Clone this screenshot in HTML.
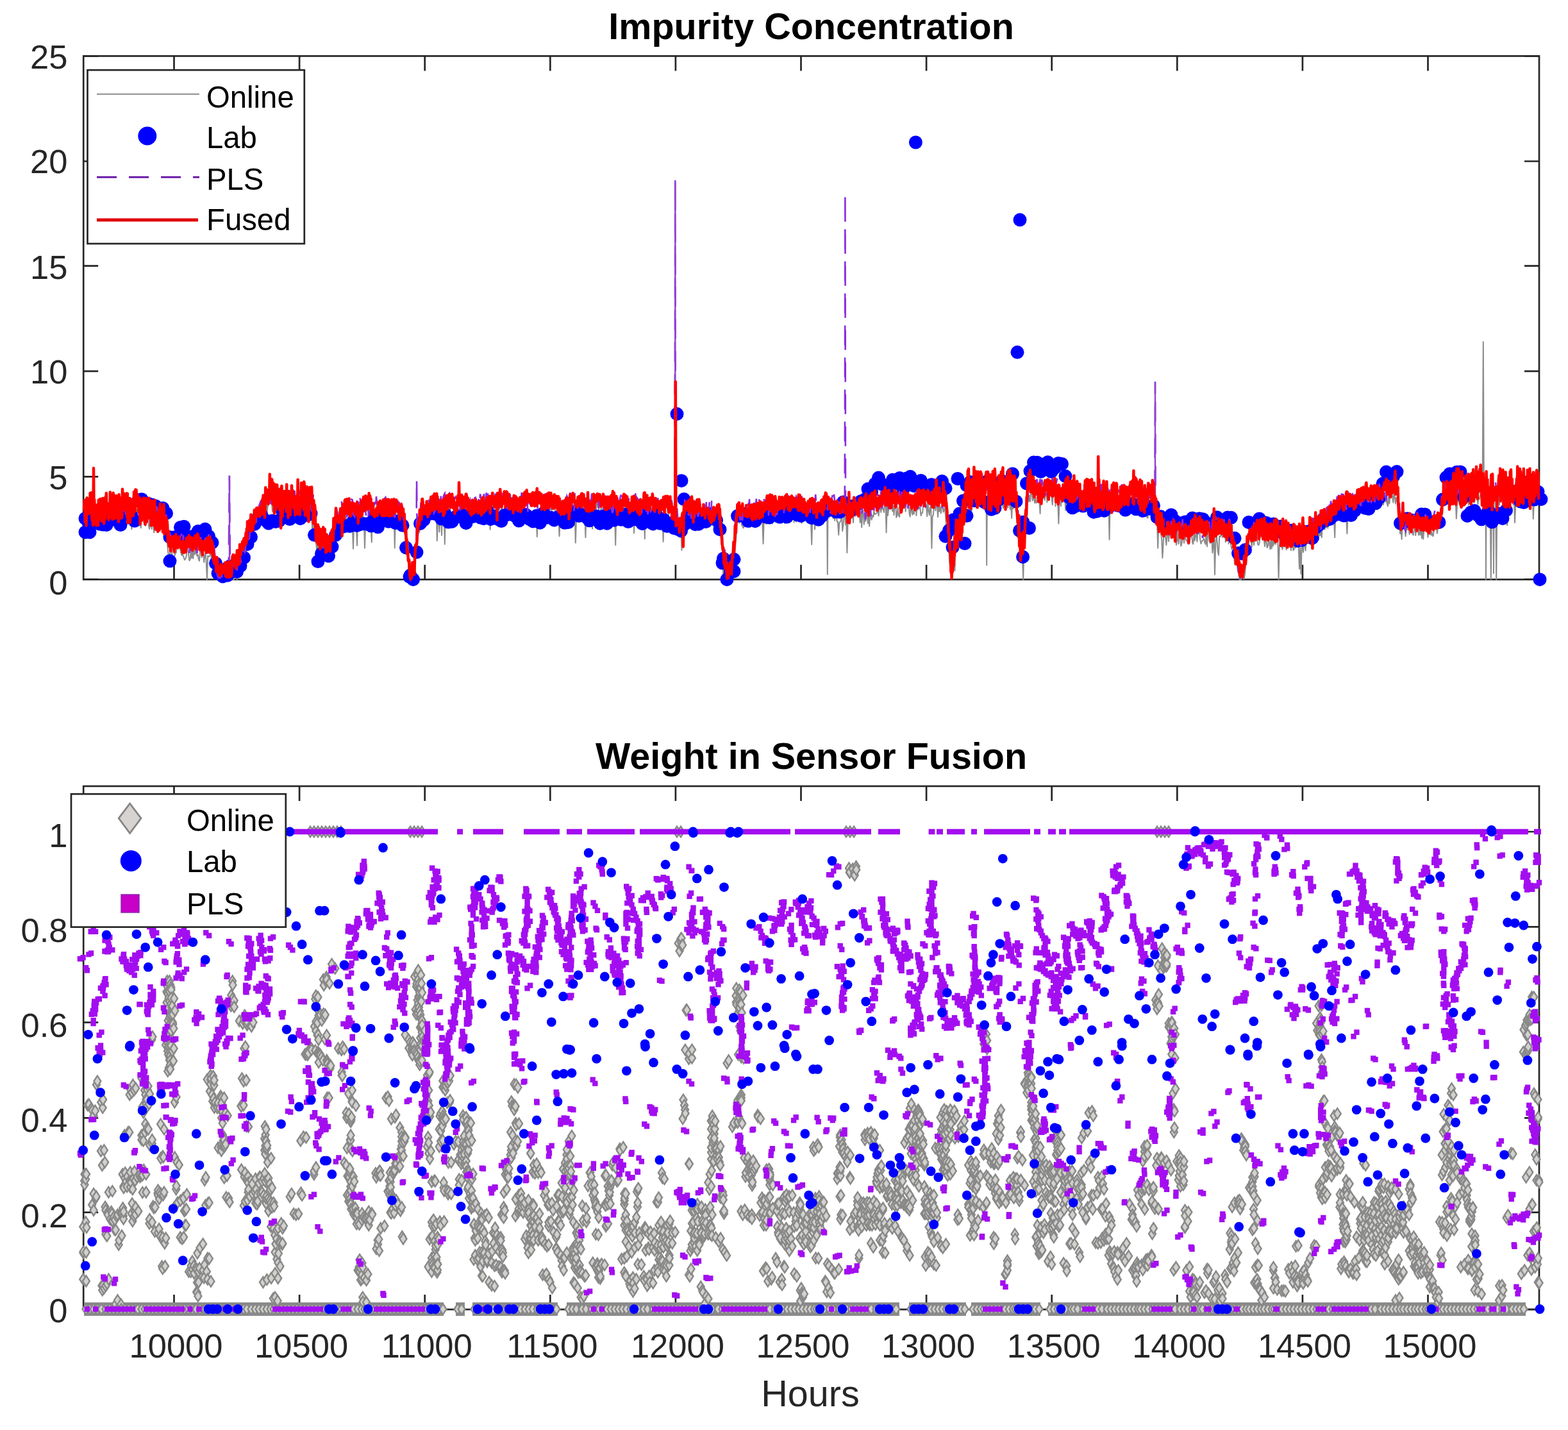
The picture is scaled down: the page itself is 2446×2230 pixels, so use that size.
<!DOCTYPE html>
<html><head><meta charset="utf-8"><title>Impurity Concentration</title>
<style>html,body{margin:0;padding:0;background:#fff;width:2446px;height:2230px;overflow:hidden}</style></head>
<body>
<svg width="2446" height="2230" viewBox="0 0 2446 2230" style="display:block;font-family:'Liberation Sans',Arial,Helvetica,sans-serif">
<rect width="2446" height="2230" fill="#fff"/>
<path d="M271.5 903.7v-23M271.5 87.4v23M467.1 903.7v-23M467.1 87.4v23M662.7 903.7v-23M662.7 87.4v23M858.3 903.7v-23M858.3 87.4v23M1053.9 903.7v-23M1053.9 87.4v23M1249.5 903.7v-23M1249.5 87.4v23M1445.1 903.7v-23M1445.1 87.4v23M1640.7 903.7v-23M1640.7 87.4v23M1836.3 903.7v-23M1836.3 87.4v23M2031.9 903.7v-23M2031.9 87.4v23M2227.5 903.7v-23M2227.5 87.4v23M130.2 903.7h23M2401.0 903.7h-23M130.2 743.3h23M2401.0 743.3h-23M130.2 578.9h23M2401.0 578.9h-23M130.2 414.6h23M2401.0 414.6h-23M130.2 251.5h23M2401.0 251.5h-23M130.2 87.4h23M2401.0 87.4h-23" stroke="#262626" stroke-width="2.7" fill="none"/>
<rect x="130.2" y="87.4" width="2270.8" height="816.3" fill="none" stroke="#262626" stroke-width="2.7"/>
<defs><clipPath id="ct"><rect x="100" y="87.4" width="2346" height="840"/></clipPath></defs>
<g clip-path="url(#ct)">
<polyline points="131.0,817.8 132.2,818.4 133.4,814.8 134.6,808.1 135.8,830.1 137.0,801.9 138.2,806.2 139.4,815.7 140.6,817.1 141.8,814.6 143.0,810.2 144.2,801.2 145.4,810.4 146.0,812.8 146.6,822.2 147.8,811.0 149.0,793.0 150.2,811.2 151.4,815.3 152.6,805.6 153.8,814.6 155.0,799.1 156.2,817.8 157.4,795.7 158.6,791.1 159.8,793.8 161.0,800.9 162.2,808.7 163.4,816.2 164.6,809.9 165.8,796.0 167.0,814.8 168.2,813.2 169.4,793.0 170.6,806.5 171.8,801.4 173.0,817.7 174.2,800.9 175.4,790.5 176.6,789.3 177.8,811.7 179.0,798.8 180.2,803.4 181.4,791.5 182.6,807.0 183.8,816.9 185.0,807.4 186.2,793.7 187.4,814.1 188.6,817.3 189.8,824.6 191.0,806.3 192.2,807.5 193.4,798.6 194.6,793.9 195.8,813.5 197.0,795.1 198.2,795.8 199.4,797.7 200.6,795.1 201.8,796.9 203.0,813.5 204.2,806.2 205.4,825.3 206.6,791.6 207.8,800.3 209.0,795.3 210.2,817.4 211.4,820.7 212.6,815.5 213.8,794.5 215.0,808.9 216.2,813.9 217.4,802.9 218.6,815.4 219.8,823.2 221.0,798.7 222.2,802.1 223.4,802.7 224.6,814.7 225.8,813.6 227.0,819.9 228.2,817.0 229.4,806.0 230.6,804.7 231.8,819.0 233.0,824.9 234.2,815.5 235.4,811.0 236.6,824.9 237.8,804.7 239.0,818.1 240.2,830.5 241.4,816.4 242.6,827.3 243.8,806.1 245.0,828.9 246.2,810.8 247.4,811.2 248.6,825.0 249.8,817.8 251.0,820.3 252.2,812.3 253.4,827.9 254.6,830.4 255.8,817.2 257.0,826.3 258.2,830.4 259.4,833.3 260.6,838.5 261.8,857.5 263.0,867.4 264.2,873.0 265.4,855.4 266.6,846.6 267.8,868.1 269.0,856.3 270.2,857.7 271.4,847.6 272.6,866.2 273.8,862.3 275.0,861.5 276.2,848.9 277.4,851.7 278.6,854.0 279.8,849.4 281.0,857.0 282.2,861.4 283.4,866.0 284.6,863.5 285.8,867.0 287.0,870.3 288.2,873.2 289.4,871.0 290.6,867.9 291.8,852.4 293.0,852.9 294.2,866.2 295.4,874.2 296.6,872.4 297.8,857.3 299.0,870.3 300.2,861.0 301.4,870.9 302.6,851.7 303.8,864.6 305.0,856.5 306.2,862.9 307.4,866.8 308.6,864.8 309.8,871.7 311.0,874.8 312.2,858.0 313.4,849.0 314.6,869.3 315.8,858.7 317.0,856.8 318.2,876.8 319.4,865.9 320.6,862.3 321.8,877.4 323.0,903.6 324.2,866.8 325.4,868.1 326.6,867.4 327.8,865.4 329.0,860.5 330.2,878.8 331.4,878.6 332.6,888.2 333.8,876.5 335.0,888.8 336.2,900.9 337.4,892.7 338.6,903.7 339.8,903.7 341.0,903.7 342.2,902.3 343.4,903.7 344.6,897.4 345.8,902.0 347.0,894.3 348.2,898.6 349.4,900.0 350.6,903.7 351.8,900.3 353.0,891.9 354.2,895.3 355.4,903.7 356.6,903.7 357.8,903.7 359.0,888.9 360.2,898.4 361.4,903.7 362.6,903.7 363.8,903.7 365.0,903.7 366.2,894.9 367.4,883.2 368.6,893.1 369.8,903.7 371.0,881.8 372.2,900.3 373.4,893.2 374.6,894.6 375.8,889.2 377.0,872.8 378.2,888.6 379.4,882.3 380.6,877.0 381.8,850.5 383.0,865.9 384.2,867.4 385.4,846.7 386.6,842.7 387.8,828.0 389.0,840.0 390.2,843.7 391.4,841.3 392.6,845.3 393.8,828.7 395.0,825.6 396.2,817.6 397.4,808.0 398.6,806.2 399.8,809.9 401.0,817.3 402.2,799.0 403.4,799.1 404.6,807.4 405.8,811.1 407.0,798.1 408.2,808.4 409.4,793.6 410.6,792.2 411.8,807.2 413.0,799.8 414.2,799.8 415.4,781.3 416.6,798.0 417.8,788.9 419.0,786.9 420.2,782.7 421.4,785.3 422.6,778.7 423.8,780.6 425.0,797.8 426.2,781.9 427.4,776.4 428.6,791.5 429.8,799.8 431.0,777.0 432.2,807.8 433.4,791.9 434.6,780.3 435.8,775.0 437.0,784.1 438.2,777.5 439.4,793.7 440.6,800.8 441.8,778.4 443.0,798.6 444.2,774.3 445.4,782.3 446.6,776.3 447.8,776.6 449.0,784.9 450.2,799.2 451.4,780.8 452.6,785.0 453.8,787.4 455.0,775.7 456.2,789.3 457.4,793.4 458.6,798.0 459.8,789.7 461.0,793.0 462.2,792.6 463.4,773.3 464.6,791.0 465.8,790.0 467.0,775.4 468.2,774.5 469.4,776.0 470.6,790.1 471.8,782.4 473.0,779.0 474.2,782.0 475.4,796.9 476.6,780.1 477.8,801.0 479.0,796.9 480.2,780.3 481.4,789.7 482.6,779.5 483.8,805.9 485.0,789.8 486.2,804.0 487.4,829.1 488.6,796.9 489.8,831.2 491.0,834.0 492.2,839.4 493.4,849.3 494.6,861.9 495.8,849.6 497.0,857.8 498.2,855.8 499.4,868.7 500.6,849.1 501.8,845.1 503.0,868.6 504.2,862.8 505.4,843.4 506.6,844.8 507.8,869.7 509.0,858.5 510.2,853.6 511.4,848.3 512.6,851.7 513.8,868.8 515.0,858.6 516.2,855.9 517.4,858.7 518.6,832.8 519.8,828.3 521.0,826.2 522.2,836.5 523.4,832.3 524.6,807.8 525.8,814.3 527.0,815.8 528.2,809.6 529.4,821.0 530.6,819.0 531.8,799.5 533.0,801.9 534.2,823.0 535.4,799.2 536.6,797.0 537.8,793.8 539.0,817.4 540.2,807.4 541.4,796.6 542.6,792.3 543.8,803.3 545.0,792.2 546.2,800.7 547.4,795.6 548.6,816.6 549.8,818.9 551.0,855.8 552.2,810.7 553.4,801.5 554.6,819.0 555.8,815.9 557.0,850.6 558.2,810.2 559.4,805.9 560.6,809.3 561.8,808.9 563.0,808.7 564.2,799.0 565.4,813.4 566.6,805.9 567.8,810.3 569.0,854.6 570.2,813.8 571.4,815.8 572.6,807.0 573.8,817.3 575.0,807.4 576.2,790.4 577.4,802.1 578.6,815.2 579.8,845.6 581.0,792.0 582.2,799.7 583.4,795.7 584.6,803.1 585.8,805.9 587.0,814.6 588.2,805.0 589.4,792.6 590.6,804.9 591.8,806.2 593.0,801.9 594.2,806.8 595.4,804.6 596.6,807.5 597.8,791.3 599.0,795.0 600.2,790.7 601.4,791.6 602.6,810.1 603.8,814.2 605.0,791.8 606.2,800.7 607.4,803.9 608.6,802.9 609.8,803.4 611.0,793.0 612.2,814.2 613.4,819.5 614.6,795.7 615.8,854.4 617.0,794.0 618.2,811.5 619.4,817.1 620.6,812.4 621.8,823.4 623.0,814.6 624.2,807.1 625.4,805.3 626.6,821.6 627.8,814.5 629.0,817.0 630.2,823.3 631.4,833.3 632.6,841.0 633.8,857.4 635.0,865.1 636.2,858.7 637.4,893.8 638.6,900.3 639.8,901.2 641.0,903.7 642.2,899.8 643.4,903.7 644.6,903.7 645.8,903.7 647.0,902.6 648.2,864.4 649.4,858.8 650.0,842.2 650.6,849.0 651.8,838.2 653.0,830.1 654.2,830.2 655.4,804.5 656.6,810.3 657.8,812.4 659.0,807.7 660.2,812.0 661.4,807.6 662.6,800.7 663.8,811.3 665.0,785.5 666.2,809.9 667.4,790.7 668.6,785.8 669.8,810.0 671.0,796.6 672.2,811.3 673.4,788.3 674.6,795.3 675.8,798.9 677.0,805.7 678.2,811.2 679.4,793.7 680.6,785.2 681.8,843.3 683.0,809.7 684.2,799.1 685.4,829.6 686.6,794.6 687.8,787.8 689.0,834.8 690.2,799.2 691.4,812.8 692.6,793.1 693.8,848.7 695.0,797.1 696.2,809.6 697.4,801.9 698.6,802.8 699.8,809.5 701.0,794.6 702.2,794.0 703.4,805.2 704.6,802.6 705.8,805.6 707.0,805.2 708.2,799.7 709.4,803.8 710.6,803.8 711.8,802.1 713.0,798.2 714.2,805.6 715.4,813.2 716.6,797.4 717.8,796.8 719.0,800.0 720.2,786.7 721.4,808.8 722.6,803.4 723.8,796.3 725.0,794.1 726.2,801.9 727.4,809.8 728.6,790.7 729.8,797.8 731.0,790.6 732.2,811.1 733.4,806.1 734.6,793.8 735.8,786.2 737.0,788.4 738.2,786.9 739.4,790.6 740.6,788.0 741.8,796.3 743.0,804.4 744.2,808.9 745.4,798.1 746.6,797.4 747.8,811.9 749.0,792.2 750.2,785.7 751.4,794.3 752.6,811.3 753.8,804.9 755.0,794.9 756.2,804.7 757.4,810.1 758.6,807.4 759.8,785.7 761.0,787.2 762.2,793.8 763.4,786.4 764.6,825.7 765.8,799.4 767.0,794.4 768.2,786.6 769.4,810.7 770.6,811.3 771.8,802.6 773.0,806.4 774.2,790.7 775.4,795.0 776.6,805.8 777.8,787.1 779.0,793.4 780.2,798.3 781.4,803.4 782.6,785.1 783.8,801.9 785.0,795.4 786.2,796.3 787.4,789.2 788.6,795.6 789.8,788.6 791.0,807.7 792.2,804.3 793.4,789.7 794.6,795.6 795.8,785.1 797.0,810.1 798.2,811.7 799.4,798.1 800.6,810.3 801.8,804.0 803.0,799.5 804.2,811.4 805.4,791.6 806.6,790.5 807.8,788.5 809.0,788.0 810.2,804.8 811.4,799.7 812.6,796.8 813.8,784.9 815.0,789.0 816.2,791.8 817.4,799.1 818.6,798.4 819.8,799.9 821.0,793.1 822.2,804.7 823.4,810.9 824.6,802.5 825.8,802.2 827.0,807.7 828.2,800.5 829.4,797.5 830.6,799.7 831.8,798.7 833.0,807.5 834.2,809.4 835.4,802.1 836.6,806.9 837.8,836.9 839.0,802.8 840.2,800.6 841.4,810.5 842.6,811.1 843.8,809.2 845.0,787.6 846.2,809.3 847.4,785.5 848.6,787.7 849.8,808.0 851.0,794.2 852.2,792.4 853.4,787.3 854.6,785.4 855.8,796.2 857.0,795.9 858.2,795.1 859.4,794.3 860.6,795.1 861.8,802.5 863.0,811.4 864.2,806.5 865.4,803.5 866.6,791.2 867.8,791.1 869.0,792.0 870.2,800.9 871.4,812.5 872.6,836.1 873.8,801.3 875.0,788.9 876.2,784.1 877.4,786.0 878.6,805.4 879.8,793.9 881.0,789.4 882.2,797.4 883.4,797.8 884.6,802.4 885.8,801.6 887.0,788.9 888.2,793.1 889.4,789.5 890.6,795.7 891.8,787.3 893.0,809.5 894.2,793.8 895.4,786.7 896.6,797.5 897.8,846.4 899.0,810.6 900.2,810.2 901.4,803.8 902.6,786.0 903.8,791.8 905.0,810.5 906.2,796.5 907.4,793.7 908.6,799.6 909.8,786.6 911.0,809.3 912.2,796.4 913.4,838.1 914.6,800.4 915.8,811.7 917.0,810.0 918.2,787.5 919.4,789.5 920.6,786.1 921.8,786.7 923.0,785.2 924.2,824.6 925.4,786.8 926.6,803.7 927.8,809.2 929.0,809.3 930.2,787.1 931.4,785.7 932.6,791.8 933.8,787.5 935.0,808.5 936.2,801.6 937.4,793.1 938.6,793.5 939.8,793.4 941.0,790.7 942.2,796.9 943.4,799.0 944.6,785.9 945.8,811.3 947.0,802.0 948.2,799.6 949.4,795.5 950.6,801.8 951.8,796.4 953.0,788.7 954.2,803.3 955.4,788.0 956.6,801.9 957.8,788.6 959.0,803.1 960.2,849.9 961.4,797.1 962.6,797.1 963.8,788.1 965.0,804.2 966.2,806.5 967.4,793.2 968.6,795.2 969.8,793.0 971.0,808.3 972.2,806.1 973.4,809.7 974.6,786.2 975.8,797.5 977.0,812.0 978.2,791.5 979.4,797.3 980.6,790.2 981.8,813.4 983.0,789.6 984.2,786.4 985.4,798.7 986.6,799.0 987.8,787.3 989.0,831.2 990.2,802.8 991.4,809.0 992.6,796.7 993.8,803.9 995.0,812.1 996.2,791.5 997.4,798.8 998.6,791.7 999.8,786.6 1001.0,805.3 1002.2,794.7 1003.4,797.1 1004.6,792.4 1005.8,840.2 1007.0,786.7 1008.2,811.4 1009.4,802.6 1010.6,800.4 1011.8,805.0 1013.0,790.8 1014.2,807.1 1015.4,805.0 1016.6,792.3 1017.8,821.3 1019.0,790.4 1020.2,810.5 1021.4,808.2 1022.6,797.4 1023.8,817.1 1025.0,798.4 1026.2,817.1 1027.4,799.3 1028.6,799.1 1029.8,808.4 1031.0,805.5 1032.2,799.7 1033.4,800.3 1034.6,844.8 1035.8,798.5 1037.0,799.8 1038.2,796.5 1039.4,817.4 1040.6,802.4 1041.8,803.2 1043.0,807.3 1044.2,793.5 1045.4,793.3 1046.6,800.4 1047.8,817.4 1049.0,798.3 1050.2,799.1 1051.4,797.3 1052.6,826.0 1053.2,803.1 1053.8,825.0 1055.0,822.1 1056.2,831.1 1057.4,811.3 1058.6,829.1 1059.8,833.7 1061.0,814.0 1062.2,822.0 1063.4,857.9 1064.6,808.3 1065.8,801.9 1067.0,811.7 1068.2,815.5 1069.4,797.7 1070.6,800.1 1071.8,820.9 1073.0,799.5 1074.2,807.2 1075.4,809.1 1076.6,819.8 1077.8,819.5 1079.0,800.2 1080.2,802.4 1081.4,796.9 1082.6,805.6 1083.8,796.3 1085.0,816.6 1086.2,800.1 1087.4,800.9 1088.6,806.0 1089.8,797.2 1091.0,816.4 1092.2,808.7 1093.4,803.3 1094.6,810.0 1095.8,796.6 1097.0,819.9 1098.2,817.7 1099.4,805.8 1100.6,823.3 1101.8,819.6 1103.0,806.0 1104.2,811.2 1105.4,795.9 1106.6,809.9 1107.8,812.3 1109.0,797.2 1110.2,796.4 1111.4,804.4 1112.6,804.4 1113.8,821.3 1115.0,822.7 1116.2,799.0 1117.4,796.6 1118.6,811.3 1119.8,817.6 1121.0,825.5 1122.2,824.2 1123.4,813.7 1124.6,837.9 1125.8,849.9 1127.0,859.9 1128.2,901.2 1129.4,889.9 1130.6,881.9 1131.8,903.7 1133.0,891.5 1134.2,901.3 1135.4,903.7 1136.6,903.7 1137.8,903.7 1139.0,903.7 1140.2,900.4 1141.4,893.3 1142.6,872.1 1143.8,887.5 1145.0,874.4 1146.2,863.8 1147.4,847.8 1148.6,835.2 1149.8,802.3 1151.0,813.1 1152.2,804.7 1153.4,815.8 1154.6,813.5 1155.8,799.0 1157.0,818.9 1158.2,820.0 1159.4,823.4 1160.6,821.6 1161.8,796.5 1163.0,819.1 1164.2,806.7 1165.4,815.3 1166.6,805.7 1167.8,806.0 1169.0,799.8 1170.2,822.1 1171.4,813.2 1172.6,818.0 1173.8,810.4 1175.0,804.1 1176.2,821.5 1177.4,800.2 1178.6,796.8 1179.8,801.7 1181.0,794.3 1182.2,808.6 1183.4,811.5 1184.6,804.9 1185.8,791.8 1187.0,798.7 1188.2,813.2 1189.4,816.4 1190.6,847.9 1191.8,807.6 1193.0,808.6 1194.2,806.4 1195.4,817.2 1196.6,796.3 1197.8,810.2 1199.0,793.2 1200.2,808.7 1201.4,816.5 1202.6,792.0 1203.8,790.3 1205.0,816.6 1206.2,809.2 1207.4,796.0 1208.6,807.7 1209.8,814.4 1211.0,802.5 1212.2,802.4 1213.4,793.3 1214.6,802.2 1215.8,813.9 1217.0,809.9 1218.2,800.8 1219.4,790.5 1220.6,788.6 1221.8,794.2 1223.0,795.6 1224.2,816.1 1225.4,815.4 1226.6,810.4 1227.8,811.4 1229.0,794.4 1230.2,792.4 1231.4,797.3 1232.6,790.1 1233.8,791.4 1235.0,791.8 1236.2,796.4 1237.4,794.0 1238.6,814.4 1239.8,799.8 1241.0,793.6 1242.2,813.6 1243.4,792.0 1244.6,790.8 1245.8,794.2 1247.0,805.2 1248.2,807.4 1249.4,801.8 1250.6,815.9 1251.8,810.8 1253.0,808.9 1254.2,791.2 1255.4,797.5 1256.6,797.1 1257.8,794.4 1259.0,804.1 1260.2,790.1 1261.4,801.5 1262.6,806.3 1263.8,815.0 1265.0,811.2 1266.2,849.1 1267.4,804.5 1268.6,792.9 1269.8,796.1 1271.0,825.4 1272.2,810.1 1273.4,793.1 1274.6,811.1 1275.8,788.0 1277.0,811.8 1278.2,800.3 1279.4,798.3 1280.6,815.4 1281.8,798.4 1283.0,809.4 1284.2,808.0 1285.4,813.4 1286.6,788.4 1287.8,808.4 1289.0,803.1 1290.2,811.6 1290.8,895.7 1291.4,809.5 1292.6,794.9 1293.8,806.8 1295.0,797.8 1296.2,804.3 1297.4,800.9 1298.6,805.5 1299.8,808.5 1301.0,797.1 1302.2,811.8 1303.4,791.2 1304.6,800.1 1305.8,813.7 1307.0,813.9 1308.2,834.2 1309.4,814.9 1310.6,814.0 1311.8,811.8 1313.0,799.6 1314.2,828.1 1315.4,818.9 1316.6,805.6 1317.8,803.0 1318.4,807.1 1319.0,818.5 1320.2,806.2 1321.4,862.0 1322.6,812.3 1323.8,794.0 1325.0,812.5 1326.2,792.5 1327.4,808.7 1328.6,807.8 1329.8,793.2 1331.0,815.0 1332.2,794.2 1333.4,803.1 1334.6,804.9 1335.8,796.0 1337.0,797.1 1338.2,802.4 1339.4,799.7 1340.6,802.5 1341.8,814.7 1343.0,797.7 1344.2,822.5 1345.4,797.7 1346.6,795.6 1347.8,817.7 1349.0,802.5 1350.2,812.7 1351.4,797.4 1352.6,798.3 1353.8,816.2 1355.0,804.6 1356.2,820.6 1357.4,797.4 1358.6,807.5 1359.8,810.6 1361.0,803.8 1362.2,806.3 1363.4,796.7 1364.6,802.2 1365.8,801.3 1367.0,800.5 1368.2,799.6 1369.4,794.6 1370.6,804.3 1371.8,791.4 1373.0,781.9 1374.2,798.8 1375.4,789.2 1376.6,793.8 1377.8,794.0 1379.0,799.1 1380.2,781.1 1381.4,779.9 1382.6,830.5 1383.8,785.9 1385.0,804.0 1386.2,793.6 1387.4,793.4 1388.6,778.7 1389.8,786.6 1391.0,779.3 1392.2,797.3 1393.4,788.5 1394.6,803.3 1395.8,781.4 1397.0,779.9 1398.2,806.9 1399.4,804.2 1400.6,791.2 1401.8,803.6 1403.0,806.1 1404.2,795.0 1405.4,792.7 1406.6,795.1 1407.8,780.5 1409.0,789.2 1410.2,785.0 1411.4,778.8 1412.6,797.6 1413.8,782.7 1415.0,780.7 1416.2,780.2 1417.4,784.8 1418.6,800.9 1419.8,805.7 1421.0,783.0 1422.2,797.7 1423.4,802.8 1424.6,794.2 1425.8,801.5 1427.0,782.0 1428.2,780.5 1429.4,803.9 1430.6,787.3 1431.8,795.0 1433.0,783.9 1434.2,793.2 1435.4,791.9 1436.6,804.1 1437.8,800.2 1439.0,800.0 1440.2,788.0 1441.4,782.7 1442.6,780.2 1443.8,786.4 1445.0,787.1 1446.2,805.1 1447.4,782.7 1448.6,795.9 1449.8,803.4 1451.0,791.5 1452.2,787.0 1453.4,855.0 1454.6,805.1 1455.8,803.6 1457.0,788.5 1458.2,781.1 1459.4,796.2 1460.6,784.8 1461.8,787.5 1463.0,806.2 1464.2,788.4 1465.4,797.4 1466.6,790.4 1467.8,800.4 1469.0,786.9 1470.2,782.8 1471.4,798.6 1472.6,796.5 1473.8,791.1 1475.0,803.9 1476.2,821.7 1477.4,822.9 1478.6,836.2 1479.8,842.6 1481.0,875.2 1482.2,883.6 1483.4,888.7 1484.6,887.8 1485.8,897.2 1487.0,871.3 1488.2,856.8 1489.4,890.0 1490.6,857.1 1491.8,843.0 1493.0,840.8 1494.2,838.3 1495.4,827.6 1496.6,829.4 1497.8,832.2 1499.0,822.2 1500.2,816.6 1501.4,827.3 1502.6,811.1 1503.8,794.5 1505.0,807.8 1506.2,804.7 1507.4,786.0 1508.6,790.3 1509.8,778.1 1511.0,767.3 1512.2,787.9 1513.4,813.6 1514.6,767.9 1515.8,796.4 1517.0,766.3 1518.2,786.2 1519.4,790.5 1520.6,778.5 1521.8,786.1 1523.0,792.3 1524.2,790.2 1525.4,774.2 1526.6,790.0 1527.8,773.6 1529.0,777.0 1530.2,778.3 1531.4,768.5 1532.6,790.4 1533.8,786.1 1535.0,782.4 1536.2,794.3 1537.4,781.3 1538.6,781.7 1539.2,881.2 1539.8,793.1 1541.0,777.1 1542.2,772.7 1543.4,791.1 1544.6,770.7 1545.8,783.2 1547.0,777.7 1548.2,783.6 1549.4,793.8 1550.6,785.7 1551.8,789.9 1553.0,769.8 1554.2,767.0 1555.4,794.2 1556.6,779.8 1557.8,775.7 1559.0,765.9 1560.2,769.3 1561.4,771.0 1562.6,786.8 1563.8,786.1 1565.0,792.3 1566.2,780.2 1567.4,771.7 1568.6,779.0 1569.8,788.7 1571.0,775.0 1572.2,791.8 1573.4,773.0 1574.6,783.4 1575.8,794.1 1577.0,786.8 1578.2,808.2 1579.4,776.8 1580.6,793.2 1581.8,776.6 1583.0,775.0 1584.2,775.4 1585.4,789.9 1586.6,813.0 1587.8,805.7 1589.0,824.2 1590.2,849.6 1591.4,870.0 1592.6,876.8 1593.8,862.9 1595.0,869.9 1596.2,903.7 1597.4,848.8 1598.6,849.7 1599.8,822.1 1601.0,805.1 1602.2,808.9 1603.4,770.1 1604.6,782.5 1605.8,772.4 1607.0,782.1 1608.2,764.9 1609.4,764.1 1610.6,780.7 1611.8,765.3 1613.0,778.7 1614.2,784.4 1615.4,775.9 1616.6,784.4 1617.8,781.2 1619.0,780.7 1620.2,768.8 1621.4,782.6 1622.6,800.9 1623.8,764.7 1625.0,761.0 1626.2,768.9 1627.4,777.2 1628.6,771.6 1629.8,780.1 1631.0,769.2 1632.2,766.3 1633.4,783.3 1634.6,760.4 1635.8,763.0 1637.0,760.3 1638.2,765.7 1639.4,774.1 1640.6,774.8 1641.8,787.3 1643.0,770.6 1644.2,772.6 1645.4,765.5 1646.6,789.4 1647.8,761.3 1649.0,762.4 1650.2,781.9 1651.4,816.5 1652.6,780.7 1653.8,770.4 1655.0,788.9 1656.2,769.4 1657.4,783.5 1658.6,762.9 1659.8,772.2 1661.0,773.2 1662.2,795.7 1663.4,789.7 1664.6,769.6 1665.8,792.0 1667.0,771.0 1668.2,786.1 1669.4,780.6 1670.6,775.5 1671.8,770.9 1673.0,782.0 1674.2,768.9 1675.4,785.9 1676.6,785.4 1677.8,773.6 1679.0,782.8 1680.2,781.0 1681.4,796.0 1682.6,773.1 1683.8,790.5 1685.0,795.9 1686.2,772.4 1687.4,790.8 1688.6,792.7 1689.8,776.6 1691.0,770.9 1692.2,788.7 1693.4,788.6 1694.6,791.7 1695.8,793.6 1697.0,775.3 1698.2,781.9 1699.4,778.9 1700.6,787.6 1701.8,791.0 1703.0,789.9 1704.2,792.6 1705.4,788.0 1706.6,787.7 1707.8,777.3 1709.0,786.2 1710.2,792.7 1711.4,787.7 1712.6,770.4 1713.8,795.5 1715.0,797.4 1716.2,777.6 1717.4,796.8 1718.6,780.2 1719.8,781.0 1721.0,784.7 1722.2,785.5 1723.4,774.1 1724.6,793.1 1725.8,789.1 1727.0,793.4 1728.2,786.1 1729.4,785.0 1730.6,841.6 1731.8,774.8 1733.0,770.8 1734.2,784.7 1735.4,782.5 1736.6,770.8 1737.8,773.3 1739.0,771.9 1740.2,781.7 1741.4,787.6 1742.6,797.2 1743.8,785.0 1745.0,794.4 1746.2,783.0 1747.4,798.6 1748.6,776.0 1749.8,777.8 1751.0,773.9 1752.2,788.3 1753.4,790.1 1754.6,787.4 1755.8,786.4 1757.0,789.7 1758.2,784.3 1759.4,785.3 1760.6,778.4 1761.8,788.0 1763.0,796.6 1764.2,796.8 1765.4,797.8 1766.6,795.9 1767.8,788.5 1769.0,781.2 1770.2,772.9 1771.4,791.1 1772.6,782.3 1773.8,798.4 1775.0,800.2 1776.2,773.2 1777.4,790.7 1778.6,798.4 1779.8,774.0 1781.0,800.5 1782.2,788.8 1783.4,781.6 1784.6,790.8 1785.8,779.5 1787.0,795.3 1788.2,782.4 1789.4,807.4 1790.6,807.4 1791.8,782.0 1793.0,772.4 1794.2,775.4 1795.4,782.5 1796.6,775.6 1797.8,772.4 1799.0,788.7 1800.2,791.2 1801.4,791.9 1802.0,797.1 1802.6,816.5 1803.8,808.3 1805.0,812.8 1806.2,854.7 1807.4,816.0 1808.6,817.0 1809.8,818.2 1811.0,831.3 1812.2,840.9 1813.4,870.0 1814.6,847.9 1815.8,824.3 1817.0,823.9 1818.2,839.0 1819.4,850.0 1820.6,832.5 1821.8,826.6 1823.0,844.2 1824.2,831.3 1825.4,828.4 1826.6,828.0 1827.8,826.2 1829.0,831.1 1830.2,827.6 1831.4,827.1 1832.6,837.5 1833.8,834.7 1835.0,849.8 1836.2,842.3 1837.4,827.2 1838.6,848.2 1839.8,831.3 1841.0,832.4 1842.2,851.6 1843.4,847.7 1844.6,839.3 1845.8,826.1 1847.0,846.8 1848.2,833.9 1849.4,839.3 1850.6,842.9 1851.8,844.4 1853.0,842.5 1854.2,833.7 1855.4,846.5 1856.6,838.0 1857.8,832.7 1859.0,833.7 1860.2,846.5 1861.4,848.5 1862.6,830.8 1863.8,843.0 1865.0,834.2 1866.2,831.4 1867.4,844.6 1868.6,827.6 1869.8,831.9 1871.0,823.6 1872.2,841.0 1873.4,847.8 1874.6,844.5 1875.8,843.2 1877.0,842.0 1878.2,839.7 1879.4,846.4 1880.6,848.9 1881.8,825.8 1883.0,852.2 1884.2,829.4 1885.4,834.1 1886.6,843.8 1887.8,847.0 1889.0,824.8 1890.2,834.8 1891.4,862.0 1892.6,851.2 1893.8,830.9 1895.0,896.3 1896.2,848.3 1897.4,829.8 1898.6,843.6 1899.8,860.6 1901.0,865.7 1902.2,836.0 1903.4,837.1 1904.6,835.4 1905.8,823.9 1907.0,838.0 1908.2,832.8 1909.4,833.7 1910.6,823.8 1911.8,845.5 1913.0,825.8 1914.2,835.5 1915.4,825.0 1916.6,847.9 1917.8,823.6 1919.0,835.0 1920.2,849.0 1921.4,856.7 1922.6,853.3 1923.8,847.0 1925.0,866.4 1926.2,880.5 1927.4,877.8 1928.6,875.7 1929.8,881.7 1931.0,891.2 1932.2,890.6 1933.4,903.7 1934.6,903.7 1935.8,903.7 1937.0,899.6 1938.2,898.3 1939.4,891.8 1940.6,902.6 1941.8,896.4 1943.0,884.7 1944.2,872.1 1945.4,867.6 1946.6,858.8 1947.8,848.5 1949.0,827.4 1950.2,830.7 1951.4,841.9 1952.6,853.3 1953.8,844.4 1955.0,828.7 1956.2,850.1 1957.4,834.9 1958.6,829.1 1959.8,828.1 1961.0,838.7 1962.2,848.8 1963.4,850.2 1964.6,847.0 1965.8,831.0 1967.0,829.3 1968.2,838.0 1969.4,842.0 1970.6,833.6 1971.8,841.7 1973.0,852.1 1974.2,841.8 1975.4,841.3 1976.6,854.1 1977.8,852.1 1979.0,844.2 1980.2,846.1 1981.4,856.4 1982.6,836.9 1983.8,855.5 1985.0,841.9 1986.2,851.1 1987.4,836.1 1988.6,848.0 1989.8,848.7 1991.0,833.2 1992.2,832.0 1993.4,844.2 1994.6,903.7 1995.8,851.3 1997.0,844.3 1998.2,848.3 1999.4,851.4 2000.6,856.7 2001.8,849.0 2003.0,843.2 2004.2,852.8 2005.4,846.3 2006.6,857.3 2007.8,844.1 2009.0,853.9 2010.2,841.2 2011.4,837.9 2012.6,837.1 2013.8,858.2 2015.0,836.0 2016.2,843.4 2017.4,858.3 2018.6,856.8 2019.8,846.5 2021.0,854.4 2022.2,852.8 2023.4,846.9 2024.6,844.3 2025.8,856.3 2027.0,887.0 2028.2,854.4 2029.4,894.8 2030.6,856.0 2031.8,846.7 2033.0,861.1 2034.2,841.7 2035.4,847.2 2036.6,858.7 2037.8,839.0 2039.0,847.2 2040.2,836.2 2041.4,831.1 2042.6,845.4 2043.8,845.3 2045.0,849.2 2046.2,836.9 2047.4,828.3 2048.6,825.1 2049.8,834.1 2051.0,843.9 2052.2,822.4 2053.4,824.8 2054.6,840.0 2055.8,832.6 2057.0,841.5 2058.2,823.4 2059.4,835.2 2060.6,820.3 2061.8,838.1 2063.0,817.8 2064.2,824.2 2065.4,821.1 2066.6,825.7 2067.8,810.1 2069.0,822.8 2070.2,808.5 2071.4,823.4 2072.6,808.6 2073.8,806.7 2075.0,799.3 2076.2,816.2 2077.4,810.7 2078.6,797.7 2079.8,809.9 2081.0,809.5 2082.2,838.1 2083.4,796.8 2084.6,806.9 2085.8,810.8 2087.0,811.1 2088.2,788.3 2089.4,804.7 2090.6,810.3 2091.8,811.9 2093.0,796.3 2094.2,785.6 2095.4,797.6 2096.6,811.0 2097.8,796.1 2099.0,791.3 2100.2,808.4 2101.4,832.3 2102.6,799.1 2103.8,807.9 2105.0,789.8 2106.2,801.3 2107.4,784.0 2108.6,800.2 2109.8,783.5 2111.0,794.5 2112.2,790.5 2113.4,786.0 2114.6,792.5 2115.8,780.5 2117.0,796.3 2118.2,780.2 2119.4,790.2 2120.6,775.1 2121.8,796.9 2123.0,788.6 2124.2,774.1 2125.4,800.5 2126.6,777.0 2127.8,792.7 2129.0,795.6 2130.2,794.9 2131.4,799.4 2132.6,786.2 2133.8,788.1 2135.0,794.4 2136.2,791.8 2137.4,794.5 2138.6,773.9 2139.8,777.3 2141.0,770.8 2142.2,781.9 2143.4,796.4 2144.6,774.6 2145.8,790.7 2147.0,789.1 2148.2,771.6 2149.4,787.8 2150.6,770.6 2151.8,788.3 2153.0,776.4 2154.2,785.5 2155.4,771.5 2156.6,786.7 2157.8,786.9 2159.0,782.1 2160.2,774.3 2161.4,782.4 2162.6,779.2 2163.8,785.6 2165.0,789.4 2166.2,763.8 2167.4,785.5 2168.6,767.8 2169.8,768.3 2171.0,767.9 2172.2,775.5 2173.4,783.7 2174.6,764.0 2175.8,775.1 2177.0,785.7 2178.2,776.0 2179.4,780.9 2180.6,789.5 2181.8,783.8 2183.0,816.4 2184.2,832.3 2185.4,822.4 2186.6,841.0 2187.8,815.8 2189.0,815.4 2190.2,817.1 2191.4,820.6 2192.6,836.2 2193.8,824.6 2195.0,826.1 2196.2,812.9 2197.4,823.5 2198.6,833.2 2199.8,812.5 2201.0,826.6 2202.2,823.2 2203.4,830.7 2204.6,834.6 2205.8,826.1 2207.0,814.6 2208.2,835.0 2209.4,824.3 2210.6,825.0 2211.8,827.2 2213.0,834.4 2214.2,813.3 2215.4,834.3 2216.6,816.3 2217.8,839.5 2219.0,824.0 2220.2,840.6 2221.4,825.5 2222.6,819.8 2223.8,823.9 2225.0,818.2 2226.2,821.4 2227.4,837.8 2228.6,825.8 2229.8,814.9 2231.0,821.6 2232.2,834.3 2233.4,829.1 2234.6,835.6 2235.8,836.0 2237.0,823.4 2238.2,824.9 2239.4,824.5 2240.6,816.6 2241.8,831.8 2243.0,824.1 2244.2,817.1 2245.4,822.1 2246.6,802.0 2247.8,811.3 2249.0,785.5 2250.2,802.2 2251.4,769.0 2252.6,771.9 2253.8,776.9 2255.0,781.6 2256.2,766.0 2257.4,776.1 2258.6,785.9 2259.8,770.6 2261.0,787.8 2262.2,779.3 2263.4,786.9 2264.6,770.1 2265.8,785.6 2267.0,786.9 2268.2,771.8 2269.4,771.2 2270.6,776.0 2271.8,808.8 2273.0,789.3 2274.2,764.0 2275.4,782.1 2276.6,785.7 2277.8,777.2 2279.0,787.8 2280.2,772.7 2281.4,766.9 2282.6,773.8 2283.8,772.2 2285.0,788.7 2286.2,780.5 2287.4,766.7 2288.6,774.8 2289.8,776.1 2291.0,787.3 2292.2,766.3 2293.4,783.4 2294.6,781.2 2295.8,789.4 2297.0,774.3 2298.2,773.9 2299.4,784.0 2300.6,781.0 2301.8,762.7 2303.0,772.3 2304.2,774.5 2305.4,786.2 2306.6,775.4 2307.8,778.4 2309.0,773.0 2310.2,765.6 2311.4,780.0 2312.6,767.3 2313.8,532.9 2315.0,787.6 2316.2,771.4 2317.4,770.5 2318.0,903.7 2318.6,778.5 2319.8,765.5 2321.0,771.7 2322.2,762.1 2323.4,775.3 2324.6,783.1 2325.8,903.7 2327.0,785.9 2328.2,774.0 2329.4,773.1 2330.0,894.1 2330.6,775.6 2331.8,770.3 2333.0,761.9 2334.2,903.7 2335.4,780.1 2336.6,762.1 2337.8,779.0 2339.0,787.6 2340.2,768.1 2341.4,766.8 2342.6,769.7 2343.8,786.3 2345.0,764.1 2346.2,761.3 2347.4,771.9 2348.6,788.0 2349.8,763.1 2351.0,819.2 2352.2,779.3 2353.4,766.7 2354.6,787.2 2355.8,788.8 2357.0,777.2 2358.2,774.1 2359.4,781.6 2360.6,787.0 2361.8,774.7 2363.0,814.9 2364.2,788.8 2365.4,772.5 2366.6,765.8 2367.8,764.2 2369.0,767.0 2370.2,786.4 2371.4,769.3 2372.6,776.2 2373.8,779.8 2375.0,772.8 2376.2,781.4 2377.4,767.4 2378.6,778.1 2379.8,787.1 2381.0,762.4 2382.2,774.4 2383.4,782.3 2384.6,762.2 2385.8,770.1 2387.0,784.4 2388.2,771.3 2389.4,783.8 2390.6,765.8 2391.8,809.1 2393.0,779.0 2394.2,775.3 2395.4,773.2 2396.6,768.4 2397.8,786.9 2399.0,767.9 2400.2,775.7" fill="none" stroke="#8c8c8c" stroke-width="2" stroke-linejoin="round"/>
<g fill="#0000ff"><circle cx="133.0" cy="808.5" r="10.5"/><circle cx="138.5" cy="816.3" r="10.5"/><circle cx="144.0" cy="805.1" r="10.5"/><circle cx="149.5" cy="804.8" r="10.5"/><circle cx="155.0" cy="816.9" r="10.5"/><circle cx="160.5" cy="818.1" r="10.5"/><circle cx="166.0" cy="818.6" r="10.5"/><circle cx="171.5" cy="809.9" r="10.5"/><circle cx="177.0" cy="810.3" r="10.5"/><circle cx="182.5" cy="809.1" r="10.5"/><circle cx="188.0" cy="818.5" r="10.5"/><circle cx="193.5" cy="798.8" r="10.5"/><circle cx="199.0" cy="801.8" r="10.5"/><circle cx="204.5" cy="803.7" r="10.5"/><circle cx="210.0" cy="812.3" r="10.5"/><circle cx="215.5" cy="780.9" r="10.5"/><circle cx="221.0" cy="778.7" r="10.5"/><circle cx="226.5" cy="786.1" r="10.5"/><circle cx="232.0" cy="785.8" r="10.5"/><circle cx="237.5" cy="787.3" r="10.5"/><circle cx="243.0" cy="789.3" r="10.5"/><circle cx="248.5" cy="794.3" r="10.5"/><circle cx="254.0" cy="792.4" r="10.5"/><circle cx="259.5" cy="800.4" r="10.5"/><circle cx="265.0" cy="837.7" r="10.5"/><circle cx="270.5" cy="838.0" r="10.5"/><circle cx="276.0" cy="840.1" r="10.5"/><circle cx="281.5" cy="822.5" r="10.5"/><circle cx="287.0" cy="821.2" r="10.5"/><circle cx="292.5" cy="837.9" r="10.5"/><circle cx="298.0" cy="836.9" r="10.5"/><circle cx="303.5" cy="836.0" r="10.5"/><circle cx="309.0" cy="828.6" r="10.5"/><circle cx="314.5" cy="832.1" r="10.5"/><circle cx="320.0" cy="825.3" r="10.5"/><circle cx="325.5" cy="836.2" r="10.5"/><circle cx="331.0" cy="846.1" r="10.5"/><circle cx="336.5" cy="878.4" r="10.5"/><circle cx="342.0" cy="894.9" r="10.5"/><circle cx="347.5" cy="898.9" r="10.5"/><circle cx="353.0" cy="887.1" r="10.5"/><circle cx="358.5" cy="883.1" r="10.5"/><circle cx="364.0" cy="887.5" r="10.5"/><circle cx="369.5" cy="891.5" r="10.5"/><circle cx="375.0" cy="882.6" r="10.5"/><circle cx="380.5" cy="869.7" r="10.5"/><circle cx="386.0" cy="848.7" r="10.5"/><circle cx="391.5" cy="837.5" r="10.5"/><circle cx="397.0" cy="817.4" r="10.5"/><circle cx="402.5" cy="807.7" r="10.5"/><circle cx="408.0" cy="803.3" r="10.5"/><circle cx="413.5" cy="811.1" r="10.5"/><circle cx="419.0" cy="816.1" r="10.5"/><circle cx="424.5" cy="812.2" r="10.5"/><circle cx="430.0" cy="813.4" r="10.5"/><circle cx="435.5" cy="812.0" r="10.5"/><circle cx="441.0" cy="797.9" r="10.5"/><circle cx="446.5" cy="801.6" r="10.5"/><circle cx="452.0" cy="809.5" r="10.5"/><circle cx="457.5" cy="799.4" r="10.5"/><circle cx="463.0" cy="794.8" r="10.5"/><circle cx="468.5" cy="808.7" r="10.5"/><circle cx="474.0" cy="801.7" r="10.5"/><circle cx="479.5" cy="803.3" r="10.5"/><circle cx="485.0" cy="800.7" r="10.5"/><circle cx="490.5" cy="834.3" r="10.5"/><circle cx="496.0" cy="875.6" r="10.5"/><circle cx="501.5" cy="863.5" r="10.5"/><circle cx="507.0" cy="861.0" r="10.5"/><circle cx="512.5" cy="867.0" r="10.5"/><circle cx="518.0" cy="852.6" r="10.5"/><circle cx="523.5" cy="834.6" r="10.5"/><circle cx="529.0" cy="823.5" r="10.5"/><circle cx="534.5" cy="821.5" r="10.5"/><circle cx="540.0" cy="820.0" r="10.5"/><circle cx="545.5" cy="820.5" r="10.5"/><circle cx="551.0" cy="812.8" r="10.5"/><circle cx="556.5" cy="819.6" r="10.5"/><circle cx="562.0" cy="817.7" r="10.5"/><circle cx="567.5" cy="816.8" r="10.5"/><circle cx="573.0" cy="817.1" r="10.5"/><circle cx="578.5" cy="819.9" r="10.5"/><circle cx="584.0" cy="806.0" r="10.5"/><circle cx="589.5" cy="821.8" r="10.5"/><circle cx="595.0" cy="809.8" r="10.5"/><circle cx="600.5" cy="802.5" r="10.5"/><circle cx="606.0" cy="813.3" r="10.5"/><circle cx="611.5" cy="811.8" r="10.5"/><circle cx="617.0" cy="815.7" r="10.5"/><circle cx="622.5" cy="812.4" r="10.5"/><circle cx="628.0" cy="819.3" r="10.5"/><circle cx="633.5" cy="854.1" r="10.5"/><circle cx="639.0" cy="899.6" r="10.5"/><circle cx="644.5" cy="903.7" r="10.5"/><circle cx="650.0" cy="861.1" r="10.5"/><circle cx="655.5" cy="816.4" r="10.5"/><circle cx="661.0" cy="810.9" r="10.5"/><circle cx="666.5" cy="797.5" r="10.5"/><circle cx="672.0" cy="800.4" r="10.5"/><circle cx="677.5" cy="800.9" r="10.5"/><circle cx="683.0" cy="796.1" r="10.5"/><circle cx="688.5" cy="809.0" r="10.5"/><circle cx="694.0" cy="801.4" r="10.5"/><circle cx="699.5" cy="814.0" r="10.5"/><circle cx="705.0" cy="813.4" r="10.5"/><circle cx="710.5" cy="806.3" r="10.5"/><circle cx="716.0" cy="805.7" r="10.5"/><circle cx="721.5" cy="802.9" r="10.5"/><circle cx="727.0" cy="815.7" r="10.5"/><circle cx="732.5" cy="806.3" r="10.5"/><circle cx="738.0" cy="805.4" r="10.5"/><circle cx="743.5" cy="796.1" r="10.5"/><circle cx="749.0" cy="806.9" r="10.5"/><circle cx="754.5" cy="808.7" r="10.5"/><circle cx="760.0" cy="796.5" r="10.5"/><circle cx="765.5" cy="809.4" r="10.5"/><circle cx="771.0" cy="804.8" r="10.5"/><circle cx="776.5" cy="809.4" r="10.5"/><circle cx="782.0" cy="812.6" r="10.5"/><circle cx="787.5" cy="803.4" r="10.5"/><circle cx="793.0" cy="802.2" r="10.5"/><circle cx="798.5" cy="801.5" r="10.5"/><circle cx="804.0" cy="805.0" r="10.5"/><circle cx="809.5" cy="812.0" r="10.5"/><circle cx="815.0" cy="806.0" r="10.5"/><circle cx="820.5" cy="802.8" r="10.5"/><circle cx="826.0" cy="809.7" r="10.5"/><circle cx="831.5" cy="812.9" r="10.5"/><circle cx="837.0" cy="804.3" r="10.5"/><circle cx="842.5" cy="815.2" r="10.5"/><circle cx="848.0" cy="800.1" r="10.5"/><circle cx="853.5" cy="807.0" r="10.5"/><circle cx="859.0" cy="807.2" r="10.5"/><circle cx="864.5" cy="810.9" r="10.5"/><circle cx="870.0" cy="806.4" r="10.5"/><circle cx="875.5" cy="803.8" r="10.5"/><circle cx="881.0" cy="815.3" r="10.5"/><circle cx="886.5" cy="814.6" r="10.5"/><circle cx="892.0" cy="799.3" r="10.5"/><circle cx="897.5" cy="798.0" r="10.5"/><circle cx="903.0" cy="804.6" r="10.5"/><circle cx="908.5" cy="802.9" r="10.5"/><circle cx="914.0" cy="806.0" r="10.5"/><circle cx="919.5" cy="811.8" r="10.5"/><circle cx="925.0" cy="805.9" r="10.5"/><circle cx="930.5" cy="804.9" r="10.5"/><circle cx="936.0" cy="816.2" r="10.5"/><circle cx="941.5" cy="805.1" r="10.5"/><circle cx="947.0" cy="816.2" r="10.5"/><circle cx="952.5" cy="800.6" r="10.5"/><circle cx="958.0" cy="811.2" r="10.5"/><circle cx="963.5" cy="804.9" r="10.5"/><circle cx="969.0" cy="810.3" r="10.5"/><circle cx="974.5" cy="802.7" r="10.5"/><circle cx="980.0" cy="813.5" r="10.5"/><circle cx="985.5" cy="796.3" r="10.5"/><circle cx="991.0" cy="809.8" r="10.5"/><circle cx="996.5" cy="806.7" r="10.5"/><circle cx="1002.0" cy="816.7" r="10.5"/><circle cx="1007.5" cy="802.6" r="10.5"/><circle cx="1013.0" cy="812.6" r="10.5"/><circle cx="1018.5" cy="816.9" r="10.5"/><circle cx="1024.0" cy="803.3" r="10.5"/><circle cx="1029.5" cy="816.2" r="10.5"/><circle cx="1035.0" cy="810.0" r="10.5"/><circle cx="1040.5" cy="820.5" r="10.5"/><circle cx="1046.0" cy="816.1" r="10.5"/><circle cx="1051.5" cy="823.7" r="10.5"/><circle cx="1057.0" cy="824.8" r="10.5"/><circle cx="1062.5" cy="827.9" r="10.5"/><circle cx="1068.0" cy="817.5" r="10.5"/><circle cx="1073.5" cy="803.0" r="10.5"/><circle cx="1079.0" cy="800.7" r="10.5"/><circle cx="1084.5" cy="817.7" r="10.5"/><circle cx="1090.0" cy="817.2" r="10.5"/><circle cx="1095.5" cy="804.5" r="10.5"/><circle cx="1101.0" cy="813.6" r="10.5"/><circle cx="1106.5" cy="801.3" r="10.5"/><circle cx="1112.0" cy="804.7" r="10.5"/><circle cx="1117.5" cy="811.2" r="10.5"/><circle cx="1123.0" cy="825.7" r="10.5"/><circle cx="1128.5" cy="870.9" r="10.5"/><circle cx="1134.0" cy="903.7" r="10.5"/><circle cx="1139.5" cy="892.7" r="10.5"/><circle cx="1145.0" cy="872.3" r="10.5"/><circle cx="1150.5" cy="804.6" r="10.5"/><circle cx="1156.0" cy="803.8" r="10.5"/><circle cx="1161.5" cy="801.5" r="10.5"/><circle cx="1167.0" cy="812.6" r="10.5"/><circle cx="1172.5" cy="803.7" r="10.5"/><circle cx="1178.0" cy="812.7" r="10.5"/><circle cx="1183.5" cy="800.0" r="10.5"/><circle cx="1189.0" cy="799.3" r="10.5"/><circle cx="1194.5" cy="806.1" r="10.5"/><circle cx="1200.0" cy="807.1" r="10.5"/><circle cx="1205.5" cy="801.7" r="10.5"/><circle cx="1211.0" cy="803.0" r="10.5"/><circle cx="1216.5" cy="806.3" r="10.5"/><circle cx="1222.0" cy="798.3" r="10.5"/><circle cx="1227.5" cy="806.1" r="10.5"/><circle cx="1233.0" cy="801.1" r="10.5"/><circle cx="1238.5" cy="794.2" r="10.5"/><circle cx="1244.0" cy="802.8" r="10.5"/><circle cx="1249.5" cy="804.4" r="10.5"/><circle cx="1255.0" cy="794.6" r="10.5"/><circle cx="1260.5" cy="797.2" r="10.5"/><circle cx="1266.0" cy="807.7" r="10.5"/><circle cx="1271.5" cy="801.6" r="10.5"/><circle cx="1277.0" cy="810.2" r="10.5"/><circle cx="1282.5" cy="804.3" r="10.5"/><circle cx="1288.0" cy="791.5" r="10.5"/><circle cx="1293.5" cy="795.5" r="10.5"/><circle cx="1299.0" cy="791.0" r="10.5"/><circle cx="1304.5" cy="798.0" r="10.5"/><circle cx="1310.0" cy="798.3" r="10.5"/><circle cx="1315.5" cy="783.0" r="10.5"/><circle cx="1321.0" cy="790.1" r="10.5"/><circle cx="1326.5" cy="796.6" r="10.5"/><circle cx="1332.0" cy="788.7" r="10.5"/><circle cx="1337.5" cy="786.7" r="10.5"/><circle cx="1343.0" cy="781.7" r="10.5"/><circle cx="1348.5" cy="779.3" r="10.5"/><circle cx="1354.0" cy="762.6" r="10.5"/><circle cx="1359.5" cy="766.9" r="10.5"/><circle cx="1365.0" cy="754.4" r="10.5"/><circle cx="1370.5" cy="745.1" r="10.5"/><circle cx="1376.0" cy="755.1" r="10.5"/><circle cx="1381.5" cy="758.4" r="10.5"/><circle cx="1387.0" cy="761.0" r="10.5"/><circle cx="1392.5" cy="748.2" r="10.5"/><circle cx="1398.0" cy="753.9" r="10.5"/><circle cx="1403.5" cy="745.4" r="10.5"/><circle cx="1409.0" cy="762.4" r="10.5"/><circle cx="1414.5" cy="746.0" r="10.5"/><circle cx="1420.0" cy="743.3" r="10.5"/><circle cx="1425.5" cy="757.7" r="10.5"/><circle cx="1431.0" cy="755.0" r="10.5"/><circle cx="1436.5" cy="749.5" r="10.5"/><circle cx="1442.0" cy="761.1" r="10.5"/><circle cx="1447.5" cy="762.5" r="10.5"/><circle cx="1453.0" cy="755.7" r="10.5"/><circle cx="1458.5" cy="761.4" r="10.5"/><circle cx="1464.0" cy="760.7" r="10.5"/><circle cx="1469.5" cy="750.6" r="10.5"/><circle cx="1475.0" cy="761.4" r="10.5"/><circle cx="1480.5" cy="827.2" r="10.5"/><circle cx="1486.0" cy="853.5" r="10.5"/><circle cx="1491.5" cy="812.4" r="10.5"/><circle cx="1497.0" cy="800.9" r="10.5"/><circle cx="1502.5" cy="781.0" r="10.5"/><circle cx="1508.0" cy="756.8" r="10.5"/><circle cx="1513.5" cy="751.7" r="10.5"/><circle cx="1519.0" cy="780.6" r="10.5"/><circle cx="1524.5" cy="779.1" r="10.5"/><circle cx="1530.0" cy="752.8" r="10.5"/><circle cx="1535.5" cy="782.8" r="10.5"/><circle cx="1541.0" cy="749.8" r="10.5"/><circle cx="1546.5" cy="794.3" r="10.5"/><circle cx="1552.0" cy="792.3" r="10.5"/><circle cx="1557.5" cy="779.7" r="10.5"/><circle cx="1563.0" cy="749.9" r="10.5"/><circle cx="1568.5" cy="753.8" r="10.5"/><circle cx="1574.0" cy="768.2" r="10.5"/><circle cx="1579.5" cy="739.0" r="10.5"/><circle cx="1585.0" cy="781.9" r="10.5"/><circle cx="1590.5" cy="827.5" r="10.5"/><circle cx="1596.0" cy="814.3" r="10.5"/><circle cx="1601.5" cy="753.9" r="10.5"/><circle cx="1607.0" cy="734.6" r="10.5"/><circle cx="1612.5" cy="721.1" r="10.5"/><circle cx="1618.0" cy="721.3" r="10.5"/><circle cx="1623.5" cy="735.5" r="10.5"/><circle cx="1629.0" cy="723.8" r="10.5"/><circle cx="1634.5" cy="720.8" r="10.5"/><circle cx="1640.0" cy="735.7" r="10.5"/><circle cx="1645.5" cy="729.7" r="10.5"/><circle cx="1651.0" cy="722.4" r="10.5"/><circle cx="1656.5" cy="723.4" r="10.5"/><circle cx="1662.0" cy="742.6" r="10.5"/><circle cx="1667.5" cy="775.6" r="10.5"/><circle cx="1673.0" cy="791.8" r="10.5"/><circle cx="1678.5" cy="788.8" r="10.5"/><circle cx="1684.0" cy="784.2" r="10.5"/><circle cx="1689.5" cy="789.1" r="10.5"/><circle cx="1695.0" cy="783.2" r="10.5"/><circle cx="1700.5" cy="783.8" r="10.5"/><circle cx="1706.0" cy="798.4" r="10.5"/><circle cx="1711.5" cy="797.3" r="10.5"/><circle cx="1717.0" cy="786.4" r="10.5"/><circle cx="1722.5" cy="796.4" r="10.5"/><circle cx="1728.0" cy="779.7" r="10.5"/><circle cx="1733.5" cy="788.3" r="10.5"/><circle cx="1739.0" cy="784.4" r="10.5"/><circle cx="1744.5" cy="788.5" r="10.5"/><circle cx="1750.0" cy="787.5" r="10.5"/><circle cx="1755.5" cy="795.3" r="10.5"/><circle cx="1761.0" cy="790.3" r="10.5"/><circle cx="1766.5" cy="785.6" r="10.5"/><circle cx="1772.0" cy="793.8" r="10.5"/><circle cx="1777.5" cy="791.5" r="10.5"/><circle cx="1783.0" cy="796.5" r="10.5"/><circle cx="1788.5" cy="789.1" r="10.5"/><circle cx="1794.0" cy="793.4" r="10.5"/><circle cx="1799.5" cy="788.4" r="10.5"/><circle cx="1805.0" cy="806.6" r="10.5"/><circle cx="1810.5" cy="805.5" r="10.5"/><circle cx="1816.0" cy="810.1" r="10.5"/><circle cx="1821.5" cy="818.8" r="10.5"/><circle cx="1827.0" cy="803.0" r="10.5"/><circle cx="1832.5" cy="812.1" r="10.5"/><circle cx="1838.0" cy="815.9" r="10.5"/><circle cx="1843.5" cy="815.7" r="10.5"/><circle cx="1849.0" cy="814.0" r="10.5"/><circle cx="1854.5" cy="813.4" r="10.5"/><circle cx="1860.0" cy="808.1" r="10.5"/><circle cx="1865.5" cy="816.9" r="10.5"/><circle cx="1871.0" cy="808.7" r="10.5"/><circle cx="1876.5" cy="809.7" r="10.5"/><circle cx="1882.0" cy="815.5" r="10.5"/><circle cx="1887.5" cy="818.0" r="10.5"/><circle cx="1893.0" cy="818.3" r="10.5"/><circle cx="1898.5" cy="806.8" r="10.5"/><circle cx="1904.0" cy="817.4" r="10.5"/><circle cx="1909.5" cy="810.9" r="10.5"/><circle cx="1915.0" cy="807.1" r="10.5"/><circle cx="1920.5" cy="807.3" r="10.5"/><circle cx="1926.0" cy="839.3" r="10.5"/><circle cx="1931.5" cy="862.8" r="10.5"/><circle cx="1937.0" cy="863.3" r="10.5"/><circle cx="1942.5" cy="857.5" r="10.5"/><circle cx="1948.0" cy="814.5" r="10.5"/><circle cx="1953.5" cy="816.9" r="10.5"/><circle cx="1959.0" cy="816.1" r="10.5"/><circle cx="1964.5" cy="808.9" r="10.5"/><circle cx="1970.0" cy="816.6" r="10.5"/><circle cx="1975.5" cy="815.6" r="10.5"/><circle cx="1981.0" cy="823.6" r="10.5"/><circle cx="1986.5" cy="817.3" r="10.5"/><circle cx="1992.0" cy="823.1" r="10.5"/><circle cx="1997.5" cy="820.9" r="10.5"/><circle cx="2003.0" cy="833.0" r="10.5"/><circle cx="2008.5" cy="828.8" r="10.5"/><circle cx="2014.0" cy="827.3" r="10.5"/><circle cx="2019.5" cy="831.3" r="10.5"/><circle cx="2025.0" cy="843.4" r="10.5"/><circle cx="2030.5" cy="842.3" r="10.5"/><circle cx="2036.0" cy="835.0" r="10.5"/><circle cx="2041.5" cy="828.7" r="10.5"/><circle cx="2047.0" cy="839.2" r="10.5"/><circle cx="2052.5" cy="822.9" r="10.5"/><circle cx="2058.0" cy="818.2" r="10.5"/><circle cx="2063.5" cy="810.2" r="10.5"/><circle cx="2069.0" cy="811.1" r="10.5"/><circle cx="2074.5" cy="809.4" r="10.5"/><circle cx="2080.0" cy="804.3" r="10.5"/><circle cx="2085.5" cy="792.5" r="10.5"/><circle cx="2091.0" cy="802.1" r="10.5"/><circle cx="2096.5" cy="804.0" r="10.5"/><circle cx="2102.0" cy="789.6" r="10.5"/><circle cx="2107.5" cy="803.5" r="10.5"/><circle cx="2113.0" cy="796.7" r="10.5"/><circle cx="2118.5" cy="787.9" r="10.5"/><circle cx="2124.0" cy="779.2" r="10.5"/><circle cx="2129.5" cy="792.3" r="10.5"/><circle cx="2135.0" cy="793.5" r="10.5"/><circle cx="2140.5" cy="772.7" r="10.5"/><circle cx="2146.0" cy="784.8" r="10.5"/><circle cx="2151.5" cy="776.3" r="10.5"/><circle cx="2157.0" cy="754.3" r="10.5"/><circle cx="2162.5" cy="736.1" r="10.5"/><circle cx="2168.0" cy="740.6" r="10.5"/><circle cx="2173.5" cy="743.3" r="10.5"/><circle cx="2179.0" cy="735.6" r="10.5"/><circle cx="2184.5" cy="816.0" r="10.5"/><circle cx="2190.0" cy="814.0" r="10.5"/><circle cx="2195.5" cy="808.8" r="10.5"/><circle cx="2201.0" cy="811.0" r="10.5"/><circle cx="2206.5" cy="811.5" r="10.5"/><circle cx="2212.0" cy="811.7" r="10.5"/><circle cx="2217.5" cy="802.1" r="10.5"/><circle cx="2223.0" cy="802.2" r="10.5"/><circle cx="2228.5" cy="813.0" r="10.5"/><circle cx="2234.0" cy="814.7" r="10.5"/><circle cx="2239.5" cy="814.5" r="10.5"/><circle cx="2245.0" cy="814.4" r="10.5"/><circle cx="2250.5" cy="779.1" r="10.5"/><circle cx="2256.0" cy="744.6" r="10.5"/><circle cx="2261.5" cy="738.9" r="10.5"/><circle cx="2267.0" cy="756.1" r="10.5"/><circle cx="2272.5" cy="736.2" r="10.5"/><circle cx="2278.0" cy="735.9" r="10.5"/><circle cx="2283.5" cy="775.2" r="10.5"/><circle cx="2289.0" cy="804.4" r="10.5"/><circle cx="2294.5" cy="798.9" r="10.5"/><circle cx="2300.0" cy="796.5" r="10.5"/><circle cx="2305.5" cy="803.5" r="10.5"/><circle cx="2311.0" cy="809.8" r="10.5"/><circle cx="2316.5" cy="806.3" r="10.5"/><circle cx="2322.0" cy="796.6" r="10.5"/><circle cx="2327.5" cy="814.0" r="10.5"/><circle cx="2333.0" cy="807.0" r="10.5"/><circle cx="2338.5" cy="801.0" r="10.5"/><circle cx="2344.0" cy="808.4" r="10.5"/><circle cx="2349.5" cy="795.9" r="10.5"/><circle cx="2355.0" cy="771.9" r="10.5"/><circle cx="2360.5" cy="766.6" r="10.5"/><circle cx="2366.0" cy="772.9" r="10.5"/><circle cx="2371.5" cy="781.9" r="10.5"/><circle cx="2377.0" cy="783.5" r="10.5"/><circle cx="2382.5" cy="768.5" r="10.5"/><circle cx="2388.0" cy="775.3" r="10.5"/><circle cx="2393.5" cy="779.1" r="10.5"/><circle cx="2399.0" cy="766.9" r="10.5"/><circle cx="1428.4" cy="222.0" r="10.5"/><circle cx="1591.0" cy="342.8" r="10.5"/><circle cx="1587.0" cy="549.3" r="10.5"/><circle cx="1056.0" cy="645.6" r="10.5"/><circle cx="1063.0" cy="749.7" r="10.5"/><circle cx="1067.0" cy="778.6" r="10.5"/><circle cx="1475.0" cy="836.3" r="10.5"/><circle cx="1487.0" cy="810.7" r="10.5"/><circle cx="1505.0" cy="847.6" r="10.5"/><circle cx="1508.0" cy="804.3" r="10.5"/><circle cx="1494.0" cy="746.5" r="10.5"/><circle cx="1595.6" cy="868.4" r="10.5"/><circle cx="1605.5" cy="823.5" r="10.5"/><circle cx="640.0" cy="897.3" r="10.5"/><circle cx="1127.0" cy="878.0" r="10.5"/><circle cx="1145.0" cy="890.9" r="10.5"/><circle cx="2402.0" cy="903.7" r="10.5"/><circle cx="2404.0" cy="778.6" r="10.5"/><circle cx="340.0" cy="894.1" r="10.5"/><circle cx="355.0" cy="897.3" r="10.5"/><circle cx="265.0" cy="874.8" r="10.5"/><circle cx="133.0" cy="829.9" r="10.5"/><circle cx="140.0" cy="829.9" r="10.5"/><circle cx="2173.0" cy="743.3" r="10.5"/></g>
<polyline points="131.0,791.9 132.2,810.1 133.4,790.3 134.6,796.7 135.8,786.1 137.0,790.6 138.2,785.9 139.4,792.3 140.6,801.0 141.8,802.0 143.0,803.2 144.2,797.8 145.4,798.6 146.0,785.4 146.6,797.5 147.8,799.3 149.0,783.1 150.2,782.0 151.4,782.3 152.6,797.8 153.8,792.0 155.0,779.3 156.2,783.4 157.4,797.4 158.6,797.4 159.8,799.1 161.0,799.1 162.2,781.6 163.4,795.7 164.6,776.7 165.8,793.7 167.0,798.3 168.2,787.7 169.4,776.3 170.6,801.3 171.8,791.5 173.0,773.4 174.2,774.2 175.4,789.6 176.6,777.2 177.8,791.7 179.0,791.6 180.2,777.6 181.4,796.4 182.6,799.0 183.8,776.8 185.0,776.2 186.2,792.2 187.4,792.5 188.6,786.6 189.8,787.3 191.0,776.5 192.2,789.7 193.4,797.2 194.6,786.1 195.8,801.0 197.0,802.8 198.2,802.8 199.4,790.7 200.6,794.6 201.8,778.6 203.0,794.3 204.2,794.7 205.4,799.6 206.6,792.9 207.8,784.6 209.0,786.5 210.2,786.8 211.4,785.2 212.6,786.7 213.8,777.2 215.0,804.5 216.2,796.1 217.4,806.0 218.6,779.1 219.8,794.2 221.0,811.1 222.2,806.6 223.4,796.6 224.6,794.1 225.8,806.6 227.0,791.1 228.2,799.6 229.4,784.9 230.6,811.2 231.8,789.1 233.0,798.2 234.2,816.8 235.4,797.7 236.6,794.9 237.8,813.4 239.0,806.5 240.2,816.6 241.4,811.1 242.6,813.2 243.8,790.2 245.0,790.6 246.2,803.5 247.4,820.6 248.6,799.9 249.8,795.9 251.0,810.0 252.2,806.6 253.4,817.8 254.6,817.0 255.8,791.2 257.0,805.6 258.2,820.9 259.4,802.3 260.6,835.1 261.8,823.2 263.0,854.6 264.2,835.1 265.4,832.6 266.6,834.9 267.8,843.2 269.0,848.0 270.2,839.6 271.4,835.6 272.6,855.9 273.8,835.4 275.0,835.3 276.2,830.7 277.4,831.0 278.6,849.2 279.8,837.5 281.0,837.7 282.2,835.2 283.4,832.5 284.6,855.7 285.8,834.3 287.0,843.8 288.2,862.5 289.4,842.0 290.6,846.7 291.8,855.8 293.0,860.3 294.2,856.6 295.4,862.5 296.6,846.5 297.8,863.5 299.0,843.8 300.2,837.0 301.4,861.8 302.6,846.9 303.8,834.7 305.0,850.7 306.2,844.6 307.4,862.9 308.6,848.3 309.8,842.2 311.0,860.5 312.2,848.6 313.4,837.7 314.6,851.7 315.8,849.2 317.0,845.3 318.2,836.8 319.4,841.0 320.6,839.4 321.8,839.6 323.0,863.9 324.2,844.0 325.4,833.3 326.6,842.3 327.8,850.5 329.0,835.9 330.2,840.3 331.4,870.6 332.6,875.3 333.8,850.3 335.0,863.3 336.2,873.8 337.4,879.9 338.6,895.1 339.8,899.3 341.0,902.0 342.2,882.8 343.4,903.7 344.6,887.9 345.8,900.3 347.0,889.9 348.2,891.1 349.4,891.7 350.6,900.3 351.8,891.6 353.0,884.6 354.2,876.6 355.4,901.5 356.6,894.0 357.8,741.7 359.0,878.4 360.2,878.4 361.4,882.3 362.6,882.3 363.8,870.0 365.0,881.2 366.2,879.3 367.4,874.7 368.6,872.1 369.8,889.7 371.0,862.0 372.2,871.6 373.4,856.3 374.6,865.0 375.8,877.8 377.0,858.4 378.2,854.9 379.4,853.7 380.6,857.0 381.8,860.3 383.0,855.0 384.2,841.7 385.4,834.0 386.6,845.3 387.8,842.2 389.0,839.9 390.2,826.2 391.4,825.3 392.6,810.5 393.8,801.1 395.0,805.9 396.2,806.9 397.4,813.8 398.6,810.3 399.8,815.2 401.0,785.3 402.2,784.1 403.4,788.2 404.6,787.6 405.8,784.3 407.0,780.4 408.2,805.4 409.4,782.0 410.6,791.2 411.8,782.5 413.0,780.6 414.2,778.5 415.4,785.6 416.6,772.9 417.8,767.3 419.0,767.7 420.2,780.2 421.4,785.4 422.6,768.3 423.8,786.7 425.0,759.6 426.2,761.6 427.4,766.3 428.6,767.0 429.8,781.4 431.0,786.1 432.2,778.4 433.4,779.9 434.6,764.1 435.8,778.5 437.0,767.5 438.2,790.0 439.4,790.1 440.6,777.3 441.8,776.8 443.0,773.9 444.2,777.4 445.4,776.3 446.6,788.7 447.8,784.9 449.0,780.3 450.2,764.2 451.4,781.0 452.6,761.6 453.8,780.3 455.0,771.0 456.2,781.8 457.4,765.7 458.6,774.6 459.8,765.2 461.0,781.5 462.2,782.5 463.4,779.6 464.6,783.0 465.8,776.6 467.0,764.3 468.2,771.0 469.4,770.9 470.6,759.8 471.8,784.3 473.0,764.6 474.2,789.3 475.4,773.3 476.6,776.8 477.8,771.0 479.0,778.5 480.2,764.5 481.4,772.0 482.6,775.4 483.8,791.8 485.0,794.2 486.2,779.1 487.4,796.6 488.6,771.2 489.8,810.8 491.0,819.6 492.2,815.6 493.4,825.9 494.6,844.0 495.8,849.0 497.0,834.0 498.2,844.1 499.4,830.8 500.6,828.5 501.8,849.9 503.0,834.1 504.2,855.5 505.4,831.1 506.6,828.9 507.8,851.1 509.0,830.2 510.2,854.5 511.4,834.4 512.6,848.1 513.8,851.2 515.0,844.6 516.2,827.8 517.4,841.2 518.6,832.0 519.8,810.9 521.0,817.0 522.2,824.3 523.4,797.3 524.6,792.0 525.8,797.2 527.0,800.8 528.2,808.1 529.4,803.3 530.6,787.9 531.8,813.2 533.0,781.8 534.2,803.3 535.4,791.2 536.6,795.6 537.8,787.8 539.0,797.6 540.2,778.2 541.4,806.5 542.6,779.3 543.8,794.5 545.0,776.9 546.2,795.3 547.4,788.1 548.6,778.8 549.8,779.5 551.0,800.2 552.2,804.4 553.4,805.9 554.6,785.0 555.8,789.8 557.0,780.3 558.2,798.9 559.4,782.2 560.6,804.3 561.8,776.5 563.0,799.7 564.2,791.3 565.4,803.6 566.6,775.2 567.8,799.4 569.0,785.2 570.2,797.8 571.4,805.1 572.6,785.2 573.8,790.7 575.0,804.7 576.2,781.8 577.4,784.5 578.6,783.1 579.8,785.3 581.0,796.0 582.2,790.4 583.4,788.2 584.6,782.5 585.8,796.2 587.0,774.2 588.2,787.5 589.4,799.9 590.6,797.0 591.8,782.8 593.0,780.0 594.2,794.6 595.4,782.2 596.6,773.5 597.8,773.1 599.0,803.3 600.2,776.9 601.4,775.5 602.6,780.4 603.8,791.4 605.0,785.7 606.2,782.9 607.4,802.3 608.6,779.5 609.8,795.2 611.0,789.8 612.2,804.9 613.4,800.6 614.6,801.3 615.8,807.4 617.0,789.6 618.2,786.7 619.4,797.7 620.6,780.5 621.8,785.9 623.0,784.7 624.2,799.7 625.4,791.0 626.6,786.9 627.8,790.1 629.0,810.5 630.2,802.7 631.4,800.2 632.6,822.0 633.8,847.9 635.0,860.3 636.2,843.1 637.4,868.6 638.6,866.4 639.8,887.2 641.0,886.4 642.2,882.7 643.4,899.6 644.6,895.1 645.8,890.4 647.0,874.8 648.2,858.8 649.4,861.0 650.0,746.5 650.6,821.8 651.8,811.5 653.0,802.9 654.2,801.4 655.4,803.8 656.6,783.2 657.8,796.7 659.0,777.5 660.2,792.1 661.4,790.2 662.6,797.5 663.8,789.3 665.0,793.1 666.2,792.8 667.4,792.8 668.6,779.1 669.8,786.4 671.0,792.9 672.2,784.0 673.4,783.0 674.6,787.5 675.8,783.7 677.0,799.9 678.2,797.6 679.4,777.2 680.6,777.8 681.8,789.9 683.0,794.7 684.2,780.9 685.4,778.0 686.6,799.1 687.8,773.6 689.0,800.0 690.2,784.9 691.4,775.2 692.6,771.8 693.8,769.7 695.0,787.9 696.2,785.7 697.4,794.2 698.6,776.3 699.8,770.5 701.0,769.2 702.2,777.0 703.4,783.5 704.6,784.3 705.8,775.9 707.0,787.3 708.2,781.5 709.4,777.8 710.6,775.0 711.8,776.8 713.0,778.7 714.2,787.8 715.4,786.9 716.6,771.7 717.8,796.3 719.0,780.5 720.2,789.8 721.4,786.0 722.6,778.8 723.8,790.8 725.0,783.6 726.2,795.7 727.4,773.7 728.6,775.0 729.8,790.6 731.0,798.3 732.2,782.9 733.4,779.2 734.6,784.6 735.8,796.3 737.0,777.5 738.2,786.7 739.4,791.9 740.6,776.4 741.8,775.9 743.0,780.8 744.2,786.6 745.4,798.3 746.6,778.2 747.8,794.0 749.0,770.3 750.2,775.2 751.4,794.3 752.6,798.0 753.8,777.3 755.0,770.1 756.2,786.6 757.4,791.8 758.6,768.5 759.8,771.8 761.0,771.0 762.2,790.5 763.4,778.5 764.6,789.3 765.8,786.6 767.0,772.2 768.2,773.9 769.4,768.4 770.6,789.7 771.8,773.8 773.0,769.7 774.2,798.0 775.4,791.6 776.6,795.6 777.8,793.1 779.0,769.1 780.2,787.9 781.4,773.2 782.6,770.2 783.8,774.4 785.0,772.7 786.2,783.9 787.4,789.8 788.6,779.2 789.8,775.7 791.0,795.8 792.2,783.6 793.4,792.9 794.6,791.3 795.8,770.6 797.0,792.4 798.2,775.5 799.4,779.3 800.6,775.2 801.8,784.6 803.0,780.0 804.2,784.9 805.4,775.5 806.6,796.9 807.8,797.5 809.0,777.7 810.2,778.2 811.4,777.7 812.6,780.0 813.8,767.9 815.0,794.0 816.2,780.8 817.4,769.0 818.6,793.6 819.8,792.5 821.0,790.3 822.2,777.6 823.4,798.1 824.6,781.5 825.8,787.8 827.0,774.6 828.2,772.5 829.4,791.4 830.6,794.4 831.8,795.2 833.0,786.2 834.2,768.8 835.4,773.2 836.6,793.9 837.8,773.4 839.0,798.2 840.2,791.1 841.4,785.3 842.6,779.9 843.8,771.3 845.0,787.7 846.2,799.0 847.4,798.1 848.6,770.2 849.8,798.3 851.0,769.2 852.2,788.0 853.4,772.6 854.6,796.0 855.8,787.7 857.0,794.8 858.2,771.2 859.4,793.8 860.6,795.4 861.8,774.8 863.0,781.1 864.2,791.0 865.4,789.2 866.6,789.7 867.8,786.6 869.0,791.6 870.2,798.6 871.4,793.0 872.6,794.4 873.8,768.2 875.0,795.4 876.2,783.0 877.4,799.1 878.6,799.5 879.8,785.4 881.0,791.8 882.2,773.7 883.4,793.2 884.6,773.8 885.8,776.1 887.0,790.0 888.2,785.9 889.4,768.2 890.6,775.2 891.8,770.9 893.0,770.6 894.2,772.2 895.4,796.9 896.6,768.8 897.8,783.1 899.0,786.2 900.2,790.3 901.4,791.8 902.6,776.2 903.8,793.2 905.0,788.0 906.2,786.6 907.4,781.8 908.6,772.2 909.8,773.8 911.0,787.5 912.2,794.9 913.4,778.1 914.6,795.0 915.8,797.9 917.0,772.6 918.2,778.6 919.4,779.1 920.6,784.1 921.8,787.2 923.0,769.5 924.2,792.5 925.4,786.6 926.6,772.6 927.8,787.9 929.0,790.8 930.2,777.5 931.4,768.5 932.6,771.7 933.8,799.8 935.0,773.8 936.2,781.0 937.4,789.5 938.6,791.4 939.8,778.9 941.0,771.1 942.2,795.6 943.4,794.8 944.6,792.5 945.8,786.7 947.0,772.8 948.2,790.7 949.4,791.1 950.6,779.3 951.8,781.5 953.0,776.7 954.2,794.6 955.4,799.9 956.6,795.5 957.8,779.3 959.0,782.0 960.2,784.3 961.4,797.1 962.6,797.9 963.8,775.7 965.0,796.2 966.2,795.9 967.4,775.9 968.6,771.5 969.8,792.0 971.0,797.6 972.2,785.2 973.4,771.1 974.6,771.7 975.8,779.9 977.0,776.0 978.2,773.5 979.4,792.4 980.6,780.5 981.8,775.1 983.0,771.0 984.2,799.5 985.4,773.3 986.6,777.3 987.8,784.4 989.0,777.4 990.2,795.1 991.4,769.2 992.6,796.4 993.8,776.4 995.0,778.0 996.2,791.7 997.4,773.5 998.6,784.6 999.8,780.9 1001.0,800.7 1002.2,785.0 1003.4,792.0 1004.6,775.5 1005.8,794.8 1007.0,775.8 1008.2,798.0 1009.4,780.2 1010.6,802.1 1011.8,771.7 1013.0,794.6 1014.2,787.8 1015.4,798.2 1016.6,797.6 1017.8,796.1 1019.0,792.4 1020.2,779.6 1021.4,799.6 1022.6,786.6 1023.8,792.3 1025.0,784.9 1026.2,776.4 1027.4,796.2 1028.6,803.8 1029.8,797.0 1031.0,798.2 1032.2,788.7 1033.4,792.0 1034.6,788.7 1035.8,795.8 1037.0,786.0 1038.2,783.4 1039.4,777.3 1040.6,788.3 1041.8,792.4 1043.0,796.3 1044.2,785.7 1045.4,782.6 1046.6,796.6 1047.8,779.4 1049.0,794.4 1050.2,811.3 1051.4,800.0 1052.6,810.8 1053.2,280.9 1053.8,799.2 1055.0,800.7 1056.2,792.6 1057.4,810.3 1058.6,812.5 1059.8,813.3 1061.0,805.7 1062.2,823.6 1063.4,797.8 1064.6,793.8 1065.8,791.5 1067.0,804.2 1068.2,780.6 1069.4,781.7 1070.6,780.8 1071.8,785.0 1073.0,792.6 1074.2,804.1 1075.4,798.2 1076.6,779.4 1077.8,808.5 1079.0,796.8 1080.2,785.0 1081.4,810.6 1082.6,805.9 1083.8,806.4 1085.0,794.5 1086.2,799.4 1087.4,785.3 1088.6,805.6 1089.8,802.7 1091.0,798.5 1092.2,790.5 1093.4,781.5 1094.6,794.8 1095.8,803.8 1097.0,781.5 1098.2,786.9 1099.4,788.2 1100.6,798.5 1101.8,782.9 1103.0,808.7 1104.2,801.5 1105.4,805.9 1106.6,783.1 1107.8,794.8 1109.0,807.8 1110.2,779.5 1111.4,788.4 1112.6,787.8 1113.8,799.3 1115.0,803.3 1116.2,794.9 1117.4,800.7 1118.6,781.6 1119.8,798.3 1121.0,794.5 1122.2,802.7 1123.4,798.1 1124.6,808.9 1125.8,832.7 1127.0,838.3 1128.2,871.6 1129.4,864.8 1130.6,856.9 1131.8,880.2 1133.0,886.9 1134.2,875.9 1135.4,893.9 1136.6,886.3 1137.8,886.7 1139.0,890.1 1140.2,880.1 1141.4,873.6 1142.6,865.8 1143.8,851.2 1145.0,852.4 1146.2,823.8 1147.4,809.7 1148.6,797.9 1149.8,787.2 1151.0,781.7 1152.2,789.4 1153.4,801.8 1154.6,811.5 1155.8,795.1 1157.0,809.0 1158.2,811.7 1159.4,787.9 1160.6,796.8 1161.8,804.0 1163.0,792.9 1164.2,798.3 1165.4,788.7 1166.6,786.9 1167.8,801.7 1169.0,778.4 1170.2,805.3 1171.4,802.9 1172.6,797.6 1173.8,794.6 1175.0,799.0 1176.2,783.6 1177.4,799.9 1178.6,794.9 1179.8,777.8 1181.0,795.1 1182.2,781.7 1183.4,778.3 1184.6,780.8 1185.8,803.4 1187.0,779.8 1188.2,801.3 1189.4,796.9 1190.6,801.7 1191.8,778.4 1193.0,783.7 1194.2,781.4 1195.4,790.7 1196.6,793.2 1197.8,782.3 1199.0,804.2 1200.2,789.0 1201.4,782.9 1202.6,800.0 1203.8,794.9 1205.0,803.3 1206.2,798.3 1207.4,778.7 1208.6,786.0 1209.8,803.7 1211.0,801.8 1212.2,802.0 1213.4,782.6 1214.6,796.2 1215.8,785.1 1217.0,792.3 1218.2,780.5 1219.4,781.5 1220.6,786.6 1221.8,802.3 1223.0,798.2 1224.2,772.5 1225.4,784.2 1226.6,777.8 1227.8,779.6 1229.0,778.1 1230.2,772.5 1231.4,792.7 1232.6,796.8 1233.8,775.0 1235.0,793.0 1236.2,790.3 1237.4,787.1 1238.6,780.6 1239.8,773.4 1241.0,789.5 1242.2,774.5 1243.4,776.5 1244.6,786.3 1245.8,786.3 1247.0,789.0 1248.2,785.3 1249.4,774.3 1250.6,774.5 1251.8,799.0 1253.0,795.3 1254.2,786.1 1255.4,781.5 1256.6,782.5 1257.8,798.5 1259.0,797.7 1260.2,792.6 1261.4,797.3 1262.6,785.8 1263.8,799.7 1265.0,779.1 1266.2,782.5 1267.4,796.9 1268.6,791.3 1269.8,793.7 1271.0,789.9 1272.2,771.2 1273.4,787.6 1274.6,783.7 1275.8,778.7 1277.0,796.5 1278.2,782.6 1279.4,791.4 1280.6,800.7 1281.8,793.3 1283.0,796.9 1284.2,790.6 1285.4,779.3 1286.6,779.5 1287.8,788.4 1289.0,797.6 1290.2,791.2 1290.8,795.9 1291.4,785.7 1292.6,783.6 1293.8,776.6 1295.0,800.5 1296.2,797.1 1297.4,778.4 1298.6,772.3 1299.8,783.2 1301.0,770.8 1302.2,782.1 1303.4,791.8 1304.6,794.8 1305.8,774.9 1307.0,795.6 1308.2,777.0 1309.4,801.7 1310.6,778.4 1311.8,801.3 1313.0,789.3 1314.2,790.5 1315.4,803.9 1316.6,802.3 1317.8,788.1 1318.4,301.7 1319.0,788.7 1320.2,785.2 1321.4,791.5 1322.6,794.8 1323.8,780.8 1325.0,785.7 1326.2,782.3 1327.4,807.1 1328.6,785.1 1329.8,800.2 1331.0,801.6 1332.2,778.3 1333.4,781.4 1334.6,778.1 1335.8,801.0 1337.0,796.7 1338.2,790.6 1339.4,791.7 1340.6,803.3 1341.8,789.0 1343.0,783.5 1344.2,806.8 1345.4,784.6 1346.6,787.7 1347.8,778.4 1349.0,796.1 1350.2,810.2 1351.4,796.3 1352.6,793.7 1353.8,780.1 1355.0,805.4 1356.2,790.2 1357.4,775.1 1358.6,804.9 1359.8,789.9 1361.0,785.4 1362.2,782.3 1363.4,796.4 1364.6,773.3 1365.8,776.9 1367.0,772.5 1368.2,775.0 1369.4,771.3 1370.6,772.5 1371.8,794.3 1373.0,787.4 1374.2,766.3 1375.4,779.2 1376.6,793.7 1377.8,766.4 1379.0,785.8 1380.2,787.5 1381.4,782.4 1382.6,783.9 1383.8,786.2 1385.0,779.7 1386.2,794.0 1387.4,768.3 1388.6,790.6 1389.8,774.4 1391.0,793.0 1392.2,778.2 1393.4,776.6 1394.6,766.2 1395.8,788.2 1397.0,787.8 1398.2,769.6 1399.4,791.3 1400.6,792.0 1401.8,779.7 1403.0,765.4 1404.2,777.3 1405.4,788.9 1406.6,766.8 1407.8,794.4 1409.0,778.7 1410.2,790.0 1411.4,767.6 1412.6,790.2 1413.8,776.2 1415.0,770.9 1416.2,793.0 1417.4,775.2 1418.6,790.0 1419.8,774.5 1421.0,792.3 1422.2,780.2 1423.4,769.4 1424.6,771.2 1425.8,779.6 1427.0,776.2 1428.2,781.7 1429.4,771.0 1430.6,764.3 1431.8,793.9 1433.0,766.3 1434.2,769.2 1435.4,763.1 1436.6,790.8 1437.8,765.2 1439.0,778.4 1440.2,775.9 1441.4,775.3 1442.6,778.7 1443.8,790.7 1445.0,791.5 1446.2,781.6 1447.4,783.7 1448.6,784.6 1449.8,765.8 1451.0,777.6 1452.2,774.7 1453.4,779.9 1454.6,778.8 1455.8,788.2 1457.0,771.6 1458.2,763.4 1459.4,778.3 1460.6,783.6 1461.8,791.6 1463.0,783.7 1464.2,775.3 1465.4,770.9 1466.6,790.8 1467.8,777.3 1469.0,771.1 1470.2,792.6 1471.4,785.4 1472.6,764.0 1473.8,788.0 1475.0,770.6 1476.2,778.0 1477.4,798.9 1478.6,829.4 1479.8,829.2 1481.0,842.9 1482.2,864.5 1483.4,896.1 1484.6,877.8 1485.8,883.0 1487.0,878.5 1488.2,848.9 1489.4,835.3 1490.6,847.1 1491.8,840.5 1493.0,820.2 1494.2,840.8 1495.4,821.2 1496.6,830.8 1497.8,814.5 1499.0,802.1 1500.2,821.8 1501.4,788.5 1502.6,784.5 1503.8,779.3 1505.0,793.5 1506.2,794.7 1507.4,767.1 1508.6,760.2 1509.8,777.3 1511.0,779.2 1512.2,771.8 1513.4,754.4 1514.6,766.7 1515.8,769.2 1517.0,753.7 1518.2,776.3 1519.4,767.4 1520.6,772.1 1521.8,775.9 1523.0,751.1 1524.2,752.5 1525.4,779.8 1526.6,771.5 1527.8,760.2 1529.0,771.5 1530.2,755.6 1531.4,752.1 1532.6,763.6 1533.8,758.9 1535.0,777.2 1536.2,777.0 1537.4,760.8 1538.6,761.6 1539.2,750.5 1539.8,755.4 1541.0,769.0 1542.2,751.1 1543.4,753.0 1544.6,757.8 1545.8,755.4 1547.0,781.4 1548.2,773.1 1549.4,770.7 1550.6,765.4 1551.8,762.0 1553.0,750.6 1554.2,753.5 1555.4,759.2 1556.6,756.2 1557.8,773.9 1559.0,754.4 1560.2,766.4 1561.4,760.7 1562.6,768.7 1563.8,761.7 1565.0,768.4 1566.2,752.5 1567.4,777.0 1568.6,757.0 1569.8,774.6 1571.0,766.2 1572.2,759.4 1573.4,755.5 1574.6,762.5 1575.8,775.8 1577.0,763.4 1578.2,780.3 1579.4,776.4 1580.6,754.1 1581.8,773.9 1583.0,750.3 1584.2,777.0 1585.4,773.6 1586.6,795.7 1587.8,785.2 1589.0,826.0 1590.2,831.5 1591.4,837.2 1592.6,844.0 1593.8,836.4 1595.0,839.4 1596.2,827.7 1597.4,844.3 1598.6,832.2 1599.8,818.0 1601.0,797.5 1602.2,774.9 1603.4,780.1 1604.6,748.3 1605.8,741.2 1607.0,756.1 1608.2,766.0 1609.4,743.1 1610.6,756.5 1611.8,760.6 1613.0,753.9 1614.2,771.7 1615.4,751.4 1616.6,750.5 1617.8,747.4 1619.0,767.0 1620.2,772.3 1621.4,754.3 1622.6,746.9 1623.8,773.8 1625.0,747.6 1626.2,751.6 1627.4,770.3 1628.6,755.8 1629.8,768.7 1631.0,773.2 1632.2,765.4 1633.4,764.6 1634.6,763.1 1635.8,766.2 1637.0,748.3 1638.2,772.0 1639.4,758.2 1640.6,750.3 1641.8,745.0 1643.0,759.3 1644.2,771.3 1645.4,746.8 1646.6,756.6 1647.8,752.7 1649.0,747.4 1650.2,748.2 1651.4,758.7 1652.6,753.4 1653.8,766.9 1655.0,771.7 1656.2,759.6 1657.4,767.7 1658.6,774.5 1659.8,770.4 1661.0,776.6 1662.2,760.6 1663.4,759.3 1664.6,774.8 1665.8,765.6 1667.0,776.2 1668.2,775.0 1669.4,766.8 1670.6,756.9 1671.8,755.7 1673.0,782.0 1674.2,766.0 1675.4,754.1 1676.6,757.5 1677.8,758.0 1679.0,756.2 1680.2,779.2 1681.4,762.5 1682.6,768.8 1683.8,779.6 1685.0,773.4 1686.2,773.7 1687.4,784.6 1688.6,779.2 1689.8,753.4 1691.0,754.1 1692.2,774.0 1693.4,777.1 1694.6,758.5 1695.8,781.6 1697.0,780.4 1698.2,779.0 1699.4,776.5 1700.6,764.0 1701.8,767.3 1703.0,754.1 1704.2,774.6 1705.4,767.8 1706.6,772.6 1707.8,762.1 1709.0,764.7 1710.2,764.2 1711.4,758.7 1712.6,777.0 1713.8,765.6 1715.0,762.6 1716.2,781.6 1717.4,754.7 1718.6,771.6 1719.8,757.2 1721.0,758.9 1722.2,781.5 1723.4,760.2 1724.6,776.3 1725.8,761.5 1727.0,755.8 1728.2,762.6 1729.4,777.3 1730.6,770.5 1731.8,754.6 1733.0,765.1 1734.2,759.5 1735.4,781.8 1736.6,757.6 1737.8,782.5 1739.0,765.4 1740.2,762.5 1741.4,777.0 1742.6,765.0 1743.8,763.7 1745.0,765.1 1746.2,781.7 1747.4,770.1 1748.6,770.7 1749.8,755.3 1751.0,761.6 1752.2,779.1 1753.4,767.3 1754.6,779.0 1755.8,778.8 1757.0,772.0 1758.2,783.2 1759.4,774.1 1760.6,781.8 1761.8,762.3 1763.0,768.3 1764.2,757.6 1765.4,772.4 1766.6,761.2 1767.8,762.8 1769.0,772.6 1770.2,780.1 1771.4,783.4 1772.6,769.7 1773.8,768.4 1775.0,771.7 1776.2,764.2 1777.4,782.1 1778.6,770.2 1779.8,786.5 1781.0,762.5 1782.2,773.1 1783.4,761.4 1784.6,768.8 1785.8,761.0 1787.0,782.3 1788.2,768.2 1789.4,761.0 1790.6,787.0 1791.8,765.5 1793.0,765.3 1794.2,783.3 1795.4,760.6 1796.6,775.0 1797.8,767.5 1799.0,777.0 1800.2,783.5 1801.4,799.8 1802.0,595.3 1802.6,787.6 1803.8,792.6 1805.0,793.7 1806.2,793.8 1807.4,810.6 1808.6,817.8 1809.8,818.9 1811.0,822.5 1812.2,830.9 1813.4,824.8 1814.6,820.7 1815.8,833.5 1817.0,835.5 1818.2,834.5 1819.4,823.7 1820.6,812.9 1821.8,821.6 1823.0,829.7 1824.2,834.9 1825.4,827.3 1826.6,812.2 1827.8,820.4 1829.0,824.1 1830.2,809.7 1831.4,810.7 1832.6,832.9 1833.8,820.7 1835.0,830.7 1836.2,821.3 1837.4,811.1 1838.6,823.7 1839.8,829.3 1841.0,825.2 1842.2,816.2 1843.4,831.0 1844.6,809.6 1845.8,823.5 1847.0,811.1 1848.2,827.3 1849.4,825.4 1850.6,836.0 1851.8,831.0 1853.0,828.7 1854.2,811.2 1855.4,838.5 1856.6,825.0 1857.8,817.5 1859.0,826.3 1860.2,808.9 1861.4,831.6 1862.6,815.5 1863.8,828.3 1865.0,817.0 1866.2,808.2 1867.4,813.0 1868.6,833.0 1869.8,812.3 1871.0,815.8 1872.2,811.8 1873.4,830.1 1874.6,813.1 1875.8,839.1 1877.0,835.3 1878.2,835.1 1879.4,830.9 1880.6,815.7 1881.8,809.8 1883.0,811.3 1884.2,820.3 1885.4,816.5 1886.6,813.4 1887.8,834.5 1889.0,817.5 1890.2,825.7 1891.4,808.9 1892.6,820.4 1893.8,836.3 1895.0,813.3 1896.2,828.5 1897.4,807.8 1898.6,809.8 1899.8,811.2 1901.0,820.4 1902.2,815.9 1903.4,827.6 1904.6,811.6 1905.8,808.7 1907.0,819.4 1908.2,817.1 1909.4,809.6 1910.6,833.7 1911.8,818.6 1913.0,833.7 1914.2,814.5 1915.4,814.0 1916.6,813.8 1917.8,809.4 1919.0,814.8 1920.2,834.1 1921.4,840.0 1922.6,827.9 1923.8,851.5 1925.0,852.6 1926.2,866.8 1927.4,867.4 1928.6,865.4 1929.8,869.7 1931.0,881.7 1932.2,894.0 1933.4,882.0 1934.6,902.7 1935.8,882.5 1937.0,888.2 1938.2,869.6 1939.4,872.9 1940.6,867.1 1941.8,873.5 1943.0,877.7 1944.2,862.1 1945.4,860.8 1946.6,849.0 1947.8,831.3 1949.0,834.2 1950.2,823.3 1951.4,830.4 1952.6,817.9 1953.8,830.8 1955.0,819.9 1956.2,814.1 1957.4,822.6 1958.6,843.0 1959.8,818.3 1961.0,811.8 1962.2,825.9 1963.4,832.4 1964.6,812.5 1965.8,836.4 1967.0,822.0 1968.2,823.3 1969.4,819.2 1970.6,840.4 1971.8,829.2 1973.0,840.8 1974.2,834.2 1975.4,812.9 1976.6,816.3 1977.8,842.6 1979.0,820.8 1980.2,836.6 1981.4,824.0 1982.6,828.7 1983.8,842.5 1985.0,838.4 1986.2,815.7 1987.4,835.3 1988.6,819.3 1989.8,822.8 1991.0,823.9 1992.2,826.4 1993.4,825.2 1994.6,833.5 1995.8,829.2 1997.0,833.5 1998.2,844.8 1999.4,817.5 2000.6,819.7 2001.8,823.6 2003.0,835.0 2004.2,821.1 2005.4,816.1 2006.6,847.2 2007.8,846.2 2009.0,829.5 2010.2,828.7 2011.4,819.1 2012.6,841.1 2013.8,836.5 2015.0,830.8 2016.2,848.9 2017.4,845.9 2018.6,844.5 2019.8,838.3 2021.0,848.3 2022.2,843.5 2023.4,837.6 2024.6,824.4 2025.8,850.7 2027.0,821.1 2028.2,838.9 2029.4,852.2 2030.6,830.9 2031.8,830.5 2033.0,847.4 2034.2,842.9 2035.4,846.5 2036.6,843.3 2037.8,846.3 2039.0,833.5 2040.2,823.8 2041.4,823.3 2042.6,826.8 2043.8,819.3 2045.0,813.1 2046.2,834.5 2047.4,838.1 2048.6,807.3 2049.8,827.7 2051.0,822.2 2052.2,828.8 2053.4,824.3 2054.6,807.6 2055.8,810.7 2057.0,811.9 2058.2,801.1 2059.4,819.0 2060.6,826.0 2061.8,802.7 2063.0,799.9 2064.2,798.1 2065.4,817.0 2066.6,796.7 2067.8,806.4 2069.0,787.9 2070.2,802.2 2071.4,789.7 2072.6,801.9 2073.8,786.8 2075.0,790.5 2076.2,781.3 2077.4,791.7 2078.6,779.2 2079.8,794.7 2081.0,803.7 2082.2,792.8 2083.4,779.5 2084.6,788.8 2085.8,773.9 2087.0,778.6 2088.2,771.7 2089.4,785.9 2090.6,774.0 2091.8,775.5 2093.0,769.6 2094.2,775.3 2095.4,770.0 2096.6,794.6 2097.8,794.4 2099.0,777.8 2100.2,794.8 2101.4,775.4 2102.6,765.9 2103.8,779.4 2105.0,768.0 2106.2,782.7 2107.4,771.2 2108.6,772.1 2109.8,770.7 2111.0,778.0 2112.2,780.0 2113.4,763.4 2114.6,767.6 2115.8,777.8 2117.0,771.2 2118.2,785.9 2119.4,766.5 2120.6,763.4 2121.8,787.0 2123.0,787.9 2124.2,770.8 2125.4,783.3 2126.6,767.1 2127.8,775.9 2129.0,769.3 2130.2,779.3 2131.4,773.6 2132.6,778.2 2133.8,783.3 2135.0,771.6 2136.2,770.7 2137.4,763.1 2138.6,784.3 2139.8,780.5 2141.0,779.1 2142.2,757.1 2143.4,772.7 2144.6,783.4 2145.8,757.8 2147.0,753.1 2148.2,778.4 2149.4,759.2 2150.6,773.8 2151.8,754.1 2153.0,770.7 2154.2,768.6 2155.4,764.2 2156.6,780.8 2157.8,769.9 2159.0,752.0 2160.2,772.8 2161.4,776.8 2162.6,778.7 2163.8,754.3 2165.0,749.3 2166.2,755.3 2167.4,755.4 2168.6,773.8 2169.8,770.1 2171.0,752.7 2172.2,758.8 2173.4,753.1 2174.6,755.8 2175.8,758.2 2177.0,747.3 2178.2,748.2 2179.4,757.2 2180.6,770.4 2181.8,789.9 2183.0,784.6 2184.2,811.9 2185.4,811.6 2186.6,822.5 2187.8,821.8 2189.0,803.7 2190.2,799.9 2191.4,825.5 2192.6,827.7 2193.8,809.5 2195.0,812.1 2196.2,822.9 2197.4,813.9 2198.6,823.9 2199.8,825.3 2201.0,817.0 2202.2,810.3 2203.4,818.5 2204.6,827.4 2205.8,801.1 2207.0,809.8 2208.2,820.2 2209.4,810.1 2210.6,798.5 2211.8,804.0 2213.0,815.3 2214.2,819.2 2215.4,814.9 2216.6,803.7 2217.8,808.4 2219.0,822.9 2220.2,827.4 2221.4,807.7 2222.6,811.8 2223.8,802.0 2225.0,828.1 2226.2,817.0 2227.4,815.9 2228.6,812.9 2229.8,815.8 2231.0,827.3 2232.2,807.1 2233.4,825.0 2234.6,811.8 2235.8,811.5 2237.0,802.3 2238.2,796.6 2239.4,817.2 2240.6,822.3 2241.8,810.7 2243.0,826.8 2244.2,798.7 2245.4,818.7 2246.6,801.1 2247.8,802.9 2249.0,770.8 2250.2,760.3 2251.4,774.2 2252.6,760.7 2253.8,748.8 2255.0,769.9 2256.2,748.5 2257.4,761.4 2258.6,754.5 2259.8,753.6 2261.0,754.3 2262.2,755.8 2263.4,776.9 2264.6,753.8 2265.8,749.8 2267.0,756.9 2268.2,752.6 2269.4,769.3 2270.6,759.9 2271.8,759.0 2273.0,772.5 2274.2,756.4 2275.4,777.3 2276.6,761.0 2277.8,771.1 2279.0,758.2 2280.2,757.7 2281.4,750.8 2282.6,751.6 2283.8,772.8 2285.0,769.3 2286.2,776.1 2287.4,759.7 2288.6,754.9 2289.8,775.4 2291.0,751.8 2292.2,757.0 2293.4,768.4 2294.6,756.9 2295.8,753.8 2297.0,765.2 2298.2,774.0 2299.4,755.4 2300.6,749.7 2301.8,777.0 2303.0,772.5 2304.2,771.2 2305.4,748.3 2306.6,754.2 2307.8,760.2 2309.0,770.3 2310.2,764.9 2311.4,774.0 2312.6,746.1 2313.8,776.6 2315.0,777.0 2316.2,754.3 2317.4,748.6 2318.0,747.1 2318.6,758.1 2319.8,769.6 2321.0,756.1 2322.2,750.7 2323.4,765.1 2324.6,774.2 2325.8,748.8 2327.0,750.2 2328.2,763.2 2329.4,751.8 2330.0,765.5 2330.6,756.7 2331.8,752.4 2333.0,747.3 2334.2,774.8 2335.4,769.0 2336.6,751.3 2337.8,774.6 2339.0,761.5 2340.2,761.8 2341.4,753.2 2342.6,771.5 2343.8,745.9 2345.0,749.8 2346.2,745.1 2347.4,767.2 2348.6,765.8 2349.8,776.3 2351.0,770.5 2352.2,759.8 2353.4,756.8 2354.6,765.8 2355.8,752.3 2357.0,758.6 2358.2,744.5 2359.4,766.8 2360.6,772.8 2361.8,757.9 2363.0,772.1 2364.2,754.3 2365.4,761.8 2366.6,751.0 2367.8,764.0 2369.0,754.9 2370.2,754.3 2371.4,751.4 2372.6,765.0 2373.8,761.8 2375.0,761.3 2376.2,757.1 2377.4,745.0 2378.6,768.9 2379.8,774.3 2381.0,761.5 2382.2,763.7 2383.4,749.4 2384.6,775.1 2385.8,763.9 2387.0,753.2 2388.2,750.6 2389.4,744.9 2390.6,774.4 2391.8,751.3 2393.0,756.5 2394.2,748.1 2395.4,766.1 2396.6,752.9 2397.8,746.4 2399.0,775.1 2400.2,769.0" fill="none" stroke="#8a2be2" stroke-width="2.6" stroke-dasharray="31 19"/>
<line x1="1053.3" y1="797.8" x2="1053.3" y2="280.9" stroke="#8e44d0" stroke-width="2.4"/>
<line x1="1802" y1="775.4" x2="1802" y2="595.3" stroke="#8e44d0" stroke-width="2.4"/>
<line x1="358" y1="884.5" x2="358" y2="741.7" stroke="#8e44d0" stroke-width="2.4"/>
<polyline points="131.0,795.1 131.6,780.8 132.2,787.2 132.8,814.0 133.4,809.2 134.0,779.6 134.6,819.4 135.2,777.3 135.8,776.5 136.4,792.9 137.0,798.3 137.6,800.2 138.2,801.2 138.8,793.7 139.4,791.2 140.0,790.3 140.6,768.9 141.2,778.7 141.8,784.6 142.4,768.3 143.0,805.8 143.6,811.2 144.2,792.0 144.8,818.0 145.4,819.0 146.0,730.1 146.6,799.0 147.2,779.2 147.8,791.2 148.4,796.9 149.0,797.4 149.6,808.9 150.2,819.2 150.8,812.7 151.4,787.5 152.0,812.7 152.6,800.4 153.2,819.1 153.8,779.7 154.4,810.3 155.0,807.0 155.6,778.7 156.2,793.4 156.8,778.0 157.4,788.0 158.0,780.6 158.6,812.8 159.2,791.4 159.8,794.8 160.4,777.0 161.0,801.8 161.6,792.4 162.2,816.4 162.8,802.8 163.4,805.0 164.0,810.0 164.6,775.1 165.2,798.0 165.8,769.0 166.4,788.6 167.0,789.5 167.6,788.6 168.2,785.1 168.8,807.2 169.4,810.5 170.0,802.2 170.6,793.2 171.2,807.9 171.8,767.4 172.4,806.1 173.0,785.3 173.6,802.9 174.2,774.3 174.8,784.3 175.4,809.9 176.0,774.3 176.6,768.7 177.2,771.7 177.8,788.8 178.4,809.0 179.0,806.7 179.6,774.4 180.2,792.0 180.8,807.7 181.4,772.9 182.0,784.2 182.6,787.4 183.2,795.4 183.8,794.1 184.4,801.9 185.0,813.7 185.6,771.2 186.2,789.8 186.8,783.7 187.4,795.6 188.0,776.6 188.6,808.2 189.2,792.1 189.8,807.7 190.4,803.7 191.0,762.8 191.6,778.5 192.2,792.4 192.8,786.1 193.4,769.8 194.0,794.4 194.6,782.6 195.2,777.6 195.8,795.3 196.4,789.2 197.0,775.0 197.6,769.2 198.2,805.9 198.8,769.8 199.4,815.5 200.0,781.6 200.6,779.2 201.2,809.1 201.8,795.7 202.4,776.9 203.0,814.7 203.6,786.5 204.2,780.2 204.8,793.5 205.4,779.1 206.0,803.1 206.6,804.2 207.2,796.7 207.8,804.2 208.4,797.3 209.0,767.0 209.6,784.1 210.2,794.1 210.8,797.4 211.4,763.4 212.0,788.3 212.6,764.0 213.2,786.3 213.8,785.4 214.4,770.7 215.0,777.6 215.6,787.7 216.2,796.8 216.8,776.4 217.4,799.1 218.0,776.2 218.6,817.6 219.2,802.9 219.8,799.9 220.4,778.9 221.0,811.6 221.6,785.0 222.2,789.9 222.8,788.5 223.4,792.1 224.0,776.4 224.6,807.9 225.2,803.9 225.8,812.6 226.4,817.8 227.0,809.1 227.6,776.9 228.2,779.6 228.8,813.6 229.4,790.6 230.0,796.8 230.6,791.4 231.2,790.3 231.8,807.6 232.4,776.7 233.0,801.8 233.6,791.0 234.2,790.3 234.8,781.1 235.4,819.4 236.0,800.5 236.6,783.6 237.2,781.1 237.8,787.4 238.4,818.7 239.0,782.5 239.6,787.9 240.2,782.2 240.8,800.9 241.4,780.0 242.0,822.5 242.6,825.4 243.2,824.9 243.8,812.1 244.4,812.6 245.0,819.4 245.6,800.9 246.2,828.9 246.8,799.2 247.4,819.5 248.0,794.0 248.6,826.8 249.2,815.4 249.8,785.5 250.4,805.5 251.0,791.7 251.6,798.3 252.2,802.4 252.8,823.9 253.4,804.4 254.0,829.6 254.6,795.3 255.2,786.5 255.8,796.1 256.4,833.0 257.0,819.2 257.6,819.6 258.2,827.7 258.8,810.0 259.4,807.0 260.0,827.4 260.6,812.5 261.2,818.6 261.8,845.2 262.4,829.6 263.0,828.0 263.6,851.8 264.2,843.1 264.8,841.7 265.4,843.0 266.0,859.1 266.6,841.5 267.2,843.1 267.8,837.2 268.4,840.1 269.0,852.6 269.6,844.3 270.2,840.3 270.8,836.4 271.4,855.8 272.0,860.5 272.6,842.3 273.2,855.3 273.8,845.0 274.4,833.3 275.0,845.7 275.6,850.8 276.2,846.1 276.8,840.9 277.4,854.4 278.0,846.8 278.6,850.1 279.2,836.9 279.8,837.6 280.4,848.1 281.0,847.4 281.6,844.9 282.2,854.5 282.8,854.9 283.4,852.9 284.0,851.0 284.6,861.5 285.2,843.7 285.8,847.2 286.4,854.5 287.0,861.9 287.6,845.7 288.2,859.9 288.8,856.2 289.4,857.1 290.0,860.7 290.6,839.4 291.2,853.1 291.8,851.7 292.4,838.2 293.0,842.2 293.6,852.5 294.2,845.7 294.8,835.0 295.4,849.0 296.0,840.6 296.6,853.3 297.2,840.2 297.8,840.6 298.4,838.2 299.0,840.7 299.6,848.6 300.2,858.5 300.8,845.5 301.4,839.3 302.0,852.8 302.6,851.1 303.2,843.8 303.8,840.0 304.4,835.2 305.0,855.4 305.6,856.2 306.2,838.4 306.8,840.7 307.4,841.0 308.0,832.4 308.6,833.6 309.2,835.7 309.8,838.2 310.4,850.7 311.0,845.9 311.6,857.4 312.2,844.0 312.8,842.4 313.4,843.9 314.0,850.3 314.6,853.8 315.2,853.5 315.8,865.5 316.4,844.1 317.0,853.4 317.6,856.7 318.2,853.2 318.8,850.3 319.4,857.8 320.0,845.8 320.6,843.5 321.2,856.0 321.8,861.7 322.4,844.8 323.0,838.9 323.6,860.2 324.2,846.8 324.8,843.5 325.4,840.4 326.0,860.5 326.6,861.6 327.2,837.0 327.8,857.0 328.4,855.0 329.0,845.0 329.6,848.4 330.2,843.0 330.8,862.5 331.4,846.5 332.0,866.7 332.6,854.2 333.2,874.5 333.8,863.7 334.4,878.9 335.0,874.7 335.6,877.1 336.2,870.2 336.8,880.3 337.4,891.7 338.0,869.0 338.6,872.2 339.2,871.1 339.8,888.5 340.4,884.9 341.0,890.8 341.6,894.5 342.2,897.3 342.8,887.0 343.4,896.9 344.0,895.3 344.6,880.2 345.2,888.3 345.8,893.8 346.4,880.8 347.0,892.8 347.6,887.0 348.2,893.8 348.8,888.3 349.4,885.2 350.0,887.8 350.6,890.0 351.2,877.4 351.8,878.0 352.4,897.0 353.0,899.4 353.6,899.2 354.2,876.8 354.8,880.3 355.4,900.3 356.0,880.6 356.6,899.7 357.2,889.2 357.8,887.5 358.4,875.7 359.0,899.6 359.6,893.9 360.2,886.4 360.8,898.5 361.4,892.7 362.0,882.2 362.6,867.6 363.2,869.4 363.8,865.0 364.4,869.0 365.0,869.7 365.6,866.6 366.2,873.8 366.8,871.7 367.4,884.7 368.0,886.3 368.6,865.1 369.2,880.9 369.8,858.5 370.4,866.9 371.0,875.5 371.6,858.4 372.2,880.4 372.8,869.5 373.4,879.2 374.0,849.2 374.6,858.0 375.2,850.2 375.8,865.2 376.4,849.1 377.0,852.1 377.6,855.3 378.2,844.4 378.8,857.0 379.4,855.1 380.0,845.6 380.6,839.6 381.2,851.1 381.8,839.7 382.4,850.4 383.0,839.1 383.6,830.9 384.2,847.5 384.8,824.8 385.4,842.2 386.0,813.3 386.6,824.4 387.2,825.3 387.8,814.1 388.4,819.7 389.0,811.5 389.6,826.9 390.2,814.6 390.8,813.3 391.4,802.5 392.0,828.4 392.6,815.3 393.2,809.9 393.8,812.0 394.4,826.5 395.0,806.2 395.6,818.0 396.2,817.2 396.8,795.6 397.4,815.7 398.0,805.7 398.6,797.3 399.2,794.2 399.8,800.1 400.4,792.1 401.0,805.2 401.6,799.3 402.2,791.9 402.8,795.6 403.4,796.8 404.0,805.0 404.6,798.6 405.2,805.5 405.8,790.8 406.4,802.6 407.0,801.8 407.6,788.6 408.2,798.0 408.8,801.7 409.4,778.4 410.0,795.9 410.6,772.6 411.2,773.0 411.8,788.9 412.4,774.5 413.0,807.2 413.6,787.5 414.2,760.3 414.8,772.6 415.4,776.7 416.0,767.3 416.6,763.7 417.2,768.7 417.8,777.1 418.4,786.1 419.0,780.5 419.6,779.9 420.2,773.4 420.8,739.4 421.4,777.5 422.0,770.7 422.6,777.2 423.2,767.1 423.8,747.2 424.4,748.5 425.0,778.9 425.6,786.7 426.2,752.9 426.8,776.0 427.4,766.4 428.0,800.8 428.6,755.2 429.2,786.0 429.8,775.9 430.4,794.7 431.0,782.4 431.6,757.7 432.2,756.0 432.8,776.9 433.4,762.1 434.0,781.8 434.6,788.0 435.2,775.8 435.8,794.6 436.4,789.1 437.0,766.2 437.6,762.3 438.2,823.4 438.8,764.5 439.4,757.8 440.0,782.6 440.6,805.3 441.2,769.0 441.8,792.5 442.4,767.9 443.0,781.6 443.6,766.1 444.2,787.9 444.8,776.1 445.4,774.3 446.0,771.6 446.6,797.7 447.2,755.6 447.8,796.8 448.4,795.1 449.0,794.9 449.6,807.4 450.2,787.3 450.8,766.2 451.4,770.5 452.0,798.7 452.6,803.3 453.2,795.1 453.8,770.5 454.4,786.7 455.0,757.3 455.6,773.5 456.2,774.6 456.8,765.1 457.4,766.8 458.0,791.3 458.6,793.3 459.2,784.5 459.8,783.4 460.4,803.1 461.0,786.5 461.6,774.3 462.2,801.8 462.8,798.1 463.4,795.4 464.0,790.0 464.6,747.9 465.2,801.4 465.8,792.1 466.4,794.6 467.0,775.9 467.6,802.7 468.2,776.5 468.8,792.1 469.4,784.1 470.0,753.0 470.6,788.9 471.2,764.6 471.8,778.9 472.4,777.2 473.0,754.8 473.6,795.1 474.2,751.2 474.8,754.3 475.4,766.5 476.0,803.6 476.6,768.6 477.2,773.5 477.8,764.4 478.4,799.4 479.0,759.1 479.6,761.0 480.2,806.4 480.8,794.8 481.4,813.4 482.0,767.3 482.6,763.9 483.2,760.0 483.8,780.7 484.4,777.3 485.0,776.1 485.6,783.4 486.2,759.6 486.8,779.2 487.4,793.6 488.0,781.8 488.6,816.1 489.2,780.1 489.8,786.9 490.4,806.8 491.0,787.4 491.6,795.0 492.2,821.2 492.8,839.4 493.4,843.1 494.0,845.3 494.6,844.0 495.2,839.9 495.8,818.2 496.4,849.1 497.0,821.5 497.6,831.9 498.2,824.8 498.8,842.2 499.4,856.1 500.0,825.2 500.6,847.0 501.2,852.9 501.8,826.9 502.4,829.9 503.0,847.7 503.6,846.1 504.2,822.2 504.8,847.1 505.4,830.5 506.0,851.1 506.6,825.0 507.2,852.4 507.8,840.7 508.4,861.6 509.0,844.4 509.6,833.5 510.2,859.7 510.8,854.1 511.4,836.4 512.0,843.2 512.6,854.7 513.2,845.1 513.8,852.1 514.4,836.7 515.0,859.7 515.6,840.3 516.2,839.0 516.8,832.3 517.4,840.8 518.0,826.4 518.6,825.7 519.2,833.7 519.8,842.9 520.4,808.3 521.0,812.3 521.6,825.1 522.2,820.6 522.8,815.2 523.4,807.8 524.0,792.4 524.6,804.5 525.2,809.2 525.8,808.8 526.4,813.2 527.0,808.5 527.6,807.2 528.2,810.2 528.8,815.2 529.4,803.8 530.0,814.1 530.6,798.6 531.2,792.9 531.8,812.1 532.4,801.6 533.0,801.0 533.6,835.8 534.2,810.3 534.8,786.4 535.4,799.4 536.0,788.5 536.6,809.7 537.2,792.2 537.8,780.8 538.4,779.2 539.0,801.4 539.6,783.9 540.2,789.3 540.8,778.4 541.4,800.6 542.0,795.8 542.6,781.9 543.2,791.0 543.8,790.4 544.4,777.5 545.0,795.7 545.6,804.4 546.2,795.8 546.8,802.9 547.4,804.9 548.0,793.7 548.6,783.8 549.2,792.6 549.8,790.2 550.4,797.0 551.0,791.3 551.6,784.8 552.2,791.6 552.8,785.8 553.4,791.7 554.0,801.1 554.6,789.3 555.2,791.8 555.8,803.0 556.4,791.6 557.0,783.2 557.6,802.6 558.2,793.0 558.8,815.9 559.4,799.5 560.0,800.3 560.6,796.7 561.2,790.3 561.8,788.2 562.4,792.3 563.0,805.6 563.6,784.0 564.2,780.7 564.8,803.4 565.4,795.7 566.0,796.9 566.6,777.4 567.2,774.9 567.8,796.8 568.4,789.0 569.0,793.4 569.6,784.4 570.2,773.2 570.8,795.6 571.4,792.9 572.0,783.7 572.6,782.7 573.2,774.6 573.8,782.6 574.4,793.0 575.0,787.2 575.6,769.2 576.2,775.2 576.8,793.3 577.4,773.6 578.0,789.7 578.6,778.1 579.2,800.4 579.8,802.1 580.4,797.0 581.0,789.9 581.6,784.9 582.2,791.8 582.8,803.3 583.4,805.2 584.0,802.0 584.6,805.8 585.2,799.8 585.8,803.9 586.4,794.9 587.0,797.5 587.6,792.2 588.2,799.0 588.8,804.1 589.4,796.6 590.0,783.5 590.6,798.0 591.2,794.9 591.8,783.1 592.4,793.4 593.0,780.9 593.6,782.9 594.2,802.0 594.8,790.2 595.4,801.4 596.0,804.3 596.6,794.2 597.2,790.2 597.8,779.4 598.4,804.2 599.0,787.3 599.6,794.5 600.2,804.2 600.8,780.7 601.4,787.8 602.0,802.5 602.6,778.8 603.2,803.8 603.8,781.6 604.4,796.9 605.0,779.1 605.6,803.9 606.2,778.7 606.8,790.1 607.4,805.0 608.0,790.6 608.6,791.9 609.2,788.5 609.8,784.1 610.4,785.3 611.0,778.9 611.6,804.5 612.2,781.9 612.8,791.0 613.4,782.9 614.0,779.1 614.6,778.5 615.2,800.1 615.8,795.9 616.4,780.2 617.0,781.4 617.6,796.2 618.2,779.4 618.8,794.0 619.4,797.3 620.0,783.4 620.6,791.5 621.2,794.2 621.8,800.8 622.4,798.6 623.0,807.8 623.6,810.3 624.2,790.4 624.8,793.0 625.4,790.2 626.0,786.3 626.6,802.9 627.2,803.6 627.8,803.4 628.4,801.4 629.0,793.5 629.6,804.7 630.2,806.9 630.8,801.5 631.4,821.3 632.0,830.0 632.6,821.2 633.2,825.8 633.8,843.9 634.4,840.7 635.0,863.7 635.6,860.3 636.2,859.2 636.8,873.5 637.4,875.4 638.0,873.1 638.6,880.7 639.2,898.5 639.8,889.7 640.4,903.7 641.0,883.5 641.6,901.5 642.2,898.3 642.8,897.8 643.4,877.1 644.0,896.1 644.6,886.6 645.2,877.1 645.8,876.4 646.4,895.8 647.0,871.6 647.6,860.0 648.2,850.0 648.8,854.3 649.4,848.0 650.0,849.2 650.6,840.7 651.2,820.3 651.8,828.0 652.4,818.7 653.0,812.5 653.6,819.0 654.2,818.2 654.8,794.9 655.4,805.0 656.0,810.6 656.6,795.8 657.2,810.2 657.8,799.9 658.4,778.4 659.0,778.1 659.6,784.5 660.2,798.0 660.8,791.8 661.4,801.5 662.0,794.7 662.6,801.7 663.2,800.6 663.8,788.2 664.4,801.0 665.0,800.9 665.6,781.9 666.2,799.7 666.8,798.9 667.4,806.0 668.0,786.5 668.6,789.9 669.2,791.3 669.8,788.7 670.4,800.9 671.0,796.3 671.6,785.6 672.2,775.1 672.8,775.9 673.4,781.4 674.0,784.2 674.6,796.5 675.2,773.4 675.8,794.7 676.4,791.6 677.0,777.4 677.6,770.1 678.2,773.7 678.8,782.9 679.4,788.7 680.0,794.1 680.6,774.7 681.2,769.8 681.8,788.8 682.4,774.5 683.0,785.3 683.6,788.8 684.2,784.7 684.8,798.4 685.4,788.8 686.0,796.2 686.6,785.4 687.2,790.2 687.8,780.5 688.4,781.6 689.0,795.2 689.6,794.9 690.2,781.0 690.8,794.1 691.4,803.5 692.0,804.0 692.6,777.8 693.2,787.6 693.8,799.8 694.4,788.8 695.0,786.8 695.6,788.5 696.2,773.4 696.8,772.8 697.4,794.2 698.0,794.0 698.6,788.1 699.2,775.8 699.8,778.6 700.4,771.2 701.0,776.0 701.6,786.2 702.2,771.0 702.8,791.5 703.4,774.5 704.0,789.4 704.6,781.5 705.2,770.6 705.8,780.8 706.4,791.7 707.0,783.1 707.6,776.6 708.2,793.5 708.8,791.1 709.4,801.0 710.0,787.7 710.6,791.5 711.2,787.0 711.8,794.0 712.4,782.6 713.0,795.7 713.6,777.3 714.2,773.0 714.8,785.2 715.4,787.6 716.0,752.5 716.6,775.1 717.2,773.2 717.8,786.6 718.4,776.4 719.0,786.7 719.6,778.9 720.2,771.8 720.8,792.8 721.4,774.2 722.0,776.9 722.6,780.6 723.2,783.1 723.8,792.0 724.4,785.6 725.0,775.1 725.6,791.2 726.2,778.2 726.8,770.5 727.4,770.4 728.0,774.4 728.6,779.2 729.2,795.2 729.8,776.6 730.4,795.4 731.0,780.0 731.6,780.5 732.2,788.1 732.8,789.4 733.4,801.0 734.0,795.6 734.6,799.5 735.2,803.3 735.8,800.7 736.4,782.8 737.0,779.7 737.6,798.8 738.2,800.8 738.8,794.1 739.4,798.8 740.0,799.7 740.6,790.6 741.2,792.6 741.8,779.1 742.4,797.6 743.0,784.9 743.6,795.9 744.2,793.2 744.8,793.8 745.4,782.4 746.0,800.3 746.6,789.0 747.2,799.6 747.8,782.8 748.4,796.1 749.0,792.6 749.6,780.9 750.2,787.5 750.8,803.4 751.4,800.5 752.0,777.2 752.6,800.1 753.2,792.8 753.8,775.3 754.4,799.5 755.0,793.5 755.6,792.2 756.2,797.0 756.8,787.0 757.4,784.4 758.0,789.5 758.6,795.4 759.2,777.1 759.8,776.1 760.4,782.4 761.0,792.2 761.6,783.4 762.2,782.2 762.8,787.0 763.4,773.7 764.0,784.8 764.6,800.4 765.2,790.7 765.8,780.9 766.4,774.0 767.0,775.7 767.6,785.8 768.2,768.7 768.8,775.1 769.4,782.8 770.0,785.0 770.6,775.4 771.2,791.2 771.8,778.9 772.4,777.8 773.0,785.7 773.6,774.1 774.2,784.5 774.8,782.2 775.4,810.9 776.0,769.0 776.6,786.4 777.2,773.5 777.8,781.9 778.4,769.7 779.0,767.9 779.6,790.5 780.2,763.0 780.8,775.2 781.4,790.1 782.0,776.4 782.6,790.7 783.2,777.7 783.8,786.3 784.4,780.6 785.0,784.4 785.6,775.9 786.2,770.1 786.8,766.4 787.4,780.7 788.0,775.0 788.6,791.1 789.2,784.5 789.8,766.5 790.4,787.7 791.0,767.6 791.6,772.1 792.2,783.7 792.8,773.8 793.4,787.6 794.0,770.7 794.6,793.0 795.2,794.2 795.8,777.2 796.4,786.0 797.0,793.3 797.6,783.2 798.2,789.5 798.8,782.3 799.4,780.1 800.0,780.1 800.6,799.8 801.2,783.9 801.8,772.7 802.4,786.5 803.0,779.5 803.6,794.5 804.2,773.9 804.8,783.2 805.4,775.8 806.0,779.9 806.6,776.8 807.2,795.8 807.8,780.4 808.4,791.8 809.0,788.3 809.6,789.1 810.2,782.3 810.8,782.4 811.4,775.4 812.0,798.3 812.6,796.7 813.2,793.0 813.8,779.2 814.4,784.1 815.0,783.0 815.6,777.3 816.2,779.5 816.8,770.3 817.4,791.2 818.0,779.8 818.6,767.5 819.2,774.1 819.8,787.9 820.4,780.8 821.0,783.9 821.6,764.3 822.2,776.4 822.8,769.6 823.4,771.7 824.0,783.0 824.6,778.2 825.2,770.7 825.8,774.3 826.4,781.1 827.0,775.9 827.6,782.5 828.2,770.7 828.8,788.5 829.4,788.6 830.0,769.6 830.6,782.2 831.2,767.9 831.8,772.1 832.4,775.3 833.0,788.3 833.6,770.1 834.2,789.2 834.8,768.4 835.4,768.0 836.0,782.0 836.6,788.7 837.2,767.8 837.8,761.8 838.4,786.3 839.0,776.4 839.6,783.5 840.2,779.3 840.8,773.9 841.4,767.8 842.0,769.4 842.6,784.7 843.2,776.8 843.8,779.2 844.4,770.6 845.0,794.3 845.6,783.0 846.2,773.7 846.8,786.8 847.4,789.6 848.0,782.0 848.6,788.4 849.2,771.9 849.8,795.0 850.4,791.2 851.0,793.1 851.6,777.6 852.2,791.3 852.8,772.0 853.4,771.7 854.0,769.9 854.6,786.0 855.2,792.2 855.8,783.6 856.4,768.5 857.0,773.0 857.6,791.0 858.2,776.1 858.8,769.7 859.4,769.0 860.0,777.7 860.6,774.2 861.2,773.6 861.8,787.8 862.4,792.6 863.0,776.7 863.6,793.0 864.2,787.3 864.8,771.3 865.4,783.4 866.0,784.8 866.6,774.8 867.2,791.2 867.8,773.8 868.4,774.6 869.0,790.3 869.6,792.4 870.2,795.4 870.8,774.0 871.4,794.8 872.0,798.7 872.6,777.2 873.2,784.5 873.8,785.0 874.4,783.9 875.0,802.4 875.6,799.7 876.2,789.3 876.8,801.0 877.4,788.8 878.0,781.4 878.6,784.5 879.2,789.2 879.8,802.0 880.4,796.5 881.0,780.6 881.6,800.2 882.2,790.9 882.8,799.5 883.4,776.3 884.0,793.4 884.6,788.1 885.2,788.0 885.8,781.8 886.4,778.3 887.0,783.1 887.6,809.2 888.2,793.9 888.8,778.1 889.4,771.2 890.0,795.9 890.6,775.1 891.2,789.9 891.8,782.8 892.4,780.0 893.0,779.5 893.6,769.1 894.2,773.7 894.8,782.5 895.4,772.8 896.0,779.2 896.6,781.6 897.2,783.6 897.8,781.4 898.4,786.4 899.0,787.5 899.6,790.9 900.2,783.3 900.8,787.6 901.4,775.5 902.0,774.8 902.6,786.7 903.2,779.9 903.8,774.1 904.4,788.8 905.0,782.4 905.6,786.3 906.2,778.8 906.8,770.3 907.4,791.3 908.0,769.5 908.6,777.3 909.2,773.7 909.8,778.5 910.4,771.2 911.0,785.1 911.6,777.3 912.2,789.0 912.8,780.6 913.4,778.0 914.0,792.3 914.6,796.4 915.2,779.1 915.8,779.6 916.4,784.0 917.0,767.9 917.6,783.6 918.2,797.7 918.8,784.7 919.4,787.5 920.0,788.1 920.6,790.3 921.2,796.5 921.8,784.5 922.4,789.4 923.0,781.6 923.6,790.6 924.2,795.8 924.8,783.6 925.4,780.4 926.0,770.6 926.6,773.2 927.2,793.0 927.8,772.2 928.4,784.3 929.0,772.8 929.6,781.9 930.2,782.4 930.8,778.3 931.4,774.9 932.0,769.9 932.6,771.5 933.2,771.9 933.8,778.8 934.4,770.9 935.0,780.0 935.6,771.0 936.2,775.0 936.8,774.4 937.4,789.9 938.0,777.7 938.6,785.6 939.2,780.2 939.8,787.0 940.4,775.6 941.0,770.4 941.6,782.9 942.2,790.1 942.8,777.9 943.4,791.5 944.0,774.4 944.6,794.7 945.2,789.7 945.8,784.4 946.4,794.6 947.0,789.3 947.6,791.1 948.2,781.2 948.8,774.8 949.4,789.5 950.0,776.3 950.6,792.7 951.2,781.6 951.8,786.0 952.4,788.2 953.0,772.9 953.6,774.2 954.2,788.6 954.8,785.7 955.4,771.4 956.0,766.1 956.6,776.2 957.2,770.8 957.8,768.4 958.4,773.9 959.0,778.8 959.6,791.3 960.2,787.2 960.8,781.4 961.4,773.9 962.0,792.1 962.6,791.9 963.2,802.6 963.8,786.2 964.4,791.8 965.0,781.4 965.6,795.9 966.2,783.7 966.8,784.1 967.4,789.9 968.0,796.4 968.6,790.4 969.2,779.7 969.8,792.0 970.4,794.7 971.0,782.0 971.6,788.4 972.2,774.2 972.8,771.8 973.4,770.7 974.0,773.3 974.6,777.2 975.2,788.9 975.8,772.4 976.4,775.3 977.0,774.6 977.6,776.4 978.2,774.4 978.8,790.8 979.4,781.2 980.0,787.0 980.6,792.7 981.2,794.3 981.8,800.1 982.4,789.4 983.0,794.9 983.6,793.4 984.2,783.7 984.8,784.8 985.4,784.3 986.0,774.8 986.6,795.2 987.2,787.1 987.8,796.5 988.4,789.7 989.0,773.5 989.6,795.0 990.2,778.0 990.8,775.6 991.4,786.9 992.0,779.3 992.6,789.8 993.2,792.6 993.8,790.9 994.4,798.9 995.0,799.5 995.6,799.1 996.2,782.3 996.8,798.3 997.4,802.4 998.0,784.0 998.6,802.0 999.2,778.8 999.8,780.7 1000.4,782.3 1001.0,785.4 1001.6,790.8 1002.2,791.8 1002.8,790.8 1003.4,786.0 1004.0,782.8 1004.6,769.0 1005.2,779.8 1005.8,768.2 1006.4,776.1 1007.0,792.4 1007.6,785.1 1008.2,793.6 1008.8,794.9 1009.4,772.6 1010.0,789.8 1010.6,792.2 1011.2,793.0 1011.8,779.2 1012.4,782.4 1013.0,795.4 1013.6,777.0 1014.2,788.7 1014.8,776.3 1015.4,783.5 1016.0,781.3 1016.6,780.1 1017.2,778.5 1017.8,770.3 1018.4,775.1 1019.0,794.6 1019.6,785.3 1020.2,793.5 1020.8,797.0 1021.4,796.1 1022.0,795.1 1022.6,777.0 1023.2,784.2 1023.8,780.1 1024.4,781.7 1025.0,791.8 1025.6,790.2 1026.2,787.1 1026.8,792.0 1027.4,790.2 1028.0,781.8 1028.6,799.5 1029.2,794.5 1029.8,789.0 1030.4,781.9 1031.0,781.2 1031.6,780.4 1032.2,795.0 1032.8,793.5 1033.4,790.0 1034.0,790.8 1034.6,779.6 1035.2,774.9 1035.8,782.8 1036.4,799.4 1037.0,791.9 1037.6,778.6 1038.2,773.7 1038.8,783.8 1039.4,790.1 1040.0,789.2 1040.6,781.3 1041.2,773.7 1041.8,787.1 1042.4,793.4 1043.0,799.0 1043.6,796.5 1044.2,776.9 1044.8,783.8 1045.4,774.5 1046.0,797.7 1046.6,794.1 1047.2,785.1 1047.8,790.9 1048.4,808.3 1049.0,802.5 1049.6,797.0 1050.2,795.7 1050.8,804.0 1051.4,810.2 1052.0,790.6 1052.6,805.7 1053.2,800.3 1053.8,595.3 1054.4,820.2 1055.0,819.0 1055.6,817.9 1056.2,816.6 1056.8,817.6 1057.4,814.4 1058.0,817.5 1058.6,818.2 1059.2,809.2 1059.8,830.2 1060.4,827.1 1061.0,808.0 1061.6,813.0 1062.2,815.6 1062.8,819.0 1063.4,809.1 1064.0,814.6 1064.6,800.6 1065.2,799.6 1065.8,852.4 1066.4,811.9 1067.0,788.5 1067.6,801.3 1068.2,790.3 1068.8,785.0 1069.4,786.9 1070.0,784.6 1070.6,793.2 1071.2,782.7 1071.8,791.0 1072.4,795.7 1073.0,790.9 1073.6,794.0 1074.2,780.5 1074.8,780.2 1075.4,799.9 1076.0,797.7 1076.6,792.4 1077.2,790.4 1077.8,776.6 1078.4,776.3 1079.0,774.5 1079.6,780.3 1080.2,782.1 1080.8,793.7 1081.4,814.4 1082.0,802.0 1082.6,782.1 1083.2,798.1 1083.8,800.1 1084.4,792.5 1085.0,791.9 1085.6,782.8 1086.2,800.3 1086.8,795.5 1087.4,779.3 1088.0,779.7 1088.6,786.4 1089.2,787.5 1089.8,795.8 1090.4,778.8 1091.0,782.6 1091.6,787.3 1092.2,797.7 1092.8,797.0 1093.4,793.3 1094.0,797.4 1094.6,803.8 1095.2,796.9 1095.8,796.3 1096.4,801.6 1097.0,801.0 1097.6,786.8 1098.2,802.9 1098.8,797.6 1099.4,800.0 1100.0,808.0 1100.6,794.1 1101.2,799.2 1101.8,800.3 1102.4,796.8 1103.0,795.8 1103.6,792.3 1104.2,794.2 1104.8,796.9 1105.4,794.8 1106.0,808.8 1106.6,797.4 1107.2,809.4 1107.8,810.0 1108.4,813.0 1109.0,804.8 1109.6,815.3 1110.2,800.1 1110.8,798.5 1111.4,796.3 1112.0,811.8 1112.6,798.6 1113.2,790.9 1113.8,811.1 1114.4,806.0 1115.0,804.8 1115.6,797.5 1116.2,803.5 1116.8,792.5 1117.4,798.9 1118.0,791.1 1118.6,791.4 1119.2,787.4 1119.8,798.6 1120.4,788.2 1121.0,786.5 1121.6,787.9 1122.2,808.9 1122.8,793.5 1123.4,808.4 1124.0,821.4 1124.6,823.7 1125.2,827.8 1125.8,834.2 1126.4,847.4 1127.0,851.0 1127.6,857.1 1128.2,854.1 1128.8,867.4 1129.4,879.2 1130.0,872.4 1130.6,880.7 1131.2,885.7 1131.8,863.7 1132.4,886.4 1133.0,886.2 1133.6,893.1 1134.2,902.1 1134.8,884.0 1135.4,881.5 1136.0,901.1 1136.6,890.6 1137.2,888.0 1137.8,892.8 1138.4,879.4 1139.0,876.8 1139.6,878.6 1140.2,881.4 1140.8,895.6 1141.4,886.1 1142.0,875.6 1142.6,865.2 1143.2,869.4 1143.8,860.5 1144.4,845.3 1145.0,860.9 1145.6,849.5 1146.2,842.7 1146.8,819.5 1147.4,831.6 1148.0,828.4 1148.6,811.5 1149.2,800.2 1149.8,806.0 1150.4,786.8 1151.0,801.2 1151.6,789.0 1152.2,802.3 1152.8,783.8 1153.4,802.9 1154.0,789.3 1154.6,789.1 1155.2,802.6 1155.8,803.5 1156.4,791.0 1157.0,793.0 1157.6,793.4 1158.2,785.6 1158.8,794.8 1159.4,796.2 1160.0,797.0 1160.6,797.0 1161.2,798.4 1161.8,804.2 1162.4,799.4 1163.0,798.7 1163.6,797.6 1164.2,788.1 1164.8,805.7 1165.4,805.2 1166.0,795.9 1166.6,802.5 1167.2,805.8 1167.8,802.6 1168.4,798.0 1169.0,794.6 1169.6,787.7 1170.2,788.7 1170.8,802.4 1171.4,802.1 1172.0,804.3 1172.6,808.7 1173.2,787.0 1173.8,810.8 1174.4,805.1 1175.0,793.7 1175.6,795.6 1176.2,802.7 1176.8,786.5 1177.4,801.0 1178.0,795.8 1178.6,809.5 1179.2,789.0 1179.8,806.7 1180.4,798.8 1181.0,786.7 1181.6,784.7 1182.2,787.1 1182.8,787.7 1183.4,803.5 1184.0,808.5 1184.6,796.3 1185.2,803.3 1185.8,782.2 1186.4,807.0 1187.0,798.6 1187.6,801.1 1188.2,805.9 1188.8,795.4 1189.4,805.9 1190.0,784.1 1190.6,789.9 1191.2,797.2 1191.8,785.7 1192.4,787.0 1193.0,797.5 1193.6,783.5 1194.2,783.9 1194.8,788.2 1195.4,793.0 1196.0,778.1 1196.6,773.3 1197.2,790.3 1197.8,794.4 1198.4,773.2 1199.0,777.3 1199.6,787.5 1200.2,782.2 1200.8,789.4 1201.4,771.4 1202.0,790.4 1202.6,794.7 1203.2,797.3 1203.8,790.0 1204.4,772.5 1205.0,795.5 1205.6,791.2 1206.2,776.0 1206.8,803.3 1207.4,797.2 1208.0,781.7 1208.6,799.1 1209.2,774.0 1209.8,778.5 1210.4,798.3 1211.0,784.5 1211.6,785.2 1212.2,782.0 1212.8,789.2 1213.4,789.2 1214.0,792.0 1214.6,790.5 1215.2,794.7 1215.8,774.9 1216.4,775.4 1217.0,790.1 1217.6,782.7 1218.2,789.8 1218.8,792.5 1219.4,790.1 1220.0,775.2 1220.6,789.6 1221.2,782.6 1221.8,777.5 1222.4,793.6 1223.0,777.3 1223.6,793.7 1224.2,777.5 1224.8,774.3 1225.4,774.2 1226.0,773.0 1226.6,779.4 1227.2,771.0 1227.8,788.3 1228.4,782.6 1229.0,789.6 1229.6,794.7 1230.2,785.9 1230.8,776.7 1231.4,775.6 1232.0,796.4 1232.6,776.2 1233.2,794.8 1233.8,793.1 1234.4,776.6 1235.0,773.2 1235.6,777.9 1236.2,789.9 1236.8,786.7 1237.4,776.3 1238.0,790.5 1238.6,777.8 1239.2,778.4 1239.8,786.8 1240.4,777.0 1241.0,790.4 1241.6,780.7 1242.2,781.1 1242.8,790.4 1243.4,788.4 1244.0,785.3 1244.6,785.7 1245.2,796.0 1245.8,771.4 1246.4,774.0 1247.0,795.9 1247.6,771.9 1248.2,785.5 1248.8,795.3 1249.4,776.3 1250.0,786.8 1250.6,779.2 1251.2,777.5 1251.8,786.2 1252.4,798.5 1253.0,780.6 1253.6,786.4 1254.2,778.5 1254.8,798.7 1255.4,785.2 1256.0,783.6 1256.6,798.2 1257.2,793.5 1257.8,795.6 1258.4,804.3 1259.0,798.9 1259.6,795.1 1260.2,800.3 1260.8,781.5 1261.4,789.7 1262.0,787.8 1262.6,791.4 1263.2,790.1 1263.8,778.3 1264.4,784.4 1265.0,781.4 1265.6,786.9 1266.2,784.7 1266.8,777.0 1267.4,793.5 1268.0,788.2 1268.6,784.3 1269.2,799.9 1269.8,778.7 1270.4,790.0 1271.0,796.5 1271.6,785.8 1272.2,785.5 1272.8,791.9 1273.4,786.8 1274.0,807.0 1274.6,795.5 1275.2,789.1 1275.8,784.8 1276.4,790.6 1277.0,790.4 1277.6,797.1 1278.2,793.1 1278.8,793.3 1279.4,783.7 1280.0,783.9 1280.6,786.4 1281.2,780.6 1281.8,800.0 1282.4,779.3 1283.0,786.5 1283.6,803.1 1284.2,789.1 1284.8,783.3 1285.4,774.4 1286.0,794.2 1286.6,785.8 1287.2,778.1 1287.8,768.4 1288.4,784.3 1289.0,770.0 1289.6,784.4 1290.2,783.6 1290.8,779.6 1291.4,779.9 1292.0,774.9 1292.6,777.1 1293.2,793.8 1293.8,781.9 1294.4,783.9 1295.0,788.6 1295.6,778.3 1296.2,778.4 1296.8,790.3 1297.4,779.7 1298.0,799.5 1298.6,800.7 1299.2,785.5 1299.8,796.1 1300.4,786.2 1301.0,789.3 1301.6,796.6 1302.2,782.2 1302.8,783.3 1303.4,802.0 1304.0,800.8 1304.6,785.7 1305.2,782.1 1305.8,781.7 1306.4,791.6 1307.0,793.8 1307.6,790.5 1308.2,796.9 1308.8,788.6 1309.4,797.4 1310.0,797.9 1310.6,792.4 1311.2,799.9 1311.8,788.4 1312.4,780.7 1313.0,782.6 1313.6,775.3 1314.2,778.4 1314.8,785.5 1315.4,778.3 1316.0,793.6 1316.6,784.3 1317.2,799.4 1317.8,793.2 1318.4,779.0 1319.0,792.2 1319.6,794.7 1320.2,789.9 1320.8,804.2 1321.4,790.9 1322.0,814.8 1322.6,811.4 1323.2,812.5 1323.8,810.4 1324.4,767.7 1325.0,815.5 1325.6,805.1 1326.2,797.4 1326.8,794.9 1327.4,792.5 1328.0,800.7 1328.6,805.7 1329.2,784.9 1329.8,803.6 1330.4,804.0 1331.0,796.8 1331.6,788.9 1332.2,775.7 1332.8,781.5 1333.4,787.1 1334.0,788.3 1334.6,784.9 1335.2,787.0 1335.8,794.1 1336.4,801.9 1337.0,799.5 1337.6,784.7 1338.2,789.5 1338.8,784.2 1339.4,804.9 1340.0,779.7 1340.6,792.7 1341.2,777.8 1341.8,785.5 1342.4,786.1 1343.0,775.9 1343.6,780.6 1344.2,778.0 1344.8,790.6 1345.4,777.9 1346.0,786.0 1346.6,791.2 1347.2,789.9 1347.8,780.8 1348.4,787.7 1349.0,773.9 1349.6,791.9 1350.2,796.6 1350.8,770.0 1351.4,788.4 1352.0,785.4 1352.6,796.4 1353.2,797.7 1353.8,794.9 1354.4,784.4 1355.0,803.9 1355.6,779.3 1356.2,773.0 1356.8,783.7 1357.4,787.4 1358.0,790.1 1358.6,791.6 1359.2,785.1 1359.8,769.1 1360.4,793.6 1361.0,769.7 1361.6,772.2 1362.2,789.9 1362.8,788.1 1363.4,767.8 1364.0,769.7 1364.6,781.0 1365.2,765.5 1365.8,784.6 1366.4,780.2 1367.0,790.8 1367.6,776.7 1368.2,796.0 1368.8,795.7 1369.4,777.0 1370.0,786.2 1370.6,780.5 1371.2,776.5 1371.8,779.4 1372.4,790.0 1373.0,773.5 1373.6,789.4 1374.2,782.8 1374.8,777.8 1375.4,787.6 1376.0,787.1 1376.6,770.1 1377.2,766.5 1377.8,776.5 1378.4,775.2 1379.0,779.0 1379.6,770.5 1380.2,771.1 1380.8,760.2 1381.4,788.0 1382.0,765.4 1382.6,765.3 1383.2,787.9 1383.8,778.4 1384.4,774.5 1385.0,777.8 1385.6,786.6 1386.2,773.6 1386.8,764.4 1387.4,789.2 1388.0,779.3 1388.6,792.4 1389.2,770.3 1389.8,772.6 1390.4,791.8 1391.0,770.8 1391.6,769.8 1392.2,785.0 1392.8,774.2 1393.4,770.3 1394.0,783.1 1394.6,778.1 1395.2,764.3 1395.8,775.4 1396.4,779.5 1397.0,790.9 1397.6,789.6 1398.2,767.6 1398.8,770.3 1399.4,769.0 1400.0,776.3 1400.6,778.9 1401.2,779.9 1401.8,774.4 1402.4,784.6 1403.0,780.4 1403.6,782.8 1404.2,779.8 1404.8,792.5 1405.4,798.8 1406.0,798.7 1406.6,793.8 1407.2,772.6 1407.8,776.5 1408.4,773.7 1409.0,783.0 1409.6,791.0 1410.2,780.4 1410.8,765.8 1411.4,776.4 1412.0,771.4 1412.6,778.9 1413.2,784.5 1413.8,768.9 1414.4,774.1 1415.0,776.3 1415.6,781.2 1416.2,769.1 1416.8,782.4 1417.4,776.4 1418.0,786.4 1418.6,772.9 1419.2,784.4 1419.8,784.5 1420.4,772.5 1421.0,780.9 1421.6,781.1 1422.2,793.2 1422.8,780.0 1423.4,790.8 1424.0,773.4 1424.6,773.4 1425.2,779.4 1425.8,773.6 1426.4,783.4 1427.0,777.7 1427.6,795.2 1428.2,770.4 1428.8,774.9 1429.4,791.7 1430.0,786.8 1430.6,776.5 1431.2,771.0 1431.8,789.0 1432.4,764.1 1433.0,781.2 1433.6,763.6 1434.2,774.4 1434.8,780.4 1435.4,782.2 1436.0,787.0 1436.6,787.1 1437.2,772.6 1437.8,766.9 1438.4,765.4 1439.0,783.1 1439.6,766.8 1440.2,783.9 1440.8,763.9 1441.4,765.2 1442.0,788.9 1442.6,767.0 1443.2,769.4 1443.8,769.9 1444.4,768.6 1445.0,778.1 1445.6,778.5 1446.2,779.7 1446.8,765.9 1447.4,764.3 1448.0,783.5 1448.6,767.2 1449.2,781.6 1449.8,784.6 1450.4,785.4 1451.0,773.4 1451.6,784.3 1452.2,782.4 1452.8,786.0 1453.4,777.9 1454.0,766.9 1454.6,790.7 1455.2,778.9 1455.8,775.5 1456.4,791.6 1457.0,784.7 1457.6,764.2 1458.2,762.2 1458.8,767.1 1459.4,785.6 1460.0,768.2 1460.6,747.9 1461.2,786.9 1461.8,780.2 1462.4,766.2 1463.0,768.3 1463.6,779.8 1464.2,788.6 1464.8,763.4 1465.4,760.6 1466.0,775.4 1466.6,783.3 1467.2,774.3 1467.8,770.1 1468.4,776.9 1469.0,779.8 1469.6,781.9 1470.2,780.7 1470.8,787.6 1471.4,752.1 1472.0,761.8 1472.6,788.1 1473.2,766.9 1473.8,766.4 1474.4,776.3 1475.0,769.9 1475.6,789.2 1476.2,783.6 1476.8,791.5 1477.4,797.1 1478.0,812.0 1478.6,806.7 1479.2,818.5 1479.8,832.4 1480.4,834.4 1481.0,854.6 1481.6,844.4 1482.2,860.7 1482.8,861.4 1483.4,891.9 1484.0,876.3 1484.6,901.9 1485.2,883.0 1485.8,892.1 1486.4,885.4 1487.0,860.1 1487.6,881.9 1488.2,864.4 1488.8,866.8 1489.4,836.3 1490.0,860.8 1490.6,846.8 1491.2,827.1 1491.8,810.7 1492.4,826.7 1493.0,811.2 1493.6,853.4 1494.2,820.7 1494.8,814.1 1495.4,812.8 1496.0,812.0 1496.6,840.7 1497.2,838.8 1497.8,803.0 1498.4,810.5 1499.0,828.9 1499.6,841.7 1500.2,808.9 1500.8,830.1 1501.4,790.6 1502.0,811.7 1502.6,779.8 1503.2,817.6 1503.8,794.1 1504.4,813.4 1505.0,770.5 1505.6,780.6 1506.2,797.9 1506.8,752.1 1507.4,763.8 1508.0,782.6 1508.6,746.5 1509.2,773.6 1509.8,734.0 1510.4,776.5 1511.0,731.2 1511.6,791.4 1512.2,748.6 1512.8,777.1 1513.4,767.1 1514.0,756.1 1514.6,793.1 1515.2,780.2 1515.8,786.7 1516.4,747.7 1517.0,778.2 1517.6,761.0 1518.2,747.1 1518.8,776.3 1519.4,728.4 1520.0,756.6 1520.6,747.2 1521.2,743.9 1521.8,735.0 1522.4,773.2 1523.0,783.2 1523.6,760.5 1524.2,781.3 1524.8,791.4 1525.4,735.5 1526.0,754.1 1526.6,768.0 1527.2,786.6 1527.8,746.8 1528.4,763.3 1529.0,785.9 1529.6,735.5 1530.2,738.2 1530.8,738.8 1531.4,743.5 1532.0,761.6 1532.6,774.4 1533.2,750.6 1533.8,785.3 1534.4,753.1 1535.0,789.1 1535.6,792.6 1536.2,746.9 1536.8,769.5 1537.4,747.1 1538.0,740.3 1538.6,736.0 1539.2,751.9 1539.8,738.6 1540.4,752.4 1541.0,735.8 1541.6,739.2 1542.2,794.3 1542.8,779.1 1543.4,772.1 1544.0,781.7 1544.6,785.0 1545.2,740.3 1545.8,796.0 1546.4,785.8 1547.0,749.7 1547.6,784.3 1548.2,778.6 1548.8,735.0 1549.4,748.1 1550.0,768.5 1550.6,786.4 1551.2,778.6 1551.8,731.2 1552.4,742.7 1553.0,789.6 1553.6,751.8 1554.2,774.2 1554.8,753.6 1555.4,780.4 1556.0,792.1 1556.6,797.4 1557.2,781.2 1557.8,743.1 1558.4,741.5 1559.0,756.3 1559.6,753.0 1560.2,785.7 1560.8,776.1 1561.4,741.0 1562.0,735.8 1562.6,768.5 1563.2,744.3 1563.8,734.2 1564.4,729.3 1565.0,772.5 1565.6,753.4 1566.2,772.1 1566.8,767.4 1567.4,766.1 1568.0,777.1 1568.6,794.4 1569.2,747.2 1569.8,751.4 1570.4,742.9 1571.0,786.3 1571.6,780.1 1572.2,760.3 1572.8,735.0 1573.4,766.7 1574.0,786.2 1574.6,758.2 1575.2,732.7 1575.8,739.6 1576.4,738.4 1577.0,770.9 1577.6,781.1 1578.2,742.0 1578.8,748.3 1579.4,744.1 1580.0,773.7 1580.6,779.6 1581.2,781.8 1581.8,744.4 1582.4,742.1 1583.0,777.7 1583.6,745.7 1584.2,777.8 1584.8,770.4 1585.4,767.8 1586.0,795.8 1586.6,799.0 1587.2,807.5 1587.8,814.1 1588.4,804.7 1589.0,837.5 1589.6,804.0 1590.2,851.8 1590.8,841.7 1591.4,835.7 1592.0,874.2 1592.6,857.7 1593.2,847.5 1593.8,848.7 1594.4,831.7 1595.0,834.6 1595.6,863.5 1596.2,830.1 1596.8,840.3 1597.4,833.4 1598.0,854.5 1598.6,830.6 1599.2,813.4 1599.8,801.7 1600.4,794.8 1601.0,802.6 1601.6,775.4 1602.2,776.0 1602.8,762.7 1603.4,747.1 1604.0,755.2 1604.6,738.5 1605.2,740.6 1605.8,743.4 1606.4,759.0 1607.0,732.9 1607.6,767.1 1608.2,747.3 1608.8,742.9 1609.4,766.1 1610.0,748.1 1610.6,747.9 1611.2,769.2 1611.8,743.4 1612.4,758.5 1613.0,765.8 1613.6,775.3 1614.2,750.1 1614.8,765.3 1615.4,760.2 1616.0,770.7 1616.6,759.0 1617.2,769.1 1617.8,756.0 1618.4,761.5 1619.0,760.2 1619.6,777.2 1620.2,782.5 1620.8,756.4 1621.4,753.7 1622.0,762.9 1622.6,755.3 1623.2,764.2 1623.8,767.1 1624.4,785.6 1625.0,773.4 1625.6,765.8 1626.2,771.0 1626.8,764.2 1627.4,760.1 1628.0,774.3 1628.6,761.9 1629.2,767.1 1629.8,752.5 1630.4,749.2 1631.0,754.8 1631.6,751.5 1632.2,751.4 1632.8,764.4 1633.4,761.3 1634.0,747.7 1634.6,747.6 1635.2,772.6 1635.8,778.9 1636.4,748.9 1637.0,751.6 1637.6,760.6 1638.2,752.5 1638.8,762.5 1639.4,750.2 1640.0,771.7 1640.6,765.6 1641.2,759.6 1641.8,774.1 1642.4,758.9 1643.0,772.8 1643.6,756.5 1644.2,752.4 1644.8,764.8 1645.4,746.0 1646.0,760.1 1646.6,757.4 1647.2,782.5 1647.8,779.6 1648.4,762.6 1649.0,757.3 1649.6,767.1 1650.2,757.9 1650.8,786.3 1651.4,756.3 1652.0,756.8 1652.6,766.0 1653.2,772.9 1653.8,764.5 1654.4,777.7 1655.0,764.1 1655.6,762.4 1656.2,766.6 1656.8,775.8 1657.4,781.0 1658.0,774.7 1658.6,755.7 1659.2,774.6 1659.8,776.7 1660.4,772.9 1661.0,764.0 1661.6,759.2 1662.2,750.1 1662.8,749.8 1663.4,746.2 1664.0,747.9 1664.6,763.8 1665.2,776.8 1665.8,743.6 1666.4,776.8 1667.0,759.1 1667.6,775.9 1668.2,751.2 1668.8,781.9 1669.4,770.9 1670.0,779.4 1670.6,749.9 1671.2,761.5 1671.8,761.9 1672.4,777.0 1673.0,783.3 1673.6,749.8 1674.2,754.8 1674.8,754.6 1675.4,741.8 1676.0,762.4 1676.6,781.1 1677.2,761.6 1677.8,775.1 1678.4,767.2 1679.0,772.2 1679.6,767.7 1680.2,750.5 1680.8,753.9 1681.4,762.7 1682.0,757.1 1682.6,755.1 1683.2,760.2 1683.8,773.4 1684.4,754.9 1685.0,775.8 1685.6,793.2 1686.2,783.9 1686.8,766.3 1687.4,778.7 1688.0,777.1 1688.6,778.6 1689.2,787.5 1689.8,793.3 1690.4,795.2 1691.0,765.1 1691.6,782.4 1692.2,775.3 1692.8,749.5 1693.4,767.1 1694.0,755.2 1694.6,757.5 1695.2,747.3 1695.8,789.7 1696.4,776.3 1697.0,748.1 1697.6,771.4 1698.2,748.8 1698.8,784.7 1699.4,789.4 1700.0,749.3 1700.6,771.9 1701.2,766.6 1701.8,748.5 1702.4,782.2 1703.0,747.4 1703.6,773.4 1704.2,783.1 1704.8,785.2 1705.4,768.8 1706.0,773.0 1706.6,753.0 1707.2,794.7 1707.8,798.0 1708.4,791.7 1709.0,770.7 1709.6,761.5 1710.2,773.3 1710.8,766.1 1711.4,762.6 1712.0,792.3 1712.6,782.8 1713.2,712.1 1713.8,775.7 1714.4,747.8 1715.0,768.0 1715.6,781.5 1716.2,791.4 1716.8,779.8 1717.4,774.2 1718.0,767.0 1718.6,768.6 1719.2,767.6 1719.8,770.9 1720.4,794.9 1721.0,785.4 1721.6,750.1 1722.2,791.7 1722.8,759.0 1723.4,772.2 1724.0,760.3 1724.6,780.4 1725.2,779.2 1725.8,769.9 1726.4,751.0 1727.0,781.8 1727.6,794.8 1728.2,794.8 1728.8,777.6 1729.4,780.7 1730.0,788.9 1730.6,767.9 1731.2,774.0 1731.8,771.9 1732.4,793.0 1733.0,782.7 1733.6,788.4 1734.2,799.5 1734.8,756.3 1735.4,780.8 1736.0,795.2 1736.6,756.2 1737.2,752.8 1737.8,761.6 1738.4,790.1 1739.0,794.8 1739.6,777.3 1740.2,769.2 1740.8,757.2 1741.4,753.4 1742.0,754.7 1742.6,780.1 1743.2,796.0 1743.8,790.7 1744.4,774.1 1745.0,795.7 1745.6,794.0 1746.2,791.3 1746.8,782.2 1747.4,780.0 1748.0,759.3 1748.6,789.2 1749.2,790.3 1749.8,763.5 1750.4,761.2 1751.0,758.8 1751.6,759.6 1752.2,763.1 1752.8,767.9 1753.4,756.8 1754.0,787.2 1754.6,781.8 1755.2,758.7 1755.8,785.5 1756.4,770.0 1757.0,784.5 1757.6,778.1 1758.2,759.8 1758.8,766.1 1759.4,778.2 1760.0,787.6 1760.6,761.9 1761.2,766.0 1761.8,776.7 1762.4,756.9 1763.0,765.5 1763.6,751.7 1764.2,766.8 1764.8,753.3 1765.4,768.3 1766.0,757.8 1766.6,749.6 1767.2,784.5 1767.8,767.1 1768.4,733.9 1769.0,786.2 1769.6,750.3 1770.2,754.7 1770.8,744.4 1771.4,771.9 1772.0,769.1 1772.6,747.2 1773.2,769.4 1773.8,751.0 1774.4,771.1 1775.0,775.6 1775.6,780.6 1776.2,784.9 1776.8,775.7 1777.4,786.3 1778.0,754.7 1778.6,748.3 1779.2,792.9 1779.8,795.2 1780.4,795.9 1781.0,750.5 1781.6,793.0 1782.2,764.5 1782.8,783.6 1783.4,789.1 1784.0,787.7 1784.6,766.3 1785.2,799.1 1785.8,756.9 1786.4,772.6 1787.0,789.1 1787.6,789.8 1788.2,766.3 1788.8,768.3 1789.4,785.1 1790.0,783.5 1790.6,775.7 1791.2,753.4 1791.8,770.9 1792.4,755.3 1793.0,764.7 1793.6,767.7 1794.2,769.8 1794.8,760.1 1795.4,767.2 1796.0,756.8 1796.6,782.5 1797.2,776.2 1797.8,748.9 1798.4,771.8 1799.0,752.5 1799.6,752.8 1800.2,774.5 1800.8,798.4 1801.4,773.2 1802.0,780.1 1802.6,799.5 1803.2,777.5 1803.8,797.2 1804.4,817.5 1805.0,818.1 1805.6,815.0 1806.2,800.1 1806.8,793.8 1807.4,823.4 1808.0,829.2 1808.6,806.5 1809.2,814.4 1809.8,814.0 1810.4,801.0 1811.0,800.3 1811.6,801.0 1812.2,809.2 1812.8,832.8 1813.4,831.1 1814.0,818.3 1814.6,810.2 1815.2,836.0 1815.8,825.4 1816.4,826.4 1817.0,826.0 1817.6,829.9 1818.2,828.6 1818.8,830.1 1819.4,832.9 1820.0,823.5 1820.6,825.8 1821.2,819.9 1821.8,822.0 1822.4,814.1 1823.0,832.4 1823.6,816.7 1824.2,828.5 1824.8,820.9 1825.4,819.2 1826.0,829.9 1826.6,829.7 1827.2,824.2 1827.8,838.2 1828.4,827.7 1829.0,837.2 1829.6,832.6 1830.2,820.2 1830.8,811.7 1831.4,812.9 1832.0,831.5 1832.6,834.2 1833.2,844.2 1833.8,826.0 1834.4,827.6 1835.0,818.0 1835.6,818.9 1836.2,824.6 1836.8,822.9 1837.4,824.8 1838.0,821.4 1838.6,816.5 1839.2,816.1 1839.8,815.2 1840.4,818.9 1841.0,837.9 1841.6,830.9 1842.2,823.0 1842.8,835.8 1843.4,827.8 1844.0,839.4 1844.6,834.9 1845.2,830.0 1845.8,839.5 1846.4,830.8 1847.0,835.1 1847.6,818.5 1848.2,833.7 1848.8,832.0 1849.4,818.1 1850.0,823.9 1850.6,835.7 1851.2,831.4 1851.8,822.0 1852.4,832.3 1853.0,831.6 1853.6,825.4 1854.2,846.9 1854.8,834.7 1855.4,825.0 1856.0,822.4 1856.6,835.6 1857.2,827.8 1857.8,827.4 1858.4,812.2 1859.0,834.0 1859.6,826.4 1860.2,830.4 1860.8,817.9 1861.4,814.1 1862.0,831.6 1862.6,808.7 1863.2,810.4 1863.8,818.3 1864.4,803.2 1865.0,820.9 1865.6,810.9 1866.2,830.2 1866.8,820.5 1867.4,820.3 1868.0,809.1 1868.6,810.3 1869.2,816.5 1869.8,828.5 1870.4,819.2 1871.0,822.3 1871.6,805.8 1872.2,816.2 1872.8,825.7 1873.4,826.7 1874.0,815.5 1874.6,829.9 1875.2,811.1 1875.8,815.7 1876.4,820.3 1877.0,814.6 1877.6,826.8 1878.2,833.8 1878.8,826.1 1879.4,835.2 1880.0,833.1 1880.6,824.1 1881.2,814.0 1881.8,832.6 1882.4,824.8 1883.0,813.1 1883.6,818.1 1884.2,817.5 1884.8,822.5 1885.4,825.6 1886.0,827.5 1886.6,825.9 1887.2,829.4 1887.8,832.4 1888.4,836.5 1889.0,844.7 1889.6,837.5 1890.2,828.8 1890.8,831.5 1891.4,840.4 1892.0,823.7 1892.6,843.5 1893.2,820.2 1893.8,793.3 1894.4,827.5 1895.0,828.7 1895.6,814.6 1896.2,836.1 1896.8,835.1 1897.4,821.4 1898.0,825.7 1898.6,823.2 1899.2,818.9 1899.8,832.8 1900.4,808.5 1901.0,815.5 1901.6,831.3 1902.2,814.2 1902.8,821.9 1903.4,819.2 1904.0,817.1 1904.6,811.1 1905.2,832.3 1905.8,811.3 1906.4,826.0 1907.0,832.1 1907.6,829.0 1908.2,830.0 1908.8,814.8 1909.4,825.4 1910.0,836.4 1910.6,820.9 1911.2,826.1 1911.8,817.7 1912.4,837.3 1913.0,818.7 1913.6,818.8 1914.2,842.1 1914.8,830.0 1915.4,837.6 1916.0,825.4 1916.6,835.9 1917.2,813.2 1917.8,832.1 1918.4,818.8 1919.0,818.7 1919.6,828.1 1920.2,833.2 1920.8,819.5 1921.4,846.1 1922.0,843.3 1922.6,841.1 1923.2,837.5 1923.8,844.3 1924.4,853.7 1925.0,847.6 1925.6,846.1 1926.2,849.4 1926.8,858.4 1927.4,866.4 1928.0,879.5 1928.6,867.3 1929.2,866.9 1929.8,871.3 1930.4,859.0 1931.0,881.2 1931.6,871.6 1932.2,876.5 1932.8,875.7 1933.4,877.6 1934.0,897.1 1934.6,881.1 1935.2,898.9 1935.8,890.8 1936.4,881.3 1937.0,891.3 1937.6,887.9 1938.2,899.9 1938.8,884.7 1939.4,892.5 1940.0,886.3 1940.6,885.2 1941.2,867.1 1941.8,874.4 1942.4,866.1 1943.0,879.7 1943.6,871.7 1944.2,849.4 1944.8,864.8 1945.4,836.7 1946.0,848.5 1946.6,844.1 1947.2,836.3 1947.8,833.2 1948.4,833.1 1949.0,834.9 1949.6,826.2 1950.2,837.5 1950.8,840.1 1951.4,835.5 1952.0,843.4 1952.6,832.8 1953.2,831.1 1953.8,822.9 1954.4,843.0 1955.0,832.1 1955.6,821.6 1956.2,834.2 1956.8,818.3 1957.4,821.4 1958.0,840.2 1958.6,842.2 1959.2,817.0 1959.8,825.5 1960.4,818.8 1961.0,811.3 1961.6,819.0 1962.2,823.7 1962.8,815.2 1963.4,829.6 1964.0,840.6 1964.6,831.3 1965.2,822.0 1965.8,810.7 1966.4,820.0 1967.0,834.4 1967.6,809.8 1968.2,831.3 1968.8,835.2 1969.4,825.6 1970.0,829.2 1970.6,840.3 1971.2,819.9 1971.8,818.3 1972.4,807.9 1973.0,841.8 1973.6,814.1 1974.2,816.2 1974.8,835.9 1975.4,829.0 1976.0,821.8 1976.6,833.6 1977.2,841.5 1977.8,817.9 1978.4,842.6 1979.0,833.5 1979.6,834.8 1980.2,818.3 1980.8,832.1 1981.4,837.9 1982.0,816.5 1982.6,839.7 1983.2,824.3 1983.8,840.9 1984.4,822.7 1985.0,821.9 1985.6,818.2 1986.2,830.9 1986.8,841.0 1987.4,824.9 1988.0,811.2 1988.6,834.0 1989.2,844.3 1989.8,838.7 1990.4,809.6 1991.0,844.6 1991.6,841.7 1992.2,843.2 1992.8,812.9 1993.4,832.3 1994.0,822.1 1994.6,821.3 1995.2,831.7 1995.8,820.5 1996.4,832.7 1997.0,829.6 1997.6,839.6 1998.2,851.2 1998.8,826.7 1999.4,840.3 2000.0,840.1 2000.6,817.5 2001.2,809.3 2001.8,850.2 2002.4,827.0 2003.0,831.2 2003.6,850.7 2004.2,838.5 2004.8,827.1 2005.4,840.0 2006.0,812.0 2006.6,819.6 2007.2,831.8 2007.8,815.6 2008.4,853.5 2009.0,845.1 2009.6,815.8 2010.2,831.3 2010.8,845.2 2011.4,828.0 2012.0,821.6 2012.6,827.0 2013.2,852.0 2013.8,850.8 2014.4,834.1 2015.0,851.9 2015.6,849.5 2016.2,827.3 2016.8,834.9 2017.4,848.2 2018.0,817.6 2018.6,840.0 2019.2,818.4 2019.8,829.5 2020.4,831.3 2021.0,839.9 2021.6,828.4 2022.2,844.4 2022.8,844.3 2023.4,821.2 2024.0,848.5 2024.6,841.2 2025.2,827.1 2025.8,842.5 2026.4,841.0 2027.0,817.0 2027.6,846.5 2028.2,846.8 2028.8,821.7 2029.4,846.5 2030.0,843.0 2030.6,822.4 2031.2,846.2 2031.8,817.8 2032.4,807.4 2033.0,820.2 2033.6,847.1 2034.2,846.1 2034.8,823.5 2035.4,820.7 2036.0,845.8 2036.6,845.5 2037.2,842.2 2037.8,845.1 2038.4,834.0 2039.0,830.2 2039.6,823.3 2040.2,845.9 2040.8,839.0 2041.4,842.1 2042.0,835.6 2042.6,837.7 2043.2,806.8 2043.8,831.2 2044.4,839.2 2045.0,820.7 2045.6,808.8 2046.2,816.2 2046.8,822.5 2047.4,855.1 2048.0,829.2 2048.6,833.4 2049.2,816.8 2049.8,818.2 2050.4,827.6 2051.0,814.9 2051.6,820.7 2052.2,799.2 2052.8,833.3 2053.4,833.7 2054.0,831.8 2054.6,810.7 2055.2,812.7 2055.8,806.5 2056.4,809.0 2057.0,808.4 2057.6,818.1 2058.2,805.6 2058.8,818.6 2059.4,806.0 2060.0,819.9 2060.6,796.6 2061.2,797.0 2061.8,814.0 2062.4,797.4 2063.0,796.0 2063.6,815.6 2064.2,801.2 2064.8,805.6 2065.4,802.0 2066.0,794.3 2066.6,796.1 2067.2,812.0 2067.8,804.0 2068.4,805.3 2069.0,818.7 2069.6,815.4 2070.2,810.1 2070.8,814.7 2071.4,810.2 2072.0,798.1 2072.6,790.7 2073.2,803.1 2073.8,797.7 2074.4,790.2 2075.0,793.3 2075.6,796.1 2076.2,812.0 2076.8,788.9 2077.4,804.6 2078.0,803.2 2078.6,794.6 2079.2,791.5 2079.8,786.4 2080.4,799.3 2081.0,780.8 2081.6,787.4 2082.2,782.8 2082.8,791.0 2083.4,801.8 2084.0,798.9 2084.6,781.0 2085.2,784.3 2085.8,785.3 2086.4,789.0 2087.0,794.4 2087.6,785.5 2088.2,790.9 2088.8,774.8 2089.4,793.8 2090.0,774.3 2090.6,775.7 2091.2,786.7 2091.8,777.4 2092.4,781.6 2093.0,786.8 2093.6,777.3 2094.2,778.4 2094.8,792.9 2095.4,773.5 2096.0,795.8 2096.6,794.6 2097.2,779.5 2097.8,782.2 2098.4,779.3 2099.0,778.8 2099.6,780.0 2100.2,768.2 2100.8,766.9 2101.4,783.1 2102.0,785.0 2102.6,773.9 2103.2,786.1 2103.8,779.6 2104.4,770.9 2105.0,789.5 2105.6,770.5 2106.2,773.5 2106.8,784.3 2107.4,789.1 2108.0,781.3 2108.6,786.5 2109.2,773.4 2109.8,779.6 2110.4,787.6 2111.0,774.5 2111.6,781.3 2112.2,794.2 2112.8,789.6 2113.4,787.9 2114.0,774.5 2114.6,791.5 2115.2,787.5 2115.8,772.1 2116.4,782.1 2117.0,770.9 2117.6,764.2 2118.2,778.7 2118.8,784.1 2119.4,763.2 2120.0,773.9 2120.6,780.4 2121.2,781.8 2121.8,773.4 2122.4,781.1 2123.0,770.0 2123.6,761.2 2124.2,770.4 2124.8,774.5 2125.4,772.1 2126.0,776.5 2126.6,759.7 2127.2,780.5 2127.8,764.4 2128.4,776.2 2129.0,762.3 2129.6,762.3 2130.2,776.0 2130.8,755.7 2131.4,752.8 2132.0,764.0 2132.6,764.5 2133.2,775.1 2133.8,778.2 2134.4,763.7 2135.0,762.2 2135.6,778.1 2136.2,779.9 2136.8,773.5 2137.4,766.8 2138.0,773.3 2138.6,757.6 2139.2,763.9 2139.8,761.8 2140.4,769.6 2141.0,764.7 2141.6,758.8 2142.2,779.9 2142.8,765.6 2143.4,775.5 2144.0,757.2 2144.6,772.5 2145.2,758.9 2145.8,768.7 2146.4,760.9 2147.0,762.2 2147.6,756.9 2148.2,758.3 2148.8,771.0 2149.4,762.8 2150.0,777.3 2150.6,778.7 2151.2,763.8 2151.8,761.6 2152.4,764.1 2153.0,772.6 2153.6,771.0 2154.2,770.1 2154.8,774.6 2155.4,777.9 2156.0,764.6 2156.6,774.9 2157.2,759.5 2157.8,760.2 2158.4,759.4 2159.0,756.4 2159.6,752.9 2160.2,752.0 2160.8,761.4 2161.4,764.5 2162.0,754.2 2162.6,747.0 2163.2,754.2 2163.8,769.0 2164.4,770.8 2165.0,759.2 2165.6,751.5 2166.2,750.4 2166.8,763.8 2167.4,760.6 2168.0,762.5 2168.6,772.8 2169.2,775.2 2169.8,761.7 2170.4,760.8 2171.0,753.2 2171.6,769.0 2172.2,751.6 2172.8,765.4 2173.4,755.2 2174.0,751.9 2174.6,767.3 2175.2,747.6 2175.8,747.1 2176.4,734.4 2177.0,770.7 2177.6,752.8 2178.2,752.0 2178.8,749.7 2179.4,769.2 2180.0,768.2 2180.6,760.0 2181.2,783.0 2181.8,797.4 2182.4,805.5 2183.0,797.9 2183.6,808.0 2184.2,807.2 2184.8,806.5 2185.4,825.9 2186.0,802.5 2186.6,805.1 2187.2,803.1 2187.8,806.8 2188.4,784.5 2189.0,819.2 2189.6,799.5 2190.2,811.8 2190.8,809.0 2191.4,803.0 2192.0,804.1 2192.6,804.2 2193.2,805.7 2193.8,808.4 2194.4,803.4 2195.0,813.8 2195.6,817.3 2196.2,802.7 2196.8,802.7 2197.4,808.9 2198.0,821.3 2198.6,825.2 2199.2,800.8 2199.8,802.1 2200.4,822.1 2201.0,812.1 2201.6,829.6 2202.2,819.6 2202.8,812.6 2203.4,820.0 2204.0,808.1 2204.6,805.1 2205.2,822.2 2205.8,807.2 2206.4,814.9 2207.0,820.6 2207.6,818.0 2208.2,816.5 2208.8,806.2 2209.4,809.2 2210.0,827.6 2210.6,825.2 2211.2,802.0 2211.8,813.1 2212.4,811.7 2213.0,817.1 2213.6,806.1 2214.2,816.4 2214.8,815.5 2215.4,824.7 2216.0,812.6 2216.6,824.4 2217.2,826.5 2217.8,813.8 2218.4,807.7 2219.0,823.9 2219.6,823.7 2220.2,826.8 2220.8,813.2 2221.4,807.6 2222.0,826.3 2222.6,815.3 2223.2,813.2 2223.8,826.8 2224.4,814.7 2225.0,821.3 2225.6,825.6 2226.2,806.4 2226.8,828.6 2227.4,823.1 2228.0,816.0 2228.6,821.6 2229.2,831.6 2229.8,812.6 2230.4,828.5 2231.0,823.8 2231.6,810.6 2232.2,810.2 2232.8,810.4 2233.4,823.9 2234.0,813.8 2234.6,809.8 2235.2,825.6 2235.8,805.1 2236.4,826.4 2237.0,810.5 2237.6,820.5 2238.2,822.2 2238.8,821.9 2239.4,804.0 2240.0,823.9 2240.6,804.5 2241.2,822.8 2241.8,816.5 2242.4,817.9 2243.0,799.8 2243.6,823.0 2244.2,803.6 2244.8,820.3 2245.4,801.1 2246.0,802.7 2246.6,810.4 2247.2,800.7 2247.8,806.3 2248.4,793.6 2249.0,799.7 2249.6,778.8 2250.2,776.1 2250.8,783.5 2251.4,787.6 2252.0,751.8 2252.6,781.3 2253.2,774.0 2253.8,784.6 2254.4,769.4 2255.0,769.7 2255.6,764.9 2256.2,774.4 2256.8,778.2 2257.4,750.9 2258.0,778.5 2258.6,775.9 2259.2,768.6 2259.8,780.4 2260.4,753.6 2261.0,794.5 2261.6,777.7 2262.2,773.4 2262.8,786.5 2263.4,750.7 2264.0,778.0 2264.6,775.1 2265.2,771.4 2265.8,749.1 2266.4,786.0 2267.0,747.4 2267.6,737.7 2268.2,778.9 2268.8,784.4 2269.4,746.3 2270.0,775.6 2270.6,779.6 2271.2,786.7 2271.8,750.1 2272.4,731.2 2273.0,735.1 2273.6,752.7 2274.2,760.7 2274.8,730.7 2275.4,752.3 2276.0,734.0 2276.6,752.3 2277.2,751.5 2277.8,753.4 2278.4,787.3 2279.0,778.5 2279.6,791.1 2280.2,738.4 2280.8,735.2 2281.4,757.2 2282.0,785.4 2282.6,787.8 2283.2,768.9 2283.8,768.1 2284.4,778.4 2285.0,786.1 2285.6,750.9 2286.2,742.1 2286.8,784.2 2287.4,772.5 2288.0,774.6 2288.6,759.1 2289.2,756.0 2289.8,767.8 2290.4,739.3 2291.0,768.9 2291.6,772.4 2292.2,744.5 2292.8,741.9 2293.4,740.3 2294.0,784.6 2294.6,785.8 2295.2,768.3 2295.8,738.1 2296.4,756.5 2297.0,755.3 2297.6,773.9 2298.2,732.2 2298.8,781.3 2299.4,761.6 2300.0,753.0 2300.6,746.0 2301.2,745.0 2301.8,767.7 2302.4,774.5 2303.0,727.7 2303.6,752.2 2304.2,769.5 2304.8,778.1 2305.4,738.2 2306.0,736.4 2306.6,754.6 2307.2,766.3 2307.8,751.9 2308.4,731.7 2309.0,757.0 2309.6,725.1 2310.2,739.1 2310.8,750.7 2311.4,767.1 2312.0,788.0 2312.6,755.8 2313.2,748.4 2313.8,738.4 2314.4,788.8 2315.0,792.3 2315.6,759.4 2316.2,748.1 2316.8,792.0 2317.4,760.0 2318.0,780.7 2318.6,735.2 2319.2,773.4 2319.8,790.9 2320.4,747.8 2321.0,776.9 2321.6,768.4 2322.2,786.2 2322.8,777.2 2323.4,788.7 2324.0,780.0 2324.6,760.1 2325.2,778.2 2325.8,756.1 2326.4,740.3 2327.0,761.4 2327.6,795.2 2328.2,739.2 2328.8,784.1 2329.4,776.2 2330.0,764.9 2330.6,761.0 2331.2,779.7 2331.8,772.5 2332.4,759.8 2333.0,768.9 2333.6,779.3 2334.2,769.9 2334.8,771.8 2335.4,795.6 2336.0,758.9 2336.6,762.7 2337.2,767.3 2337.8,748.7 2338.4,741.3 2339.0,751.5 2339.6,769.7 2340.2,730.7 2340.8,781.4 2341.4,741.0 2342.0,765.4 2342.6,766.9 2343.2,740.4 2343.8,754.0 2344.4,732.8 2345.0,742.0 2345.6,787.6 2346.2,763.8 2346.8,747.4 2347.4,790.3 2348.0,763.4 2348.6,736.2 2349.2,763.6 2349.8,790.9 2350.4,779.2 2351.0,774.5 2351.6,778.0 2352.2,769.8 2352.8,745.0 2353.4,764.4 2354.0,758.3 2354.6,789.1 2355.2,790.8 2355.8,735.6 2356.4,771.6 2357.0,732.5 2357.6,768.1 2358.2,749.5 2358.8,747.1 2359.4,781.2 2360.0,783.1 2360.6,761.6 2361.2,780.4 2361.8,767.9 2362.4,774.6 2363.0,766.0 2363.6,758.0 2364.2,767.0 2364.8,766.0 2365.4,758.3 2366.0,746.3 2366.6,787.5 2367.2,727.5 2367.8,762.1 2368.4,732.8 2369.0,788.1 2369.6,785.1 2370.2,781.4 2370.8,731.1 2371.4,761.4 2372.0,735.1 2372.6,745.2 2373.2,783.1 2373.8,768.9 2374.4,768.8 2375.0,762.0 2375.6,742.5 2376.2,785.3 2376.8,731.0 2377.4,758.9 2378.0,766.2 2378.6,746.1 2379.2,770.7 2379.8,744.9 2380.4,761.8 2381.0,759.3 2381.6,775.6 2382.2,775.7 2382.8,733.1 2383.4,751.6 2384.0,762.3 2384.6,741.0 2385.2,733.1 2385.8,783.3 2386.4,730.8 2387.0,793.1 2387.6,755.0 2388.2,778.2 2388.8,779.3 2389.4,740.3 2390.0,756.9 2390.6,768.0 2391.2,750.9 2391.8,736.4 2392.4,783.1 2393.0,778.1 2393.6,756.7 2394.2,768.5 2394.8,773.9 2395.4,762.4 2396.0,748.2 2396.6,735.8 2397.2,733.3 2397.8,739.9 2398.4,769.0 2399.0,736.6 2399.6,746.7 2400.2,779.1" fill="none" stroke="#ff0000" stroke-width="4.5" stroke-linejoin="round"/>
</g>
<text x="105.5" y="927.1" font-size="52.5" text-anchor="end" fill="#262626">0</text>
<text x="105.5" y="762.7" font-size="52.5" text-anchor="end" fill="#262626">5</text>
<text x="105.5" y="598.1" font-size="52.5" text-anchor="end" fill="#262626">10</text>
<text x="105.5" y="434.7" font-size="52.5" text-anchor="end" fill="#262626">15</text>
<text x="105.5" y="270.2" font-size="52.5" text-anchor="end" fill="#262626">20</text>
<text x="105.5" y="106.5" font-size="52.5" text-anchor="end" fill="#262626">25</text>
<text x="1265.6" y="60.5" font-size="57.5" font-weight="bold" text-anchor="middle" fill="#000">Impurity Concentration</text>
<rect x="136.5" y="109.2" width="338.3" height="270.8" fill="#fff" stroke="#262626" stroke-width="2.7"/>
<line x1="151" y1="146.7" x2="311" y2="146.7" stroke="#8c8c8c" stroke-width="2"/>
<circle cx="229.8" cy="211.9" r="14.5" fill="#0000ff"/>
<line x1="151" y1="276.3" x2="311" y2="276.3" stroke="#6a1aa8" stroke-width="3" stroke-dasharray="31 19"/>
<line x1="151" y1="342.9" x2="309" y2="342.9" stroke="#e00000" stroke-width="5"/>
<text x="322" y="167.6" font-size="47.3" fill="#000">Online</text>
<text x="322" y="230.7" font-size="47.3" fill="#000">Lab</text>
<text x="322" y="296" font-size="47.3" fill="#000">PLS</text>
<text x="322" y="359" font-size="47.3" fill="#000">Fused</text>
<path d="M271.5 2042.0v-23M271.5 1226.0v23M467.1 2042.0v-23M467.1 1226.0v23M662.7 2042.0v-23M662.7 1226.0v23M858.3 2042.0v-23M858.3 1226.0v23M1053.9 2042.0v-23M1053.9 1226.0v23M1249.5 2042.0v-23M1249.5 1226.0v23M1445.1 2042.0v-23M1445.1 1226.0v23M1640.7 2042.0v-23M1640.7 1226.0v23M1836.3 2042.0v-23M1836.3 1226.0v23M2031.9 2042.0v-23M2031.9 1226.0v23M2227.5 2042.0v-23M2227.5 1226.0v23M130.2 2042.0h23M2401.0 2042.0h-23M130.2 1890.7h23M2401.0 1890.7h-23M130.2 1743.3h23M2401.0 1743.3h-23M130.2 1594.4h23M2401.0 1594.4h-23M130.2 1445.4h23M2401.0 1445.4h-23M130.2 1297.0h23M2401.0 1297.0h-23" stroke="#262626" stroke-width="2.7" fill="none"/>
<rect x="130.2" y="1226.0" width="2270.8" height="816.0" fill="none" stroke="#262626" stroke-width="2.7"/>
<g>
<g fill="#8c8c8c"><rect x="131.0" y="2031.0" width="561.0" height="21"/><rect x="711.0" y="2031.0" width="14.0" height="21"/><rect x="737.0" y="2031.0" width="133.0" height="21"/><rect x="884.0" y="2031.0" width="519.0" height="21"/><rect x="1418.0" y="2031.0" width="89.0" height="21"/><rect x="1515.0" y="2031.0" width="108.0" height="21"/><rect x="1635.0" y="2031.0" width="745.0" height="21"/></g>
<defs><path id="dm" d="M0 -8.4l5.5 8.4l-5.5 8.4l-5.5 -8.4z" fill="#d2d1cd" stroke="#888888" stroke-width="2.4"/></defs>
<use href="#dm" x="129.7" y="1913.0"/><use href="#dm" x="129.7" y="1994.9"/><use href="#dm" x="130.0" y="1954.1"/><use href="#dm" x="130.0" y="1952.0"/><use href="#dm" x="131.7" y="1841.4"/><use href="#dm" x="132.0" y="1831.2"/><use href="#dm" x="132.0" y="1847.5"/><use href="#dm" x="133.6" y="1831.5"/><use href="#dm" x="133.6" y="1839.0"/><use href="#dm" x="133.8" y="1905.5"/><use href="#dm" x="134.0" y="2041.5"/><use href="#dm" x="134.4" y="1952.8"/><use href="#dm" x="134.4" y="1997.8"/><use href="#dm" x="134.6" y="1831.0"/><use href="#dm" x="135.0" y="1914.2"/><use href="#dm" x="136.7" y="1723.6"/><use href="#dm" x="138.7" y="1722.4"/><use href="#dm" x="140.0" y="2041.5"/><use href="#dm" x="142.6" y="1728.7"/><use href="#dm" x="143.6" y="1878.8"/><use href="#dm" x="144.1" y="1731.6"/><use href="#dm" x="146.0" y="2041.5"/><use href="#dm" x="146.1" y="1739.9"/><use href="#dm" x="146.1" y="1861.6"/><use href="#dm" x="146.1" y="1887.3"/><use href="#dm" x="148.5" y="1732.2"/><use href="#dm" x="149.4" y="1868.0"/><use href="#dm" x="150.2" y="1865.9"/><use href="#dm" x="150.4" y="1691.4"/><use href="#dm" x="151.9" y="1686.1"/><use href="#dm" x="152.0" y="2041.5"/><use href="#dm" x="157.4" y="1795.0"/><use href="#dm" x="157.7" y="1718.9"/><use href="#dm" x="158.0" y="2041.5"/><use href="#dm" x="158.9" y="2005.0"/><use href="#dm" x="159.4" y="1817.3"/><use href="#dm" x="159.7" y="2011.9"/><use href="#dm" x="160.2" y="1727.5"/><use href="#dm" x="160.5" y="2004.6"/><use href="#dm" x="160.7" y="1714.7"/><use href="#dm" x="162.4" y="1793.7"/><use href="#dm" x="162.4" y="2008.9"/><use href="#dm" x="163.6" y="1812.5"/><use href="#dm" x="164.1" y="1882.1"/><use href="#dm" x="164.8" y="1887.3"/><use href="#dm" x="164.8" y="1924.7"/><use href="#dm" x="164.8" y="2005.4"/><use href="#dm" x="165.0" y="2041.5"/><use href="#dm" x="166.8" y="1927.5"/><use href="#dm" x="167.1" y="2001.9"/><use href="#dm" x="167.4" y="1891.5"/><use href="#dm" x="168.3" y="1894.3"/><use href="#dm" x="169.4" y="1859.2"/><use href="#dm" x="169.5" y="1994.9"/><use href="#dm" x="171.0" y="2041.5"/><use href="#dm" x="171.8" y="1901.3"/><use href="#dm" x="173.6" y="1889.6"/><use href="#dm" x="174.5" y="1903.4"/><use href="#dm" x="174.7" y="1892.7"/><use href="#dm" x="175.3" y="1857.5"/><use href="#dm" x="175.7" y="1904.1"/><use href="#dm" x="177.0" y="2041.5"/><use href="#dm" x="177.6" y="1897.8"/><use href="#dm" x="178.8" y="1917.7"/><use href="#dm" x="179.2" y="1902.4"/><use href="#dm" x="180.3" y="2033.8"/><use href="#dm" x="180.4" y="1917.9"/><use href="#dm" x="182.2" y="1897.2"/><use href="#dm" x="183.0" y="2041.5"/><use href="#dm" x="183.5" y="1894.3"/><use href="#dm" x="183.5" y="2027.7"/><use href="#dm" x="185.1" y="1941.1"/><use href="#dm" x="185.8" y="1934.1"/><use href="#dm" x="188.2" y="1892.0"/><use href="#dm" x="188.7" y="2034.1"/><use href="#dm" x="189.0" y="2041.5"/><use href="#dm" x="190.0" y="1926.9"/><use href="#dm" x="190.4" y="1891.8"/><use href="#dm" x="191.1" y="1831.2"/><use href="#dm" x="191.7" y="1883.7"/><use href="#dm" x="192.3" y="1896.2"/><use href="#dm" x="192.6" y="1900.8"/><use href="#dm" x="192.8" y="1849.9"/><use href="#dm" x="192.8" y="1889.6"/><use href="#dm" x="193.0" y="1852.5"/><use href="#dm" x="194.2" y="1770.3"/><use href="#dm" x="194.6" y="1837.3"/><use href="#dm" x="195.0" y="2041.5"/><use href="#dm" x="195.2" y="1828.8"/><use href="#dm" x="196.7" y="1842.3"/><use href="#dm" x="198.1" y="1850.4"/><use href="#dm" x="198.7" y="1834.7"/><use href="#dm" x="199.9" y="1765.7"/><use href="#dm" x="201.0" y="2041.5"/><use href="#dm" x="201.8" y="1765.7"/><use href="#dm" x="202.2" y="1707.2"/><use href="#dm" x="202.2" y="1840.5"/><use href="#dm" x="203.2" y="1828.1"/><use href="#dm" x="203.2" y="1851.1"/><use href="#dm" x="203.5" y="1699.0"/><use href="#dm" x="203.6" y="1842.2"/><use href="#dm" x="204.4" y="1844.1"/><use href="#dm" x="205.1" y="1892.4"/><use href="#dm" x="205.7" y="1703.7"/><use href="#dm" x="206.1" y="1876.8"/><use href="#dm" x="206.8" y="1904.4"/><use href="#dm" x="206.9" y="1854.6"/><use href="#dm" x="207.0" y="2041.5"/><use href="#dm" x="207.4" y="1691.7"/><use href="#dm" x="208.0" y="1838.2"/><use href="#dm" x="209.2" y="1700.2"/><use href="#dm" x="209.2" y="1896.7"/><use href="#dm" x="209.8" y="1826.9"/><use href="#dm" x="210.4" y="1889.6"/><use href="#dm" x="210.9" y="1841.0"/><use href="#dm" x="211.2" y="1893.8"/><use href="#dm" x="211.5" y="1882.6"/><use href="#dm" x="211.7" y="1697.0"/><use href="#dm" x="213.9" y="1835.8"/><use href="#dm" x="215.0" y="2041.5"/><use href="#dm" x="215.8" y="1888.7"/><use href="#dm" x="218.3" y="1835.3"/><use href="#dm" x="218.4" y="1832.0"/><use href="#dm" x="220.9" y="1681.5"/><use href="#dm" x="220.9" y="1770.4"/><use href="#dm" x="220.9" y="1833.5"/><use href="#dm" x="220.9" y="1777.5"/><use href="#dm" x="221.0" y="2041.5"/><use href="#dm" x="222.0" y="1726.1"/><use href="#dm" x="222.3" y="1859.6"/><use href="#dm" x="222.4" y="1832.5"/><use href="#dm" x="223.0" y="1769.5"/><use href="#dm" x="223.7" y="1778.9"/><use href="#dm" x="223.7" y="1734.8"/><use href="#dm" x="223.9" y="1679.3"/><use href="#dm" x="224.2" y="1824.4"/><use href="#dm" x="225.6" y="1700.2"/><use href="#dm" x="226.0" y="2041.5"/><use href="#dm" x="226.2" y="1765.7"/><use href="#dm" x="226.8" y="1707.2"/><use href="#dm" x="226.8" y="1752.7"/><use href="#dm" x="227.9" y="1714.2"/><use href="#dm" x="227.9" y="1721.2"/><use href="#dm" x="227.9" y="1728.2"/><use href="#dm" x="227.9" y="1831.2"/><use href="#dm" x="227.9" y="1859.2"/><use href="#dm" x="229.1" y="1696.0"/><use href="#dm" x="229.2" y="1714.7"/><use href="#dm" x="229.5" y="1760.9"/><use href="#dm" x="229.6" y="1758.9"/><use href="#dm" x="230.0" y="1699.6"/><use href="#dm" x="231.1" y="1693.7"/><use href="#dm" x="231.4" y="1761.0"/><use href="#dm" x="232.0" y="2041.5"/><use href="#dm" x="232.5" y="1721.8"/><use href="#dm" x="233.0" y="1907.9"/><use href="#dm" x="233.3" y="1901.4"/><use href="#dm" x="233.4" y="1785.6"/><use href="#dm" x="233.6" y="1705.9"/><use href="#dm" x="236.9" y="1621.2"/><use href="#dm" x="237.2" y="1783.3"/><use href="#dm" x="237.3" y="1777.4"/><use href="#dm" x="237.3" y="1906.0"/><use href="#dm" x="238.0" y="1616.7"/><use href="#dm" x="238.0" y="2041.5"/><use href="#dm" x="238.8" y="1881.0"/><use href="#dm" x="239.9" y="1883.7"/><use href="#dm" x="241.4" y="1920.4"/><use href="#dm" x="242.0" y="1882.6"/><use href="#dm" x="244.0" y="2041.5"/><use href="#dm" x="246.0" y="1860.7"/><use href="#dm" x="246.5" y="1856.0"/><use href="#dm" x="246.6" y="1863.9"/><use href="#dm" x="246.6" y="1922.4"/><use href="#dm" x="248.1" y="1916.4"/><use href="#dm" x="248.4" y="1869.5"/><use href="#dm" x="248.8" y="1859.4"/><use href="#dm" x="250.0" y="2041.5"/><use href="#dm" x="250.1" y="1928.2"/><use href="#dm" x="250.6" y="1753.0"/><use href="#dm" x="250.7" y="1806.2"/><use href="#dm" x="251.3" y="1861.6"/><use href="#dm" x="252.6" y="1974.8"/><use href="#dm" x="253.7" y="1803.1"/><use href="#dm" x="253.7" y="1934.1"/><use href="#dm" x="253.7" y="1978.5"/><use href="#dm" x="253.8" y="1929.5"/><use href="#dm" x="254.5" y="1863.7"/><use href="#dm" x="255.0" y="1804.3"/><use href="#dm" x="256.0" y="1761.0"/><use href="#dm" x="256.0" y="1859.2"/><use href="#dm" x="256.0" y="2041.5"/><use href="#dm" x="256.9" y="1938.8"/><use href="#dm" x="257.5" y="1974.5"/><use href="#dm" x="258.6" y="1629.4"/><use href="#dm" x="258.8" y="1930.7"/><use href="#dm" x="260.0" y="1563.5"/><use href="#dm" x="260.0" y="1546.6"/><use href="#dm" x="260.6" y="1548.0"/><use href="#dm" x="260.7" y="1531.7"/><use href="#dm" x="260.8" y="1538.0"/><use href="#dm" x="260.8" y="1529.7"/><use href="#dm" x="261.0" y="1625.5"/><use href="#dm" x="261.3" y="1546.8"/><use href="#dm" x="261.5" y="1639.1"/><use href="#dm" x="261.7" y="1670.5"/><use href="#dm" x="262.0" y="1609.5"/><use href="#dm" x="262.0" y="2041.5"/><use href="#dm" x="262.1" y="1550.4"/><use href="#dm" x="262.1" y="1591.5"/><use href="#dm" x="262.1" y="1625.8"/><use href="#dm" x="262.5" y="1644.6"/><use href="#dm" x="262.6" y="1572.5"/><use href="#dm" x="262.6" y="1632.9"/><use href="#dm" x="263.0" y="1611.1"/><use href="#dm" x="263.2" y="1556.1"/><use href="#dm" x="263.2" y="1620.1"/><use href="#dm" x="263.3" y="1631.4"/><use href="#dm" x="263.4" y="1665.2"/><use href="#dm" x="263.8" y="1535.0"/><use href="#dm" x="264.3" y="1653.1"/><use href="#dm" x="264.3" y="1648.2"/><use href="#dm" x="264.4" y="1529.9"/><use href="#dm" x="264.4" y="1545.9"/><use href="#dm" x="264.4" y="1561.8"/><use href="#dm" x="264.4" y="1587.0"/><use href="#dm" x="264.4" y="1614.4"/><use href="#dm" x="264.8" y="1628.7"/><use href="#dm" x="264.8" y="1605.5"/><use href="#dm" x="265.0" y="1666.0"/><use href="#dm" x="265.2" y="1582.9"/><use href="#dm" x="265.4" y="1639.4"/><use href="#dm" x="265.4" y="1646.4"/><use href="#dm" x="265.4" y="1653.4"/><use href="#dm" x="265.4" y="1660.4"/><use href="#dm" x="265.4" y="1667.4"/><use href="#dm" x="265.5" y="1535.6"/><use href="#dm" x="265.5" y="1596.1"/><use href="#dm" x="265.6" y="1596.6"/><use href="#dm" x="265.8" y="1606.3"/><use href="#dm" x="265.9" y="1583.1"/><use href="#dm" x="266.6" y="1541.3"/><use href="#dm" x="266.6" y="1565.3"/><use href="#dm" x="266.6" y="1582.4"/><use href="#dm" x="266.6" y="1607.5"/><use href="#dm" x="266.6" y="1630.4"/><use href="#dm" x="266.8" y="1539.5"/><use href="#dm" x="267.0" y="1543.4"/><use href="#dm" x="267.1" y="1556.1"/><use href="#dm" x="267.8" y="1575.6"/><use href="#dm" x="267.9" y="1570.9"/><use href="#dm" x="268.0" y="2041.5"/><use href="#dm" x="268.7" y="1579.9"/><use href="#dm" x="268.8" y="1638.9"/><use href="#dm" x="268.9" y="1568.7"/><use href="#dm" x="268.9" y="1600.7"/><use href="#dm" x="269.3" y="1594.3"/><use href="#dm" x="269.5" y="1581.8"/><use href="#dm" x="269.8" y="1597.1"/><use href="#dm" x="270.5" y="1654.4"/><use href="#dm" x="270.9" y="1603.9"/><use href="#dm" x="271.2" y="1883.7"/><use href="#dm" x="271.2" y="1635.0"/><use href="#dm" x="271.6" y="1557.2"/><use href="#dm" x="272.4" y="1718.9"/><use href="#dm" x="272.7" y="1804.7"/><use href="#dm" x="272.9" y="1575.9"/><use href="#dm" x="274.0" y="2041.5"/><use href="#dm" x="274.7" y="1854.6"/><use href="#dm" x="275.1" y="1849.3"/><use href="#dm" x="275.1" y="1710.8"/><use href="#dm" x="275.9" y="1812.5"/><use href="#dm" x="277.0" y="1875.6"/><use href="#dm" x="277.3" y="1875.2"/><use href="#dm" x="279.3" y="1816.6"/><use href="#dm" x="281.2" y="1929.6"/><use href="#dm" x="281.7" y="1872.1"/><use href="#dm" x="282.0" y="2041.5"/><use href="#dm" x="284.1" y="1931.8"/><use href="#dm" x="286.0" y="1868.4"/><use href="#dm" x="286.4" y="1868.6"/><use href="#dm" x="286.6" y="1929.3"/><use href="#dm" x="287.4" y="1888.3"/><use href="#dm" x="288.0" y="2041.5"/><use href="#dm" x="288.7" y="1887.3"/><use href="#dm" x="288.7" y="1910.7"/><use href="#dm" x="290.2" y="1910.7"/><use href="#dm" x="290.6" y="1885.6"/><use href="#dm" x="291.4" y="1862.6"/><use href="#dm" x="294.0" y="2041.5"/><use href="#dm" x="294.5" y="1983.2"/><use href="#dm" x="297.8" y="1983.5"/><use href="#dm" x="298.1" y="1973.9"/><use href="#dm" x="300.0" y="1966.9"/><use href="#dm" x="300.0" y="2041.5"/><use href="#dm" x="300.4" y="1979.7"/><use href="#dm" x="302.3" y="1974.0"/><use href="#dm" x="302.8" y="1985.6"/><use href="#dm" x="305.1" y="1977.7"/><use href="#dm" x="306.0" y="2041.5"/><use href="#dm" x="306.6" y="2014.7"/><use href="#dm" x="307.2" y="1979.1"/><use href="#dm" x="307.5" y="2016.0"/><use href="#dm" x="307.5" y="2000.1"/><use href="#dm" x="307.9" y="1954.3"/><use href="#dm" x="308.9" y="2021.2"/><use href="#dm" x="309.8" y="1983.2"/><use href="#dm" x="309.8" y="1999.6"/><use href="#dm" x="311.2" y="1977.7"/><use href="#dm" x="312.0" y="2041.5"/><use href="#dm" x="312.1" y="1945.8"/><use href="#dm" x="316.6" y="1939.9"/><use href="#dm" x="316.8" y="1980.9"/><use href="#dm" x="318.3" y="1992.6"/><use href="#dm" x="319.0" y="1972.4"/><use href="#dm" x="319.2" y="1840.5"/><use href="#dm" x="320.0" y="2041.5"/><use href="#dm" x="320.7" y="1879.4"/><use href="#dm" x="321.0" y="1835.9"/><use href="#dm" x="322.4" y="1982.9"/><use href="#dm" x="323.2" y="1683.3"/><use href="#dm" x="323.8" y="1962.2"/><use href="#dm" x="323.8" y="1994.9"/><use href="#dm" x="324.6" y="1876.1"/><use href="#dm" x="326.0" y="2041.5"/><use href="#dm" x="326.2" y="1875.6"/><use href="#dm" x="326.4" y="1962.7"/><use href="#dm" x="327.4" y="1701.7"/><use href="#dm" x="328.5" y="1676.8"/><use href="#dm" x="328.5" y="1683.8"/><use href="#dm" x="328.5" y="1690.8"/><use href="#dm" x="329.0" y="1998.2"/><use href="#dm" x="329.2" y="1682.1"/><use href="#dm" x="330.8" y="1707.2"/><use href="#dm" x="331.7" y="1717.4"/><use href="#dm" x="332.0" y="2041.5"/><use href="#dm" x="332.6" y="1678.3"/><use href="#dm" x="333.2" y="1713.0"/><use href="#dm" x="333.9" y="1692.5"/><use href="#dm" x="334.1" y="1684.5"/><use href="#dm" x="334.3" y="1727.2"/><use href="#dm" x="335.3" y="1721.2"/><use href="#dm" x="335.5" y="1718.9"/><use href="#dm" x="338.0" y="2041.5"/><use href="#dm" x="339.0" y="1723.6"/><use href="#dm" x="339.0" y="1727.7"/><use href="#dm" x="340.1" y="1789.9"/><use href="#dm" x="340.2" y="1719.7"/><use href="#dm" x="342.5" y="1728.2"/><use href="#dm" x="344.0" y="2041.5"/><use href="#dm" x="344.2" y="1709.3"/><use href="#dm" x="344.9" y="1789.1"/><use href="#dm" x="345.4" y="1794.6"/><use href="#dm" x="345.5" y="1743.3"/><use href="#dm" x="345.6" y="1711.7"/><use href="#dm" x="345.8" y="1720.1"/><use href="#dm" x="345.9" y="1785.0"/><use href="#dm" x="347.1" y="1733.7"/><use href="#dm" x="347.2" y="1751.6"/><use href="#dm" x="347.2" y="1770.4"/><use href="#dm" x="347.4" y="1769.7"/><use href="#dm" x="348.0" y="1772.4"/><use href="#dm" x="348.2" y="1778.7"/><use href="#dm" x="348.4" y="1786.7"/><use href="#dm" x="349.6" y="1777.4"/><use href="#dm" x="349.6" y="1711.9"/><use href="#dm" x="349.7" y="1837.0"/><use href="#dm" x="349.7" y="1739.8"/><use href="#dm" x="350.0" y="1787.9"/><use href="#dm" x="350.0" y="2041.5"/><use href="#dm" x="350.5" y="1787.6"/><use href="#dm" x="351.9" y="1735.3"/><use href="#dm" x="351.9" y="1784.4"/><use href="#dm" x="352.8" y="1867.1"/><use href="#dm" x="353.1" y="1831.9"/><use href="#dm" x="354.2" y="1833.5"/><use href="#dm" x="355.2" y="1739.8"/><use href="#dm" x="356.0" y="2041.5"/><use href="#dm" x="356.6" y="1868.6"/><use href="#dm" x="358.1" y="1874.5"/><use href="#dm" x="358.3" y="1562.6"/><use href="#dm" x="360.3" y="1568.7"/><use href="#dm" x="360.7" y="1551.9"/><use href="#dm" x="361.5" y="1563.0"/><use href="#dm" x="362.0" y="2041.5"/><use href="#dm" x="362.6" y="1529.9"/><use href="#dm" x="362.6" y="1557.3"/><use href="#dm" x="363.1" y="1536.0"/><use href="#dm" x="363.7" y="1563.4"/><use href="#dm" x="365.2" y="1560.2"/><use href="#dm" x="365.3" y="1570.2"/><use href="#dm" x="368.0" y="2041.5"/><use href="#dm" x="373.3" y="1592.1"/><use href="#dm" x="374.0" y="2041.5"/><use href="#dm" x="376.0" y="1724.4"/><use href="#dm" x="376.3" y="1725.4"/><use href="#dm" x="376.5" y="1823.9"/><use href="#dm" x="377.5" y="1681.7"/><use href="#dm" x="378.6" y="1596.1"/><use href="#dm" x="380.0" y="1686.1"/><use href="#dm" x="380.0" y="1723.6"/><use href="#dm" x="380.0" y="2041.5"/><use href="#dm" x="380.3" y="1880.1"/><use href="#dm" x="380.8" y="1591.5"/><use href="#dm" x="380.9" y="1587.0"/><use href="#dm" x="380.9" y="1635.0"/><use href="#dm" x="381.2" y="1835.2"/><use href="#dm" x="381.7" y="1583.4"/><use href="#dm" x="382.3" y="1828.8"/><use href="#dm" x="382.3" y="1873.3"/><use href="#dm" x="382.8" y="1632.1"/><use href="#dm" x="384.2" y="1684.5"/><use href="#dm" x="384.6" y="1756.3"/><use href="#dm" x="384.9" y="1837.9"/><use href="#dm" x="385.0" y="2041.5"/><use href="#dm" x="385.5" y="1598.4"/><use href="#dm" x="385.9" y="1594.2"/><use href="#dm" x="386.1" y="1871.6"/><use href="#dm" x="386.3" y="1841.4"/><use href="#dm" x="387.0" y="1834.7"/><use href="#dm" x="387.0" y="1859.2"/><use href="#dm" x="387.2" y="1844.7"/><use href="#dm" x="387.5" y="1757.0"/><use href="#dm" x="387.6" y="1854.9"/><use href="#dm" x="389.8" y="1866.0"/><use href="#dm" x="391.2" y="1598.4"/><use href="#dm" x="391.7" y="1840.5"/><use href="#dm" x="392.0" y="2041.5"/><use href="#dm" x="392.3" y="1600.7"/><use href="#dm" x="393.4" y="1846.2"/><use href="#dm" x="394.0" y="1861.6"/><use href="#dm" x="395.0" y="1594.3"/><use href="#dm" x="397.5" y="1858.6"/><use href="#dm" x="398.0" y="2041.5"/><use href="#dm" x="398.5" y="1876.2"/><use href="#dm" x="398.7" y="1838.2"/><use href="#dm" x="399.5" y="1854.7"/><use href="#dm" x="400.2" y="1872.4"/><use href="#dm" x="401.0" y="1863.9"/><use href="#dm" x="401.0" y="1878.0"/><use href="#dm" x="402.1" y="1873.3"/><use href="#dm" x="403.9" y="1845.2"/><use href="#dm" x="404.0" y="2041.5"/><use href="#dm" x="405.1" y="1835.1"/><use href="#dm" x="405.7" y="1835.8"/><use href="#dm" x="406.1" y="1862.0"/><use href="#dm" x="408.0" y="1866.3"/><use href="#dm" x="408.6" y="1842.0"/><use href="#dm" x="408.9" y="1859.2"/><use href="#dm" x="410.0" y="2041.5"/><use href="#dm" x="410.4" y="1999.6"/><use href="#dm" x="411.4" y="1863.7"/><use href="#dm" x="411.5" y="1838.2"/><use href="#dm" x="412.6" y="1775.6"/><use href="#dm" x="412.7" y="1793.7"/><use href="#dm" x="412.9" y="1829.8"/><use href="#dm" x="413.2" y="1756.5"/><use href="#dm" x="413.7" y="1799.7"/><use href="#dm" x="413.8" y="1842.4"/><use href="#dm" x="413.9" y="1786.7"/><use href="#dm" x="414.1" y="1769.8"/><use href="#dm" x="414.4" y="1778.8"/><use href="#dm" x="414.5" y="1791.1"/><use href="#dm" x="415.0" y="1876.7"/><use href="#dm" x="415.1" y="1761.0"/><use href="#dm" x="415.1" y="1779.7"/><use href="#dm" x="415.1" y="1868.6"/><use href="#dm" x="415.9" y="1864.9"/><use href="#dm" x="416.0" y="2041.5"/><use href="#dm" x="416.3" y="1995.5"/><use href="#dm" x="416.3" y="1790.8"/><use href="#dm" x="416.7" y="1786.2"/><use href="#dm" x="417.4" y="1812.5"/><use href="#dm" x="417.4" y="1840.5"/><use href="#dm" x="418.7" y="1868.3"/><use href="#dm" x="418.8" y="1888.5"/><use href="#dm" x="418.8" y="1837.3"/><use href="#dm" x="419.5" y="1849.0"/><use href="#dm" x="420.5" y="1858.2"/><use href="#dm" x="420.9" y="1846.4"/><use href="#dm" x="420.9" y="1872.1"/><use href="#dm" x="421.6" y="1854.9"/><use href="#dm" x="422.0" y="2041.5"/><use href="#dm" x="422.4" y="1875.9"/><use href="#dm" x="422.6" y="1912.9"/><use href="#dm" x="422.7" y="1883.0"/><use href="#dm" x="422.9" y="1806.0"/><use href="#dm" x="423.1" y="1993.2"/><use href="#dm" x="424.4" y="1852.2"/><use href="#dm" x="424.4" y="1882.6"/><use href="#dm" x="426.3" y="2024.8"/><use href="#dm" x="426.8" y="1875.6"/><use href="#dm" x="426.8" y="1915.4"/><use href="#dm" x="427.0" y="2041.5"/><use href="#dm" x="427.6" y="1881.1"/><use href="#dm" x="428.6" y="1926.0"/><use href="#dm" x="429.1" y="1952.8"/><use href="#dm" x="429.1" y="1985.6"/><use href="#dm" x="429.1" y="2023.0"/><use href="#dm" x="429.9" y="1939.9"/><use href="#dm" x="431.4" y="1931.8"/><use href="#dm" x="431.8" y="1918.3"/><use href="#dm" x="431.9" y="1963.6"/><use href="#dm" x="433.0" y="2041.5"/><use href="#dm" x="433.1" y="2028.6"/><use href="#dm" x="433.7" y="1993.3"/><use href="#dm" x="433.8" y="1969.2"/><use href="#dm" x="433.8" y="1915.4"/><use href="#dm" x="434.4" y="1954.8"/><use href="#dm" x="436.1" y="1935.3"/><use href="#dm" x="436.8" y="1938.7"/><use href="#dm" x="437.0" y="1974.7"/><use href="#dm" x="438.7" y="1907.7"/><use href="#dm" x="439.0" y="2041.5"/><use href="#dm" x="440.2" y="1940.7"/><use href="#dm" x="440.8" y="1915.4"/><use href="#dm" x="440.8" y="1938.8"/><use href="#dm" x="442.5" y="1911.7"/><use href="#dm" x="445.0" y="2041.5"/><use href="#dm" x="451.0" y="2041.5"/><use href="#dm" x="452.2" y="1866.3"/><use href="#dm" x="454.8" y="1861.6"/><use href="#dm" x="457.0" y="2041.5"/><use href="#dm" x="458.2" y="1892.7"/><use href="#dm" x="461.8" y="1894.3"/><use href="#dm" x="463.0" y="2041.5"/><use href="#dm" x="465.7" y="1893.0"/><use href="#dm" x="468.8" y="1779.0"/><use href="#dm" x="469.0" y="2041.5"/><use href="#dm" x="469.2" y="1861.3"/><use href="#dm" x="469.4" y="1860.1"/><use href="#dm" x="471.2" y="1863.9"/><use href="#dm" x="473.5" y="1772.7"/><use href="#dm" x="475.0" y="2041.5"/><use href="#dm" x="475.9" y="1644.0"/><use href="#dm" x="477.3" y="1644.5"/><use href="#dm" x="477.6" y="1773.8"/><use href="#dm" x="479.3" y="1642.3"/><use href="#dm" x="479.9" y="1645.2"/><use href="#dm" x="480.6" y="1639.4"/><use href="#dm" x="481.0" y="2041.5"/><use href="#dm" x="481.1" y="1642.6"/><use href="#dm" x="484.0" y="1297.0"/><use href="#dm" x="485.2" y="1634.7"/><use href="#dm" x="485.8" y="1635.0"/><use href="#dm" x="486.0" y="1637.2"/><use href="#dm" x="487.0" y="2041.5"/><use href="#dm" x="489.9" y="1831.3"/><use href="#dm" x="489.9" y="1826.5"/><use href="#dm" x="490.0" y="1297.0"/><use href="#dm" x="490.5" y="1600.7"/><use href="#dm" x="491.7" y="1558.1"/><use href="#dm" x="491.8" y="1638.0"/><use href="#dm" x="492.8" y="1552.7"/><use href="#dm" x="492.8" y="1607.5"/><use href="#dm" x="492.8" y="1593.1"/><use href="#dm" x="492.9" y="1820.4"/><use href="#dm" x="493.0" y="2041.5"/><use href="#dm" x="495.1" y="1614.4"/><use href="#dm" x="495.3" y="1594.9"/><use href="#dm" x="495.4" y="1574.5"/><use href="#dm" x="495.5" y="1641.7"/><use href="#dm" x="496.0" y="1297.0"/><use href="#dm" x="496.0" y="1554.9"/><use href="#dm" x="496.1" y="1613.7"/><use href="#dm" x="496.4" y="1640.9"/><use href="#dm" x="496.6" y="1644.3"/><use href="#dm" x="496.9" y="1621.3"/><use href="#dm" x="497.1" y="1583.4"/><use href="#dm" x="497.2" y="1656.7"/><use href="#dm" x="499.0" y="2041.5"/><use href="#dm" x="499.3" y="1644.0"/><use href="#dm" x="499.5" y="1645.6"/><use href="#dm" x="499.7" y="1582.4"/><use href="#dm" x="501.6" y="1648.7"/><use href="#dm" x="502.0" y="1591.5"/><use href="#dm" x="502.0" y="1297.0"/><use href="#dm" x="503.9" y="1653.4"/><use href="#dm" x="504.3" y="1527.6"/><use href="#dm" x="504.6" y="1581.0"/><use href="#dm" x="505.2" y="1536.4"/><use href="#dm" x="505.6" y="1586.0"/><use href="#dm" x="506.9" y="1620.7"/><use href="#dm" x="507.3" y="1582.4"/><use href="#dm" x="508.0" y="1297.0"/><use href="#dm" x="508.0" y="2041.5"/><use href="#dm" x="508.8" y="1530.4"/><use href="#dm" x="509.2" y="1523.5"/><use href="#dm" x="509.6" y="1527.6"/><use href="#dm" x="509.6" y="1614.4"/><use href="#dm" x="509.7" y="1653.4"/><use href="#dm" x="510.4" y="1711.9"/><use href="#dm" x="510.5" y="1655.9"/><use href="#dm" x="510.8" y="1659.2"/><use href="#dm" x="512.0" y="1665.1"/><use href="#dm" x="513.2" y="1711.9"/><use href="#dm" x="514.0" y="1533.5"/><use href="#dm" x="514.0" y="1297.0"/><use href="#dm" x="514.0" y="2041.5"/><use href="#dm" x="515.0" y="1666.1"/><use href="#dm" x="515.5" y="1662.2"/><use href="#dm" x="515.9" y="1661.9"/><use href="#dm" x="517.6" y="1503.6"/><use href="#dm" x="520.0" y="1297.0"/><use href="#dm" x="520.0" y="2041.5"/><use href="#dm" x="522.8" y="1510.2"/><use href="#dm" x="526.0" y="1297.0"/><use href="#dm" x="526.0" y="2041.5"/><use href="#dm" x="527.5" y="1634.8"/><use href="#dm" x="532.0" y="1297.0"/><use href="#dm" x="532.4" y="1637.2"/><use href="#dm" x="533.0" y="2041.5"/><use href="#dm" x="533.1" y="1637.0"/><use href="#dm" x="533.1" y="1676.8"/><use href="#dm" x="533.1" y="1671.9"/><use href="#dm" x="534.1" y="1677.6"/><use href="#dm" x="534.6" y="1632.3"/><use href="#dm" x="536.9" y="1813.4"/><use href="#dm" x="537.0" y="1635.9"/><use href="#dm" x="539.0" y="2041.5"/><use href="#dm" x="540.1" y="1735.3"/><use href="#dm" x="540.1" y="1817.1"/><use href="#dm" x="540.6" y="1742.8"/><use href="#dm" x="541.2" y="1790.2"/><use href="#dm" x="541.5" y="1863.7"/><use href="#dm" x="542.0" y="1834.1"/><use href="#dm" x="543.1" y="1833.4"/><use href="#dm" x="543.6" y="1742.3"/><use href="#dm" x="543.7" y="1873.6"/><use href="#dm" x="543.7" y="1705.4"/><use href="#dm" x="544.4" y="1736.9"/><use href="#dm" x="544.8" y="1835.8"/><use href="#dm" x="544.8" y="1863.9"/><use href="#dm" x="545.0" y="2041.5"/><use href="#dm" x="545.3" y="1870.9"/><use href="#dm" x="545.6" y="1827.7"/><use href="#dm" x="545.9" y="1822.8"/><use href="#dm" x="545.9" y="1870.9"/><use href="#dm" x="546.1" y="1870.8"/><use href="#dm" x="546.2" y="1777.4"/><use href="#dm" x="546.4" y="1869.2"/><use href="#dm" x="546.8" y="1778.2"/><use href="#dm" x="546.8" y="1850.6"/><use href="#dm" x="546.9" y="1875.6"/><use href="#dm" x="547.1" y="1749.3"/><use href="#dm" x="547.1" y="1770.4"/><use href="#dm" x="547.1" y="1791.4"/><use href="#dm" x="547.1" y="1878.0"/><use href="#dm" x="547.1" y="1842.9"/><use href="#dm" x="547.1" y="1856.9"/><use href="#dm" x="547.7" y="1885.5"/><use href="#dm" x="548.0" y="1746.2"/><use href="#dm" x="548.4" y="1742.0"/><use href="#dm" x="549.1" y="1717.4"/><use href="#dm" x="549.4" y="1700.2"/><use href="#dm" x="549.4" y="1718.9"/><use href="#dm" x="549.4" y="1849.9"/><use href="#dm" x="549.9" y="1794.9"/><use href="#dm" x="550.6" y="1885.0"/><use href="#dm" x="551.3" y="1835.0"/><use href="#dm" x="551.7" y="1893.7"/><use href="#dm" x="552.0" y="2041.5"/><use href="#dm" x="552.7" y="1842.4"/><use href="#dm" x="554.1" y="1892.0"/><use href="#dm" x="554.3" y="1883.7"/><use href="#dm" x="554.3" y="1892.7"/><use href="#dm" x="555.2" y="1724.2"/><use href="#dm" x="555.8" y="1892.2"/><use href="#dm" x="556.3" y="1908.7"/><use href="#dm" x="556.5" y="1899.0"/><use href="#dm" x="557.4" y="1892.6"/><use href="#dm" x="558.0" y="2041.5"/><use href="#dm" x="558.1" y="1980.9"/><use href="#dm" x="558.8" y="1906.0"/><use href="#dm" x="560.0" y="1975.9"/><use href="#dm" x="560.2" y="1979.9"/><use href="#dm" x="560.6" y="1909.2"/><use href="#dm" x="561.0" y="1964.4"/><use href="#dm" x="561.1" y="1983.2"/><use href="#dm" x="562.3" y="1977.4"/><use href="#dm" x="562.6" y="1996.1"/><use href="#dm" x="563.5" y="1971.5"/><use href="#dm" x="564.0" y="2041.5"/><use href="#dm" x="564.4" y="1994.6"/><use href="#dm" x="564.6" y="1902.5"/><use href="#dm" x="564.6" y="1987.9"/><use href="#dm" x="564.8" y="1892.2"/><use href="#dm" x="564.9" y="1969.6"/><use href="#dm" x="565.8" y="2023.0"/><use href="#dm" x="566.0" y="2030.2"/><use href="#dm" x="566.1" y="1976.4"/><use href="#dm" x="567.0" y="1898.4"/><use href="#dm" x="568.2" y="1992.6"/><use href="#dm" x="569.0" y="2041.5"/><use href="#dm" x="569.6" y="1899.4"/><use href="#dm" x="570.5" y="1899.0"/><use href="#dm" x="571.5" y="2030.8"/><use href="#dm" x="571.6" y="1996.4"/><use href="#dm" x="573.1" y="1898.0"/><use href="#dm" x="573.9" y="1986.9"/><use href="#dm" x="575.0" y="2041.5"/><use href="#dm" x="575.2" y="1895.5"/><use href="#dm" x="575.2" y="1910.7"/><use href="#dm" x="575.2" y="1889.3"/><use href="#dm" x="576.9" y="1902.2"/><use href="#dm" x="579.9" y="1892.0"/><use href="#dm" x="580.7" y="1893.8"/><use href="#dm" x="581.0" y="2041.5"/><use href="#dm" x="585.0" y="2041.5"/><use href="#dm" x="585.9" y="1829.6"/><use href="#dm" x="586.9" y="1835.8"/><use href="#dm" x="587.0" y="1947.4"/><use href="#dm" x="589.2" y="1934.1"/><use href="#dm" x="589.2" y="1831.2"/><use href="#dm" x="589.5" y="1940.6"/><use href="#dm" x="589.6" y="1829.6"/><use href="#dm" x="590.8" y="1932.6"/><use href="#dm" x="591.0" y="2041.5"/><use href="#dm" x="591.5" y="1950.5"/><use href="#dm" x="591.5" y="1826.5"/><use href="#dm" x="592.1" y="1832.4"/><use href="#dm" x="592.6" y="1826.1"/><use href="#dm" x="593.7" y="1832.9"/><use href="#dm" x="593.9" y="1915.4"/><use href="#dm" x="597.0" y="2041.5"/><use href="#dm" x="599.8" y="1911.7"/><use href="#dm" x="602.0" y="1712.5"/><use href="#dm" x="603.0" y="2041.5"/><use href="#dm" x="604.9" y="1857.8"/><use href="#dm" x="605.1" y="1710.3"/><use href="#dm" x="606.7" y="1841.0"/><use href="#dm" x="606.8" y="1716.5"/><use href="#dm" x="607.9" y="1849.9"/><use href="#dm" x="607.9" y="1856.9"/><use href="#dm" x="607.9" y="1863.9"/><use href="#dm" x="608.3" y="1828.5"/><use href="#dm" x="609.0" y="2041.5"/><use href="#dm" x="609.0" y="1890.9"/><use href="#dm" x="609.1" y="1842.9"/><use href="#dm" x="609.4" y="1851.4"/><use href="#dm" x="609.9" y="1889.5"/><use href="#dm" x="610.3" y="1835.8"/><use href="#dm" x="610.3" y="1892.0"/><use href="#dm" x="610.4" y="1744.8"/><use href="#dm" x="611.1" y="1863.3"/><use href="#dm" x="611.2" y="1868.1"/><use href="#dm" x="611.3" y="1872.5"/><use href="#dm" x="611.4" y="1870.9"/><use href="#dm" x="612.6" y="1828.8"/><use href="#dm" x="612.6" y="1885.0"/><use href="#dm" x="614.8" y="1891.4"/><use href="#dm" x="614.9" y="1821.8"/><use href="#dm" x="614.9" y="1878.0"/><use href="#dm" x="615.0" y="2041.5"/><use href="#dm" x="615.2" y="1827.7"/><use href="#dm" x="615.6" y="1825.0"/><use href="#dm" x="616.1" y="1742.3"/><use href="#dm" x="616.8" y="1879.7"/><use href="#dm" x="616.8" y="1814.3"/><use href="#dm" x="617.8" y="1738.5"/><use href="#dm" x="618.2" y="1871.9"/><use href="#dm" x="618.2" y="1807.6"/><use href="#dm" x="618.5" y="1814.8"/><use href="#dm" x="620.9" y="1877.9"/><use href="#dm" x="621.0" y="2041.5"/><use href="#dm" x="622.0" y="1807.8"/><use href="#dm" x="622.8" y="1819.4"/><use href="#dm" x="623.8" y="1818.8"/><use href="#dm" x="623.9" y="1758.5"/><use href="#dm" x="624.3" y="1800.8"/><use href="#dm" x="624.7" y="1888.1"/><use href="#dm" x="625.4" y="1791.9"/><use href="#dm" x="626.6" y="1798.4"/><use href="#dm" x="626.6" y="1765.7"/><use href="#dm" x="626.6" y="1772.7"/><use href="#dm" x="626.6" y="1779.7"/><use href="#dm" x="626.6" y="1786.7"/><use href="#dm" x="626.6" y="1793.7"/><use href="#dm" x="626.6" y="1882.6"/><use href="#dm" x="627.0" y="2041.5"/><use href="#dm" x="627.3" y="1928.4"/><use href="#dm" x="627.4" y="1780.8"/><use href="#dm" x="629.0" y="1931.8"/><use href="#dm" x="629.2" y="1802.7"/><use href="#dm" x="630.5" y="1772.8"/><use href="#dm" x="630.7" y="1779.9"/><use href="#dm" x="632.0" y="1613.8"/><use href="#dm" x="632.1" y="1773.4"/><use href="#dm" x="632.1" y="1774.7"/><use href="#dm" x="633.0" y="2041.5"/><use href="#dm" x="637.5" y="1621.2"/><use href="#dm" x="637.7" y="1634.4"/><use href="#dm" x="639.0" y="2041.5"/><use href="#dm" x="639.8" y="1625.8"/><use href="#dm" x="640.0" y="1297.0"/><use href="#dm" x="641.8" y="1641.2"/><use href="#dm" x="642.1" y="1630.4"/><use href="#dm" x="642.3" y="1640.4"/><use href="#dm" x="642.5" y="1635.7"/><use href="#dm" x="642.7" y="1630.5"/><use href="#dm" x="643.2" y="1645.5"/><use href="#dm" x="643.8" y="1627.7"/><use href="#dm" x="643.9" y="1625.4"/><use href="#dm" x="644.4" y="1635.0"/><use href="#dm" x="645.0" y="2041.5"/><use href="#dm" x="645.4" y="1634.7"/><use href="#dm" x="646.0" y="1297.0"/><use href="#dm" x="646.0" y="1628.7"/><use href="#dm" x="646.3" y="1637.8"/><use href="#dm" x="646.6" y="1639.5"/><use href="#dm" x="646.7" y="1523.0"/><use href="#dm" x="648.2" y="1574.4"/><use href="#dm" x="648.9" y="1641.7"/><use href="#dm" x="649.3" y="1581.7"/><use href="#dm" x="649.5" y="1538.5"/><use href="#dm" x="649.9" y="1534.2"/><use href="#dm" x="650.5" y="1644.5"/><use href="#dm" x="651.0" y="2041.5"/><use href="#dm" x="651.2" y="1578.0"/><use href="#dm" x="651.2" y="1520.7"/><use href="#dm" x="651.2" y="1559.6"/><use href="#dm" x="651.4" y="1576.5"/><use href="#dm" x="651.9" y="1580.5"/><use href="#dm" x="652.0" y="1297.0"/><use href="#dm" x="652.0" y="1651.9"/><use href="#dm" x="652.4" y="1527.6"/><use href="#dm" x="652.4" y="1565.3"/><use href="#dm" x="652.4" y="1648.7"/><use href="#dm" x="652.4" y="1513.1"/><use href="#dm" x="652.9" y="1553.9"/><use href="#dm" x="653.5" y="1534.4"/><use href="#dm" x="653.5" y="1571.0"/><use href="#dm" x="653.5" y="1654.6"/><use href="#dm" x="653.7" y="1555.8"/><use href="#dm" x="653.9" y="1634.8"/><use href="#dm" x="654.1" y="1541.3"/><use href="#dm" x="654.6" y="1548.1"/><use href="#dm" x="654.6" y="1576.7"/><use href="#dm" x="654.7" y="1660.4"/><use href="#dm" x="655.0" y="1655.2"/><use href="#dm" x="655.1" y="1558.7"/><use href="#dm" x="655.4" y="1602.2"/><use href="#dm" x="655.7" y="1618.4"/><use href="#dm" x="655.8" y="1582.4"/><use href="#dm" x="655.8" y="1637.2"/><use href="#dm" x="655.8" y="1628.4"/><use href="#dm" x="655.9" y="1541.0"/><use href="#dm" x="656.4" y="1559.5"/><use href="#dm" x="656.5" y="1603.3"/><use href="#dm" x="656.7" y="1520.6"/><use href="#dm" x="656.9" y="1589.3"/><use href="#dm" x="657.0" y="2041.5"/><use href="#dm" x="657.2" y="1561.6"/><use href="#dm" x="657.5" y="1533.7"/><use href="#dm" x="658.0" y="1297.0"/><use href="#dm" x="658.1" y="1596.1"/><use href="#dm" x="658.1" y="1603.0"/><use href="#dm" x="658.1" y="1609.8"/><use href="#dm" x="658.1" y="1630.4"/><use href="#dm" x="658.2" y="1653.5"/><use href="#dm" x="658.3" y="1591.5"/><use href="#dm" x="658.4" y="1602.2"/><use href="#dm" x="658.4" y="1598.6"/><use href="#dm" x="658.5" y="1547.9"/><use href="#dm" x="659.2" y="1616.7"/><use href="#dm" x="660.4" y="1623.5"/><use href="#dm" x="662.7" y="1607.0"/><use href="#dm" x="662.7" y="1623.1"/><use href="#dm" x="663.0" y="2041.5"/><use href="#dm" x="664.5" y="1693.1"/><use href="#dm" x="665.0" y="1708.8"/><use href="#dm" x="666.3" y="1787.9"/><use href="#dm" x="666.4" y="1676.8"/><use href="#dm" x="666.4" y="1732.9"/><use href="#dm" x="667.0" y="2041.5"/><use href="#dm" x="667.6" y="1728.2"/><use href="#dm" x="667.8" y="1773.2"/><use href="#dm" x="667.9" y="1717.1"/><use href="#dm" x="668.0" y="1975.4"/><use href="#dm" x="668.7" y="1700.2"/><use href="#dm" x="668.7" y="1723.6"/><use href="#dm" x="668.7" y="1782.0"/><use href="#dm" x="668.7" y="1798.4"/><use href="#dm" x="669.1" y="1674.8"/><use href="#dm" x="669.2" y="1724.0"/><use href="#dm" x="670.1" y="1671.8"/><use href="#dm" x="670.2" y="1932.4"/><use href="#dm" x="670.6" y="1741.2"/><use href="#dm" x="670.6" y="1807.1"/><use href="#dm" x="671.8" y="1734.5"/><use href="#dm" x="672.3" y="1795.1"/><use href="#dm" x="673.0" y="2041.5"/><use href="#dm" x="673.4" y="1842.9"/><use href="#dm" x="673.4" y="1906.0"/><use href="#dm" x="673.4" y="1929.4"/><use href="#dm" x="673.4" y="1983.2"/><use href="#dm" x="673.4" y="1961.9"/><use href="#dm" x="673.8" y="1968.4"/><use href="#dm" x="674.5" y="1927.6"/><use href="#dm" x="674.6" y="1911.6"/><use href="#dm" x="674.6" y="1972.7"/><use href="#dm" x="676.3" y="1902.2"/><use href="#dm" x="677.4" y="1974.7"/><use href="#dm" x="677.6" y="1841.1"/><use href="#dm" x="678.1" y="1957.5"/><use href="#dm" x="678.1" y="1935.3"/><use href="#dm" x="678.1" y="1977.4"/><use href="#dm" x="678.3" y="1912.0"/><use href="#dm" x="679.0" y="1842.0"/><use href="#dm" x="679.0" y="2041.5"/><use href="#dm" x="679.3" y="1948.6"/><use href="#dm" x="679.5" y="1942.9"/><use href="#dm" x="680.4" y="1908.4"/><use href="#dm" x="680.4" y="1964.5"/><use href="#dm" x="680.9" y="1960.3"/><use href="#dm" x="681.8" y="1984.2"/><use href="#dm" x="682.4" y="1929.4"/><use href="#dm" x="682.4" y="1980.4"/><use href="#dm" x="682.5" y="1971.2"/><use href="#dm" x="682.8" y="1941.1"/><use href="#dm" x="682.8" y="1971.5"/><use href="#dm" x="684.5" y="1932.3"/><use href="#dm" x="685.0" y="2041.5"/><use href="#dm" x="685.1" y="1761.0"/><use href="#dm" x="685.2" y="1788.2"/><use href="#dm" x="686.0" y="1740.5"/><use href="#dm" x="686.2" y="1905.1"/><use href="#dm" x="687.5" y="1779.7"/><use href="#dm" x="687.5" y="1910.7"/><use href="#dm" x="687.5" y="1736.3"/><use href="#dm" x="687.7" y="1763.5"/><use href="#dm" x="689.7" y="1744.4"/><use href="#dm" x="689.8" y="1732.9"/><use href="#dm" x="690.2" y="1755.8"/><use href="#dm" x="690.7" y="1778.1"/><use href="#dm" x="690.7" y="1695.5"/><use href="#dm" x="690.7" y="1685.4"/><use href="#dm" x="691.0" y="1739.9"/><use href="#dm" x="691.0" y="2041.5"/><use href="#dm" x="691.0" y="1744.7"/><use href="#dm" x="691.8" y="1694.4"/><use href="#dm" x="692.1" y="1747.0"/><use href="#dm" x="692.1" y="1852.2"/><use href="#dm" x="692.2" y="1844.1"/><use href="#dm" x="692.8" y="1857.1"/><use href="#dm" x="692.8" y="1904.7"/><use href="#dm" x="693.4" y="1692.0"/><use href="#dm" x="694.5" y="1700.2"/><use href="#dm" x="695.4" y="1745.1"/><use href="#dm" x="695.6" y="1693.2"/><use href="#dm" x="696.1" y="1686.8"/><use href="#dm" x="696.8" y="1686.1"/><use href="#dm" x="697.6" y="1719.5"/><use href="#dm" x="698.0" y="1681.5"/><use href="#dm" x="698.0" y="1856.9"/><use href="#dm" x="698.1" y="1688.4"/><use href="#dm" x="699.0" y="1862.2"/><use href="#dm" x="699.2" y="1676.8"/><use href="#dm" x="699.3" y="1813.0"/><use href="#dm" x="700.4" y="1858.8"/><use href="#dm" x="700.5" y="1685.8"/><use href="#dm" x="701.5" y="1718.9"/><use href="#dm" x="702.1" y="1715.7"/><use href="#dm" x="702.2" y="1677.3"/><use href="#dm" x="703.8" y="1812.5"/><use href="#dm" x="703.8" y="1861.6"/><use href="#dm" x="708.1" y="1784.5"/><use href="#dm" x="710.8" y="1779.7"/><use href="#dm" x="714.0" y="2041.5"/><use href="#dm" x="714.8" y="1780.6"/><use href="#dm" x="715.1" y="1809.0"/><use href="#dm" x="715.5" y="1807.8"/><use href="#dm" x="716.2" y="1839.0"/><use href="#dm" x="716.2" y="1848.0"/><use href="#dm" x="717.9" y="1800.8"/><use href="#dm" x="719.5" y="1814.9"/><use href="#dm" x="720.0" y="2041.5"/><use href="#dm" x="720.2" y="1793.7"/><use href="#dm" x="720.2" y="1810.1"/><use href="#dm" x="720.2" y="1840.5"/><use href="#dm" x="720.4" y="1801.4"/><use href="#dm" x="722.3" y="1739.7"/><use href="#dm" x="722.5" y="1780.3"/><use href="#dm" x="722.6" y="1745.7"/><use href="#dm" x="723.7" y="1789.1"/><use href="#dm" x="723.7" y="1807.0"/><use href="#dm" x="724.0" y="1771.6"/><use href="#dm" x="724.2" y="1800.1"/><use href="#dm" x="724.4" y="1783.9"/><use href="#dm" x="724.9" y="1812.5"/><use href="#dm" x="725.5" y="1817.5"/><use href="#dm" x="726.7" y="1751.9"/><use href="#dm" x="727.2" y="1810.6"/><use href="#dm" x="727.2" y="1742.3"/><use href="#dm" x="727.2" y="1784.4"/><use href="#dm" x="727.2" y="1819.5"/><use href="#dm" x="727.6" y="1827.6"/><use href="#dm" x="727.7" y="1751.0"/><use href="#dm" x="728.0" y="1750.7"/><use href="#dm" x="728.4" y="1834.7"/><use href="#dm" x="728.4" y="1749.3"/><use href="#dm" x="729.4" y="1791.5"/><use href="#dm" x="729.6" y="1756.3"/><use href="#dm" x="729.6" y="1777.4"/><use href="#dm" x="729.6" y="1826.5"/><use href="#dm" x="729.6" y="1854.6"/><use href="#dm" x="729.6" y="1798.4"/><use href="#dm" x="730.4" y="1850.9"/><use href="#dm" x="730.5" y="1760.7"/><use href="#dm" x="730.5" y="1775.8"/><use href="#dm" x="730.6" y="1793.4"/><use href="#dm" x="730.7" y="1763.3"/><use href="#dm" x="731.3" y="1780.6"/><use href="#dm" x="731.5" y="1868.8"/><use href="#dm" x="731.7" y="1827.8"/><use href="#dm" x="731.9" y="1770.4"/><use href="#dm" x="733.1" y="1832.3"/><use href="#dm" x="733.1" y="1861.6"/><use href="#dm" x="734.5" y="1751.2"/><use href="#dm" x="734.9" y="1866.7"/><use href="#dm" x="735.1" y="1833.4"/><use href="#dm" x="735.3" y="1884.1"/><use href="#dm" x="735.6" y="1856.9"/><use href="#dm" x="736.0" y="1778.5"/><use href="#dm" x="736.5" y="1882.1"/><use href="#dm" x="736.6" y="1838.2"/><use href="#dm" x="736.6" y="1868.6"/><use href="#dm" x="737.7" y="1874.4"/><use href="#dm" x="738.0" y="1868.4"/><use href="#dm" x="738.1" y="1830.5"/><use href="#dm" x="738.9" y="1964.2"/><use href="#dm" x="738.9" y="1880.3"/><use href="#dm" x="738.9" y="1910.7"/><use href="#dm" x="739.3" y="1880.6"/><use href="#dm" x="739.4" y="1909.0"/><use href="#dm" x="740.0" y="2041.5"/><use href="#dm" x="740.3" y="1931.0"/><use href="#dm" x="741.3" y="1934.1"/><use href="#dm" x="741.3" y="1957.5"/><use href="#dm" x="742.3" y="1919.5"/><use href="#dm" x="742.5" y="1877.0"/><use href="#dm" x="744.4" y="1964.1"/><use href="#dm" x="745.3" y="1931.0"/><use href="#dm" x="745.3" y="1909.6"/><use href="#dm" x="745.5" y="1885.5"/><use href="#dm" x="745.9" y="1914.2"/><use href="#dm" x="746.0" y="2041.5"/><use href="#dm" x="747.1" y="1962.2"/><use href="#dm" x="748.3" y="1952.8"/><use href="#dm" x="748.4" y="1915.7"/><use href="#dm" x="749.2" y="1915.7"/><use href="#dm" x="749.7" y="1975.2"/><use href="#dm" x="750.6" y="1892.0"/><use href="#dm" x="751.1" y="1899.3"/><use href="#dm" x="751.5" y="1989.4"/><use href="#dm" x="751.8" y="1901.5"/><use href="#dm" x="751.9" y="1953.0"/><use href="#dm" x="752.0" y="2041.5"/><use href="#dm" x="753.0" y="1917.7"/><use href="#dm" x="753.0" y="1966.8"/><use href="#dm" x="753.0" y="1990.2"/><use href="#dm" x="754.4" y="1955.1"/><use href="#dm" x="755.3" y="1954.0"/><use href="#dm" x="755.4" y="1922.8"/><use href="#dm" x="756.5" y="1895.5"/><use href="#dm" x="756.9" y="1935.4"/><use href="#dm" x="757.6" y="1941.1"/><use href="#dm" x="758.0" y="2041.5"/><use href="#dm" x="758.7" y="1960.6"/><use href="#dm" x="759.3" y="1893.7"/><use href="#dm" x="760.0" y="1968.0"/><use href="#dm" x="760.1" y="1965.3"/><use href="#dm" x="762.3" y="1899.0"/><use href="#dm" x="762.3" y="1955.1"/><use href="#dm" x="762.9" y="1999.4"/><use href="#dm" x="764.0" y="2041.5"/><use href="#dm" x="767.0" y="1969.2"/><use href="#dm" x="767.0" y="2004.3"/><use href="#dm" x="767.8" y="1951.2"/><use href="#dm" x="769.3" y="1922.4"/><use href="#dm" x="769.9" y="1938.9"/><use href="#dm" x="770.0" y="2041.5"/><use href="#dm" x="771.5" y="2005.6"/><use href="#dm" x="771.5" y="1974.0"/><use href="#dm" x="771.7" y="1923.9"/><use href="#dm" x="772.3" y="1914.6"/><use href="#dm" x="774.0" y="1945.8"/><use href="#dm" x="774.0" y="1972.7"/><use href="#dm" x="775.2" y="1925.9"/><use href="#dm" x="776.0" y="2041.5"/><use href="#dm" x="778.4" y="1974.8"/><use href="#dm" x="778.5" y="1930.6"/><use href="#dm" x="778.7" y="1951.6"/><use href="#dm" x="781.0" y="1929.4"/><use href="#dm" x="781.0" y="1976.2"/><use href="#dm" x="781.1" y="1934.5"/><use href="#dm" x="781.4" y="1976.2"/><use href="#dm" x="782.0" y="2041.5"/><use href="#dm" x="782.4" y="1894.2"/><use href="#dm" x="783.0" y="1983.7"/><use href="#dm" x="783.2" y="1983.4"/><use href="#dm" x="783.4" y="1957.5"/><use href="#dm" x="783.4" y="1948.9"/><use href="#dm" x="784.0" y="1896.2"/><use href="#dm" x="784.4" y="1953.3"/><use href="#dm" x="784.5" y="1980.9"/><use href="#dm" x="784.6" y="1959.6"/><use href="#dm" x="785.7" y="1882.6"/><use href="#dm" x="785.7" y="1899.0"/><use href="#dm" x="786.1" y="1859.7"/><use href="#dm" x="786.5" y="1981.2"/><use href="#dm" x="787.3" y="1981.8"/><use href="#dm" x="787.3" y="1887.6"/><use href="#dm" x="788.0" y="1985.6"/><use href="#dm" x="788.1" y="1831.4"/><use href="#dm" x="789.0" y="2041.5"/><use href="#dm" x="789.5" y="1823.3"/><use href="#dm" x="790.4" y="1854.6"/><use href="#dm" x="790.8" y="1834.7"/><use href="#dm" x="790.8" y="1835.6"/><use href="#dm" x="791.3" y="1830.3"/><use href="#dm" x="792.7" y="1824.2"/><use href="#dm" x="792.7" y="1830.0"/><use href="#dm" x="792.7" y="1835.8"/><use href="#dm" x="793.9" y="1822.1"/><use href="#dm" x="795.0" y="2041.5"/><use href="#dm" x="795.1" y="1807.8"/><use href="#dm" x="796.2" y="1800.8"/><use href="#dm" x="796.6" y="1765.6"/><use href="#dm" x="797.4" y="1793.7"/><use href="#dm" x="797.5" y="1788.2"/><use href="#dm" x="797.8" y="1805.2"/><use href="#dm" x="797.8" y="1717.8"/><use href="#dm" x="798.8" y="1724.4"/><use href="#dm" x="799.7" y="1770.4"/><use href="#dm" x="800.3" y="1798.5"/><use href="#dm" x="801.0" y="2041.5"/><use href="#dm" x="802.1" y="1690.8"/><use href="#dm" x="802.1" y="1723.6"/><use href="#dm" x="802.1" y="1727.1"/><use href="#dm" x="802.1" y="1730.6"/><use href="#dm" x="802.1" y="1782.0"/><use href="#dm" x="804.1" y="1725.2"/><use href="#dm" x="804.1" y="1896.3"/><use href="#dm" x="804.3" y="1870.1"/><use href="#dm" x="804.3" y="1778.9"/><use href="#dm" x="804.4" y="1751.6"/><use href="#dm" x="805.2" y="1691.6"/><use href="#dm" x="805.3" y="1754.4"/><use href="#dm" x="805.6" y="1786.5"/><use href="#dm" x="807.0" y="2041.5"/><use href="#dm" x="807.6" y="1779.9"/><use href="#dm" x="807.9" y="1695.8"/><use href="#dm" x="808.0" y="1890.8"/><use href="#dm" x="809.1" y="1863.9"/><use href="#dm" x="809.1" y="1887.3"/><use href="#dm" x="809.3" y="1884.9"/><use href="#dm" x="809.6" y="1752.2"/><use href="#dm" x="810.3" y="1864.2"/><use href="#dm" x="812.0" y="2041.5"/><use href="#dm" x="812.6" y="1878.3"/><use href="#dm" x="812.7" y="1861.1"/><use href="#dm" x="813.0" y="1886.9"/><use href="#dm" x="813.8" y="1869.8"/><use href="#dm" x="813.8" y="1881.5"/><use href="#dm" x="816.1" y="1890.8"/><use href="#dm" x="817.5" y="1880.8"/><use href="#dm" x="818.5" y="1875.6"/><use href="#dm" x="818.6" y="1932.2"/><use href="#dm" x="819.0" y="2041.5"/><use href="#dm" x="820.8" y="1927.1"/><use href="#dm" x="823.1" y="1894.3"/><use href="#dm" x="823.1" y="1945.8"/><use href="#dm" x="824.3" y="1871.6"/><use href="#dm" x="824.4" y="1953.8"/><use href="#dm" x="825.0" y="1891.5"/><use href="#dm" x="825.0" y="2041.5"/><use href="#dm" x="826.6" y="1930.6"/><use href="#dm" x="826.8" y="1924.8"/><use href="#dm" x="827.7" y="1798.6"/><use href="#dm" x="827.7" y="1900.4"/><use href="#dm" x="827.8" y="1798.4"/><use href="#dm" x="827.8" y="1910.7"/><use href="#dm" x="828.2" y="1931.9"/><use href="#dm" x="828.5" y="1949.1"/><use href="#dm" x="828.6" y="1911.7"/><use href="#dm" x="829.6" y="1920.1"/><use href="#dm" x="829.9" y="1903.8"/><use href="#dm" x="830.6" y="1926.4"/><use href="#dm" x="830.8" y="1878.3"/><use href="#dm" x="831.0" y="2041.5"/><use href="#dm" x="831.2" y="1827.6"/><use href="#dm" x="831.4" y="1926.5"/><use href="#dm" x="832.1" y="1878.6"/><use href="#dm" x="832.5" y="1817.1"/><use href="#dm" x="832.5" y="1880.3"/><use href="#dm" x="832.5" y="1904.9"/><use href="#dm" x="832.5" y="1934.1"/><use href="#dm" x="832.6" y="1896.1"/><use href="#dm" x="834.4" y="1829.7"/><use href="#dm" x="834.8" y="1913.0"/><use href="#dm" x="835.0" y="1823.8"/><use href="#dm" x="836.0" y="1823.0"/><use href="#dm" x="837.1" y="1814.9"/><use href="#dm" x="837.2" y="1899.0"/><use href="#dm" x="837.9" y="1925.8"/><use href="#dm" x="838.0" y="2041.5"/><use href="#dm" x="839.5" y="1828.8"/><use href="#dm" x="839.5" y="1934.1"/><use href="#dm" x="840.2" y="1905.8"/><use href="#dm" x="841.2" y="1917.2"/><use href="#dm" x="841.7" y="1892.8"/><use href="#dm" x="841.8" y="1915.4"/><use href="#dm" x="841.9" y="1823.8"/><use href="#dm" x="844.0" y="2041.5"/><use href="#dm" x="844.2" y="1828.4"/><use href="#dm" x="844.6" y="1933.7"/><use href="#dm" x="845.6" y="1929.6"/><use href="#dm" x="846.5" y="1934.1"/><use href="#dm" x="846.5" y="1987.9"/><use href="#dm" x="848.9" y="1863.9"/><use href="#dm" x="850.0" y="2041.5"/><use href="#dm" x="850.1" y="1940.0"/><use href="#dm" x="850.7" y="1988.8"/><use href="#dm" x="851.2" y="1857.4"/><use href="#dm" x="852.4" y="1986.5"/><use href="#dm" x="852.4" y="1870.9"/><use href="#dm" x="853.2" y="1943.3"/><use href="#dm" x="854.6" y="1879.0"/><use href="#dm" x="855.6" y="1911.9"/><use href="#dm" x="855.9" y="1906.0"/><use href="#dm" x="855.9" y="1941.1"/><use href="#dm" x="855.9" y="1878.0"/><use href="#dm" x="856.0" y="2041.5"/><use href="#dm" x="856.1" y="1995.1"/><use href="#dm" x="856.5" y="1877.4"/><use href="#dm" x="858.2" y="1999.6"/><use href="#dm" x="859.4" y="1904.5"/><use href="#dm" x="861.0" y="1876.0"/><use href="#dm" x="861.4" y="2008.5"/><use href="#dm" x="862.0" y="2041.5"/><use href="#dm" x="862.9" y="1887.3"/><use href="#dm" x="863.6" y="1921.4"/><use href="#dm" x="867.6" y="1946.4"/><use href="#dm" x="867.6" y="1929.4"/><use href="#dm" x="867.8" y="1947.7"/><use href="#dm" x="868.0" y="2041.5"/><use href="#dm" x="868.4" y="1881.1"/><use href="#dm" x="868.8" y="1925.2"/><use href="#dm" x="869.9" y="1863.9"/><use href="#dm" x="869.9" y="1952.8"/><use href="#dm" x="870.1" y="1905.2"/><use href="#dm" x="871.2" y="1865.1"/><use href="#dm" x="871.9" y="1904.5"/><use href="#dm" x="871.9" y="1862.9"/><use href="#dm" x="874.6" y="1957.5"/><use href="#dm" x="874.6" y="1910.7"/><use href="#dm" x="874.7" y="1891.4"/><use href="#dm" x="876.1" y="1965.7"/><use href="#dm" x="876.2" y="1844.8"/><use href="#dm" x="876.7" y="1974.7"/><use href="#dm" x="876.9" y="1866.3"/><use href="#dm" x="878.3" y="1890.4"/><use href="#dm" x="878.4" y="1823.0"/><use href="#dm" x="879.3" y="1887.3"/><use href="#dm" x="879.3" y="1962.2"/><use href="#dm" x="879.3" y="1980.9"/><use href="#dm" x="880.8" y="1961.2"/><use href="#dm" x="881.4" y="1813.4"/><use href="#dm" x="881.6" y="1852.2"/><use href="#dm" x="881.8" y="1826.5"/><use href="#dm" x="882.0" y="1835.4"/><use href="#dm" x="883.3" y="1875.2"/><use href="#dm" x="883.9" y="1868.6"/><use href="#dm" x="883.9" y="1800.8"/><use href="#dm" x="883.9" y="1817.1"/><use href="#dm" x="884.2" y="1875.0"/><use href="#dm" x="884.2" y="1953.5"/><use href="#dm" x="884.2" y="1792.7"/><use href="#dm" x="884.4" y="1807.2"/><use href="#dm" x="885.1" y="1819.1"/><use href="#dm" x="885.1" y="1824.2"/><use href="#dm" x="886.3" y="1831.2"/><use href="#dm" x="887.0" y="2041.5"/><use href="#dm" x="887.3" y="1779.7"/><use href="#dm" x="887.3" y="1821.8"/><use href="#dm" x="888.2" y="1893.5"/><use href="#dm" x="888.5" y="1868.6"/><use href="#dm" x="889.6" y="1832.5"/><use href="#dm" x="889.7" y="1803.1"/><use href="#dm" x="889.7" y="1847.5"/><use href="#dm" x="889.7" y="1887.3"/><use href="#dm" x="890.0" y="1817.6"/><use href="#dm" x="890.6" y="1826.8"/><use href="#dm" x="890.8" y="1961.8"/><use href="#dm" x="891.9" y="1771.3"/><use href="#dm" x="892.3" y="1866.9"/><use href="#dm" x="893.0" y="2041.5"/><use href="#dm" x="893.2" y="1878.7"/><use href="#dm" x="893.7" y="1840.8"/><use href="#dm" x="893.8" y="1960.1"/><use href="#dm" x="894.0" y="1946.3"/><use href="#dm" x="894.4" y="1906.0"/><use href="#dm" x="894.4" y="1962.2"/><use href="#dm" x="894.8" y="2000.1"/><use href="#dm" x="895.2" y="1856.0"/><use href="#dm" x="895.3" y="1948.7"/><use href="#dm" x="896.5" y="1976.9"/><use href="#dm" x="896.7" y="1955.1"/><use href="#dm" x="896.7" y="2001.9"/><use href="#dm" x="897.6" y="1964.5"/><use href="#dm" x="897.7" y="1973.4"/><use href="#dm" x="897.9" y="1969.2"/><use href="#dm" x="898.5" y="1942.1"/><use href="#dm" x="898.8" y="1961.5"/><use href="#dm" x="899.0" y="2041.5"/><use href="#dm" x="899.0" y="1922.4"/><use href="#dm" x="899.0" y="1948.1"/><use href="#dm" x="899.5" y="1912.6"/><use href="#dm" x="899.5" y="1938.5"/><use href="#dm" x="899.6" y="1923.8"/><use href="#dm" x="901.2" y="2008.5"/><use href="#dm" x="901.4" y="1928.2"/><use href="#dm" x="901.4" y="1941.1"/><use href="#dm" x="901.4" y="1976.2"/><use href="#dm" x="902.1" y="1984.5"/><use href="#dm" x="902.8" y="1923.4"/><use href="#dm" x="903.7" y="1934.1"/><use href="#dm" x="904.1" y="1917.9"/><use href="#dm" x="904.2" y="1944.4"/><use href="#dm" x="904.2" y="1973.0"/><use href="#dm" x="904.9" y="1980.9"/><use href="#dm" x="905.0" y="1984.0"/><use href="#dm" x="906.1" y="2023.0"/><use href="#dm" x="906.1" y="1947.9"/><use href="#dm" x="908.0" y="2041.5"/><use href="#dm" x="908.1" y="2026.0"/><use href="#dm" x="908.4" y="1985.6"/><use href="#dm" x="908.4" y="1880.3"/><use href="#dm" x="909.5" y="1903.3"/><use href="#dm" x="910.8" y="2021.4"/><use href="#dm" x="911.9" y="1990.3"/><use href="#dm" x="913.7" y="1988.9"/><use href="#dm" x="914.0" y="1884.6"/><use href="#dm" x="914.0" y="2041.5"/><use href="#dm" x="914.6" y="1905.5"/><use href="#dm" x="915.4" y="1899.0"/><use href="#dm" x="917.1" y="1849.3"/><use href="#dm" x="920.1" y="1828.8"/><use href="#dm" x="920.8" y="1828.3"/><use href="#dm" x="922.3" y="1834.7"/><use href="#dm" x="922.4" y="1847.5"/><use href="#dm" x="923.0" y="2041.5"/><use href="#dm" x="924.8" y="1863.9"/><use href="#dm" x="924.8" y="1969.2"/><use href="#dm" x="926.5" y="1858.4"/><use href="#dm" x="927.0" y="1847.6"/><use href="#dm" x="927.1" y="1870.9"/><use href="#dm" x="927.6" y="1860.0"/><use href="#dm" x="928.3" y="1874.4"/><use href="#dm" x="928.8" y="1874.2"/><use href="#dm" x="928.9" y="1882.4"/><use href="#dm" x="929.0" y="2041.5"/><use href="#dm" x="929.4" y="1878.0"/><use href="#dm" x="929.4" y="1924.7"/><use href="#dm" x="929.6" y="1974.5"/><use href="#dm" x="929.9" y="1976.8"/><use href="#dm" x="930.6" y="1883.8"/><use href="#dm" x="931.8" y="1889.6"/><use href="#dm" x="931.8" y="1970.4"/><use href="#dm" x="931.8" y="1980.9"/><use href="#dm" x="932.5" y="1973.4"/><use href="#dm" x="932.7" y="1882.8"/><use href="#dm" x="933.4" y="1925.6"/><use href="#dm" x="933.5" y="1992.1"/><use href="#dm" x="933.9" y="1898.6"/><use href="#dm" x="934.1" y="1985.6"/><use href="#dm" x="934.4" y="1981.7"/><use href="#dm" x="935.0" y="1977.3"/><use href="#dm" x="935.0" y="2041.5"/><use href="#dm" x="935.6" y="1977.7"/><use href="#dm" x="936.3" y="1993.8"/><use href="#dm" x="936.5" y="1990.2"/><use href="#dm" x="938.0" y="1971.5"/><use href="#dm" x="938.8" y="1971.5"/><use href="#dm" x="941.0" y="2041.5"/><use href="#dm" x="943.2" y="1972.6"/><use href="#dm" x="943.5" y="1833.5"/><use href="#dm" x="943.6" y="1878.6"/><use href="#dm" x="944.9" y="1879.8"/><use href="#dm" x="945.2" y="1832.5"/><use href="#dm" x="945.2" y="1912.3"/><use href="#dm" x="945.8" y="1910.7"/><use href="#dm" x="947.0" y="2041.5"/><use href="#dm" x="948.2" y="1849.9"/><use href="#dm" x="948.2" y="1878.0"/><use href="#dm" x="948.5" y="1908.2"/><use href="#dm" x="949.3" y="1856.9"/><use href="#dm" x="949.3" y="1870.9"/><use href="#dm" x="950.5" y="1863.9"/><use href="#dm" x="951.3" y="1852.2"/><use href="#dm" x="951.3" y="1859.1"/><use href="#dm" x="952.1" y="1877.2"/><use href="#dm" x="952.6" y="1848.2"/><use href="#dm" x="952.6" y="1843.2"/><use href="#dm" x="953.0" y="2041.5"/><use href="#dm" x="953.9" y="1840.9"/><use href="#dm" x="955.2" y="1817.1"/><use href="#dm" x="956.4" y="1812.5"/><use href="#dm" x="959.0" y="2041.5"/><use href="#dm" x="960.3" y="1820.8"/><use href="#dm" x="962.6" y="1842.2"/><use href="#dm" x="964.5" y="1840.5"/><use href="#dm" x="965.0" y="2041.5"/><use href="#dm" x="966.9" y="1791.4"/><use href="#dm" x="967.3" y="1793.8"/><use href="#dm" x="969.6" y="1963.4"/><use href="#dm" x="971.0" y="2041.5"/><use href="#dm" x="972.2" y="1789.1"/><use href="#dm" x="973.8" y="1984.3"/><use href="#dm" x="973.9" y="1861.6"/><use href="#dm" x="973.9" y="1878.0"/><use href="#dm" x="973.9" y="1910.7"/><use href="#dm" x="973.9" y="1962.2"/><use href="#dm" x="974.1" y="1872.3"/><use href="#dm" x="974.4" y="1868.4"/><use href="#dm" x="974.5" y="1900.1"/><use href="#dm" x="975.5" y="1988.4"/><use href="#dm" x="976.1" y="1918.4"/><use href="#dm" x="976.2" y="1894.3"/><use href="#dm" x="976.2" y="1936.4"/><use href="#dm" x="976.2" y="1990.2"/><use href="#dm" x="976.2" y="1861.6"/><use href="#dm" x="977.0" y="2041.5"/><use href="#dm" x="977.1" y="1908.6"/><use href="#dm" x="977.8" y="1959.0"/><use href="#dm" x="978.0" y="1904.4"/><use href="#dm" x="978.6" y="1916.5"/><use href="#dm" x="979.9" y="1919.4"/><use href="#dm" x="980.8" y="1943.7"/><use href="#dm" x="982.1" y="2002.3"/><use href="#dm" x="983.2" y="1922.4"/><use href="#dm" x="983.2" y="2006.6"/><use href="#dm" x="983.3" y="1997.0"/><use href="#dm" x="984.0" y="2041.5"/><use href="#dm" x="985.4" y="1953.0"/><use href="#dm" x="986.0" y="1915.3"/><use href="#dm" x="986.4" y="1928.2"/><use href="#dm" x="987.2" y="1919.2"/><use href="#dm" x="987.4" y="1992.2"/><use href="#dm" x="987.5" y="2014.1"/><use href="#dm" x="987.6" y="1912.4"/><use href="#dm" x="987.9" y="2000.8"/><use href="#dm" x="990.0" y="2041.5"/><use href="#dm" x="990.1" y="2009.4"/><use href="#dm" x="990.3" y="1906.0"/><use href="#dm" x="990.3" y="1922.4"/><use href="#dm" x="990.3" y="1945.8"/><use href="#dm" x="992.6" y="1994.9"/><use href="#dm" x="992.7" y="1898.1"/><use href="#dm" x="993.5" y="1858.5"/><use href="#dm" x="994.4" y="1881.9"/><use href="#dm" x="994.9" y="1854.6"/><use href="#dm" x="994.9" y="1875.6"/><use href="#dm" x="994.9" y="1971.5"/><use href="#dm" x="995.7" y="1941.5"/><use href="#dm" x="995.8" y="1853.0"/><use href="#dm" x="996.0" y="2041.5"/><use href="#dm" x="997.3" y="1922.4"/><use href="#dm" x="998.6" y="1929.9"/><use href="#dm" x="1000.6" y="1972.1"/><use href="#dm" x="1004.0" y="2041.5"/><use href="#dm" x="1004.3" y="1990.2"/><use href="#dm" x="1004.9" y="1996.7"/><use href="#dm" x="1006.0" y="1913.9"/><use href="#dm" x="1006.2" y="1918.2"/><use href="#dm" x="1006.6" y="1917.7"/><use href="#dm" x="1007.2" y="1949.9"/><use href="#dm" x="1007.4" y="1915.8"/><use href="#dm" x="1009.0" y="1994.9"/><use href="#dm" x="1009.7" y="2005.1"/><use href="#dm" x="1010.0" y="2041.5"/><use href="#dm" x="1011.3" y="1923.6"/><use href="#dm" x="1011.3" y="1945.8"/><use href="#dm" x="1012.5" y="1948.4"/><use href="#dm" x="1012.7" y="1989.9"/><use href="#dm" x="1013.7" y="1999.6"/><use href="#dm" x="1014.7" y="1920.8"/><use href="#dm" x="1016.0" y="1929.4"/><use href="#dm" x="1018.3" y="1945.8"/><use href="#dm" x="1018.7" y="2000.8"/><use href="#dm" x="1019.0" y="2041.5"/><use href="#dm" x="1020.5" y="1923.5"/><use href="#dm" x="1020.7" y="1980.9"/><use href="#dm" x="1021.2" y="1950.0"/><use href="#dm" x="1021.3" y="1937.9"/><use href="#dm" x="1024.2" y="1874.4"/><use href="#dm" x="1025.0" y="2041.5"/><use href="#dm" x="1025.4" y="1945.8"/><use href="#dm" x="1026.0" y="1942.2"/><use href="#dm" x="1026.0" y="1977.5"/><use href="#dm" x="1026.2" y="1983.8"/><use href="#dm" x="1026.4" y="1874.7"/><use href="#dm" x="1027.5" y="1867.5"/><use href="#dm" x="1027.7" y="1910.7"/><use href="#dm" x="1027.7" y="1964.5"/><use href="#dm" x="1029.3" y="1960.5"/><use href="#dm" x="1030.2" y="1919.1"/><use href="#dm" x="1030.3" y="1946.8"/><use href="#dm" x="1030.5" y="1966.6"/><use href="#dm" x="1031.0" y="2041.5"/><use href="#dm" x="1031.2" y="1905.6"/><use href="#dm" x="1031.2" y="1941.1"/><use href="#dm" x="1032.4" y="1829.1"/><use href="#dm" x="1033.2" y="1930.0"/><use href="#dm" x="1033.5" y="1837.0"/><use href="#dm" x="1033.5" y="1966.8"/><use href="#dm" x="1034.7" y="1922.4"/><use href="#dm" x="1034.8" y="1945.0"/><use href="#dm" x="1034.8" y="1920.8"/><use href="#dm" x="1036.5" y="1838.5"/><use href="#dm" x="1036.7" y="1973.0"/><use href="#dm" x="1037.0" y="2041.5"/><use href="#dm" x="1037.0" y="1936.4"/><use href="#dm" x="1037.1" y="1982.6"/><use href="#dm" x="1037.2" y="1930.0"/><use href="#dm" x="1039.4" y="1969.2"/><use href="#dm" x="1039.4" y="1990.2"/><use href="#dm" x="1039.6" y="1934.4"/><use href="#dm" x="1039.9" y="1973.4"/><use href="#dm" x="1040.6" y="1911.2"/><use href="#dm" x="1040.7" y="1923.5"/><use href="#dm" x="1041.0" y="1943.6"/><use href="#dm" x="1041.7" y="1922.4"/><use href="#dm" x="1042.9" y="1939.8"/><use href="#dm" x="1042.9" y="1937.6"/><use href="#dm" x="1043.0" y="2041.5"/><use href="#dm" x="1044.0" y="1973.0"/><use href="#dm" x="1044.1" y="1908.4"/><use href="#dm" x="1044.1" y="1957.5"/><use href="#dm" x="1044.3" y="1961.9"/><use href="#dm" x="1045.4" y="1903.7"/><use href="#dm" x="1048.7" y="1922.4"/><use href="#dm" x="1048.7" y="1938.8"/><use href="#dm" x="1049.0" y="2041.5"/><use href="#dm" x="1053.2" y="1921.5"/><use href="#dm" x="1055.0" y="2041.5"/><use href="#dm" x="1056.0" y="1297.0"/><use href="#dm" x="1058.2" y="1470.9"/><use href="#dm" x="1060.0" y="1483.1"/><use href="#dm" x="1061.0" y="2041.5"/><use href="#dm" x="1062.0" y="1297.0"/><use href="#dm" x="1062.1" y="1463.6"/><use href="#dm" x="1062.6" y="1469.3"/><use href="#dm" x="1063.0" y="1463.0"/><use href="#dm" x="1063.2" y="1475.0"/><use href="#dm" x="1063.7" y="1474.0"/><use href="#dm" x="1064.7" y="1473.8"/><use href="#dm" x="1065.1" y="1744.6"/><use href="#dm" x="1065.9" y="1715.1"/><use href="#dm" x="1067.0" y="2041.5"/><use href="#dm" x="1067.5" y="1723.6"/><use href="#dm" x="1068.6" y="1730.6"/><use href="#dm" x="1068.9" y="1637.2"/><use href="#dm" x="1069.1" y="1736.2"/><use href="#dm" x="1070.1" y="1575.6"/><use href="#dm" x="1070.9" y="1575.0"/><use href="#dm" x="1071.4" y="1574.9"/><use href="#dm" x="1073.0" y="2041.5"/><use href="#dm" x="1074.5" y="1651.1"/><use href="#dm" x="1074.5" y="1814.8"/><use href="#dm" x="1074.5" y="1987.9"/><use href="#dm" x="1074.6" y="1644.1"/><use href="#dm" x="1075.0" y="1643.1"/><use href="#dm" x="1075.4" y="1815.1"/><use href="#dm" x="1076.0" y="1990.3"/><use href="#dm" x="1077.0" y="1950.6"/><use href="#dm" x="1077.7" y="1919.4"/><use href="#dm" x="1078.0" y="1978.9"/><use href="#dm" x="1079.0" y="2041.5"/><use href="#dm" x="1079.2" y="1887.3"/><use href="#dm" x="1079.2" y="1945.8"/><use href="#dm" x="1079.3" y="1940.8"/><use href="#dm" x="1079.4" y="1649.9"/><use href="#dm" x="1079.5" y="1908.1"/><use href="#dm" x="1079.5" y="1637.0"/><use href="#dm" x="1080.9" y="1882.1"/><use href="#dm" x="1081.5" y="1906.0"/><use href="#dm" x="1081.5" y="1924.7"/><use href="#dm" x="1082.6" y="1938.2"/><use href="#dm" x="1082.7" y="1888.3"/><use href="#dm" x="1083.1" y="1931.2"/><use href="#dm" x="1083.6" y="1922.7"/><use href="#dm" x="1085.0" y="1943.5"/><use href="#dm" x="1085.0" y="2041.5"/><use href="#dm" x="1086.2" y="1886.1"/><use href="#dm" x="1086.6" y="1899.7"/><use href="#dm" x="1087.3" y="1923.6"/><use href="#dm" x="1087.7" y="1950.1"/><use href="#dm" x="1087.9" y="1877.8"/><use href="#dm" x="1088.3" y="1885.3"/><use href="#dm" x="1088.5" y="1904.9"/><use href="#dm" x="1090.8" y="1939.2"/><use href="#dm" x="1090.8" y="1941.1"/><use href="#dm" x="1093.0" y="2041.5"/><use href="#dm" x="1093.2" y="1885.0"/><use href="#dm" x="1093.2" y="1922.4"/><use href="#dm" x="1093.2" y="2006.6"/><use href="#dm" x="1093.8" y="1922.9"/><use href="#dm" x="1094.3" y="1881.9"/><use href="#dm" x="1095.5" y="1903.7"/><use href="#dm" x="1095.6" y="2012.4"/><use href="#dm" x="1096.7" y="2015.6"/><use href="#dm" x="1097.0" y="1929.2"/><use href="#dm" x="1097.0" y="1910.6"/><use href="#dm" x="1097.7" y="1906.1"/><use href="#dm" x="1098.4" y="1927.7"/><use href="#dm" x="1099.0" y="2041.5"/><use href="#dm" x="1099.0" y="1923.6"/><use href="#dm" x="1099.3" y="2033.2"/><use href="#dm" x="1099.4" y="1911.5"/><use href="#dm" x="1100.2" y="1886.1"/><use href="#dm" x="1100.4" y="1893.3"/><use href="#dm" x="1100.5" y="1895.3"/><use href="#dm" x="1101.4" y="1907.2"/><use href="#dm" x="1101.8" y="2021.3"/><use href="#dm" x="1104.9" y="1843.9"/><use href="#dm" x="1104.9" y="1924.7"/><use href="#dm" x="1104.9" y="2025.3"/><use href="#dm" x="1105.0" y="2041.5"/><use href="#dm" x="1106.7" y="1854.8"/><use href="#dm" x="1107.2" y="1831.2"/><use href="#dm" x="1107.2" y="1887.3"/><use href="#dm" x="1107.2" y="1910.7"/><use href="#dm" x="1107.9" y="1882.3"/><use href="#dm" x="1108.5" y="1925.0"/><use href="#dm" x="1108.6" y="1910.9"/><use href="#dm" x="1109.2" y="1747.9"/><use href="#dm" x="1109.5" y="1760.7"/><use href="#dm" x="1109.6" y="1789.1"/><use href="#dm" x="1109.6" y="1807.8"/><use href="#dm" x="1109.6" y="1849.9"/><use href="#dm" x="1109.6" y="1796.9"/><use href="#dm" x="1109.7" y="1789.7"/><use href="#dm" x="1109.7" y="1774.1"/><use href="#dm" x="1110.0" y="1915.2"/><use href="#dm" x="1110.2" y="1825.3"/><use href="#dm" x="1110.6" y="1926.8"/><use href="#dm" x="1111.0" y="2041.5"/><use href="#dm" x="1111.1" y="1894.2"/><use href="#dm" x="1111.2" y="1740.2"/><use href="#dm" x="1111.9" y="1747.0"/><use href="#dm" x="1111.9" y="1782.0"/><use href="#dm" x="1113.1" y="1754.0"/><use href="#dm" x="1113.3" y="1810.9"/><use href="#dm" x="1114.2" y="1780.1"/><use href="#dm" x="1114.2" y="1761.0"/><use href="#dm" x="1114.2" y="1768.0"/><use href="#dm" x="1114.2" y="1775.0"/><use href="#dm" x="1115.1" y="1760.4"/><use href="#dm" x="1115.4" y="1791.4"/><use href="#dm" x="1115.7" y="1748.4"/><use href="#dm" x="1116.6" y="1929.9"/><use href="#dm" x="1117.6" y="1791.0"/><use href="#dm" x="1118.9" y="1807.8"/><use href="#dm" x="1120.0" y="2041.5"/><use href="#dm" x="1121.3" y="1793.7"/><use href="#dm" x="1121.3" y="1936.4"/><use href="#dm" x="1121.3" y="1804.8"/><use href="#dm" x="1122.1" y="1815.5"/><use href="#dm" x="1122.3" y="1811.9"/><use href="#dm" x="1123.6" y="1817.1"/><use href="#dm" x="1123.8" y="1787.6"/><use href="#dm" x="1124.1" y="1867.7"/><use href="#dm" x="1124.1" y="1930.9"/><use href="#dm" x="1125.6" y="1864.2"/><use href="#dm" x="1127.0" y="2041.5"/><use href="#dm" x="1127.3" y="1858.7"/><use href="#dm" x="1127.4" y="1865.1"/><use href="#dm" x="1127.6" y="1948.6"/><use href="#dm" x="1128.3" y="1863.9"/><use href="#dm" x="1128.3" y="1870.9"/><use href="#dm" x="1128.3" y="1889.6"/><use href="#dm" x="1129.5" y="1892.4"/><use href="#dm" x="1129.6" y="1888.3"/><use href="#dm" x="1130.6" y="1952.8"/><use href="#dm" x="1133.0" y="2041.5"/><use href="#dm" x="1133.6" y="1958.0"/><use href="#dm" x="1134.1" y="1658.1"/><use href="#dm" x="1136.7" y="1653.7"/><use href="#dm" x="1139.0" y="2041.5"/><use href="#dm" x="1142.5" y="1757.2"/><use href="#dm" x="1144.6" y="1751.6"/><use href="#dm" x="1145.0" y="2041.5"/><use href="#dm" x="1148.1" y="1552.9"/><use href="#dm" x="1148.3" y="1562.8"/><use href="#dm" x="1148.7" y="1541.2"/><use href="#dm" x="1148.9" y="1566.5"/><use href="#dm" x="1150.5" y="1750.5"/><use href="#dm" x="1150.7" y="1716.1"/><use href="#dm" x="1150.8" y="1580.8"/><use href="#dm" x="1151.0" y="1749.4"/><use href="#dm" x="1151.0" y="2041.5"/><use href="#dm" x="1151.5" y="1644.6"/><use href="#dm" x="1152.7" y="1741.5"/><use href="#dm" x="1153.4" y="1543.6"/><use href="#dm" x="1153.4" y="1549.3"/><use href="#dm" x="1153.4" y="1555.0"/><use href="#dm" x="1153.4" y="1560.7"/><use href="#dm" x="1153.4" y="1566.4"/><use href="#dm" x="1153.4" y="1571.0"/><use href="#dm" x="1153.4" y="1575.6"/><use href="#dm" x="1153.4" y="1600.7"/><use href="#dm" x="1153.9" y="1571.7"/><use href="#dm" x="1154.1" y="1712.9"/><use href="#dm" x="1154.7" y="1548.2"/><use href="#dm" x="1154.9" y="1607.3"/><use href="#dm" x="1154.9" y="1715.9"/><use href="#dm" x="1155.1" y="1710.2"/><use href="#dm" x="1155.6" y="1546.8"/><use href="#dm" x="1155.9" y="1888.9"/><use href="#dm" x="1156.0" y="1566.4"/><use href="#dm" x="1156.3" y="1648.7"/><use href="#dm" x="1156.3" y="1707.2"/><use href="#dm" x="1156.3" y="1711.9"/><use href="#dm" x="1156.3" y="1716.5"/><use href="#dm" x="1156.3" y="1749.3"/><use href="#dm" x="1157.0" y="2041.5"/><use href="#dm" x="1157.1" y="1579.2"/><use href="#dm" x="1157.7" y="1752.1"/><use href="#dm" x="1158.7" y="1894.3"/><use href="#dm" x="1159.0" y="1552.2"/><use href="#dm" x="1160.1" y="1650.1"/><use href="#dm" x="1161.0" y="1805.4"/><use href="#dm" x="1161.8" y="1886.7"/><use href="#dm" x="1162.9" y="1835.0"/><use href="#dm" x="1163.0" y="2041.5"/><use href="#dm" x="1163.4" y="1828.8"/><use href="#dm" x="1165.4" y="1811.5"/><use href="#dm" x="1165.7" y="1810.2"/><use href="#dm" x="1165.7" y="1811.3"/><use href="#dm" x="1165.7" y="1894.3"/><use href="#dm" x="1167.0" y="1824.0"/><use href="#dm" x="1167.0" y="1805.6"/><use href="#dm" x="1168.0" y="1834.7"/><use href="#dm" x="1169.0" y="2041.5"/><use href="#dm" x="1169.2" y="1897.1"/><use href="#dm" x="1169.5" y="1814.9"/><use href="#dm" x="1170.4" y="1817.1"/><use href="#dm" x="1170.4" y="1825.3"/><use href="#dm" x="1170.9" y="1821.5"/><use href="#dm" x="1172.2" y="1841.0"/><use href="#dm" x="1172.4" y="1832.4"/><use href="#dm" x="1172.7" y="1819.1"/><use href="#dm" x="1172.7" y="1840.5"/><use href="#dm" x="1172.7" y="1894.3"/><use href="#dm" x="1172.9" y="1900.5"/><use href="#dm" x="1173.3" y="1848.7"/><use href="#dm" x="1173.7" y="1822.3"/><use href="#dm" x="1173.8" y="1843.8"/><use href="#dm" x="1173.9" y="1819.5"/><use href="#dm" x="1175.0" y="2041.5"/><use href="#dm" x="1175.1" y="1810.1"/><use href="#dm" x="1175.9" y="1826.0"/><use href="#dm" x="1177.4" y="1821.8"/><use href="#dm" x="1179.7" y="1818.2"/><use href="#dm" x="1181.0" y="2041.5"/><use href="#dm" x="1182.1" y="1738.8"/><use href="#dm" x="1182.3" y="1741.6"/><use href="#dm" x="1185.0" y="1895.7"/><use href="#dm" x="1186.4" y="1744.6"/><use href="#dm" x="1186.8" y="1875.6"/><use href="#dm" x="1187.0" y="2041.5"/><use href="#dm" x="1188.7" y="1867.8"/><use href="#dm" x="1189.1" y="1894.3"/><use href="#dm" x="1189.6" y="1890.3"/><use href="#dm" x="1190.4" y="1871.8"/><use href="#dm" x="1190.4" y="1982.0"/><use href="#dm" x="1191.4" y="1910.7"/><use href="#dm" x="1192.1" y="1900.4"/><use href="#dm" x="1192.6" y="1872.1"/><use href="#dm" x="1193.0" y="2041.5"/><use href="#dm" x="1194.2" y="1976.9"/><use href="#dm" x="1194.9" y="1893.2"/><use href="#dm" x="1195.1" y="1910.7"/><use href="#dm" x="1195.7" y="1902.6"/><use href="#dm" x="1195.8" y="1823.8"/><use href="#dm" x="1196.1" y="1978.5"/><use href="#dm" x="1196.1" y="1877.6"/><use href="#dm" x="1197.8" y="1997.9"/><use href="#dm" x="1198.5" y="1868.6"/><use href="#dm" x="1199.7" y="1823.0"/><use href="#dm" x="1200.7" y="1847.7"/><use href="#dm" x="1200.8" y="1828.8"/><use href="#dm" x="1200.8" y="1834.7"/><use href="#dm" x="1200.8" y="1840.5"/><use href="#dm" x="1200.8" y="1892.0"/><use href="#dm" x="1200.8" y="1836.7"/><use href="#dm" x="1200.9" y="1866.5"/><use href="#dm" x="1201.0" y="2041.5"/><use href="#dm" x="1201.3" y="1832.1"/><use href="#dm" x="1201.6" y="1891.3"/><use href="#dm" x="1203.1" y="1994.9"/><use href="#dm" x="1204.5" y="1991.5"/><use href="#dm" x="1205.5" y="1884.0"/><use href="#dm" x="1205.6" y="1848.0"/><use href="#dm" x="1209.0" y="2041.5"/><use href="#dm" x="1210.1" y="1962.2"/><use href="#dm" x="1211.7" y="1887.9"/><use href="#dm" x="1212.0" y="1968.2"/><use href="#dm" x="1212.5" y="1878.0"/><use href="#dm" x="1212.5" y="1913.0"/><use href="#dm" x="1213.9" y="1921.7"/><use href="#dm" x="1214.3" y="1925.5"/><use href="#dm" x="1214.8" y="1876.8"/><use href="#dm" x="1215.0" y="2041.5"/><use href="#dm" x="1216.2" y="1999.3"/><use href="#dm" x="1217.2" y="1896.7"/><use href="#dm" x="1217.2" y="1931.8"/><use href="#dm" x="1217.4" y="1930.2"/><use href="#dm" x="1219.5" y="1914.2"/><use href="#dm" x="1219.5" y="1994.9"/><use href="#dm" x="1220.0" y="2003.7"/><use href="#dm" x="1220.4" y="1892.0"/><use href="#dm" x="1221.0" y="2041.5"/><use href="#dm" x="1221.9" y="1868.9"/><use href="#dm" x="1223.0" y="1974.5"/><use href="#dm" x="1223.0" y="1866.9"/><use href="#dm" x="1224.1" y="1940.5"/><use href="#dm" x="1224.2" y="1893.2"/><use href="#dm" x="1224.2" y="1932.9"/><use href="#dm" x="1224.2" y="1976.2"/><use href="#dm" x="1224.9" y="1917.9"/><use href="#dm" x="1225.3" y="1874.6"/><use href="#dm" x="1226.1" y="1926.9"/><use href="#dm" x="1226.5" y="1868.6"/><use href="#dm" x="1226.5" y="1915.4"/><use href="#dm" x="1226.8" y="1863.0"/><use href="#dm" x="1228.0" y="2041.5"/><use href="#dm" x="1228.1" y="1932.1"/><use href="#dm" x="1228.9" y="1922.9"/><use href="#dm" x="1229.0" y="1884.5"/><use href="#dm" x="1230.4" y="1943.8"/><use href="#dm" x="1230.9" y="1865.3"/><use href="#dm" x="1231.2" y="1866.3"/><use href="#dm" x="1231.2" y="1889.6"/><use href="#dm" x="1231.2" y="1934.1"/><use href="#dm" x="1231.4" y="1950.5"/><use href="#dm" x="1231.6" y="1920.0"/><use href="#dm" x="1234.0" y="2041.5"/><use href="#dm" x="1234.0" y="1931.8"/><use href="#dm" x="1235.9" y="1863.9"/><use href="#dm" x="1235.9" y="1943.5"/><use href="#dm" x="1238.2" y="1890.8"/><use href="#dm" x="1239.0" y="1986.0"/><use href="#dm" x="1239.1" y="1912.6"/><use href="#dm" x="1240.0" y="2041.5"/><use href="#dm" x="1241.1" y="1904.5"/><use href="#dm" x="1241.8" y="1899.7"/><use href="#dm" x="1242.9" y="1910.7"/><use href="#dm" x="1242.9" y="1990.2"/><use href="#dm" x="1245.2" y="1892.0"/><use href="#dm" x="1246.0" y="2041.5"/><use href="#dm" x="1246.4" y="1886.7"/><use href="#dm" x="1247.4" y="1930.7"/><use href="#dm" x="1247.5" y="1882.8"/><use href="#dm" x="1247.6" y="1875.6"/><use href="#dm" x="1248.2" y="2012.6"/><use href="#dm" x="1248.6" y="1878.4"/><use href="#dm" x="1248.6" y="2029.0"/><use href="#dm" x="1249.9" y="1934.1"/><use href="#dm" x="1249.9" y="2008.9"/><use href="#dm" x="1251.1" y="2016.0"/><use href="#dm" x="1251.4" y="1926.0"/><use href="#dm" x="1252.0" y="2041.5"/><use href="#dm" x="1252.3" y="1895.5"/><use href="#dm" x="1252.3" y="2023.0"/><use href="#dm" x="1252.3" y="2018.7"/><use href="#dm" x="1252.4" y="1911.6"/><use href="#dm" x="1252.9" y="1894.1"/><use href="#dm" x="1253.9" y="1940.4"/><use href="#dm" x="1254.5" y="2017.8"/><use href="#dm" x="1255.1" y="1906.8"/><use href="#dm" x="1256.9" y="1928.7"/><use href="#dm" x="1256.9" y="1920.1"/><use href="#dm" x="1256.9" y="1936.4"/><use href="#dm" x="1257.7" y="1906.7"/><use href="#dm" x="1258.0" y="2041.5"/><use href="#dm" x="1259.3" y="1899.0"/><use href="#dm" x="1263.9" y="1893.2"/><use href="#dm" x="1263.9" y="1938.8"/><use href="#dm" x="1264.0" y="1944.3"/><use href="#dm" x="1264.0" y="2041.5"/><use href="#dm" x="1265.1" y="1913.7"/><use href="#dm" x="1265.7" y="1889.2"/><use href="#dm" x="1266.0" y="1942.4"/><use href="#dm" x="1267.0" y="1894.8"/><use href="#dm" x="1267.3" y="1906.0"/><use href="#dm" x="1267.8" y="1915.9"/><use href="#dm" x="1268.6" y="1887.3"/><use href="#dm" x="1268.6" y="1922.4"/><use href="#dm" x="1268.6" y="1789.1"/><use href="#dm" x="1269.4" y="1914.3"/><use href="#dm" x="1269.5" y="1794.3"/><use href="#dm" x="1269.7" y="1934.1"/><use href="#dm" x="1270.0" y="2041.5"/><use href="#dm" x="1271.2" y="1905.8"/><use href="#dm" x="1272.0" y="1791.4"/><use href="#dm" x="1272.0" y="1868.6"/><use href="#dm" x="1272.5" y="1961.8"/><use href="#dm" x="1272.6" y="1871.1"/><use href="#dm" x="1273.8" y="1882.0"/><use href="#dm" x="1274.0" y="2041.5"/><use href="#dm" x="1274.0" y="1926.5"/><use href="#dm" x="1274.4" y="1889.6"/><use href="#dm" x="1275.5" y="1784.8"/><use href="#dm" x="1276.4" y="1900.1"/><use href="#dm" x="1276.7" y="1962.2"/><use href="#dm" x="1277.1" y="1788.8"/><use href="#dm" x="1277.1" y="1884.7"/><use href="#dm" x="1277.8" y="1905.9"/><use href="#dm" x="1277.8" y="1865.7"/><use href="#dm" x="1277.9" y="1872.1"/><use href="#dm" x="1278.7" y="1884.3"/><use href="#dm" x="1279.0" y="1893.2"/><use href="#dm" x="1279.0" y="1910.7"/><use href="#dm" x="1280.0" y="2041.5"/><use href="#dm" x="1280.2" y="1878.5"/><use href="#dm" x="1280.4" y="1915.7"/><use href="#dm" x="1280.8" y="1901.8"/><use href="#dm" x="1281.4" y="1880.3"/><use href="#dm" x="1281.4" y="1903.7"/><use href="#dm" x="1283.7" y="1875.6"/><use href="#dm" x="1283.7" y="1896.7"/><use href="#dm" x="1284.6" y="1887.8"/><use href="#dm" x="1285.0" y="1874.6"/><use href="#dm" x="1286.0" y="2041.5"/><use href="#dm" x="1287.3" y="1997.8"/><use href="#dm" x="1288.4" y="1999.6"/><use href="#dm" x="1288.8" y="1896.2"/><use href="#dm" x="1289.7" y="2014.4"/><use href="#dm" x="1290.5" y="1970.8"/><use href="#dm" x="1292.6" y="2008.4"/><use href="#dm" x="1293.1" y="1973.9"/><use href="#dm" x="1294.0" y="2041.5"/><use href="#dm" x="1295.4" y="2016.0"/><use href="#dm" x="1297.7" y="1979.7"/><use href="#dm" x="1300.0" y="2041.5"/><use href="#dm" x="1301.0" y="1985.1"/><use href="#dm" x="1302.4" y="1985.6"/><use href="#dm" x="1306.0" y="1838.5"/><use href="#dm" x="1306.3" y="1829.7"/><use href="#dm" x="1307.2" y="1829.1"/><use href="#dm" x="1308.4" y="1979.4"/><use href="#dm" x="1309.0" y="2041.5"/><use href="#dm" x="1309.4" y="1831.2"/><use href="#dm" x="1309.5" y="1787.8"/><use href="#dm" x="1310.0" y="1819.9"/><use href="#dm" x="1310.0" y="1865.9"/><use href="#dm" x="1310.3" y="1773.4"/><use href="#dm" x="1310.5" y="1770.0"/><use href="#dm" x="1310.6" y="1826.5"/><use href="#dm" x="1310.9" y="1900.9"/><use href="#dm" x="1311.1" y="1833.4"/><use href="#dm" x="1311.2" y="1778.9"/><use href="#dm" x="1311.8" y="1770.4"/><use href="#dm" x="1311.8" y="1821.8"/><use href="#dm" x="1311.8" y="1863.9"/><use href="#dm" x="1311.8" y="1894.3"/><use href="#dm" x="1313.0" y="1777.4"/><use href="#dm" x="1314.0" y="1797.1"/><use href="#dm" x="1314.1" y="1784.4"/><use href="#dm" x="1314.2" y="1784.6"/><use href="#dm" x="1314.6" y="1895.0"/><use href="#dm" x="1315.0" y="2041.5"/><use href="#dm" x="1315.1" y="1790.7"/><use href="#dm" x="1315.3" y="1791.4"/><use href="#dm" x="1316.5" y="1798.4"/><use href="#dm" x="1318.8" y="1803.1"/><use href="#dm" x="1320.0" y="1297.0"/><use href="#dm" x="1321.0" y="2041.5"/><use href="#dm" x="1321.1" y="1807.8"/><use href="#dm" x="1321.7" y="1811.9"/><use href="#dm" x="1322.3" y="1796.2"/><use href="#dm" x="1324.4" y="1353.9"/><use href="#dm" x="1325.3" y="1360.7"/><use href="#dm" x="1325.6" y="1360.1"/><use href="#dm" x="1325.8" y="1835.8"/><use href="#dm" x="1325.8" y="1917.4"/><use href="#dm" x="1326.0" y="1297.0"/><use href="#dm" x="1326.4" y="1801.4"/><use href="#dm" x="1326.6" y="1838.0"/><use href="#dm" x="1326.9" y="1904.5"/><use href="#dm" x="1328.0" y="2041.5"/><use href="#dm" x="1330.1" y="1355.1"/><use href="#dm" x="1330.5" y="1913.0"/><use href="#dm" x="1332.0" y="1297.0"/><use href="#dm" x="1332.5" y="1363.4"/><use href="#dm" x="1332.6" y="1893.1"/><use href="#dm" x="1332.9" y="1360.1"/><use href="#dm" x="1333.2" y="1364.9"/><use href="#dm" x="1334.0" y="2041.5"/><use href="#dm" x="1335.2" y="1889.6"/><use href="#dm" x="1335.5" y="1351.3"/><use href="#dm" x="1335.8" y="1356.2"/><use href="#dm" x="1337.5" y="1873.3"/><use href="#dm" x="1337.5" y="1913.0"/><use href="#dm" x="1337.6" y="1879.2"/><use href="#dm" x="1337.9" y="1867.3"/><use href="#dm" x="1339.3" y="1914.6"/><use href="#dm" x="1339.4" y="1918.7"/><use href="#dm" x="1339.9" y="1962.2"/><use href="#dm" x="1340.0" y="2041.5"/><use href="#dm" x="1340.1" y="1957.2"/><use href="#dm" x="1341.4" y="1900.5"/><use href="#dm" x="1342.2" y="1892.0"/><use href="#dm" x="1342.5" y="1893.5"/><use href="#dm" x="1342.7" y="1906.6"/><use href="#dm" x="1343.4" y="1875.6"/><use href="#dm" x="1344.5" y="1913.0"/><use href="#dm" x="1346.0" y="2041.5"/><use href="#dm" x="1346.2" y="1901.8"/><use href="#dm" x="1346.7" y="1875.9"/><use href="#dm" x="1346.7" y="1876.2"/><use href="#dm" x="1348.5" y="1889.8"/><use href="#dm" x="1348.8" y="1769.5"/><use href="#dm" x="1349.2" y="1777.4"/><use href="#dm" x="1349.2" y="1878.0"/><use href="#dm" x="1349.2" y="1894.3"/><use href="#dm" x="1349.4" y="1771.2"/><use href="#dm" x="1351.5" y="1910.7"/><use href="#dm" x="1352.0" y="2041.5"/><use href="#dm" x="1352.6" y="1890.4"/><use href="#dm" x="1352.7" y="1875.0"/><use href="#dm" x="1353.0" y="1895.6"/><use href="#dm" x="1353.4" y="1767.1"/><use href="#dm" x="1353.9" y="1771.5"/><use href="#dm" x="1354.2" y="1907.9"/><use href="#dm" x="1354.5" y="1772.7"/><use href="#dm" x="1356.2" y="1776.2"/><use href="#dm" x="1356.2" y="1875.6"/><use href="#dm" x="1356.2" y="1894.3"/><use href="#dm" x="1356.4" y="1883.3"/><use href="#dm" x="1356.9" y="1910.3"/><use href="#dm" x="1358.2" y="1880.3"/><use href="#dm" x="1358.6" y="1765.7"/><use href="#dm" x="1358.6" y="1908.4"/><use href="#dm" x="1358.6" y="1938.8"/><use href="#dm" x="1359.0" y="2041.5"/><use href="#dm" x="1360.3" y="1910.6"/><use href="#dm" x="1361.8" y="1770.1"/><use href="#dm" x="1362.0" y="1774.5"/><use href="#dm" x="1362.3" y="1944.9"/><use href="#dm" x="1363.0" y="1896.2"/><use href="#dm" x="1363.2" y="1775.0"/><use href="#dm" x="1363.2" y="1873.3"/><use href="#dm" x="1363.2" y="1894.3"/><use href="#dm" x="1364.2" y="1901.1"/><use href="#dm" x="1364.4" y="1769.3"/><use href="#dm" x="1365.6" y="1909.5"/><use href="#dm" x="1366.6" y="1896.9"/><use href="#dm" x="1366.9" y="1842.3"/><use href="#dm" x="1367.0" y="2041.5"/><use href="#dm" x="1367.0" y="1790.3"/><use href="#dm" x="1367.5" y="1877.5"/><use href="#dm" x="1367.8" y="1846.3"/><use href="#dm" x="1367.8" y="1844.2"/><use href="#dm" x="1367.9" y="1835.8"/><use href="#dm" x="1369.1" y="1830.0"/><use href="#dm" x="1369.6" y="1906.3"/><use href="#dm" x="1370.3" y="1824.2"/><use href="#dm" x="1370.3" y="1890.8"/><use href="#dm" x="1370.4" y="1827.2"/><use href="#dm" x="1370.5" y="1897.0"/><use href="#dm" x="1372.3" y="1895.5"/><use href="#dm" x="1372.6" y="1793.7"/><use href="#dm" x="1372.6" y="1852.2"/><use href="#dm" x="1372.6" y="1910.7"/><use href="#dm" x="1372.6" y="1934.1"/><use href="#dm" x="1373.0" y="2041.5"/><use href="#dm" x="1373.8" y="1825.2"/><use href="#dm" x="1373.8" y="1836.5"/><use href="#dm" x="1374.9" y="1817.9"/><use href="#dm" x="1376.2" y="1935.4"/><use href="#dm" x="1376.7" y="1851.0"/><use href="#dm" x="1376.8" y="1848.5"/><use href="#dm" x="1377.3" y="1887.3"/><use href="#dm" x="1377.3" y="1952.8"/><use href="#dm" x="1377.4" y="1883.9"/><use href="#dm" x="1378.2" y="1927.3"/><use href="#dm" x="1379.0" y="2041.5"/><use href="#dm" x="1379.6" y="1910.7"/><use href="#dm" x="1379.9" y="1907.7"/><use href="#dm" x="1380.7" y="1919.1"/><use href="#dm" x="1380.9" y="1953.9"/><use href="#dm" x="1382.0" y="1849.9"/><use href="#dm" x="1382.7" y="1846.0"/><use href="#dm" x="1383.6" y="1865.8"/><use href="#dm" x="1384.3" y="1863.9"/><use href="#dm" x="1385.0" y="2041.5"/><use href="#dm" x="1386.3" y="1858.6"/><use href="#dm" x="1386.6" y="1910.7"/><use href="#dm" x="1388.2" y="1908.3"/><use href="#dm" x="1389.2" y="1859.6"/><use href="#dm" x="1389.4" y="1866.7"/><use href="#dm" x="1390.1" y="1865.1"/><use href="#dm" x="1391.0" y="2041.5"/><use href="#dm" x="1391.3" y="1878.0"/><use href="#dm" x="1391.9" y="1915.7"/><use href="#dm" x="1395.9" y="1879.7"/><use href="#dm" x="1396.0" y="1840.5"/><use href="#dm" x="1396.0" y="1866.3"/><use href="#dm" x="1396.4" y="1911.4"/><use href="#dm" x="1396.6" y="1870.4"/><use href="#dm" x="1398.0" y="2041.5"/><use href="#dm" x="1398.2" y="1869.8"/><use href="#dm" x="1398.3" y="1876.8"/><use href="#dm" x="1399.8" y="1879.8"/><use href="#dm" x="1399.8" y="1841.3"/><use href="#dm" x="1400.0" y="1852.6"/><use href="#dm" x="1400.3" y="1844.8"/><use href="#dm" x="1400.7" y="1860.4"/><use href="#dm" x="1400.7" y="1920.1"/><use href="#dm" x="1400.8" y="1851.6"/><use href="#dm" x="1401.4" y="1871.6"/><use href="#dm" x="1401.8" y="1838.2"/><use href="#dm" x="1404.1" y="1831.5"/><use href="#dm" x="1404.4" y="1856.4"/><use href="#dm" x="1405.4" y="1854.6"/><use href="#dm" x="1405.4" y="1875.6"/><use href="#dm" x="1406.6" y="1930.0"/><use href="#dm" x="1406.7" y="1857.5"/><use href="#dm" x="1407.7" y="1835.8"/><use href="#dm" x="1407.7" y="1931.1"/><use href="#dm" x="1408.1" y="1841.7"/><use href="#dm" x="1408.4" y="1872.0"/><use href="#dm" x="1410.0" y="1934.1"/><use href="#dm" x="1410.1" y="1878.7"/><use href="#dm" x="1411.0" y="1782.1"/><use href="#dm" x="1412.4" y="1879.1"/><use href="#dm" x="1413.7" y="1824.8"/><use href="#dm" x="1414.5" y="1882.7"/><use href="#dm" x="1414.7" y="1775.0"/><use href="#dm" x="1414.7" y="1950.5"/><use href="#dm" x="1415.0" y="1944.2"/><use href="#dm" x="1415.0" y="1857.6"/><use href="#dm" x="1415.0" y="1879.6"/><use href="#dm" x="1417.0" y="1826.5"/><use href="#dm" x="1417.3" y="1878.8"/><use href="#dm" x="1417.8" y="1761.1"/><use href="#dm" x="1417.9" y="1772.3"/><use href="#dm" x="1418.5" y="1887.1"/><use href="#dm" x="1419.1" y="1957.7"/><use href="#dm" x="1419.4" y="1728.2"/><use href="#dm" x="1419.4" y="1761.0"/><use href="#dm" x="1419.4" y="1863.9"/><use href="#dm" x="1419.4" y="1882.6"/><use href="#dm" x="1420.8" y="1790.9"/><use href="#dm" x="1420.9" y="1755.0"/><use href="#dm" x="1421.0" y="2041.5"/><use href="#dm" x="1421.2" y="1799.1"/><use href="#dm" x="1421.6" y="1721.6"/><use href="#dm" x="1421.7" y="1777.4"/><use href="#dm" x="1422.9" y="1830.0"/><use href="#dm" x="1423.1" y="1836.8"/><use href="#dm" x="1423.6" y="1755.4"/><use href="#dm" x="1423.8" y="1871.9"/><use href="#dm" x="1424.1" y="1793.7"/><use href="#dm" x="1425.4" y="1840.4"/><use href="#dm" x="1426.4" y="1730.6"/><use href="#dm" x="1426.4" y="1747.0"/><use href="#dm" x="1426.4" y="1763.3"/><use href="#dm" x="1426.4" y="1803.2"/><use href="#dm" x="1427.0" y="2041.5"/><use href="#dm" x="1427.5" y="1759.6"/><use href="#dm" x="1428.1" y="1772.8"/><use href="#dm" x="1428.2" y="1824.8"/><use href="#dm" x="1428.7" y="1779.7"/><use href="#dm" x="1428.7" y="1807.8"/><use href="#dm" x="1428.7" y="1833.5"/><use href="#dm" x="1429.3" y="1815.4"/><use href="#dm" x="1429.6" y="1734.8"/><use href="#dm" x="1429.9" y="1739.9"/><use href="#dm" x="1430.6" y="1742.0"/><use href="#dm" x="1431.1" y="1796.1"/><use href="#dm" x="1431.4" y="1845.8"/><use href="#dm" x="1431.6" y="1733.4"/><use href="#dm" x="1432.0" y="1735.4"/><use href="#dm" x="1432.3" y="1747.0"/><use href="#dm" x="1432.4" y="1730.9"/><use href="#dm" x="1432.5" y="1775.7"/><use href="#dm" x="1432.6" y="1783.1"/><use href="#dm" x="1433.0" y="2041.5"/><use href="#dm" x="1433.2" y="1798.3"/><use href="#dm" x="1433.4" y="1732.9"/><use href="#dm" x="1433.4" y="1765.7"/><use href="#dm" x="1433.4" y="1803.1"/><use href="#dm" x="1433.4" y="1849.9"/><use href="#dm" x="1433.5" y="1794.5"/><use href="#dm" x="1434.6" y="1782.0"/><use href="#dm" x="1434.7" y="1739.9"/><use href="#dm" x="1434.8" y="1735.9"/><use href="#dm" x="1435.0" y="1740.4"/><use href="#dm" x="1435.3" y="1768.1"/><use href="#dm" x="1435.8" y="1810.1"/><use href="#dm" x="1436.0" y="1753.1"/><use href="#dm" x="1437.0" y="1787.5"/><use href="#dm" x="1438.0" y="1786.5"/><use href="#dm" x="1438.1" y="1747.0"/><use href="#dm" x="1438.1" y="1798.4"/><use href="#dm" x="1438.2" y="1806.8"/><use href="#dm" x="1438.4" y="1801.8"/><use href="#dm" x="1439.0" y="2041.5"/><use href="#dm" x="1439.1" y="1745.4"/><use href="#dm" x="1439.6" y="1778.6"/><use href="#dm" x="1440.4" y="1784.4"/><use href="#dm" x="1440.9" y="1806.6"/><use href="#dm" x="1441.7" y="1816.9"/><use href="#dm" x="1442.0" y="1892.8"/><use href="#dm" x="1442.0" y="1850.0"/><use href="#dm" x="1442.6" y="1816.1"/><use href="#dm" x="1442.7" y="1871.1"/><use href="#dm" x="1442.8" y="1812.5"/><use href="#dm" x="1442.8" y="1878.0"/><use href="#dm" x="1443.2" y="1959.9"/><use href="#dm" x="1444.0" y="1892.7"/><use href="#dm" x="1444.2" y="1973.3"/><use href="#dm" x="1445.0" y="2041.5"/><use href="#dm" x="1445.1" y="1856.9"/><use href="#dm" x="1445.2" y="1878.8"/><use href="#dm" x="1446.4" y="1876.0"/><use href="#dm" x="1447.5" y="1894.3"/><use href="#dm" x="1447.5" y="1952.8"/><use href="#dm" x="1447.5" y="1884.0"/><use href="#dm" x="1448.1" y="1958.7"/><use href="#dm" x="1448.6" y="1959.8"/><use href="#dm" x="1448.6" y="1889.9"/><use href="#dm" x="1449.1" y="1913.5"/><use href="#dm" x="1449.8" y="1880.3"/><use href="#dm" x="1449.8" y="1966.8"/><use href="#dm" x="1450.1" y="1955.1"/><use href="#dm" x="1451.0" y="1860.4"/><use href="#dm" x="1452.0" y="1866.6"/><use href="#dm" x="1452.0" y="2041.5"/><use href="#dm" x="1452.1" y="1888.5"/><use href="#dm" x="1452.1" y="1922.4"/><use href="#dm" x="1453.0" y="1866.7"/><use href="#dm" x="1453.1" y="1966.6"/><use href="#dm" x="1453.2" y="1960.6"/><use href="#dm" x="1453.6" y="1927.1"/><use href="#dm" x="1454.4" y="1889.9"/><use href="#dm" x="1454.5" y="1896.7"/><use href="#dm" x="1454.5" y="1929.4"/><use href="#dm" x="1454.5" y="1890.3"/><use href="#dm" x="1455.0" y="1875.9"/><use href="#dm" x="1456.5" y="1891.4"/><use href="#dm" x="1456.8" y="1863.9"/><use href="#dm" x="1456.8" y="1882.6"/><use href="#dm" x="1456.8" y="1936.4"/><use href="#dm" x="1456.8" y="1971.5"/><use href="#dm" x="1457.0" y="1882.4"/><use href="#dm" x="1458.0" y="2041.5"/><use href="#dm" x="1458.9" y="1790.4"/><use href="#dm" x="1460.3" y="1973.3"/><use href="#dm" x="1461.5" y="1899.0"/><use href="#dm" x="1461.5" y="1890.7"/><use href="#dm" x="1462.8" y="1930.0"/><use href="#dm" x="1463.8" y="1789.1"/><use href="#dm" x="1464.0" y="2041.5"/><use href="#dm" x="1465.3" y="1791.9"/><use href="#dm" x="1466.2" y="1770.4"/><use href="#dm" x="1466.5" y="1799.3"/><use href="#dm" x="1467.1" y="1742.6"/><use href="#dm" x="1467.8" y="1798.9"/><use href="#dm" x="1467.9" y="1942.9"/><use href="#dm" x="1468.4" y="1761.7"/><use href="#dm" x="1468.5" y="1807.8"/><use href="#dm" x="1469.2" y="1807.7"/><use href="#dm" x="1469.7" y="1791.4"/><use href="#dm" x="1469.8" y="1760.0"/><use href="#dm" x="1470.0" y="2041.5"/><use href="#dm" x="1470.4" y="1805.4"/><use href="#dm" x="1470.7" y="1773.8"/><use href="#dm" x="1470.8" y="1735.3"/><use href="#dm" x="1470.8" y="1824.2"/><use href="#dm" x="1470.8" y="1945.8"/><use href="#dm" x="1471.7" y="1755.3"/><use href="#dm" x="1471.7" y="1794.9"/><use href="#dm" x="1471.9" y="1749.6"/><use href="#dm" x="1472.0" y="1768.0"/><use href="#dm" x="1472.0" y="1800.8"/><use href="#dm" x="1472.2" y="1802.0"/><use href="#dm" x="1472.7" y="1825.0"/><use href="#dm" x="1472.9" y="1730.1"/><use href="#dm" x="1473.4" y="1818.7"/><use href="#dm" x="1473.6" y="1768.3"/><use href="#dm" x="1474.0" y="1823.6"/><use href="#dm" x="1474.4" y="1810.1"/><use href="#dm" x="1474.7" y="1737.6"/><use href="#dm" x="1475.5" y="1751.6"/><use href="#dm" x="1475.5" y="1793.7"/><use href="#dm" x="1475.5" y="1818.3"/><use href="#dm" x="1475.5" y="1940.2"/><use href="#dm" x="1475.6" y="1786.1"/><use href="#dm" x="1475.9" y="1828.9"/><use href="#dm" x="1476.0" y="2041.5"/><use href="#dm" x="1476.0" y="1829.0"/><use href="#dm" x="1476.3" y="1811.9"/><use href="#dm" x="1476.7" y="1732.9"/><use href="#dm" x="1476.7" y="1827.7"/><use href="#dm" x="1476.8" y="1762.1"/><use href="#dm" x="1477.0" y="1741.7"/><use href="#dm" x="1477.9" y="1765.7"/><use href="#dm" x="1477.9" y="1819.3"/><use href="#dm" x="1478.3" y="1832.9"/><use href="#dm" x="1480.2" y="1812.5"/><use href="#dm" x="1481.0" y="1775.9"/><use href="#dm" x="1481.6" y="1735.4"/><use href="#dm" x="1481.8" y="1733.7"/><use href="#dm" x="1482.0" y="2041.5"/><use href="#dm" x="1482.1" y="1761.5"/><use href="#dm" x="1482.5" y="1730.6"/><use href="#dm" x="1482.5" y="1748.1"/><use href="#dm" x="1482.5" y="1831.2"/><use href="#dm" x="1483.2" y="1752.6"/><use href="#dm" x="1483.3" y="1815.9"/><use href="#dm" x="1483.7" y="1770.4"/><use href="#dm" x="1486.1" y="1737.6"/><use href="#dm" x="1486.3" y="1826.0"/><use href="#dm" x="1488.0" y="2041.5"/><use href="#dm" x="1488.8" y="1732.3"/><use href="#dm" x="1489.6" y="1744.6"/><use href="#dm" x="1489.6" y="1775.0"/><use href="#dm" x="1492.1" y="1740.6"/><use href="#dm" x="1493.8" y="1902.0"/><use href="#dm" x="1494.0" y="2041.5"/><use href="#dm" x="1494.2" y="1894.3"/><use href="#dm" x="1495.1" y="1772.7"/><use href="#dm" x="1496.4" y="1900.3"/><use href="#dm" x="1497.6" y="1763.7"/><use href="#dm" x="1498.9" y="1756.3"/><use href="#dm" x="1498.9" y="1765.7"/><use href="#dm" x="1499.0" y="2041.5"/><use href="#dm" x="1504.0" y="1761.5"/><use href="#dm" x="1504.4" y="1747.9"/><use href="#dm" x="1505.0" y="2041.5"/><use href="#dm" x="1510.6" y="1817.1"/><use href="#dm" x="1510.6" y="1878.0"/><use href="#dm" x="1510.7" y="1882.5"/><use href="#dm" x="1513.0" y="1845.2"/><use href="#dm" x="1513.3" y="1926.5"/><use href="#dm" x="1514.5" y="1839.9"/><use href="#dm" x="1514.5" y="1810.5"/><use href="#dm" x="1514.7" y="1825.2"/><use href="#dm" x="1514.8" y="1885.9"/><use href="#dm" x="1515.3" y="1894.3"/><use href="#dm" x="1515.4" y="1899.8"/><use href="#dm" x="1516.5" y="1814.8"/><use href="#dm" x="1516.5" y="1875.6"/><use href="#dm" x="1517.4" y="1821.3"/><use href="#dm" x="1517.5" y="1872.3"/><use href="#dm" x="1517.6" y="1828.8"/><use href="#dm" x="1517.6" y="1849.9"/><use href="#dm" x="1517.6" y="1922.4"/><use href="#dm" x="1518.0" y="2041.5"/><use href="#dm" x="1518.2" y="1884.4"/><use href="#dm" x="1518.8" y="1916.5"/><use href="#dm" x="1519.4" y="1925.9"/><use href="#dm" x="1519.7" y="1828.7"/><use href="#dm" x="1519.8" y="1824.5"/><use href="#dm" x="1520.0" y="1910.7"/><use href="#dm" x="1521.7" y="1850.4"/><use href="#dm" x="1521.7" y="1913.9"/><use href="#dm" x="1522.2" y="1818.7"/><use href="#dm" x="1522.3" y="1812.5"/><use href="#dm" x="1522.3" y="1854.6"/><use href="#dm" x="1522.3" y="1873.3"/><use href="#dm" x="1522.6" y="1877.9"/><use href="#dm" x="1522.7" y="1873.2"/><use href="#dm" x="1523.5" y="1831.2"/><use href="#dm" x="1523.6" y="1847.3"/><use href="#dm" x="1524.0" y="2041.5"/><use href="#dm" x="1524.2" y="1849.7"/><use href="#dm" x="1525.3" y="1836.0"/><use href="#dm" x="1525.8" y="1903.2"/><use href="#dm" x="1526.3" y="1837.4"/><use href="#dm" x="1528.2" y="1878.0"/><use href="#dm" x="1529.3" y="1833.5"/><use href="#dm" x="1530.0" y="2041.5"/><use href="#dm" x="1534.0" y="1882.6"/><use href="#dm" x="1534.2" y="1800.2"/><use href="#dm" x="1534.6" y="1614.4"/><use href="#dm" x="1534.6" y="1621.2"/><use href="#dm" x="1534.6" y="1628.1"/><use href="#dm" x="1534.8" y="1619.4"/><use href="#dm" x="1534.9" y="1793.2"/><use href="#dm" x="1535.0" y="2041.5"/><use href="#dm" x="1535.3" y="1627.7"/><use href="#dm" x="1536.3" y="1798.4"/><use href="#dm" x="1538.4" y="1877.1"/><use href="#dm" x="1538.5" y="1612.8"/><use href="#dm" x="1538.8" y="1833.5"/><use href="#dm" x="1538.9" y="1875.5"/><use href="#dm" x="1539.7" y="1622.6"/><use href="#dm" x="1539.8" y="1635.6"/><use href="#dm" x="1541.0" y="2041.5"/><use href="#dm" x="1541.0" y="1835.8"/><use href="#dm" x="1543.1" y="1804.5"/><use href="#dm" x="1543.4" y="1798.4"/><use href="#dm" x="1543.8" y="1846.9"/><use href="#dm" x="1545.7" y="1812.5"/><use href="#dm" x="1545.7" y="1841.7"/><use href="#dm" x="1547.0" y="2041.5"/><use href="#dm" x="1547.1" y="1790.9"/><use href="#dm" x="1547.6" y="1807.7"/><use href="#dm" x="1548.0" y="1805.4"/><use href="#dm" x="1550.0" y="1929.4"/><use href="#dm" x="1550.3" y="1939.7"/><use href="#dm" x="1550.4" y="1798.4"/><use href="#dm" x="1550.4" y="1847.5"/><use href="#dm" x="1550.5" y="1854.5"/><use href="#dm" x="1550.5" y="1815.1"/><use href="#dm" x="1551.5" y="1813.6"/><use href="#dm" x="1552.4" y="1860.9"/><use href="#dm" x="1552.7" y="1839.9"/><use href="#dm" x="1552.7" y="1931.8"/><use href="#dm" x="1552.8" y="1812.9"/><use href="#dm" x="1553.0" y="2041.5"/><use href="#dm" x="1554.2" y="1767.9"/><use href="#dm" x="1554.2" y="1855.8"/><use href="#dm" x="1554.3" y="1869.6"/><use href="#dm" x="1554.6" y="1867.4"/><use href="#dm" x="1555.1" y="1853.4"/><use href="#dm" x="1555.1" y="1868.6"/><use href="#dm" x="1555.4" y="1804.0"/><use href="#dm" x="1555.5" y="1752.3"/><use href="#dm" x="1556.8" y="1815.1"/><use href="#dm" x="1557.4" y="1777.0"/><use href="#dm" x="1557.4" y="1814.8"/><use href="#dm" x="1557.4" y="1739.9"/><use href="#dm" x="1557.4" y="1747.0"/><use href="#dm" x="1557.4" y="1754.0"/><use href="#dm" x="1558.5" y="1875.7"/><use href="#dm" x="1558.9" y="1746.1"/><use href="#dm" x="1559.0" y="2041.5"/><use href="#dm" x="1559.7" y="1810.1"/><use href="#dm" x="1559.7" y="1859.2"/><use href="#dm" x="1559.7" y="1770.4"/><use href="#dm" x="1561.2" y="1758.3"/><use href="#dm" x="1561.5" y="1731.0"/><use href="#dm" x="1562.1" y="1872.1"/><use href="#dm" x="1562.4" y="1867.6"/><use href="#dm" x="1564.0" y="1867.5"/><use href="#dm" x="1567.9" y="1987.2"/><use href="#dm" x="1568.0" y="2041.5"/><use href="#dm" x="1569.0" y="1985.9"/><use href="#dm" x="1569.1" y="1875.6"/><use href="#dm" x="1571.4" y="1966.8"/><use href="#dm" x="1571.4" y="1973.9"/><use href="#dm" x="1571.4" y="1980.9"/><use href="#dm" x="1571.5" y="1965.9"/><use href="#dm" x="1571.6" y="1971.5"/><use href="#dm" x="1573.8" y="1863.9"/><use href="#dm" x="1574.0" y="2041.5"/><use href="#dm" x="1575.5" y="1841.1"/><use href="#dm" x="1576.5" y="1862.2"/><use href="#dm" x="1580.0" y="2041.5"/><use href="#dm" x="1580.2" y="1844.7"/><use href="#dm" x="1580.8" y="1835.8"/><use href="#dm" x="1581.5" y="1868.2"/><use href="#dm" x="1582.9" y="1841.2"/><use href="#dm" x="1583.1" y="1854.6"/><use href="#dm" x="1583.1" y="1924.7"/><use href="#dm" x="1583.6" y="1932.2"/><use href="#dm" x="1584.0" y="2041.5"/><use href="#dm" x="1584.1" y="1856.9"/><use href="#dm" x="1584.7" y="1837.9"/><use href="#dm" x="1586.2" y="1848.2"/><use href="#dm" x="1586.6" y="1838.2"/><use href="#dm" x="1586.6" y="1860.4"/><use href="#dm" x="1587.0" y="1805.8"/><use href="#dm" x="1588.4" y="1859.1"/><use href="#dm" x="1589.0" y="1803.1"/><use href="#dm" x="1590.0" y="1872.4"/><use href="#dm" x="1590.0" y="2041.5"/><use href="#dm" x="1590.1" y="1866.3"/><use href="#dm" x="1591.6" y="1766.3"/><use href="#dm" x="1592.3" y="1764.5"/><use href="#dm" x="1592.5" y="1840.5"/><use href="#dm" x="1592.5" y="1772.7"/><use href="#dm" x="1592.5" y="1840.2"/><use href="#dm" x="1594.9" y="1809.1"/><use href="#dm" x="1596.0" y="2041.5"/><use href="#dm" x="1598.2" y="1689.6"/><use href="#dm" x="1598.4" y="1848.3"/><use href="#dm" x="1598.8" y="1691.1"/><use href="#dm" x="1601.8" y="1704.1"/><use href="#dm" x="1602.0" y="2041.5"/><use href="#dm" x="1603.0" y="1692.8"/><use href="#dm" x="1603.4" y="1673.0"/><use href="#dm" x="1604.2" y="1676.8"/><use href="#dm" x="1604.2" y="1682.6"/><use href="#dm" x="1604.2" y="1688.5"/><use href="#dm" x="1604.2" y="1694.3"/><use href="#dm" x="1604.2" y="1700.2"/><use href="#dm" x="1607.2" y="1687.7"/><use href="#dm" x="1608.0" y="2041.5"/><use href="#dm" x="1608.5" y="1690.1"/><use href="#dm" x="1608.8" y="1679.3"/><use href="#dm" x="1608.9" y="1718.9"/><use href="#dm" x="1608.9" y="1724.7"/><use href="#dm" x="1608.9" y="1730.6"/><use href="#dm" x="1608.9" y="1730.1"/><use href="#dm" x="1608.9" y="1747.1"/><use href="#dm" x="1609.0" y="1725.6"/><use href="#dm" x="1609.0" y="1680.5"/><use href="#dm" x="1609.2" y="1697.2"/><use href="#dm" x="1610.0" y="1737.6"/><use href="#dm" x="1610.6" y="1746.3"/><use href="#dm" x="1610.8" y="1729.7"/><use href="#dm" x="1611.2" y="1744.6"/><use href="#dm" x="1611.4" y="1801.4"/><use href="#dm" x="1611.7" y="1725.1"/><use href="#dm" x="1611.9" y="1842.7"/><use href="#dm" x="1612.4" y="1751.6"/><use href="#dm" x="1613.5" y="1777.2"/><use href="#dm" x="1613.5" y="1758.7"/><use href="#dm" x="1614.6" y="1745.2"/><use href="#dm" x="1614.9" y="1818.7"/><use href="#dm" x="1615.0" y="2041.5"/><use href="#dm" x="1615.1" y="1849.2"/><use href="#dm" x="1615.5" y="1827.5"/><use href="#dm" x="1615.5" y="1736.8"/><use href="#dm" x="1615.9" y="1775.0"/><use href="#dm" x="1615.9" y="1782.0"/><use href="#dm" x="1615.9" y="1789.1"/><use href="#dm" x="1615.9" y="1835.8"/><use href="#dm" x="1615.9" y="1929.4"/><use href="#dm" x="1615.9" y="1857.8"/><use href="#dm" x="1616.3" y="1792.2"/><use href="#dm" x="1616.6" y="1928.2"/><use href="#dm" x="1617.0" y="1765.1"/><use href="#dm" x="1617.0" y="1796.1"/><use href="#dm" x="1617.1" y="1943.2"/><use href="#dm" x="1617.1" y="1759.0"/><use href="#dm" x="1617.9" y="1755.1"/><use href="#dm" x="1618.2" y="1803.1"/><use href="#dm" x="1618.2" y="1910.7"/><use href="#dm" x="1618.3" y="1814.8"/><use href="#dm" x="1618.5" y="1787.8"/><use href="#dm" x="1619.4" y="1936.4"/><use href="#dm" x="1619.6" y="1794.3"/><use href="#dm" x="1620.3" y="1941.3"/><use href="#dm" x="1620.6" y="1810.1"/><use href="#dm" x="1620.6" y="1854.6"/><use href="#dm" x="1620.6" y="1955.1"/><use href="#dm" x="1621.0" y="2041.5"/><use href="#dm" x="1621.7" y="1923.2"/><use href="#dm" x="1621.7" y="1952.5"/><use href="#dm" x="1621.7" y="1949.3"/><use href="#dm" x="1622.3" y="1947.3"/><use href="#dm" x="1622.8" y="1953.2"/><use href="#dm" x="1622.8" y="1788.8"/><use href="#dm" x="1622.9" y="1817.1"/><use href="#dm" x="1622.9" y="1838.2"/><use href="#dm" x="1622.9" y="1943.5"/><use href="#dm" x="1623.8" y="1917.0"/><use href="#dm" x="1624.1" y="1914.2"/><use href="#dm" x="1624.7" y="1803.8"/><use href="#dm" x="1624.7" y="1883.4"/><use href="#dm" x="1624.8" y="1951.4"/><use href="#dm" x="1624.9" y="1871.8"/><use href="#dm" x="1625.0" y="1820.8"/><use href="#dm" x="1625.3" y="1840.2"/><use href="#dm" x="1625.7" y="1832.2"/><use href="#dm" x="1625.7" y="1949.3"/><use href="#dm" x="1627.1" y="1823.4"/><use href="#dm" x="1627.6" y="1878.0"/><use href="#dm" x="1627.7" y="1922.5"/><use href="#dm" x="1628.7" y="1819.5"/><use href="#dm" x="1629.2" y="1909.5"/><use href="#dm" x="1629.9" y="1840.5"/><use href="#dm" x="1629.9" y="1917.7"/><use href="#dm" x="1631.4" y="1859.4"/><use href="#dm" x="1632.0" y="1816.6"/><use href="#dm" x="1634.6" y="1821.8"/><use href="#dm" x="1634.6" y="1863.9"/><use href="#dm" x="1634.6" y="1966.8"/><use href="#dm" x="1636.1" y="1867.1"/><use href="#dm" x="1636.9" y="1842.9"/><use href="#dm" x="1636.9" y="1914.2"/><use href="#dm" x="1637.4" y="1818.5"/><use href="#dm" x="1637.9" y="1828.8"/><use href="#dm" x="1638.0" y="2041.5"/><use href="#dm" x="1638.5" y="1864.4"/><use href="#dm" x="1638.8" y="1959.8"/><use href="#dm" x="1638.9" y="1828.5"/><use href="#dm" x="1639.3" y="1824.2"/><use href="#dm" x="1639.3" y="1868.6"/><use href="#dm" x="1639.3" y="1892.0"/><use href="#dm" x="1639.3" y="1830.0"/><use href="#dm" x="1640.1" y="1908.8"/><use href="#dm" x="1640.3" y="1826.4"/><use href="#dm" x="1640.6" y="1971.7"/><use href="#dm" x="1641.0" y="1827.4"/><use href="#dm" x="1641.5" y="1914.6"/><use href="#dm" x="1641.9" y="1908.1"/><use href="#dm" x="1642.3" y="1899.4"/><use href="#dm" x="1642.8" y="1851.0"/><use href="#dm" x="1643.3" y="1925.5"/><use href="#dm" x="1643.8" y="1899.0"/><use href="#dm" x="1643.9" y="1826.5"/><use href="#dm" x="1643.9" y="1845.2"/><use href="#dm" x="1643.9" y="1873.3"/><use href="#dm" x="1643.9" y="1910.7"/><use href="#dm" x="1643.9" y="1929.4"/><use href="#dm" x="1644.0" y="2041.5"/><use href="#dm" x="1646.3" y="1779.4"/><use href="#dm" x="1646.6" y="1873.7"/><use href="#dm" x="1646.6" y="1762.7"/><use href="#dm" x="1647.6" y="1800.8"/><use href="#dm" x="1647.8" y="1907.8"/><use href="#dm" x="1647.9" y="1780.0"/><use href="#dm" x="1648.6" y="1799.0"/><use href="#dm" x="1649.1" y="1838.3"/><use href="#dm" x="1649.7" y="1770.4"/><use href="#dm" x="1649.7" y="1776.2"/><use href="#dm" x="1649.7" y="1782.0"/><use href="#dm" x="1649.7" y="1787.9"/><use href="#dm" x="1649.7" y="1793.7"/><use href="#dm" x="1649.7" y="1894.3"/><use href="#dm" x="1650.0" y="2041.5"/><use href="#dm" x="1650.7" y="1822.9"/><use href="#dm" x="1652.0" y="1913.0"/><use href="#dm" x="1652.9" y="1794.4"/><use href="#dm" x="1653.6" y="1910.5"/><use href="#dm" x="1653.7" y="1825.1"/><use href="#dm" x="1653.9" y="1768.2"/><use href="#dm" x="1654.3" y="1893.7"/><use href="#dm" x="1654.4" y="1828.8"/><use href="#dm" x="1654.4" y="1859.2"/><use href="#dm" x="1655.3" y="1790.9"/><use href="#dm" x="1655.4" y="1770.0"/><use href="#dm" x="1656.0" y="2041.5"/><use href="#dm" x="1659.0" y="1840.5"/><use href="#dm" x="1659.0" y="1878.0"/><use href="#dm" x="1659.1" y="1969.8"/><use href="#dm" x="1659.8" y="1864.4"/><use href="#dm" x="1660.1" y="1886.4"/><use href="#dm" x="1660.6" y="1847.9"/><use href="#dm" x="1660.9" y="1841.2"/><use href="#dm" x="1661.0" y="1829.1"/><use href="#dm" x="1661.4" y="1827.7"/><use href="#dm" x="1661.7" y="1870.8"/><use href="#dm" x="1662.0" y="2041.5"/><use href="#dm" x="1663.7" y="1973.9"/><use href="#dm" x="1664.1" y="1982.0"/><use href="#dm" x="1664.9" y="1838.8"/><use href="#dm" x="1666.1" y="1842.9"/><use href="#dm" x="1666.2" y="1859.4"/><use href="#dm" x="1666.4" y="1850.9"/><use href="#dm" x="1668.4" y="1826.5"/><use href="#dm" x="1668.6" y="1939.6"/><use href="#dm" x="1670.4" y="1838.2"/><use href="#dm" x="1670.7" y="1863.9"/><use href="#dm" x="1670.7" y="1938.8"/><use href="#dm" x="1671.0" y="2041.5"/><use href="#dm" x="1671.7" y="1885.9"/><use href="#dm" x="1671.7" y="1826.8"/><use href="#dm" x="1672.6" y="1826.0"/><use href="#dm" x="1673.1" y="1845.2"/><use href="#dm" x="1673.1" y="1894.3"/><use href="#dm" x="1673.1" y="1915.4"/><use href="#dm" x="1675.0" y="2041.5"/><use href="#dm" x="1676.2" y="1940.3"/><use href="#dm" x="1677.6" y="1922.5"/><use href="#dm" x="1679.1" y="1851.0"/><use href="#dm" x="1679.6" y="1869.2"/><use href="#dm" x="1679.9" y="1840.2"/><use href="#dm" x="1680.1" y="1846.4"/><use href="#dm" x="1681.0" y="2041.5"/><use href="#dm" x="1682.4" y="1878.0"/><use href="#dm" x="1683.4" y="1852.7"/><use href="#dm" x="1683.5" y="1953.2"/><use href="#dm" x="1684.8" y="1959.8"/><use href="#dm" x="1687.1" y="1828.8"/><use href="#dm" x="1687.1" y="1847.5"/><use href="#dm" x="1687.4" y="1774.7"/><use href="#dm" x="1687.4" y="1864.0"/><use href="#dm" x="1687.4" y="1852.1"/><use href="#dm" x="1688.8" y="1890.8"/><use href="#dm" x="1689.4" y="1861.6"/><use href="#dm" x="1690.0" y="2041.5"/><use href="#dm" x="1690.6" y="1766.8"/><use href="#dm" x="1690.9" y="1824.9"/><use href="#dm" x="1694.0" y="1900.9"/><use href="#dm" x="1694.1" y="1899.0"/><use href="#dm" x="1696.0" y="2041.5"/><use href="#dm" x="1696.6" y="1764.0"/><use href="#dm" x="1696.6" y="1882.8"/><use href="#dm" x="1698.2" y="1735.5"/><use href="#dm" x="1698.8" y="1812.5"/><use href="#dm" x="1701.1" y="1880.3"/><use href="#dm" x="1701.6" y="1820.4"/><use href="#dm" x="1702.0" y="2041.5"/><use href="#dm" x="1702.8" y="1863.9"/><use href="#dm" x="1703.5" y="1732.9"/><use href="#dm" x="1704.4" y="1805.1"/><use href="#dm" x="1704.6" y="1885.9"/><use href="#dm" x="1705.4" y="1740.1"/><use href="#dm" x="1705.8" y="1863.9"/><use href="#dm" x="1708.0" y="2041.5"/><use href="#dm" x="1709.2" y="1937.8"/><use href="#dm" x="1711.7" y="1861.0"/><use href="#dm" x="1712.8" y="1835.8"/><use href="#dm" x="1712.8" y="1938.8"/><use href="#dm" x="1713.0" y="2041.5"/><use href="#dm" x="1714.3" y="1841.0"/><use href="#dm" x="1715.2" y="1852.2"/><use href="#dm" x="1717.3" y="1937.6"/><use href="#dm" x="1717.7" y="1885.8"/><use href="#dm" x="1718.8" y="1834.8"/><use href="#dm" x="1719.0" y="2041.5"/><use href="#dm" x="1719.2" y="1847.2"/><use href="#dm" x="1719.4" y="1930.8"/><use href="#dm" x="1719.9" y="1885.0"/><use href="#dm" x="1720.4" y="1845.9"/><use href="#dm" x="1722.2" y="1854.6"/><use href="#dm" x="1722.2" y="1934.1"/><use href="#dm" x="1723.4" y="1929.4"/><use href="#dm" x="1724.5" y="1896.7"/><use href="#dm" x="1724.5" y="1924.7"/><use href="#dm" x="1725.4" y="1877.0"/><use href="#dm" x="1726.0" y="1927.0"/><use href="#dm" x="1726.7" y="1932.0"/><use href="#dm" x="1727.0" y="2041.5"/><use href="#dm" x="1729.2" y="1957.5"/><use href="#dm" x="1729.7" y="1932.0"/><use href="#dm" x="1729.8" y="1919.0"/><use href="#dm" x="1730.5" y="1897.6"/><use href="#dm" x="1731.2" y="1951.6"/><use href="#dm" x="1732.8" y="1954.6"/><use href="#dm" x="1733.0" y="2041.5"/><use href="#dm" x="1733.1" y="1903.7"/><use href="#dm" x="1733.5" y="1970.7"/><use href="#dm" x="1733.9" y="1910.7"/><use href="#dm" x="1736.2" y="1955.1"/><use href="#dm" x="1736.2" y="1976.2"/><use href="#dm" x="1737.5" y="1977.2"/><use href="#dm" x="1738.1" y="1951.6"/><use href="#dm" x="1738.6" y="1983.2"/><use href="#dm" x="1739.0" y="2041.5"/><use href="#dm" x="1740.9" y="1990.2"/><use href="#dm" x="1743.2" y="1995.3"/><use href="#dm" x="1743.2" y="1952.8"/><use href="#dm" x="1744.0" y="1956.1"/><use href="#dm" x="1744.5" y="1981.1"/><use href="#dm" x="1745.0" y="2041.5"/><use href="#dm" x="1751.0" y="2041.5"/><use href="#dm" x="1751.9" y="1946.6"/><use href="#dm" x="1752.8" y="1962.5"/><use href="#dm" x="1754.9" y="1966.8"/><use href="#dm" x="1757.0" y="2041.5"/><use href="#dm" x="1757.3" y="1938.8"/><use href="#dm" x="1760.6" y="1958.7"/><use href="#dm" x="1762.0" y="1878.0"/><use href="#dm" x="1763.0" y="2041.5"/><use href="#dm" x="1765.3" y="1901.7"/><use href="#dm" x="1766.0" y="1902.3"/><use href="#dm" x="1766.5" y="1884.9"/><use href="#dm" x="1766.6" y="1894.3"/><use href="#dm" x="1766.6" y="1980.9"/><use href="#dm" x="1767.1" y="1899.1"/><use href="#dm" x="1768.5" y="1978.0"/><use href="#dm" x="1769.0" y="2041.5"/><use href="#dm" x="1771.3" y="1906.0"/><use href="#dm" x="1771.3" y="1978.5"/><use href="#dm" x="1771.3" y="1990.2"/><use href="#dm" x="1772.3" y="1988.7"/><use href="#dm" x="1772.6" y="1974.4"/><use href="#dm" x="1773.0" y="1912.4"/><use href="#dm" x="1773.1" y="1998.3"/><use href="#dm" x="1773.7" y="1969.4"/><use href="#dm" x="1774.4" y="1855.8"/><use href="#dm" x="1775.0" y="2041.5"/><use href="#dm" x="1775.5" y="1972.2"/><use href="#dm" x="1776.0" y="1863.9"/><use href="#dm" x="1776.0" y="1976.2"/><use href="#dm" x="1779.0" y="2041.5"/><use href="#dm" x="1780.7" y="1859.2"/><use href="#dm" x="1780.7" y="1878.0"/><use href="#dm" x="1780.7" y="1972.7"/><use href="#dm" x="1781.1" y="1853.2"/><use href="#dm" x="1782.7" y="1980.3"/><use href="#dm" x="1782.8" y="1810.9"/><use href="#dm" x="1785.0" y="2041.5"/><use href="#dm" x="1785.4" y="1789.1"/><use href="#dm" x="1785.4" y="1796.1"/><use href="#dm" x="1785.4" y="1803.1"/><use href="#dm" x="1785.4" y="1854.6"/><use href="#dm" x="1785.4" y="1969.2"/><use href="#dm" x="1785.4" y="1787.7"/><use href="#dm" x="1785.7" y="1886.0"/><use href="#dm" x="1786.4" y="1852.4"/><use href="#dm" x="1787.1" y="1970.2"/><use href="#dm" x="1787.7" y="1964.6"/><use href="#dm" x="1788.9" y="1788.3"/><use href="#dm" x="1789.5" y="1847.6"/><use href="#dm" x="1789.5" y="1785.8"/><use href="#dm" x="1790.0" y="1963.6"/><use href="#dm" x="1790.0" y="1973.4"/><use href="#dm" x="1790.3" y="1800.3"/><use href="#dm" x="1791.0" y="2041.5"/><use href="#dm" x="1791.2" y="1964.5"/><use href="#dm" x="1791.6" y="1965.9"/><use href="#dm" x="1792.4" y="1855.7"/><use href="#dm" x="1796.3" y="1957.4"/><use href="#dm" x="1796.7" y="1876.5"/><use href="#dm" x="1797.0" y="1873.3"/><use href="#dm" x="1797.0" y="1959.8"/><use href="#dm" x="1797.5" y="1924.1"/><use href="#dm" x="1798.0" y="2041.5"/><use href="#dm" x="1798.3" y="1852.5"/><use href="#dm" x="1798.6" y="1854.8"/><use href="#dm" x="1799.4" y="1856.9"/><use href="#dm" x="1799.4" y="1915.4"/><use href="#dm" x="1799.4" y="1851.5"/><use href="#dm" x="1801.1" y="1881.5"/><use href="#dm" x="1801.5" y="1884.7"/><use href="#dm" x="1801.7" y="1879.1"/><use href="#dm" x="1802.6" y="1559.6"/><use href="#dm" x="1803.7" y="1817.6"/><use href="#dm" x="1803.8" y="1566.4"/><use href="#dm" x="1804.0" y="2041.5"/><use href="#dm" x="1804.9" y="1806.1"/><use href="#dm" x="1804.9" y="1573.3"/><use href="#dm" x="1805.0" y="1297.0"/><use href="#dm" x="1805.5" y="1562.0"/><use href="#dm" x="1806.4" y="1885.0"/><use href="#dm" x="1806.4" y="1505.9"/><use href="#dm" x="1806.6" y="1564.6"/><use href="#dm" x="1807.2" y="1885.4"/><use href="#dm" x="1807.5" y="1550.7"/><use href="#dm" x="1808.2" y="1569.0"/><use href="#dm" x="1808.7" y="1810.1"/><use href="#dm" x="1810.0" y="2041.5"/><use href="#dm" x="1811.0" y="1297.0"/><use href="#dm" x="1811.5" y="1805.2"/><use href="#dm" x="1811.8" y="1513.9"/><use href="#dm" x="1812.2" y="1806.3"/><use href="#dm" x="1812.7" y="1479.0"/><use href="#dm" x="1814.1" y="1507.0"/><use href="#dm" x="1815.8" y="1813.6"/><use href="#dm" x="1816.0" y="2041.5"/><use href="#dm" x="1816.4" y="1486.5"/><use href="#dm" x="1816.4" y="1493.3"/><use href="#dm" x="1816.4" y="1500.2"/><use href="#dm" x="1816.8" y="1502.8"/><use href="#dm" x="1817.0" y="1297.0"/><use href="#dm" x="1817.5" y="1506.4"/><use href="#dm" x="1819.6" y="1506.9"/><use href="#dm" x="1819.7" y="1492.6"/><use href="#dm" x="1819.7" y="1810.1"/><use href="#dm" x="1820.0" y="1503.4"/><use href="#dm" x="1820.2" y="1489.6"/><use href="#dm" x="1822.0" y="2041.5"/><use href="#dm" x="1822.8" y="1817.1"/><use href="#dm" x="1823.0" y="1297.0"/><use href="#dm" x="1823.2" y="1601.5"/><use href="#dm" x="1823.2" y="1596.1"/><use href="#dm" x="1825.5" y="1603.0"/><use href="#dm" x="1825.9" y="1627.2"/><use href="#dm" x="1826.4" y="1597.0"/><use href="#dm" x="1826.7" y="1824.7"/><use href="#dm" x="1827.8" y="1609.8"/><use href="#dm" x="1827.8" y="1616.7"/><use href="#dm" x="1827.8" y="1623.5"/><use href="#dm" x="1827.8" y="1644.1"/><use href="#dm" x="1827.9" y="1593.6"/><use href="#dm" x="1828.0" y="1616.8"/><use href="#dm" x="1828.0" y="2041.5"/><use href="#dm" x="1828.4" y="1595.1"/><use href="#dm" x="1828.6" y="1619.0"/><use href="#dm" x="1829.7" y="1614.4"/><use href="#dm" x="1829.8" y="1704.9"/><use href="#dm" x="1831.0" y="1729.8"/><use href="#dm" x="1831.0" y="1980.8"/><use href="#dm" x="1831.3" y="1765.6"/><use href="#dm" x="1831.7" y="1603.8"/><use href="#dm" x="1832.1" y="1732.9"/><use href="#dm" x="1832.1" y="1758.7"/><use href="#dm" x="1833.0" y="1649.7"/><use href="#dm" x="1833.0" y="2041.5"/><use href="#dm" x="1833.5" y="1613.1"/><use href="#dm" x="1833.7" y="1697.9"/><use href="#dm" x="1834.5" y="1976.2"/><use href="#dm" x="1835.7" y="1811.1"/><use href="#dm" x="1838.3" y="1840.1"/><use href="#dm" x="1839.2" y="1833.5"/><use href="#dm" x="1839.2" y="1801.9"/><use href="#dm" x="1839.5" y="1811.9"/><use href="#dm" x="1840.3" y="1826.5"/><use href="#dm" x="1841.0" y="2041.5"/><use href="#dm" x="1841.5" y="1805.4"/><use href="#dm" x="1841.5" y="1812.5"/><use href="#dm" x="1841.5" y="1819.5"/><use href="#dm" x="1841.5" y="1849.9"/><use href="#dm" x="1844.6" y="1832.1"/><use href="#dm" x="1845.9" y="1847.7"/><use href="#dm" x="1846.7" y="1819.8"/><use href="#dm" x="1846.8" y="1841.8"/><use href="#dm" x="1847.0" y="1811.1"/><use href="#dm" x="1847.0" y="2041.5"/><use href="#dm" x="1848.4" y="1914.5"/><use href="#dm" x="1848.5" y="1887.3"/><use href="#dm" x="1848.5" y="1913.0"/><use href="#dm" x="1848.7" y="1895.8"/><use href="#dm" x="1850.8" y="1980.9"/><use href="#dm" x="1853.0" y="2041.5"/><use href="#dm" x="1853.0" y="1904.4"/><use href="#dm" x="1853.9" y="1890.2"/><use href="#dm" x="1855.5" y="2013.6"/><use href="#dm" x="1855.6" y="1975.5"/><use href="#dm" x="1857.3" y="2022.6"/><use href="#dm" x="1859.3" y="2003.8"/><use href="#dm" x="1860.0" y="2041.5"/><use href="#dm" x="1860.2" y="1994.9"/><use href="#dm" x="1860.8" y="2013.5"/><use href="#dm" x="1861.4" y="2018.3"/><use href="#dm" x="1862.1" y="2014.8"/><use href="#dm" x="1862.5" y="1996.0"/><use href="#dm" x="1864.9" y="1999.6"/><use href="#dm" x="1865.1" y="2019.4"/><use href="#dm" x="1865.3" y="2002.8"/><use href="#dm" x="1866.0" y="2041.5"/><use href="#dm" x="1867.2" y="2023.0"/><use href="#dm" x="1869.6" y="2004.3"/><use href="#dm" x="1871.6" y="1999.6"/><use href="#dm" x="1872.0" y="2041.5"/><use href="#dm" x="1876.0" y="2041.5"/><use href="#dm" x="1878.9" y="2016.0"/><use href="#dm" x="1881.3" y="2012.6"/><use href="#dm" x="1883.0" y="2041.5"/><use href="#dm" x="1883.1" y="1978.9"/><use href="#dm" x="1883.6" y="1985.6"/><use href="#dm" x="1885.1" y="1980.4"/><use href="#dm" x="1885.4" y="2017.3"/><use href="#dm" x="1890.6" y="2025.3"/><use href="#dm" x="1891.0" y="2041.5"/><use href="#dm" x="1893.0" y="1999.6"/><use href="#dm" x="1894.8" y="1997.1"/><use href="#dm" x="1894.9" y="2025.9"/><use href="#dm" x="1895.0" y="2041.5"/><use href="#dm" x="1896.9" y="1990.7"/><use href="#dm" x="1899.8" y="2011.9"/><use href="#dm" x="1901.0" y="2041.5"/><use href="#dm" x="1902.3" y="2008.9"/><use href="#dm" x="1903.1" y="2028.4"/><use href="#dm" x="1906.9" y="2017.0"/><use href="#dm" x="1907.0" y="2025.3"/><use href="#dm" x="1907.0" y="2041.5"/><use href="#dm" x="1910.8" y="1988.6"/><use href="#dm" x="1911.7" y="1994.9"/><use href="#dm" x="1913.0" y="2041.5"/><use href="#dm" x="1914.3" y="1999.5"/><use href="#dm" x="1918.3" y="1948.3"/><use href="#dm" x="1918.9" y="1923.1"/><use href="#dm" x="1919.0" y="2041.5"/><use href="#dm" x="1919.4" y="1978.0"/><use href="#dm" x="1920.4" y="1937.4"/><use href="#dm" x="1921.0" y="1927.1"/><use href="#dm" x="1921.0" y="1934.1"/><use href="#dm" x="1921.0" y="1941.1"/><use href="#dm" x="1921.0" y="1976.2"/><use href="#dm" x="1922.1" y="1882.2"/><use href="#dm" x="1922.1" y="1938.8"/><use href="#dm" x="1923.4" y="1969.2"/><use href="#dm" x="1925.0" y="1975.4"/><use href="#dm" x="1925.0" y="1982.2"/><use href="#dm" x="1925.7" y="1875.6"/><use href="#dm" x="1925.7" y="1962.2"/><use href="#dm" x="1926.0" y="2041.5"/><use href="#dm" x="1926.7" y="1932.2"/><use href="#dm" x="1928.8" y="1969.0"/><use href="#dm" x="1931.3" y="1953.4"/><use href="#dm" x="1931.5" y="1872.4"/><use href="#dm" x="1931.5" y="1876.8"/><use href="#dm" x="1932.0" y="2041.5"/><use href="#dm" x="1933.7" y="1871.6"/><use href="#dm" x="1933.7" y="1877.5"/><use href="#dm" x="1934.6" y="1885.3"/><use href="#dm" x="1936.5" y="1775.6"/><use href="#dm" x="1937.3" y="1779.5"/><use href="#dm" x="1937.4" y="1878.0"/><use href="#dm" x="1938.0" y="2041.5"/><use href="#dm" x="1939.7" y="1793.7"/><use href="#dm" x="1940.9" y="1789.1"/><use href="#dm" x="1942.1" y="1784.4"/><use href="#dm" x="1942.3" y="1785.0"/><use href="#dm" x="1942.6" y="1787.7"/><use href="#dm" x="1942.9" y="1795.4"/><use href="#dm" x="1944.0" y="2041.5"/><use href="#dm" x="1944.2" y="1801.3"/><use href="#dm" x="1948.7" y="1851.9"/><use href="#dm" x="1949.0" y="2041.5"/><use href="#dm" x="1950.5" y="1854.7"/><use href="#dm" x="1952.1" y="1848.4"/><use href="#dm" x="1953.5" y="1851.1"/><use href="#dm" x="1953.8" y="1917.8"/><use href="#dm" x="1953.8" y="1835.8"/><use href="#dm" x="1953.8" y="1842.9"/><use href="#dm" x="1953.8" y="1849.9"/><use href="#dm" x="1954.9" y="1856.9"/><use href="#dm" x="1955.0" y="2041.5"/><use href="#dm" x="1955.5" y="1885.5"/><use href="#dm" x="1956.1" y="1863.9"/><use href="#dm" x="1956.1" y="1894.3"/><use href="#dm" x="1956.1" y="1915.4"/><use href="#dm" x="1956.7" y="2000.3"/><use href="#dm" x="1957.0" y="1834.9"/><use href="#dm" x="1957.1" y="1829.3"/><use href="#dm" x="1958.5" y="1938.8"/><use href="#dm" x="1958.5" y="1976.2"/><use href="#dm" x="1959.0" y="1998.5"/><use href="#dm" x="1960.7" y="2003.8"/><use href="#dm" x="1960.8" y="1994.9"/><use href="#dm" x="1961.0" y="2041.5"/><use href="#dm" x="1961.2" y="1871.8"/><use href="#dm" x="1961.3" y="2002.8"/><use href="#dm" x="1961.6" y="1903.2"/><use href="#dm" x="1961.6" y="1972.7"/><use href="#dm" x="1962.0" y="2001.9"/><use href="#dm" x="1962.1" y="1947.3"/><use href="#dm" x="1963.1" y="2008.9"/><use href="#dm" x="1963.3" y="1973.3"/><use href="#dm" x="1965.1" y="2009.7"/><use href="#dm" x="1965.4" y="2012.1"/><use href="#dm" x="1967.0" y="2041.5"/><use href="#dm" x="1967.9" y="2027.8"/><use href="#dm" x="1968.9" y="2015.8"/><use href="#dm" x="1972.0" y="2041.5"/><use href="#dm" x="1972.5" y="2023.0"/><use href="#dm" x="1978.0" y="2041.5"/><use href="#dm" x="1984.0" y="2041.5"/><use href="#dm" x="1986.2" y="1981.1"/><use href="#dm" x="1986.5" y="1976.2"/><use href="#dm" x="1986.5" y="2008.9"/><use href="#dm" x="1988.0" y="2041.5"/><use href="#dm" x="1988.4" y="1993.1"/><use href="#dm" x="1988.9" y="1992.6"/><use href="#dm" x="1990.1" y="1999.3"/><use href="#dm" x="1992.4" y="2011.0"/><use href="#dm" x="1994.0" y="2041.5"/><use href="#dm" x="1999.4" y="2012.8"/><use href="#dm" x="2000.0" y="2041.5"/><use href="#dm" x="2002.7" y="2012.7"/><use href="#dm" x="2005.2" y="2013.6"/><use href="#dm" x="2006.0" y="2041.5"/><use href="#dm" x="2009.7" y="1979.4"/><use href="#dm" x="2011.4" y="1985.3"/><use href="#dm" x="2012.0" y="2041.5"/><use href="#dm" x="2014.6" y="1976.2"/><use href="#dm" x="2016.9" y="1999.6"/><use href="#dm" x="2016.9" y="1983.2"/><use href="#dm" x="2018.0" y="2041.5"/><use href="#dm" x="2018.9" y="1991.1"/><use href="#dm" x="2019.3" y="1990.2"/><use href="#dm" x="2020.5" y="1974.1"/><use href="#dm" x="2021.6" y="1943.5"/><use href="#dm" x="2022.8" y="1994.8"/><use href="#dm" x="2022.8" y="1992.2"/><use href="#dm" x="2023.1" y="1998.3"/><use href="#dm" x="2023.5" y="2005.5"/><use href="#dm" x="2024.0" y="2041.5"/><use href="#dm" x="2024.4" y="1997.2"/><use href="#dm" x="2025.0" y="1999.6"/><use href="#dm" x="2025.2" y="1942.2"/><use href="#dm" x="2030.0" y="2041.5"/><use href="#dm" x="2031.5" y="1984.2"/><use href="#dm" x="2032.0" y="1997.3"/><use href="#dm" x="2032.9" y="2001.4"/><use href="#dm" x="2034.4" y="1980.9"/><use href="#dm" x="2035.4" y="1994.0"/><use href="#dm" x="2036.0" y="2041.5"/><use href="#dm" x="2036.7" y="1987.9"/><use href="#dm" x="2039.0" y="1994.9"/><use href="#dm" x="2040.2" y="1998.1"/><use href="#dm" x="2040.9" y="1969.0"/><use href="#dm" x="2042.0" y="2041.5"/><use href="#dm" x="2043.7" y="1962.2"/><use href="#dm" x="2048.0" y="2041.5"/><use href="#dm" x="2049.7" y="1945.5"/><use href="#dm" x="2050.1" y="1942.2"/><use href="#dm" x="2053.1" y="1943.5"/><use href="#dm" x="2053.6" y="1595.8"/><use href="#dm" x="2054.0" y="2041.5"/><use href="#dm" x="2054.8" y="1606.9"/><use href="#dm" x="2057.0" y="1568.7"/><use href="#dm" x="2057.5" y="1850.4"/><use href="#dm" x="2057.7" y="1847.5"/><use href="#dm" x="2057.9" y="1613.7"/><use href="#dm" x="2058.2" y="1607.1"/><use href="#dm" x="2058.8" y="1599.4"/><use href="#dm" x="2059.0" y="1852.8"/><use href="#dm" x="2059.3" y="1587.0"/><use href="#dm" x="2059.3" y="1595.0"/><use href="#dm" x="2059.3" y="1603.0"/><use href="#dm" x="2059.3" y="1608.7"/><use href="#dm" x="2059.3" y="1614.4"/><use href="#dm" x="2059.4" y="1860.3"/><use href="#dm" x="2060.0" y="2041.5"/><use href="#dm" x="2060.3" y="1594.5"/><use href="#dm" x="2060.4" y="1591.5"/><use href="#dm" x="2061.2" y="1866.9"/><use href="#dm" x="2061.4" y="1652.6"/><use href="#dm" x="2061.5" y="1568.0"/><use href="#dm" x="2062.2" y="1841.4"/><use href="#dm" x="2062.2" y="1565.3"/><use href="#dm" x="2062.4" y="1655.7"/><use href="#dm" x="2062.4" y="1672.1"/><use href="#dm" x="2062.4" y="1853.4"/><use href="#dm" x="2062.4" y="1868.6"/><use href="#dm" x="2062.5" y="1612.5"/><use href="#dm" x="2062.7" y="1664.0"/><use href="#dm" x="2062.8" y="1869.5"/><use href="#dm" x="2063.8" y="1838.5"/><use href="#dm" x="2064.0" y="1860.4"/><use href="#dm" x="2064.1" y="1608.2"/><use href="#dm" x="2064.2" y="1717.4"/><use href="#dm" x="2064.8" y="1863.9"/><use href="#dm" x="2065.9" y="1716.5"/><use href="#dm" x="2066.0" y="2041.5"/><use href="#dm" x="2067.1" y="1751.6"/><use href="#dm" x="2067.1" y="1859.2"/><use href="#dm" x="2067.2" y="1867.8"/><use href="#dm" x="2067.3" y="1820.3"/><use href="#dm" x="2069.0" y="1834.1"/><use href="#dm" x="2069.3" y="1785.3"/><use href="#dm" x="2069.4" y="1833.5"/><use href="#dm" x="2069.9" y="1757.5"/><use href="#dm" x="2070.3" y="1862.8"/><use href="#dm" x="2070.5" y="1828.5"/><use href="#dm" x="2071.0" y="1785.9"/><use href="#dm" x="2071.6" y="1759.7"/><use href="#dm" x="2071.8" y="1782.0"/><use href="#dm" x="2071.8" y="1817.1"/><use href="#dm" x="2072.8" y="1794.9"/><use href="#dm" x="2073.0" y="1821.8"/><use href="#dm" x="2073.0" y="2041.5"/><use href="#dm" x="2073.8" y="1787.7"/><use href="#dm" x="2074.1" y="1787.9"/><use href="#dm" x="2074.5" y="1818.9"/><use href="#dm" x="2074.7" y="1788.6"/><use href="#dm" x="2075.8" y="1820.1"/><use href="#dm" x="2076.5" y="1821.8"/><use href="#dm" x="2076.5" y="1793.7"/><use href="#dm" x="2077.2" y="1834.1"/><use href="#dm" x="2078.2" y="1772.7"/><use href="#dm" x="2079.0" y="2041.5"/><use href="#dm" x="2081.1" y="1739.9"/><use href="#dm" x="2081.1" y="1761.0"/><use href="#dm" x="2081.1" y="1826.5"/><use href="#dm" x="2081.6" y="1802.6"/><use href="#dm" x="2082.1" y="1757.5"/><use href="#dm" x="2082.2" y="1803.9"/><use href="#dm" x="2082.3" y="1763.4"/><use href="#dm" x="2083.5" y="1765.7"/><use href="#dm" x="2085.0" y="2041.5"/><use href="#dm" x="2085.8" y="1770.4"/><use href="#dm" x="2085.8" y="1807.8"/><use href="#dm" x="2085.8" y="1824.2"/><use href="#dm" x="2086.1" y="1821.3"/><use href="#dm" x="2086.3" y="1736.7"/><use href="#dm" x="2087.8" y="1771.3"/><use href="#dm" x="2089.8" y="1882.4"/><use href="#dm" x="2090.0" y="1766.8"/><use href="#dm" x="2090.2" y="1862.7"/><use href="#dm" x="2090.4" y="1819.6"/><use href="#dm" x="2090.5" y="1821.8"/><use href="#dm" x="2090.5" y="1875.6"/><use href="#dm" x="2091.0" y="2041.5"/><use href="#dm" x="2091.0" y="1813.8"/><use href="#dm" x="2091.8" y="1978.6"/><use href="#dm" x="2092.8" y="1971.5"/><use href="#dm" x="2093.8" y="1883.8"/><use href="#dm" x="2094.9" y="1909.6"/><use href="#dm" x="2095.2" y="1861.6"/><use href="#dm" x="2095.2" y="1892.0"/><use href="#dm" x="2095.4" y="1915.4"/><use href="#dm" x="2095.5" y="1935.8"/><use href="#dm" x="2095.6" y="1900.0"/><use href="#dm" x="2095.7" y="1894.5"/><use href="#dm" x="2096.3" y="1899.0"/><use href="#dm" x="2096.4" y="1920.2"/><use href="#dm" x="2096.6" y="1967.5"/><use href="#dm" x="2096.9" y="1919.1"/><use href="#dm" x="2097.0" y="2041.5"/><use href="#dm" x="2097.2" y="1972.0"/><use href="#dm" x="2097.5" y="1906.0"/><use href="#dm" x="2098.4" y="1937.0"/><use href="#dm" x="2098.4" y="1893.3"/><use href="#dm" x="2098.4" y="1856.2"/><use href="#dm" x="2098.6" y="1909.0"/><use href="#dm" x="2099.6" y="1892.4"/><use href="#dm" x="2099.9" y="1840.5"/><use href="#dm" x="2099.9" y="1913.0"/><use href="#dm" x="2099.9" y="1934.1"/><use href="#dm" x="2099.9" y="1975.0"/><use href="#dm" x="2100.2" y="1932.7"/><use href="#dm" x="2100.7" y="1856.0"/><use href="#dm" x="2101.0" y="1927.1"/><use href="#dm" x="2101.0" y="1863.9"/><use href="#dm" x="2102.0" y="1847.7"/><use href="#dm" x="2102.2" y="1920.1"/><use href="#dm" x="2103.0" y="2041.5"/><use href="#dm" x="2103.4" y="1980.3"/><use href="#dm" x="2103.6" y="1983.1"/><use href="#dm" x="2104.3" y="1983.4"/><use href="#dm" x="2105.2" y="1846.1"/><use href="#dm" x="2106.9" y="1866.3"/><use href="#dm" x="2106.9" y="1978.5"/><use href="#dm" x="2109.0" y="2041.5"/><use href="#dm" x="2110.7" y="1985.8"/><use href="#dm" x="2111.0" y="1982.6"/><use href="#dm" x="2111.5" y="1983.2"/><use href="#dm" x="2111.8" y="1984.8"/><use href="#dm" x="2112.9" y="1875.0"/><use href="#dm" x="2113.9" y="1966.8"/><use href="#dm" x="2115.0" y="2041.5"/><use href="#dm" x="2115.6" y="1978.9"/><use href="#dm" x="2116.2" y="1928.9"/><use href="#dm" x="2116.2" y="1987.9"/><use href="#dm" x="2119.7" y="1961.6"/><use href="#dm" x="2120.9" y="1934.1"/><use href="#dm" x="2121.0" y="2041.5"/><use href="#dm" x="2121.8" y="1907.8"/><use href="#dm" x="2121.8" y="1901.2"/><use href="#dm" x="2122.9" y="1880.8"/><use href="#dm" x="2123.2" y="1899.0"/><use href="#dm" x="2123.2" y="1915.4"/><use href="#dm" x="2125.6" y="1882.6"/><use href="#dm" x="2125.6" y="1950.5"/><use href="#dm" x="2125.8" y="1874.9"/><use href="#dm" x="2126.8" y="1813.9"/><use href="#dm" x="2127.0" y="2041.5"/><use href="#dm" x="2127.3" y="1951.4"/><use href="#dm" x="2127.9" y="1908.4"/><use href="#dm" x="2127.9" y="1934.1"/><use href="#dm" x="2128.9" y="1922.6"/><use href="#dm" x="2129.0" y="1926.3"/><use href="#dm" x="2129.1" y="1897.8"/><use href="#dm" x="2129.4" y="1954.2"/><use href="#dm" x="2130.3" y="1817.1"/><use href="#dm" x="2130.3" y="1916.5"/><use href="#dm" x="2130.3" y="1966.8"/><use href="#dm" x="2131.1" y="1924.2"/><use href="#dm" x="2132.4" y="1967.7"/><use href="#dm" x="2132.4" y="1958.0"/><use href="#dm" x="2132.6" y="1911.1"/><use href="#dm" x="2133.0" y="2041.5"/><use href="#dm" x="2133.5" y="1925.8"/><use href="#dm" x="2133.9" y="1891.3"/><use href="#dm" x="2134.9" y="1896.7"/><use href="#dm" x="2134.9" y="1934.1"/><use href="#dm" x="2135.2" y="1901.3"/><use href="#dm" x="2137.3" y="1905.3"/><use href="#dm" x="2137.3" y="1917.7"/><use href="#dm" x="2138.7" y="1891.2"/><use href="#dm" x="2139.0" y="2041.5"/><use href="#dm" x="2139.2" y="1903.8"/><use href="#dm" x="2139.8" y="1940.4"/><use href="#dm" x="2140.1" y="1927.2"/><use href="#dm" x="2140.4" y="1912.9"/><use href="#dm" x="2142.0" y="1896.7"/><use href="#dm" x="2142.0" y="1882.6"/><use href="#dm" x="2142.0" y="1948.1"/><use href="#dm" x="2143.2" y="1892.6"/><use href="#dm" x="2143.3" y="1955.5"/><use href="#dm" x="2143.6" y="1874.8"/><use href="#dm" x="2144.3" y="1917.7"/><use href="#dm" x="2145.0" y="2041.5"/><use href="#dm" x="2145.4" y="1915.7"/><use href="#dm" x="2145.7" y="1903.3"/><use href="#dm" x="2146.2" y="1957.9"/><use href="#dm" x="2146.4" y="1929.8"/><use href="#dm" x="2146.4" y="1876.2"/><use href="#dm" x="2147.2" y="1922.7"/><use href="#dm" x="2149.0" y="1896.7"/><use href="#dm" x="2149.0" y="1880.3"/><use href="#dm" x="2149.0" y="1950.5"/><use href="#dm" x="2150.7" y="1857.7"/><use href="#dm" x="2150.8" y="1894.5"/><use href="#dm" x="2151.3" y="1854.6"/><use href="#dm" x="2151.3" y="1917.7"/><use href="#dm" x="2151.3" y="1931.8"/><use href="#dm" x="2152.3" y="1875.5"/><use href="#dm" x="2152.5" y="1902.3"/><use href="#dm" x="2154.0" y="2041.5"/><use href="#dm" x="2154.2" y="1851.5"/><use href="#dm" x="2155.2" y="1913.5"/><use href="#dm" x="2155.2" y="1872.7"/><use href="#dm" x="2155.2" y="1926.1"/><use href="#dm" x="2155.3" y="1850.0"/><use href="#dm" x="2155.6" y="1846.6"/><use href="#dm" x="2155.8" y="1937.2"/><use href="#dm" x="2156.0" y="1878.0"/><use href="#dm" x="2156.0" y="1897.8"/><use href="#dm" x="2156.0" y="1952.8"/><use href="#dm" x="2156.8" y="1886.2"/><use href="#dm" x="2158.3" y="1953.0"/><use href="#dm" x="2158.3" y="1852.2"/><use href="#dm" x="2158.3" y="1918.9"/><use href="#dm" x="2158.3" y="1934.1"/><use href="#dm" x="2159.4" y="1918.6"/><use href="#dm" x="2159.5" y="1894.5"/><use href="#dm" x="2159.5" y="1846.4"/><use href="#dm" x="2160.0" y="1970.4"/><use href="#dm" x="2160.0" y="2041.5"/><use href="#dm" x="2160.2" y="1971.3"/><use href="#dm" x="2160.4" y="1957.6"/><use href="#dm" x="2161.1" y="1899.0"/><use href="#dm" x="2161.5" y="1928.5"/><use href="#dm" x="2161.5" y="1945.4"/><use href="#dm" x="2161.5" y="1873.4"/><use href="#dm" x="2163.0" y="1880.3"/><use href="#dm" x="2163.0" y="1899.0"/><use href="#dm" x="2165.4" y="1849.9"/><use href="#dm" x="2165.4" y="1920.1"/><use href="#dm" x="2165.4" y="1936.4"/><use href="#dm" x="2165.4" y="1966.8"/><use href="#dm" x="2165.9" y="1930.3"/><use href="#dm" x="2166.0" y="2041.5"/><use href="#dm" x="2167.6" y="1877.6"/><use href="#dm" x="2167.6" y="1920.1"/><use href="#dm" x="2167.8" y="1860.1"/><use href="#dm" x="2168.1" y="1905.0"/><use href="#dm" x="2168.7" y="1887.9"/><use href="#dm" x="2169.5" y="1853.8"/><use href="#dm" x="2170.0" y="1882.6"/><use href="#dm" x="2170.0" y="1900.2"/><use href="#dm" x="2170.8" y="1924.1"/><use href="#dm" x="2171.2" y="1852.2"/><use href="#dm" x="2171.2" y="1921.2"/><use href="#dm" x="2172.0" y="2041.5"/><use href="#dm" x="2172.5" y="1980.1"/><use href="#dm" x="2174.2" y="1888.9"/><use href="#dm" x="2174.5" y="1983.4"/><use href="#dm" x="2174.7" y="1980.9"/><use href="#dm" x="2174.8" y="1908.8"/><use href="#dm" x="2175.7" y="1984.8"/><use href="#dm" x="2176.1" y="1893.4"/><use href="#dm" x="2177.0" y="1854.6"/><use href="#dm" x="2177.0" y="1901.3"/><use href="#dm" x="2177.0" y="1922.4"/><use href="#dm" x="2177.0" y="2027.7"/><use href="#dm" x="2177.1" y="1915.2"/><use href="#dm" x="2178.0" y="2041.5"/><use href="#dm" x="2178.2" y="1987.9"/><use href="#dm" x="2178.8" y="1971.1"/><use href="#dm" x="2179.0" y="1915.3"/><use href="#dm" x="2179.5" y="1990.2"/><use href="#dm" x="2181.6" y="1990.9"/><use href="#dm" x="2181.7" y="1964.5"/><use href="#dm" x="2181.7" y="1994.9"/><use href="#dm" x="2182.0" y="1862.2"/><use href="#dm" x="2182.4" y="1988.7"/><use href="#dm" x="2182.7" y="1906.2"/><use href="#dm" x="2182.9" y="1903.7"/><use href="#dm" x="2183.0" y="1984.5"/><use href="#dm" x="2183.0" y="1897.2"/><use href="#dm" x="2183.0" y="2024.0"/><use href="#dm" x="2184.0" y="2041.5"/><use href="#dm" x="2184.3" y="1890.7"/><use href="#dm" x="2184.5" y="1991.9"/><use href="#dm" x="2185.2" y="1990.2"/><use href="#dm" x="2187.6" y="1908.2"/><use href="#dm" x="2187.8" y="1887.6"/><use href="#dm" x="2188.3" y="1915.5"/><use href="#dm" x="2188.4" y="1898.1"/><use href="#dm" x="2188.7" y="1882.6"/><use href="#dm" x="2188.7" y="1906.0"/><use href="#dm" x="2188.7" y="1985.6"/><use href="#dm" x="2189.0" y="2041.5"/><use href="#dm" x="2189.4" y="1983.7"/><use href="#dm" x="2189.4" y="1921.9"/><use href="#dm" x="2189.8" y="1894.5"/><use href="#dm" x="2190.0" y="1882.1"/><use href="#dm" x="2193.4" y="1920.1"/><use href="#dm" x="2193.4" y="1888.5"/><use href="#dm" x="2195.0" y="2041.5"/><use href="#dm" x="2195.8" y="1887.0"/><use href="#dm" x="2198.1" y="1854.6"/><use href="#dm" x="2198.1" y="1894.3"/><use href="#dm" x="2198.1" y="1950.5"/><use href="#dm" x="2199.8" y="1931.3"/><use href="#dm" x="2200.0" y="1847.4"/><use href="#dm" x="2200.0" y="1849.9"/><use href="#dm" x="2200.3" y="1956.4"/><use href="#dm" x="2200.4" y="1861.6"/><use href="#dm" x="2200.5" y="1956.4"/><use href="#dm" x="2201.0" y="1875.4"/><use href="#dm" x="2201.0" y="2041.5"/><use href="#dm" x="2202.8" y="1868.6"/><use href="#dm" x="2202.8" y="1934.1"/><use href="#dm" x="2202.8" y="1866.7"/><use href="#dm" x="2203.4" y="1946.3"/><use href="#dm" x="2203.7" y="1870.5"/><use href="#dm" x="2203.9" y="1954.0"/><use href="#dm" x="2204.7" y="1940.6"/><use href="#dm" x="2205.3" y="1928.6"/><use href="#dm" x="2206.0" y="1974.7"/><use href="#dm" x="2207.0" y="2041.5"/><use href="#dm" x="2207.5" y="1938.8"/><use href="#dm" x="2207.5" y="1969.2"/><use href="#dm" x="2208.7" y="1975.4"/><use href="#dm" x="2209.5" y="1977.0"/><use href="#dm" x="2209.8" y="1957.5"/><use href="#dm" x="2210.7" y="1944.2"/><use href="#dm" x="2212.0" y="2041.5"/><use href="#dm" x="2212.1" y="1976.8"/><use href="#dm" x="2212.1" y="1943.5"/><use href="#dm" x="2212.1" y="1985.6"/><use href="#dm" x="2212.4" y="1953.8"/><use href="#dm" x="2213.0" y="1963.1"/><use href="#dm" x="2213.1" y="1940.2"/><use href="#dm" x="2214.5" y="1969.2"/><use href="#dm" x="2215.6" y="1955.1"/><use href="#dm" x="2215.8" y="1952.2"/><use href="#dm" x="2216.5" y="1985.1"/><use href="#dm" x="2216.6" y="1958.9"/><use href="#dm" x="2218.0" y="2041.5"/><use href="#dm" x="2219.2" y="1983.2"/><use href="#dm" x="2219.4" y="1959.8"/><use href="#dm" x="2220.4" y="1963.8"/><use href="#dm" x="2221.5" y="1952.8"/><use href="#dm" x="2221.5" y="1969.2"/><use href="#dm" x="2224.0" y="2041.5"/><use href="#dm" x="2224.1" y="1976.2"/><use href="#dm" x="2224.5" y="1984.0"/><use href="#dm" x="2225.9" y="1983.7"/><use href="#dm" x="2226.2" y="1980.9"/><use href="#dm" x="2226.4" y="1966.3"/><use href="#dm" x="2228.0" y="2041.5"/><use href="#dm" x="2228.5" y="1987.9"/><use href="#dm" x="2229.1" y="1988.5"/><use href="#dm" x="2230.4" y="2006.9"/><use href="#dm" x="2230.5" y="1979.8"/><use href="#dm" x="2230.6" y="1991.8"/><use href="#dm" x="2230.7" y="1972.7"/><use href="#dm" x="2230.8" y="1994.9"/><use href="#dm" x="2234.0" y="2041.5"/><use href="#dm" x="2234.4" y="2001.9"/><use href="#dm" x="2234.8" y="1997.7"/><use href="#dm" x="2235.6" y="2009.1"/><use href="#dm" x="2237.9" y="2008.9"/><use href="#dm" x="2239.0" y="2016.0"/><use href="#dm" x="2240.0" y="2041.5"/><use href="#dm" x="2240.2" y="2023.0"/><use href="#dm" x="2243.1" y="2031.4"/><use href="#dm" x="2244.2" y="2015.0"/><use href="#dm" x="2244.6" y="2024.7"/><use href="#dm" x="2245.5" y="1905.4"/><use href="#dm" x="2246.0" y="2041.5"/><use href="#dm" x="2247.2" y="1957.5"/><use href="#dm" x="2248.2" y="1953.9"/><use href="#dm" x="2249.2" y="1801.0"/><use href="#dm" x="2249.5" y="1832.2"/><use href="#dm" x="2249.6" y="1906.0"/><use href="#dm" x="2250.2" y="1965.1"/><use href="#dm" x="2251.0" y="2041.5"/><use href="#dm" x="2251.1" y="1764.7"/><use href="#dm" x="2251.8" y="1917.1"/><use href="#dm" x="2251.9" y="1826.5"/><use href="#dm" x="2251.9" y="1922.4"/><use href="#dm" x="2252.0" y="1737.5"/><use href="#dm" x="2254.1" y="1782.9"/><use href="#dm" x="2254.2" y="1783.7"/><use href="#dm" x="2254.2" y="1761.0"/><use href="#dm" x="2254.2" y="1793.7"/><use href="#dm" x="2254.4" y="1907.1"/><use href="#dm" x="2254.8" y="1820.2"/><use href="#dm" x="2256.4" y="1760.2"/><use href="#dm" x="2256.6" y="1881.2"/><use href="#dm" x="2256.6" y="1742.3"/><use href="#dm" x="2256.6" y="1786.7"/><use href="#dm" x="2256.6" y="1812.5"/><use href="#dm" x="2256.9" y="1890.1"/><use href="#dm" x="2257.0" y="2041.5"/><use href="#dm" x="2257.1" y="1927.0"/><use href="#dm" x="2258.9" y="1723.6"/><use href="#dm" x="2258.9" y="1779.7"/><use href="#dm" x="2258.9" y="1887.3"/><use href="#dm" x="2260.9" y="1807.4"/><use href="#dm" x="2261.3" y="1793.7"/><use href="#dm" x="2261.3" y="1840.5"/><use href="#dm" x="2261.4" y="1726.5"/><use href="#dm" x="2261.5" y="1747.0"/><use href="#dm" x="2261.9" y="1793.9"/><use href="#dm" x="2262.4" y="1814.8"/><use href="#dm" x="2262.8" y="1802.2"/><use href="#dm" x="2262.9" y="1916.9"/><use href="#dm" x="2263.0" y="2041.5"/><use href="#dm" x="2263.6" y="1704.9"/><use href="#dm" x="2263.6" y="1868.6"/><use href="#dm" x="2263.6" y="1792.8"/><use href="#dm" x="2264.2" y="1831.9"/><use href="#dm" x="2264.4" y="1810.8"/><use href="#dm" x="2264.5" y="1697.6"/><use href="#dm" x="2264.5" y="1873.7"/><use href="#dm" x="2264.7" y="1788.2"/><use href="#dm" x="2264.8" y="1787.9"/><use href="#dm" x="2265.1" y="1812.2"/><use href="#dm" x="2265.7" y="1873.3"/><use href="#dm" x="2266.2" y="1894.3"/><use href="#dm" x="2266.4" y="1812.6"/><use href="#dm" x="2266.7" y="1895.7"/><use href="#dm" x="2266.8" y="1833.7"/><use href="#dm" x="2267.1" y="1707.5"/><use href="#dm" x="2267.8" y="1808.9"/><use href="#dm" x="2268.3" y="1793.7"/><use href="#dm" x="2268.3" y="1817.1"/><use href="#dm" x="2268.3" y="1917.7"/><use href="#dm" x="2269.0" y="2041.5"/><use href="#dm" x="2270.0" y="1881.8"/><use href="#dm" x="2270.6" y="1901.3"/><use href="#dm" x="2272.9" y="1823.2"/><use href="#dm" x="2273.0" y="1828.8"/><use href="#dm" x="2273.0" y="1875.6"/><use href="#dm" x="2275.0" y="2041.5"/><use href="#dm" x="2276.6" y="1863.7"/><use href="#dm" x="2277.6" y="1835.8"/><use href="#dm" x="2278.3" y="1838.7"/><use href="#dm" x="2278.7" y="1975.9"/><use href="#dm" x="2279.1" y="1833.7"/><use href="#dm" x="2281.0" y="2041.5"/><use href="#dm" x="2282.3" y="1840.5"/><use href="#dm" x="2282.3" y="1859.2"/><use href="#dm" x="2283.7" y="1844.1"/><use href="#dm" x="2284.6" y="1852.2"/><use href="#dm" x="2284.6" y="1971.5"/><use href="#dm" x="2287.0" y="1845.2"/><use href="#dm" x="2287.0" y="2041.5"/><use href="#dm" x="2287.6" y="1846.4"/><use href="#dm" x="2288.0" y="1863.9"/><use href="#dm" x="2288.3" y="1870.8"/><use href="#dm" x="2289.3" y="1878.0"/><use href="#dm" x="2289.7" y="1978.6"/><use href="#dm" x="2290.0" y="1855.8"/><use href="#dm" x="2290.4" y="1965.1"/><use href="#dm" x="2290.4" y="1882.8"/><use href="#dm" x="2290.5" y="1976.2"/><use href="#dm" x="2290.8" y="1977.9"/><use href="#dm" x="2292.4" y="1904.9"/><use href="#dm" x="2292.6" y="1901.5"/><use href="#dm" x="2292.8" y="1883.8"/><use href="#dm" x="2293.0" y="2041.5"/><use href="#dm" x="2294.0" y="1903.7"/><use href="#dm" x="2294.9" y="1901.6"/><use href="#dm" x="2295.2" y="1896.7"/><use href="#dm" x="2295.3" y="1889.0"/><use href="#dm" x="2295.7" y="1944.0"/><use href="#dm" x="2295.9" y="1924.0"/><use href="#dm" x="2296.1" y="1982.0"/><use href="#dm" x="2296.3" y="1889.6"/><use href="#dm" x="2296.3" y="1980.9"/><use href="#dm" x="2297.6" y="1882.7"/><use href="#dm" x="2297.7" y="1883.2"/><use href="#dm" x="2297.9" y="1969.3"/><use href="#dm" x="2299.0" y="2041.5"/><use href="#dm" x="2299.7" y="1969.3"/><use href="#dm" x="2300.1" y="2011.7"/><use href="#dm" x="2300.7" y="1937.3"/><use href="#dm" x="2301.0" y="1976.2"/><use href="#dm" x="2301.0" y="1927.1"/><use href="#dm" x="2301.0" y="1934.1"/><use href="#dm" x="2301.0" y="1941.1"/><use href="#dm" x="2301.2" y="1934.5"/><use href="#dm" x="2301.3" y="1941.4"/><use href="#dm" x="2303.4" y="1994.9"/><use href="#dm" x="2303.7" y="1969.7"/><use href="#dm" x="2305.0" y="2041.5"/><use href="#dm" x="2305.7" y="1971.5"/><use href="#dm" x="2305.7" y="2013.6"/><use href="#dm" x="2306.2" y="1994.0"/><use href="#dm" x="2308.1" y="1986.9"/><use href="#dm" x="2311.0" y="2041.5"/><use href="#dm" x="2311.3" y="2018.1"/><use href="#dm" x="2317.0" y="2041.5"/><use href="#dm" x="2321.0" y="2041.5"/><use href="#dm" x="2328.0" y="2041.5"/><use href="#dm" x="2336.0" y="2041.5"/><use href="#dm" x="2338.5" y="2027.7"/><use href="#dm" x="2338.7" y="2005.0"/><use href="#dm" x="2342.9" y="2021.0"/><use href="#dm" x="2343.1" y="2004.3"/><use href="#dm" x="2344.0" y="2041.5"/><use href="#dm" x="2344.8" y="2012.0"/><use href="#dm" x="2350.0" y="2041.5"/><use href="#dm" x="2350.1" y="1899.0"/><use href="#dm" x="2352.4" y="1895.0"/><use href="#dm" x="2357.2" y="1798.4"/><use href="#dm" x="2359.0" y="2041.5"/><use href="#dm" x="2360.0" y="1799.3"/><use href="#dm" x="2365.0" y="2041.5"/><use href="#dm" x="2371.0" y="2041.5"/><use href="#dm" x="2373.3" y="1986.4"/><use href="#dm" x="2376.3" y="1640.5"/><use href="#dm" x="2377.0" y="1605.7"/><use href="#dm" x="2377.0" y="2041.5"/><use href="#dm" x="2378.2" y="1980.9"/><use href="#dm" x="2379.6" y="1599.1"/><use href="#dm" x="2379.9" y="1644.2"/><use href="#dm" x="2380.6" y="1835.8"/><use href="#dm" x="2381.4" y="1596.1"/><use href="#dm" x="2381.4" y="1614.4"/><use href="#dm" x="2381.4" y="1641.8"/><use href="#dm" x="2381.9" y="1590.6"/><use href="#dm" x="2382.9" y="1639.4"/><use href="#dm" x="2382.9" y="1957.5"/><use href="#dm" x="2383.3" y="1613.4"/><use href="#dm" x="2383.7" y="1637.2"/><use href="#dm" x="2383.7" y="1589.3"/><use href="#dm" x="2384.0" y="1632.6"/><use href="#dm" x="2385.8" y="1828.1"/><use href="#dm" x="2386.0" y="1582.4"/><use href="#dm" x="2386.1" y="1885.3"/><use href="#dm" x="2386.2" y="1953.8"/><use href="#dm" x="2386.5" y="1589.2"/><use href="#dm" x="2387.9" y="1590.1"/><use href="#dm" x="2388.0" y="1961.6"/><use href="#dm" x="2389.0" y="1979.8"/><use href="#dm" x="2389.7" y="1554.7"/><use href="#dm" x="2389.9" y="1878.0"/><use href="#dm" x="2390.0" y="1588.5"/><use href="#dm" x="2390.4" y="1878.4"/><use href="#dm" x="2390.9" y="1556.6"/><use href="#dm" x="2392.3" y="1920.1"/><use href="#dm" x="2392.8" y="1555.0"/><use href="#dm" x="2392.9" y="1705.3"/><use href="#dm" x="2394.6" y="1709.5"/><use href="#dm" x="2394.6" y="1976.2"/><use href="#dm" x="2394.8" y="1800.7"/><use href="#dm" x="2395.1" y="1919.0"/><use href="#dm" x="2396.9" y="1807.8"/><use href="#dm" x="2396.9" y="1840.5"/><use href="#dm" x="2397.3" y="1914.3"/><use href="#dm" x="2397.6" y="1966.8"/><use href="#dm" x="2398.3" y="1971.5"/><use href="#dm" x="2398.9" y="1714.5"/><use href="#dm" x="2399.1" y="1745.0"/><use href="#dm" x="2399.3" y="1742.3"/><use href="#dm" x="2399.3" y="1962.2"/><use href="#dm" x="2399.3" y="1999.6"/><use href="#dm" x="2400.4" y="1840.3"/><use href="#dm" x="2400.9" y="1843.4"/><use href="#dm" x="2401.1" y="2000.6"/>
<path d="M129.6 1493.3h0M124.9 1495.3h0M134.1 1509.3h0M135.9 1513.3h0M142.1 1486.5h0M138.5 1488.4h0M145.6 1449.9h0M149.1 1452.9h0M141.7 1452.8h0M168.4 1468.2h0M171.3 1461.8h0M163.6 1466.5h0M169.6 1472.7h0M168.6 1465.8h0M170.7 1477.3h0M170.4 1479.9h0M175.3 1481.4h0M169.0 1480.7h0M168.7 1484.0h0M167.4 1482.2h0M167.3 1484.2h0M169.6 1482.3h0M163.4 1483.5h0M192.4 1491.0h0M193.0 1488.2h0M194.1 1495.6h0M197.0 1499.4h0M189.5 1495.5h0M195.8 1500.2h0M191.4 1499.6h0M197.0 1505.9h0M197.4 1504.5h0M198.3 1507.7h0M198.1 1511.6h0M196.9 1505.4h0M202.7 1505.3h0M201.5 1513.9h0M197.7 1508.7h0M202.1 1510.3h0M205.0 1516.2h0M209.7 1520.8h0M207.2 1511.6h0M204.8 1506.7h0M209.4 1505.9h0M209.5 1507.0h0M212.7 1510.1h0M211.2 1501.3h0M206.3 1496.3h0M213.0 1495.6h0M214.6 1490.1h0M214.7 1491.0h0M210.3 1489.4h0M216.4 1486.5h0M219.3 1490.1h0M219.6 1485.1h0M236.9 1452.2h0M239.5 1451.2h0M233.2 1445.4h0M238.1 1455.6h0M239.2 1455.5h0M237.1 1448.8h0M239.2 1459.0h0M244.2 1454.6h0M255.2 1477.3h0M251.1 1480.9h0M256.4 1499.0h0M258.6 1501.0h0M274.6 1500.2h0M278.0 1499.6h0M279.5 1504.0h0M275.2 1495.6h0M277.8 1496.8h0M279.3 1496.9h0M275.8 1491.0h0M276.9 1487.1h0M287.2 1516.2h0M291.0 1511.4h0M280.9 1520.7h0M283.7 1526.0h0M277.7 1517.5h0M274.6 1525.3h0M277.2 1522.2h0M273.5 1465.9h0M269.3 1471.8h0M278.1 1459.1h0M275.2 1470.5h0M273.1 1469.4h0M275.6 1470.2h0M276.9 1475.0h0M277.2 1475.6h0M282.6 1456.8h0M280.4 1452.4h0M287.2 1455.6h0M287.1 1449.9h0M291.8 1454.5h0M292.4 1457.5h0M288.4 1461.3h0M292.2 1456.8h0M291.4 1458.5h0M284.9 1468.2h0M288.2 1472.3h0M289.5 1465.9h0M292.3 1470.0h0M294.1 1463.6h0M290.0 1461.9h0M326.1 1459.0h0M321.3 1454.5h0M356.9 1468.2h0M360.6 1472.1h0M316.9 1503.6h0M317.5 1500.2h0M387.7 1463.6h0M385.3 1462.7h0M388.7 1463.4h0M388.9 1470.5h0M392.3 1471.5h0M390.0 1477.3h0M387.7 1472.0h0M387.0 1475.5h0M391.2 1484.2h0M388.1 1491.0h0M390.9 1479.0h0M392.3 1491.0h0M392.0 1497.2h0M393.4 1497.9h0M395.0 1502.3h0M394.6 1504.7h0M394.9 1509.2h0M389.8 1507.4h0M390.0 1508.2h0M387.1 1504.0h0M385.5 1511.6h0M389.5 1517.3h0M399.2 1495.6h0M401.0 1495.8h0M394.9 1499.6h0M403.7 1463.6h0M406.6 1458.8h0M408.1 1466.6h0M406.0 1470.5h0M405.1 1471.4h0M408.3 1477.3h0M412.1 1481.3h0M411.7 1483.1h0M412.9 1495.6h0M413.9 1499.3h0M417.4 1497.9h0M421.3 1494.2h0M418.6 1498.4h0M422.0 1463.6h0M426.1 1461.2h0M422.0 1481.9h0M420.8 1479.3h0M406.0 1484.2h0M407.5 1487.8h0M452.9 1477.3h0M456.4 1481.6h0M450.1 1473.7h0M353.5 1523.0h0M354.6 1520.7h0M385.5 1525.3h0M388.7 1524.2h0M417.4 1525.3h0M414.8 1522.0h0M418.7 1526.4h0M163.8 1527.6h0M164.5 1526.1h0M162.7 1532.1h0M165.5 1535.2h0M161.6 1536.7h0M160.4 1537.9h0M161.0 1541.3h0M156.9 1540.9h0M160.4 1545.9h0M163.6 1552.5h0M150.1 1564.1h0M154.8 1557.7h0M152.7 1558.1h0M149.0 1568.7h0M147.6 1573.3h0M147.2 1561.8h0M147.8 1573.3h0M146.7 1567.9h0M146.7 1576.7h0M149.1 1574.3h0M144.8 1576.1h0M145.6 1580.1h0M147.8 1581.4h0M142.8 1581.8h0M218.7 1566.4h0M217.4 1566.2h0M239.2 1545.9h0M234.5 1539.2h0M236.9 1551.6h0M234.5 1551.0h0M239.3 1551.3h0M234.7 1557.3h0M236.0 1560.4h0M239.1 1559.4h0M233.5 1563.0h0M228.9 1566.9h0M232.4 1568.7h0M229.8 1575.5h0M236.9 1566.7h0M231.2 1574.4h0M230.9 1569.8h0M230.1 1580.1h0M228.8 1577.3h0M230.8 1582.0h0M255.2 1529.9h0M254.7 1533.4h0M256.4 1577.8h0M254.9 1571.8h0M280.4 1568.7h0M284.0 1567.4h0M310.1 1581.3h0M306.3 1578.3h0M315.0 1586.5h0M308.3 1588.7h0M305.6 1586.9h0M306.6 1596.1h0M303.3 1590.4h0M342.0 1557.3h0M341.8 1558.5h0M340.0 1561.1h0M343.8 1560.7h0M342.4 1556.8h0M345.5 1564.1h0M344.4 1569.2h0M348.3 1566.4h0M350.0 1570.1h0M351.2 1568.7h0M354.2 1566.0h0M353.5 1564.1h0M355.3 1566.6h0M351.8 1566.7h0M355.8 1559.6h0M353.8 1562.8h0M342.0 1575.6h0M340.5 1582.1h0M346.6 1576.7h0M342.0 1580.1h0M351.2 1577.8h0M351.1 1572.0h0M350.0 1584.7h0M349.2 1589.1h0M348.9 1591.5h0M348.3 1594.8h0M348.3 1596.1h0M352.1 1592.7h0M352.0 1600.0h0M347.8 1600.7h0M350.0 1602.0h0M346.4 1601.3h0M346.0 1606.4h0M341.2 1613.0h0M348.1 1610.2h0M344.3 1612.1h0M339.5 1605.5h0M342.4 1608.6h0M342.0 1616.7h0M339.8 1622.4h0M339.8 1621.2h0M338.1 1619.3h0M337.2 1616.0h0M337.5 1625.8h0M335.8 1624.4h0M335.2 1630.4h0M337.8 1636.4h0M383.2 1536.7h0M385.9 1540.3h0M383.2 1541.3h0M386.9 1539.1h0M383.2 1545.9h0M383.7 1547.2h0M384.5 1547.2h0M399.2 1541.3h0M402.4 1545.0h0M403.6 1538.3h0M404.9 1539.0h0M407.6 1533.8h0M403.5 1545.6h0M410.6 1536.7h0M410.7 1535.8h0M413.1 1539.3h0M412.9 1540.1h0M415.2 1540.9h0M411.7 1538.4h0M415.2 1543.6h0M414.7 1536.7h0M416.3 1549.3h0M413.3 1551.9h0M421.0 1542.4h0M417.4 1555.0h0M417.7 1559.7h0M421.1 1549.9h0M415.2 1558.4h0M416.7 1563.1h0M418.8 1556.2h0M412.9 1561.8h0M413.9 1557.9h0M410.6 1566.4h0M407.0 1569.1h0M408.3 1571.0h0M411.1 1575.1h0M404.8 1571.7h0M411.7 1574.4h0M413.3 1573.6h0M415.2 1577.8h0M411.9 1578.5h0M418.0 1582.2h0M380.9 1582.4h0M382.2 1588.9h0M388.9 1582.4h0M389.2 1588.7h0M396.9 1582.4h0M400.0 1580.7h0M378.6 1614.4h0M374.7 1618.9h0M440.3 1585.8h0M441.8 1579.3h0M438.8 1580.8h0M473.4 1561.8h0M474.7 1562.3h0M468.9 1562.0h0M474.6 1619.0h0M474.0 1623.0h0M475.3 1617.2h0M470.0 1615.5h0M470.7 1614.0h0M465.4 1612.1h0M467.2 1614.0h0M466.9 1607.0h0M154.7 1614.4h0M158.4 1609.6h0M157.0 1630.4h0M155.6 1634.8h0M155.8 1636.1h0M157.2 1637.6h0M154.7 1641.8h0M155.9 1643.9h0M145.6 1596.1h0M145.7 1591.1h0M232.4 1612.1h0M231.2 1605.9h0M221.0 1625.8h0M222.6 1624.0h0M225.5 1629.2h0M230.5 1624.3h0M230.1 1632.7h0M235.1 1627.2h0M227.8 1636.1h0M226.1 1642.6h0M222.9 1636.6h0M225.5 1639.5h0M222.0 1632.7h0M224.5 1636.9h0M271.2 1621.2h0M274.2 1620.2h0M270.1 1621.8h0M255.2 1619.0h0M257.4 1620.5h0M256.4 1612.1h0M261.3 1618.6h0M257.5 1605.3h0M260.7 1600.6h0M355.8 1619.0h0M359.5 1619.3h0M353.5 1623.5h0M354.0 1626.9h0M353.8 1624.4h0M351.2 1628.1h0M352.5 1632.3h0M354.4 1624.0h0M479.1 1625.8h0M480.6 1623.5h0M155.4 1639.4h0M152.6 1634.3h0M155.4 1644.0h0M160.2 1641.4h0M155.4 1648.7h0M153.8 1650.4h0M192.8 1692.0h0M196.6 1694.4h0M223.2 1637.0h0M221.6 1635.9h0M223.2 1642.9h0M219.9 1638.8h0M224.5 1644.6h0M223.2 1648.7h0M220.8 1651.6h0M226.7 1651.3h0M223.2 1654.6h0M218.5 1654.3h0M223.2 1660.4h0M219.9 1656.7h0M223.2 1666.3h0M226.1 1670.6h0M223.2 1672.1h0M218.5 1676.1h0M224.4 1679.1h0M224.9 1677.6h0M225.6 1686.1h0M223.4 1686.5h0M228.3 1680.6h0M226.8 1689.6h0M221.9 1690.3h0M227.9 1693.2h0M227.8 1689.7h0M249.0 1692.0h0M252.8 1698.2h0M249.5 1698.3h0M254.8 1693.2h0M253.6 1691.3h0M250.7 1690.9h0M260.7 1694.3h0M262.7 1691.6h0M267.1 1693.2h0M269.7 1693.1h0M268.2 1692.0h0M273.5 1692.0h0M272.6 1692.7h0M277.2 1690.2h0M273.0 1699.6h0M268.2 1706.3h0M274.2 1704.2h0M272.4 1707.2h0M273.0 1703.1h0M259.5 1723.6h0M255.4 1724.3h0M259.5 1742.3h0M258.7 1742.1h0M265.9 1747.0h0M269.2 1752.5h0M266.6 1746.0h0M272.4 1751.6h0M273.5 1747.2h0M270.2 1749.4h0M264.2 1765.7h0M266.1 1767.2h0M267.8 1769.5h0M264.8 1772.7h0M262.2 1773.9h0M265.4 1779.7h0M266.3 1776.4h0M265.4 1786.7h0M263.9 1788.5h0M265.4 1793.7h0M265.7 1793.2h0M264.2 1799.6h0M265.6 1805.4h0M263.0 1805.4h0M264.4 1808.0h0M259.5 1821.8h0M255.5 1822.6h0M222.1 1824.2h0M217.4 1819.3h0M226.9 1825.6h0M268.9 1838.2h0M269.7 1840.0h0M209.2 1797.3h0M210.9 1794.1h0M209.7 1797.5h0M146.1 1745.8h0M142.3 1746.0h0M129.7 1794.9h0M124.9 1798.5h0M125.9 1801.2h0M330.8 1634.7h0M329.5 1628.1h0M330.3 1641.7h0M332.1 1644.4h0M328.8 1646.7h0M329.7 1648.7h0M329.9 1643.7h0M328.2 1651.9h0M329.7 1655.7h0M327.4 1655.8h0M329.7 1662.7h0M330.5 1659.5h0M384.6 1641.7h0M380.8 1645.2h0M382.3 1646.4h0M382.6 1643.0h0M380.0 1651.1h0M376.5 1651.7h0M382.2 1644.2h0M381.1 1707.2h0M381.0 1713.8h0M381.2 1707.9h0M378.8 1739.9h0M375.5 1740.3h0M381.1 1756.3h0M384.1 1760.2h0M383.8 1752.4h0M349.6 1725.9h0M345.5 1727.0h0M349.6 1742.3h0M352.8 1742.9h0M346.8 1743.3h0M343.7 1764.5h0M345.4 1769.9h0M362.4 1775.0h0M360.1 1780.2h0M358.7 1776.0h0M363.6 1808.9h0M360.8 1814.6h0M480.6 1665.1h0M481.3 1667.5h0M476.3 1670.0h0M481.7 1670.9h0M477.0 1670.7h0M482.9 1676.8h0M481.4 1676.0h0M485.2 1693.2h0M480.9 1687.5h0M486.9 1689.9h0M485.2 1699.0h0M489.2 1702.2h0M485.2 1704.9h0M487.9 1698.0h0M481.7 1711.9h0M486.5 1713.2h0M478.2 1718.9h0M480.7 1711.9h0M454.8 1717.7h0M453.6 1710.8h0M449.0 1732.9h0M453.2 1734.2h0M491.1 1735.3h0M491.1 1739.8h0M487.5 1741.7h0M501.6 1751.6h0M497.9 1745.0h0M505.5 1753.3h0M503.9 1756.3h0M503.0 1750.8h0M506.3 1761.0h0M503.0 1762.0h0M507.9 1761.5h0M500.4 1764.5h0M498.1 1767.0h0M497.2 1770.5h0M494.6 1768.0h0M494.9 1772.9h0M493.4 1786.7h0M497.6 1792.3h0M492.2 1782.1h0M489.9 1862.7h0M485.4 1866.3h0M499.3 1920.1h0M495.6 1913.1h0M299.3 1869.8h0M301.4 1868.8h0M304.0 1864.6h0M423.2 1907.2h0M427.9 1904.5h0M405.7 1934.1h0M409.0 1936.2h0M407.8 1929.6h0M415.1 1948.1h0M412.8 1953.3h0M410.2 1952.5h0M164.8 1916.5h0M162.8 1917.5h0M168.7 1917.3h0M161.3 1991.4h0M163.9 1994.2h0M180.0 1994.9h0M178.1 2001.3h0M565.5 1349.4h0M567.8 1343.1h0M565.5 1355.1h0M568.5 1351.2h0M565.4 1352.6h0M565.5 1360.8h0M566.2 1358.9h0M568.7 1355.0h0M564.4 1365.4h0M563.2 1368.6h0M563.3 1369.9h0M559.1 1363.6h0M560.9 1366.0h0M590.7 1392.8h0M591.8 1398.4h0M591.2 1398.5h0M591.8 1395.2h0M591.8 1404.2h0M593.0 1399.5h0M596.8 1406.7h0M593.5 1409.9h0M592.9 1404.2h0M588.5 1408.5h0M595.2 1415.6h0M591.6 1422.5h0M596.4 1421.3h0M594.4 1427.4h0M597.5 1427.1h0M594.0 1432.9h0M601.7 1431.0h0M571.3 1420.2h0M570.9 1425.1h0M573.5 1424.8h0M573.3 1420.0h0M575.8 1429.3h0M578.0 1426.0h0M578.1 1433.9h0M573.9 1433.5h0M574.2 1432.8h0M580.4 1438.5h0M576.0 1442.5h0M579.3 1442.5h0M575.4 1444.6h0M583.7 1437.1h0M578.1 1446.5h0M577.8 1442.3h0M558.7 1433.9h0M558.0 1432.3h0M557.5 1438.5h0M558.1 1442.8h0M556.4 1443.0h0M560.8 1439.2h0M556.5 1437.0h0M553.5 1446.5h0M553.3 1450.0h0M556.3 1446.1h0M550.7 1449.9h0M551.8 1448.1h0M547.3 1453.6h0M546.7 1451.0h0M543.4 1444.6h0M542.7 1452.2h0M545.7 1446.2h0M553.0 1464.7h0M554.9 1462.4h0M555.9 1458.3h0M548.4 1471.0h0M545.6 1474.0h0M543.8 1477.3h0M545.9 1476.7h0M545.8 1471.9h0M603.2 1461.3h0M604.8 1454.8h0M603.2 1479.6h0M599.9 1478.0h0M605.5 1485.3h0M608.2 1488.9h0M601.4 1490.2h0M607.8 1491.0h0M610.0 1485.8h0M606.9 1485.6h0M609.0 1495.6h0M608.0 1496.5h0M610.1 1500.2h0M613.3 1496.0h0M610.1 1504.7h0M610.8 1502.4h0M610.1 1509.3h0M608.6 1506.2h0M607.1 1504.5h0M626.1 1505.9h0M629.5 1505.2h0M628.4 1509.8h0M616.9 1520.7h0M617.8 1525.5h0M616.9 1526.4h0M613.8 1528.5h0M615.7 1522.1h0M616.9 1532.1h0M615.9 1537.6h0M616.3 1537.7h0M610.1 1533.3h0M613.8 1537.8h0M606.9 1537.0h0M603.2 1534.4h0M606.1 1540.0h0M609.5 1536.7h0M609.4 1533.3h0M615.8 1539.0h0M620.1 1540.8h0M631.8 1529.9h0M635.5 1531.4h0M631.8 1535.6h0M628.9 1536.7h0M631.8 1541.3h0M627.3 1534.3h0M630.7 1548.1h0M626.2 1552.5h0M629.5 1555.0h0M632.9 1555.6h0M627.8 1559.6h0M625.0 1560.9h0M626.1 1564.1h0M623.4 1570.1h0M627.2 1568.7h0M628.7 1574.5h0M630.5 1566.0h0M628.4 1573.3h0M631.3 1580.0h0M542.7 1491.0h0M546.9 1491.3h0M546.7 1489.3h0M544.2 1487.8h0M550.7 1487.6h0M555.3 1494.1h0M555.1 1486.4h0M547.3 1505.9h0M548.7 1501.7h0M543.3 1507.6h0M539.3 1508.0h0M539.3 1509.3h0M538.4 1507.6h0M516.4 1511.6h0M516.3 1514.1h0M520.7 1509.4h0M543.8 1523.0h0M548.2 1517.4h0M542.5 1522.8h0M546.1 1543.6h0M547.1 1548.8h0M546.1 1566.4h0M548.7 1570.5h0M546.1 1591.5h0M549.3 1595.8h0M544.3 1587.4h0M543.3 1596.1h0M546.7 1598.9h0M543.1 1590.3h0M540.4 1600.7h0M535.5 1596.6h0M549.6 1619.0h0M549.8 1616.8h0M511.9 1625.8h0M513.1 1628.4h0M678.6 1358.5h0M674.1 1353.7h0M679.8 1363.1h0M679.4 1364.2h0M682.7 1359.0h0M680.9 1367.6h0M684.2 1369.0h0M679.7 1361.7h0M681.5 1372.2h0M684.5 1372.5h0M676.7 1372.2h0M682.1 1376.8h0M684.7 1371.1h0M680.3 1381.4h0M684.5 1384.5h0M681.9 1380.0h0M678.6 1385.9h0M674.6 1383.2h0M677.3 1385.1h0M676.4 1391.6h0M675.7 1393.7h0M674.1 1397.4h0M672.7 1403.4h0M670.8 1391.9h0M673.5 1404.2h0M668.5 1399.3h0M669.4 1399.6h0M672.9 1411.1h0M674.9 1415.5h0M685.5 1427.1h0M681.5 1431.6h0M679.2 1430.5h0M682.5 1434.1h0M672.9 1433.9h0M677.6 1437.9h0M671.2 1437.7h0M672.9 1493.3h0M669.0 1495.1h0M672.9 1541.3h0M674.6 1547.1h0M671.8 1548.7h0M671.8 1545.9h0M676.2 1543.8h0M670.6 1556.1h0M671.0 1555.0h0M667.8 1562.1h0M678.1 1555.0h0M675.4 1557.5h0M682.8 1553.9h0M685.5 1553.9h0M681.1 1558.7h0M685.5 1579.0h0M687.0 1578.5h0M616.9 1597.3h0M615.8 1592.5h0M613.8 1601.9h0M738.0 1385.9h0M741.3 1389.6h0M740.0 1385.6h0M739.2 1392.8h0M742.4 1386.2h0M738.0 1398.2h0M740.3 1399.6h0M741.1 1401.5h0M739.2 1406.5h0M741.9 1407.1h0M738.0 1413.3h0M734.2 1418.0h0M741.0 1415.4h0M738.0 1420.2h0M733.3 1414.6h0M738.0 1427.1h0M743.0 1433.1h0M747.2 1395.1h0M743.3 1395.8h0M749.5 1401.9h0M752.3 1408.7h0M751.7 1408.8h0M751.9 1412.3h0M752.9 1415.6h0M752.5 1416.1h0M751.6 1422.4h0M754.0 1422.5h0M755.5 1418.7h0M759.0 1420.4h0M755.2 1429.3h0M759.5 1431.9h0M756.3 1436.2h0M752.1 1435.1h0M755.2 1440.8h0M757.1 1440.5h0M754.0 1445.3h0M754.3 1443.6h0M757.2 1444.9h0M765.5 1383.6h0M767.6 1384.2h0M767.7 1389.4h0M763.6 1388.8h0M770.0 1395.1h0M774.7 1400.0h0M771.2 1401.9h0M775.0 1401.9h0M773.1 1403.7h0M772.3 1408.8h0M769.4 1406.8h0M770.0 1415.6h0M772.7 1410.7h0M765.7 1420.5h0M767.7 1422.5h0M768.4 1417.6h0M776.9 1372.2h0M778.5 1367.4h0M780.4 1367.6h0M781.4 1374.5h0M778.8 1371.9h0M783.7 1436.2h0M779.0 1435.1h0M787.4 1436.2h0M786.0 1439.6h0M786.2 1445.7h0M785.7 1439.4h0M788.3 1443.0h0M784.0 1440.4h0M790.6 1459.0h0M788.7 1459.7h0M793.4 1457.8h0M791.7 1463.6h0M791.2 1469.1h0M792.9 1468.2h0M792.3 1470.8h0M788.0 1473.6h0M735.8 1445.3h0M734.5 1440.0h0M735.8 1452.2h0M735.5 1456.6h0M736.8 1457.9h0M735.8 1459.0h0M735.9 1454.7h0M735.8 1464.7h0M733.0 1465.6h0M735.8 1470.5h0M739.6 1474.2h0M736.0 1475.6h0M820.3 1385.9h0M821.6 1388.4h0M821.4 1391.6h0M820.4 1394.4h0M822.6 1397.4h0M824.2 1397.8h0M825.1 1398.0h0M822.6 1404.2h0M818.5 1397.9h0M822.6 1411.1h0M822.1 1417.7h0M822.6 1417.9h0M818.5 1421.3h0M822.6 1424.8h0M823.8 1418.3h0M826.5 1420.4h0M822.6 1431.6h0M821.7 1432.1h0M826.9 1436.8h0M822.6 1438.5h0M821.3 1441.8h0M820.9 1434.7h0M821.4 1444.2h0M823.9 1442.9h0M820.3 1449.9h0M820.3 1448.8h0M818.3 1451.0h0M819.1 1456.8h0M816.8 1457.5h0M818.2 1455.5h0M818.0 1463.6h0M813.7 1467.2h0M819.1 1469.3h0M823.2 1474.7h0M820.3 1475.0h0M818.4 1469.4h0M816.3 1470.5h0M856.8 1390.5h0M861.1 1391.8h0M855.1 1386.9h0M858.0 1397.4h0M853.3 1399.4h0M857.8 1394.8h0M859.1 1404.2h0M857.9 1407.1h0M860.3 1409.9h0M859.5 1403.0h0M861.4 1415.6h0M865.1 1412.1h0M863.7 1421.3h0M866.3 1416.6h0M864.5 1423.0h0M866.0 1427.1h0M869.9 1431.8h0M868.3 1432.8h0M871.0 1434.1h0M867.4 1426.4h0M870.5 1438.5h0M869.8 1441.3h0M871.7 1444.2h0M868.1 1447.1h0M872.8 1449.9h0M869.2 1452.3h0M876.9 1452.9h0M874.0 1455.6h0M870.4 1449.9h0M875.1 1461.3h0M872.7 1458.2h0M877.4 1467.0h0M875.4 1470.4h0M876.5 1467.0h0M879.7 1472.7h0M881.0 1475.4h0M878.2 1473.4h0M880.8 1478.5h0M876.7 1473.8h0M875.9 1484.1h0M882.0 1484.2h0M878.6 1488.6h0M883.1 1489.9h0M885.8 1491.3h0M884.3 1495.6h0M882.9 1493.9h0M870.5 1465.9h0M868.5 1461.1h0M884.3 1511.6h0M882.1 1506.0h0M886.5 1529.9h0M889.6 1533.9h0M890.4 1535.5h0M847.7 1431.6h0M846.0 1427.8h0M846.6 1438.5h0M850.7 1438.8h0M845.4 1445.3h0M842.4 1452.0h0M846.8 1446.9h0M844.3 1452.2h0M841.1 1451.1h0M848.2 1456.6h0M843.1 1459.0h0M838.8 1460.6h0M845.5 1465.0h0M842.0 1465.9h0M839.5 1466.4h0M840.8 1472.7h0M837.8 1478.5h0M839.7 1479.6h0M834.8 1476.7h0M842.4 1480.6h0M838.6 1486.5h0M836.9 1486.6h0M841.7 1493.1h0M836.3 1491.0h0M832.7 1496.2h0M834.0 1495.6h0M836.1 1500.0h0M831.7 1501.3h0M833.5 1501.1h0M836.6 1507.6h0M829.4 1507.0h0M832.8 1510.2h0M832.9 1511.6h0M831.4 1514.8h0M836.3 1516.2h0M831.6 1512.4h0M833.6 1509.3h0M792.9 1486.5h0M795.8 1490.3h0M794.0 1492.2h0M798.3 1487.3h0M795.2 1497.9h0M793.9 1496.2h0M797.4 1503.6h0M796.0 1509.6h0M799.7 1509.3h0M796.5 1514.6h0M797.3 1507.3h0M803.1 1504.7h0M805.4 1510.4h0M806.6 1500.2h0M803.9 1505.1h0M808.9 1495.6h0M804.7 1489.1h0M812.2 1496.0h0M811.1 1491.0h0M806.8 1497.6h0M814.1 1494.6h0M813.4 1497.9h0M810.4 1496.0h0M815.7 1504.7h0M817.0 1499.3h0M806.6 1518.4h0M807.5 1519.4h0M804.3 1524.1h0M804.8 1530.5h0M802.0 1529.9h0M803.9 1531.5h0M806.8 1532.3h0M822.6 1507.0h0M821.3 1512.6h0M818.4 1510.8h0M827.1 1536.7h0M822.5 1541.3h0M799.7 1541.3h0M798.0 1541.5h0M797.9 1546.1h0M800.9 1547.0h0M805.1 1546.9h0M802.0 1552.7h0M800.2 1552.3h0M802.6 1558.4h0M801.9 1554.1h0M803.1 1564.1h0M804.7 1562.1h0M802.6 1569.8h0M798.7 1569.4h0M800.9 1575.4h0M802.0 1575.6h0M799.1 1577.7h0M799.8 1573.3h0M803.1 1581.3h0M800.4 1576.5h0M804.3 1587.0h0M803.2 1586.9h0M806.5 1582.0h0M802.0 1609.8h0M806.1 1612.4h0M798.0 1611.0h0M802.0 1616.7h0M799.4 1616.5h0M802.0 1623.5h0M799.8 1626.5h0M802.0 1644.1h0M802.9 1645.8h0M715.2 1486.5h0M716.8 1490.6h0M712.1 1480.5h0M716.3 1492.2h0M716.4 1491.5h0M717.5 1497.9h0M713.1 1499.7h0M719.2 1503.6h0M722.2 1506.7h0M720.9 1509.3h0M718.0 1508.2h0M723.7 1503.5h0M722.6 1515.0h0M726.6 1513.2h0M723.7 1521.0h0M724.3 1520.7h0M723.3 1525.4h0M721.2 1526.2h0M726.0 1526.4h0M724.9 1530.8h0M727.8 1532.1h0M731.4 1539.1h0M729.5 1537.9h0M731.2 1533.7h0M731.2 1543.6h0M730.2 1540.6h0M730.8 1539.1h0M731.2 1550.4h0M731.6 1546.0h0M731.2 1557.3h0M732.0 1564.1h0M735.8 1564.2h0M730.6 1564.1h0M734.7 1558.5h0M730.0 1571.0h0M726.2 1564.2h0M726.2 1570.8h0M730.0 1577.8h0M732.4 1578.3h0M730.0 1584.7h0M731.5 1586.5h0M733.1 1585.3h0M730.0 1590.4h0M727.9 1590.3h0M727.8 1597.0h0M730.0 1596.1h0M731.7 1594.7h0M729.1 1596.6h0M735.8 1491.0h0M738.0 1492.6h0M735.6 1490.1h0M735.8 1511.6h0M738.1 1507.0h0M733.5 1515.0h0M730.0 1513.5h0M733.7 1514.0h0M731.2 1518.4h0M732.7 1520.7h0M727.8 1524.1h0M732.5 1517.5h0M724.3 1529.9h0M722.9 1536.7h0M722.0 1534.4h0M721.2 1537.9h0M721.3 1529.5h0M719.8 1539.0h0M719.9 1537.3h0M720.5 1535.4h0M716.9 1542.4h0M715.2 1540.7h0M714.0 1545.9h0M717.5 1550.9h0M712.9 1525.3h0M716.5 1527.5h0M712.9 1561.8h0M712.8 1559.4h0M715.8 1563.0h0M711.8 1568.7h0M710.1 1572.0h0M710.6 1575.6h0M708.7 1568.6h0M706.7 1573.1h0M709.5 1582.4h0M708.7 1584.5h0M707.2 1577.8h0M708.3 1589.3h0M710.5 1595.0h0M707.2 1596.1h0M702.8 1593.9h0M706.1 1603.0h0M705.0 1598.0h0M703.8 1608.7h0M707.2 1605.3h0M701.5 1614.4h0M701.3 1610.8h0M701.6 1617.7h0M699.2 1621.2h0M697.9 1622.9h0M699.5 1614.5h0M696.9 1628.1h0M693.2 1633.1h0M696.6 1632.2h0M694.6 1632.7h0M690.2 1638.1h0M698.5 1633.7h0M692.3 1637.2h0M688.0 1639.6h0M692.6 1635.0h0M687.8 1603.0h0M683.3 1598.9h0M690.1 1619.0h0M689.5 1618.1h0M667.2 1603.0h0M666.7 1596.6h0M667.2 1608.7h0M667.3 1605.3h0M667.2 1614.4h0M665.1 1617.3h0M667.2 1621.2h0M662.9 1624.7h0M667.2 1628.1h0M669.2 1629.0h0M667.2 1635.0h0M666.1 1629.9h0M662.8 1637.8h0M667.2 1641.8h0M662.7 1638.3h0M662.3 1643.2h0M722.0 1614.4h0M721.4 1608.5h0M723.2 1619.0h0M725.1 1616.7h0M724.3 1623.5h0M723.5 1620.5h0M723.1 1624.6h0M722.0 1627.0h0M719.9 1621.6h0M719.3 1631.3h0M719.8 1630.4h0M719.3 1627.6h0M724.3 1635.5h0M888.8 1555.0h0M886.4 1554.0h0M891.4 1552.4h0M549.4 1651.1h0M545.9 1655.9h0M548.4 1648.7h0M534.2 1660.4h0M539.1 1663.2h0M509.7 1674.4h0M506.6 1669.1h0M513.7 1673.8h0M534.2 1699.0h0M538.0 1692.9h0M509.7 1721.2h0M508.8 1724.9h0M509.1 1718.5h0M507.3 1751.6h0M506.5 1747.3h0M512.0 1756.9h0M507.3 1756.3h0M503.2 1754.6h0M507.3 1761.0h0M508.7 1760.8h0M578.7 1732.9h0M575.7 1727.9h0M577.9 1739.5h0M634.8 1717.7h0M638.4 1715.5h0M555.3 1796.1h0M552.1 1792.6h0M562.3 1797.8h0M561.0 1791.6h0M565.9 1803.8h0M569.3 1799.6h0M567.6 1795.7h0M571.2 1806.4h0M528.4 1805.4h0M523.9 1811.5h0M616.1 1805.4h0M612.6 1802.7h0M629.0 1842.9h0M627.7 1844.3h0M550.6 1865.1h0M551.8 1862.8h0M554.1 1866.6h0M558.2 1866.8h0M563.0 1862.8h0M558.9 1865.3h0M565.8 1868.6h0M562.2 1865.2h0M650.0 1817.1h0M649.2 1815.3h0M649.0 1815.7h0M661.7 1833.5h0M664.8 1833.0h0M662.8 1834.4h0M653.5 1861.6h0M657.4 1867.9h0M673.4 1860.4h0M672.5 1867.3h0M670.5 1860.5h0M692.1 1807.8h0M693.2 1811.7h0M693.6 1804.1h0M710.8 1765.7h0M713.0 1760.3h0M696.8 1793.7h0M692.1 1792.5h0M731.9 1831.2h0M728.4 1833.5h0M733.7 1833.3h0M751.8 1821.8h0M753.9 1822.5h0M771.7 1851.1h0M772.6 1851.6h0M769.3 1854.0h0M766.9 1860.4h0M767.0 1856.9h0M765.5 1853.8h0M785.7 1812.5h0M790.6 1810.1h0M782.0 1817.6h0M830.1 1772.7h0M828.6 1770.4h0M826.8 1768.3h0M830.1 1777.4h0M834.6 1770.5h0M830.1 1782.0h0M833.8 1779.1h0M825.4 1787.2h0M860.6 1786.7h0M855.9 1790.2h0M855.9 1803.1h0M856.9 1798.3h0M846.5 1846.4h0M851.1 1845.6h0M845.4 1851.4h0M879.3 1842.9h0M879.3 1836.5h0M888.6 1786.7h0M886.3 1784.2h0M820.8 1835.8h0M819.9 1841.0h0M821.2 1840.1h0M802.1 1648.7h0M804.2 1643.7h0M806.8 1654.6h0M802.1 1659.3h0M803.5 1659.0h0M811.4 1660.4h0M815.3 1654.4h0M814.1 1666.4h0M818.5 1686.1h0M816.7 1687.5h0M738.9 1686.1h0M735.2 1688.6h0M714.4 1667.4h0M718.2 1662.5h0M837.2 1717.7h0M837.6 1719.3h0M868.7 1707.2h0M867.7 1703.2h0M874.6 1747.0h0M874.2 1753.0h0M879.3 1748.1h0M875.0 1750.6h0M882.3 1750.3h0M883.9 1749.3h0M879.8 1743.4h0M687.5 1936.4h0M691.4 1931.9h0M560.0 1966.8h0M562.7 1971.2h0M597.4 2017.1h0M598.5 2019.8h0M666.4 1630.0h0M666.8 1635.4h0M666.4 1637.0h0M662.3 1634.7h0M666.4 1644.0h0M661.6 1637.5h0M665.6 1640.2h0M666.4 1662.7h0M664.3 1660.0h0M664.1 1683.8h0M666.0 1690.6h0M666.9 1688.8h0M664.1 1690.8h0M660.1 1687.9h0M663.2 1686.0h0M664.1 1697.8h0M664.2 1704.7h0M663.1 1693.3h0M664.1 1704.9h0M660.8 1698.1h0M665.6 1707.7h0M664.1 1711.9h0M663.0 1706.5h0M662.9 1718.9h0M662.7 1722.6h0M658.6 1723.2h0M661.7 1725.9h0M657.3 1720.9h0M663.3 1719.6h0M660.6 1732.9h0M665.1 1732.0h0M659.4 1739.9h0M656.8 1742.7h0M658.2 1747.0h0M655.8 1752.7h0M657.0 1754.0h0M661.0 1752.6h0M655.9 1761.0h0M653.7 1759.6h0M654.0 1763.6h0M654.7 1768.0h0M651.9 1767.7h0M654.7 1775.0h0M656.1 1778.5h0M654.7 1782.0h0M655.0 1785.1h0M654.1 1787.9h0M651.1 1781.8h0M653.5 1793.7h0M656.6 1798.9h0M653.0 1799.0h0M652.4 1801.6h0M652.4 1804.3h0M655.3 1801.7h0M647.7 1777.4h0M649.9 1782.8h0M692.1 1634.7h0M688.5 1629.6h0M694.5 1639.4h0M692.4 1634.2h0M698.9 1639.5h0M696.8 1644.0h0M695.5 1643.6h0M699.3 1648.0h0M696.8 1649.9h0M694.9 1655.2h0M696.2 1650.9h0M696.8 1655.7h0M695.9 1649.8h0M697.4 1661.6h0M694.5 1657.5h0M698.0 1667.4h0M697.0 1662.8h0M701.0 1660.5h0M697.4 1672.1h0M698.6 1668.4h0M696.8 1676.8h0M694.2 1682.7h0M695.3 1674.7h0M701.5 1653.4h0M703.2 1650.4h0M699.4 1647.5h0M903.3 1356.2h0M899.9 1363.0h0M903.9 1362.6h0M903.3 1361.9h0M903.0 1367.6h0M905.6 1362.9h0M903.3 1367.6h0M898.9 1374.1h0M937.5 1349.4h0M939.6 1347.7h0M938.7 1356.2h0M936.4 1351.6h0M934.1 1349.4h0M939.8 1363.1h0M939.5 1359.5h0M906.7 1385.9h0M911.6 1383.0h0M906.1 1392.8h0M903.8 1393.1h0M905.6 1399.6h0M901.9 1404.6h0M906.7 1406.5h0M905.1 1406.9h0M910.5 1411.4h0M907.8 1413.3h0M909.0 1409.9h0M906.6 1411.0h0M909.0 1420.2h0M908.0 1427.0h0M910.1 1427.1h0M913.7 1433.2h0M913.9 1433.5h0M909.0 1433.9h0M908.2 1435.1h0M907.8 1440.8h0M907.5 1444.3h0M908.4 1446.5h0M909.6 1442.4h0M909.0 1452.2h0M912.6 1450.2h0M909.5 1447.6h0M894.1 1397.4h0M898.2 1399.8h0M894.1 1405.3h0M897.4 1404.3h0M894.1 1413.3h0M897.4 1419.4h0M895.8 1410.3h0M891.9 1429.3h0M891.6 1424.4h0M890.7 1435.0h0M892.8 1435.8h0M891.2 1431.0h0M889.6 1440.8h0M886.6 1442.2h0M890.7 1446.5h0M886.2 1446.4h0M891.9 1452.2h0M894.3 1458.1h0M893.1 1454.0h0M928.4 1413.3h0M925.5 1407.7h0M932.0 1419.9h0M929.6 1447.6h0M931.0 1450.1h0M946.7 1461.3h0M950.8 1465.5h0M944.4 1427.1h0M944.3 1431.0h0M976.4 1424.8h0M977.6 1423.0h0M978.0 1423.1h0M976.4 1432.8h0M979.6 1433.2h0M978.4 1433.9h0M976.4 1440.8h0M979.0 1447.4h0M973.0 1463.6h0M976.0 1468.9h0M973.5 1469.3h0M978.3 1464.2h0M974.1 1475.0h0M974.0 1478.4h0M975.6 1480.8h0M978.7 1385.9h0M977.2 1382.4h0M979.8 1392.8h0M981.2 1385.8h0M981.0 1399.6h0M980.7 1398.6h0M985.7 1396.8h0M983.2 1405.3h0M978.3 1408.4h0M982.5 1399.3h0M985.5 1411.1h0M982.6 1406.5h0M987.8 1417.9h0M982.9 1424.2h0M990.1 1424.8h0M987.4 1421.1h0M992.4 1430.5h0M987.9 1434.9h0M994.7 1436.2h0M998.0 1440.8h0M995.8 1443.0h0M998.1 1449.9h0M996.9 1449.9h0M994.5 1449.8h0M993.7 1452.2h0M996.9 1456.8h0M998.2 1454.4h0M996.9 1463.6h0M998.2 1457.0h0M996.9 1470.5h0M994.7 1467.6h0M996.9 1477.3h0M999.9 1480.9h0M994.1 1476.1h0M995.8 1481.9h0M995.6 1483.9h0M994.7 1486.5h0M997.7 1490.5h0M1003.8 1404.2h0M1000.0 1404.1h0M1007.2 1398.5h0M1002.9 1400.2h0M1010.7 1392.8h0M1011.6 1399.0h0M1014.1 1398.5h0M1016.6 1401.8h0M1016.7 1398.0h0M1017.5 1404.2h0M1020.8 1411.1h0M1019.8 1409.9h0M1018.0 1405.5h0M1017.5 1406.8h0M1022.1 1415.6h0M1020.0 1410.8h0M1023.0 1417.0h0M1031.2 1399.6h0M1033.2 1396.6h0M1030.9 1394.2h0M1040.4 1383.6h0M1041.2 1388.0h0M1045.2 1378.0h0M1042.6 1387.1h0M1041.8 1389.5h0M1046.7 1385.9h0M1044.9 1390.5h0M1040.1 1386.8h0M1051.8 1417.9h0M1049.7 1423.3h0M1026.6 1372.2h0M1023.8 1370.1h0M1025.5 1371.3h0M1033.5 1371.1h0M1034.7 1368.2h0M1040.4 1369.9h0M1040.9 1373.4h0M1008.4 1417.9h0M1008.8 1422.8h0M921.6 1465.9h0M922.2 1472.3h0M920.4 1472.7h0M918.4 1476.2h0M916.4 1468.0h0M919.3 1479.6h0M923.1 1478.4h0M916.8 1484.6h0M920.4 1486.5h0M917.9 1482.3h0M921.6 1493.3h0M926.2 1489.3h0M922.7 1500.2h0M926.9 1502.5h0M919.2 1495.7h0M923.8 1507.0h0M920.8 1511.3h0M928.6 1506.0h0M920.4 1505.9h0M918.3 1511.7h0M922.1 1511.7h0M917.0 1504.7h0M914.6 1500.9h0M949.0 1484.2h0M952.9 1478.5h0M951.3 1488.7h0M949.5 1491.5h0M948.5 1488.5h0M953.5 1493.3h0M957.3 1486.7h0M957.0 1492.2h0M957.0 1490.6h0M960.4 1491.0h0M959.4 1494.1h0M965.3 1497.5h0M959.3 1496.7h0M963.1 1490.7h0M958.1 1502.4h0M955.6 1507.2h0M961.5 1505.9h0M964.9 1505.7h0M965.0 1509.3h0M966.0 1514.4h0M968.4 1507.0h0M968.2 1502.6h0M971.8 1504.7h0M976.7 1501.1h0M955.8 1513.9h0M958.8 1520.3h0M958.1 1517.3h0M959.4 1517.2h0M960.4 1520.7h0M961.6 1516.9h0M963.8 1521.9h0M967.6 1516.1h0M968.1 1525.0h0M967.2 1523.0h0M967.2 1522.3h0M968.6 1521.9h0M968.4 1528.7h0M968.0 1522.1h0M969.5 1534.4h0M967.2 1528.9h0M965.2 1539.2h0M969.5 1541.3h0M965.4 1535.4h0M971.0 1540.7h0M969.5 1548.1h0M972.2 1547.8h0M889.6 1454.5h0M891.7 1452.2h0M888.4 1461.3h0M892.1 1454.7h0M889.8 1455.0h0M887.3 1468.2h0M884.6 1464.6h0M888.2 1469.7h0M888.4 1484.2h0M891.2 1477.5h0M889.0 1491.0h0M891.5 1497.8h0M889.6 1497.9h0M885.2 1492.7h0M888.4 1504.7h0M891.2 1505.6h0M887.3 1511.6h0M890.4 1512.0h0M889.6 1529.9h0M890.9 1524.5h0M891.7 1528.7h0M888.4 1552.7h0M889.6 1555.7h0M1074.6 1351.7h0M1078.6 1357.9h0M1079.2 1357.6h0M1078.1 1392.8h0M1075.6 1397.7h0M1092.9 1401.9h0M1090.9 1402.1h0M1081.5 1415.6h0M1081.2 1422.0h0M1080.3 1422.5h0M1078.9 1426.0h0M1079.2 1429.3h0M1081.2 1423.4h0M1079.2 1436.2h0M1083.4 1437.4h0M1075.1 1439.0h0M1079.2 1443.0h0M1076.8 1446.1h0M1081.5 1448.8h0M1086.0 1450.7h0M1078.0 1449.5h0M1083.8 1454.5h0M1080.4 1459.6h0M1099.8 1417.9h0M1095.9 1422.8h0M1102.0 1422.5h0M1103.2 1423.5h0M1106.6 1423.8h0M1104.3 1427.1h0M1101.2 1430.1h0M1104.3 1433.9h0M1102.7 1440.3h0M1104.3 1440.8h0M1103.4 1436.9h0M1100.9 1447.6h0M1101.3 1442.1h0M1105.4 1445.9h0M1097.5 1454.5h0M1098.6 1457.9h0M1094.0 1452.7h0M1099.8 1460.2h0M1103.2 1456.8h0M1102.0 1465.9h0M1099.0 1465.8h0M1100.9 1468.7h0M1074.6 1454.5h0M1071.4 1449.4h0M1076.7 1449.6h0M1127.2 1445.3h0M1129.2 1448.8h0M1122.8 1439.9h0M1129.5 1465.9h0M1127.9 1466.0h0M1126.1 1471.8h0M1108.9 1486.5h0M1112.8 1483.3h0M1109.7 1485.7h0M1108.9 1494.4h0M1105.0 1493.7h0M1108.2 1488.0h0M1108.9 1502.4h0M1104.2 1496.3h0M1111.3 1508.2h0M1108.9 1520.7h0M1108.4 1526.6h0M1107.1 1516.1h0M1115.8 1519.6h0M1113.2 1519.5h0M1122.6 1518.4h0M1121.5 1514.3h0M1117.8 1516.8h0M1122.6 1524.1h0M1124.4 1529.5h0M1122.6 1529.9h0M1117.8 1525.8h0M1120.5 1535.3h0M1113.5 1545.9h0M1110.9 1542.4h0M1114.6 1551.6h0M1112.2 1556.1h0M1115.8 1557.3h0M1120.1 1556.1h0M1113.5 1563.0h0M1112.5 1559.3h0M1111.2 1568.7h0M1113.0 1567.9h0M1111.2 1575.6h0M1106.6 1576.3h0M1111.2 1582.4h0M1111.4 1587.4h0M1107.0 1579.7h0M1111.2 1587.0h0M1107.1 1587.6h0M1114.3 1588.5h0M1111.2 1591.5h0M1108.5 1591.2h0M1113.6 1589.8h0M1164.9 1533.3h0M1164.8 1540.2h0M1172.9 1502.4h0M1169.8 1508.0h0M1174.0 1509.3h0M1178.5 1507.8h0M1175.2 1516.2h0M1177.5 1512.9h0M1198.0 1500.2h0M1194.7 1498.6h0M1202.1 1500.5h0M1198.0 1505.9h0M1201.4 1511.5h0M1198.0 1511.6h0M1199.4 1513.8h0M1028.9 1528.7h0M1032.5 1530.1h0M1076.9 1584.7h0M1077.7 1587.3h0M1184.3 1445.3h0M1179.5 1447.1h0M1186.6 1452.2h0M1182.7 1447.3h0M1188.9 1459.0h0M1187.4 1462.4h0M1192.3 1462.5h0M1194.5 1463.2h0M1195.7 1465.9h0M1199.0 1468.8h0M1193.0 1470.7h0M1204.9 1452.2h0M1208.3 1450.7h0M1208.3 1446.5h0M1209.3 1443.2h0M1211.7 1440.8h0M1209.5 1433.8h0M1207.4 1443.6h0M1215.1 1436.2h0M1219.1 1441.1h0M1218.6 1431.6h0M1215.9 1430.3h0M1220.3 1437.2h0M1219.7 1424.8h0M1223.7 1429.9h0M1220.8 1417.9h0M1217.1 1419.9h0M1219.9 1423.6h0M1222.0 1412.2h0M1222.5 1413.8h0M1223.1 1406.5h0M1220.3 1407.3h0M1219.1 1407.9h0M1230.0 1424.8h0M1234.3 1418.3h0M1234.6 1443.0h0M1232.0 1449.0h0M1234.5 1449.5h0M1236.8 1459.0h0M1234.0 1453.0h0M1235.7 1465.9h0M1240.0 1465.4h0M1234.6 1472.7h0M1233.6 1465.9h0M1241.4 1408.8h0M1240.8 1406.7h0M1244.8 1414.5h0M1244.2 1409.9h0M1248.3 1420.2h0M1248.9 1426.5h0M1251.6 1419.0h0M1249.4 1425.9h0M1250.6 1422.4h0M1250.5 1431.6h0M1246.1 1427.4h0M1247.3 1427.0h0M1252.8 1438.5h0M1251.6 1431.9h0M1250.2 1440.0h0M1255.1 1445.3h0M1256.3 1447.4h0M1257.4 1452.2h0M1254.2 1455.3h0M1259.7 1459.0h0M1261.8 1459.3h0M1264.3 1422.5h0M1261.6 1422.2h0M1262.7 1421.0h0M1263.1 1415.6h0M1262.8 1419.9h0M1259.0 1422.2h0M1262.0 1408.8h0M1265.4 1404.9h0M1259.5 1414.2h0M1255.1 1477.3h0M1255.7 1480.7h0M1256.3 1481.9h0M1252.2 1479.6h0M1254.3 1479.4h0M1257.4 1486.5h0M1254.3 1484.7h0M1200.3 1431.6h0M1205.0 1432.4h0M1246.0 1404.2h0M1245.9 1408.3h0M1156.9 1589.3h0M1155.9 1585.2h0M1155.4 1586.5h0M1156.9 1596.1h0M1158.0 1598.4h0M1156.9 1603.0h0M1153.6 1599.1h0M1156.9 1608.7h0M1154.4 1607.8h0M1156.9 1614.4h0M1154.9 1608.9h0M1156.9 1621.2h0M1160.0 1615.8h0M1156.9 1628.1h0M1157.9 1623.7h0M1156.9 1635.0h0M1156.2 1640.9h0M1156.9 1641.8h0M1152.6 1646.9h0M1239.1 1603.0h0M1243.1 1602.8h0M1235.0 1601.6h0M1259.7 1573.3h0M1261.6 1576.2h0M1258.4 1576.3h0M1263.1 1566.4h0M1260.4 1560.9h0M1259.7 1563.5h0M1266.5 1559.6h0M1266.7 1566.0h0M1270.8 1563.3h0M928.3 1689.6h0M924.7 1683.8h0M976.2 1717.7h0M975.4 1713.4h0M894.4 1730.6h0M892.4 1729.9h0M889.6 1729.3h0M887.3 1749.3h0M891.1 1752.5h0M884.4 1744.1h0M1013.7 1725.9h0M1016.2 1732.5h0M1017.2 1731.2h0M1017.7 1735.7h0M1016.6 1727.7h0M1020.7 1736.4h0M1018.6 1734.5h0M1022.2 1730.5h0M1009.0 1756.3h0M1005.3 1753.0h0M1071.0 1764.5h0M1066.4 1762.3h0M1074.5 1686.1h0M1079.0 1690.4h0M1134.1 1682.6h0M1134.5 1687.0h0M1129.1 1681.5h0M1156.3 1641.7h0M1157.6 1638.0h0M1161.0 1648.1h0M1166.0 1642.2h0M1164.3 1649.3h0M1165.7 1654.6h0M1166.5 1653.2h0M1156.3 1632.3h0M1157.3 1633.7h0M1175.1 1761.0h0M1173.5 1762.4h0M1210.1 1751.6h0M1207.3 1748.1h0M1223.0 1764.5h0M1226.5 1767.3h0M1241.7 1742.3h0M1238.1 1747.1h0M1228.9 1786.7h0M1232.7 1787.1h0M1203.1 1796.1h0M1202.6 1801.9h0M1204.9 1791.2h0M1154.0 1770.4h0M1155.6 1774.0h0M1154.0 1775.0h0M1155.0 1779.1h0M1150.6 1771.9h0M1154.0 1779.7h0M1154.3 1783.6h0M1153.4 1784.4h0M1153.7 1783.3h0M1152.8 1789.1h0M1151.6 1791.5h0M1155.8 1792.6h0M1158.2 1796.3h0M1159.1 1792.6h0M1158.7 1796.1h0M1155.9 1789.3h0M1151.7 1725.9h0M1148.0 1722.1h0M1152.3 1731.8h0M1147.5 1728.1h0M1151.3 1727.1h0M1152.8 1737.6h0M1148.4 1734.7h0M1156.3 1688.5h0M1156.7 1682.6h0M1156.8 1683.8h0M889.7 1784.4h0M888.5 1782.6h0M903.7 1817.1h0M900.3 1817.3h0M925.9 1814.8h0M925.8 1821.7h0M896.7 1837.0h0M892.5 1843.3h0M944.6 1814.8h0M940.7 1818.4h0M963.4 1805.4h0M961.0 1805.8h0M959.2 1809.5h0M968.0 1811.3h0M965.9 1818.1h0M972.7 1817.1h0M972.1 1816.6h0M969.8 1824.2h0M965.5 1820.1h0M966.9 1831.2h0M965.5 1831.3h0M982.1 1837.0h0M986.6 1836.1h0M979.5 1830.6h0M985.6 1797.3h0M984.7 1799.8h0M1000.8 1811.3h0M996.5 1805.7h0M994.9 1827.7h0M994.2 1826.6h0M957.5 1889.6h0M956.9 1894.5h0M947.0 1902.5h0M945.0 1901.1h0M906.1 1921.2h0M906.7 1926.4h0M907.5 1927.1h0M954.0 1979.7h0M954.9 1984.3h0M920.1 2013.6h0M915.2 2015.7h0M1058.1 1858.1h0M1060.8 1855.0h0M1060.4 1863.3h0M1055.4 1859.5h0M1057.3 1860.4h0M1062.8 1868.6h0M1059.6 1863.4h0M1060.2 1867.2h0M1067.5 1866.3h0M1071.6 1867.5h0M1072.1 1863.9h0M1072.0 1870.1h0M1067.5 1869.8h0M1068.8 1867.6h0M1062.8 1875.6h0M1067.3 1875.6h0M1093.2 1858.1h0M1093.0 1855.7h0M1088.9 1860.1h0M1114.2 1870.9h0M1115.0 1865.3h0M1124.8 1854.6h0M1124.0 1852.1h0M1121.3 1833.5h0M1120.7 1834.0h0M1124.3 1834.8h0M1196.1 1831.2h0M1195.5 1834.1h0M1194.8 1824.7h0M1200.8 1908.4h0M1201.0 1903.9h0M1217.2 1852.2h0M1212.7 1846.2h0M1247.6 1849.9h0M1244.5 1851.2h0M1251.9 1848.0h0M1251.1 1956.3h0M1248.8 1953.8h0M1065.1 1957.5h0M1068.5 1960.1h0M1086.2 1969.2h0M1084.1 1967.0h0M1089.9 1966.5h0M1103.7 1993.7h0M1101.4 1992.3h0M1108.3 1993.4h0M1052.3 2019.5h0M1056.2 2020.7h0M1308.4 1351.7h0M1304.8 1350.5h0M1297.0 1364.2h0M1293.1 1364.1h0M1300.3 1358.4h0M1310.7 1440.8h0M1314.1 1440.0h0M1306.9 1446.3h0M1310.7 1475.0h0M1313.2 1480.8h0M1265.0 1415.6h0M1261.5 1421.8h0M1263.2 1416.9h0M1269.6 1431.6h0M1266.7 1428.8h0M1271.9 1437.3h0M1272.0 1439.2h0M1267.0 1441.9h0M1274.1 1443.0h0M1274.4 1437.0h0M1272.4 1437.3h0M1276.4 1448.8h0M1274.6 1454.6h0M1278.7 1454.5h0M1279.1 1460.8h0M1276.6 1459.6h0M1281.0 1460.2h0M1276.8 1460.7h0M1283.3 1465.9h0M1283.1 1470.3h0M1285.6 1459.0h0M1283.2 1460.1h0M1287.8 1452.2h0M1285.2 1447.9h0M1271.9 1461.3h0M1270.9 1458.4h0M1342.7 1422.5h0M1347.2 1419.0h0M1345.0 1429.3h0M1344.5 1429.8h0M1348.8 1435.7h0M1347.2 1436.2h0M1348.7 1437.0h0M1349.5 1441.9h0M1350.2 1444.6h0M1348.0 1443.5h0M1351.8 1447.6h0M1356.0 1447.3h0M1356.4 1467.0h0M1353.1 1470.2h0M1376.9 1401.9h0M1373.5 1402.1h0M1376.9 1409.9h0M1375.4 1406.8h0M1377.1 1410.9h0M1376.9 1417.9h0M1377.1 1423.2h0M1378.1 1424.8h0M1373.5 1422.6h0M1379.2 1431.6h0M1382.9 1425.2h0M1376.6 1432.8h0M1380.4 1437.3h0M1384.8 1434.1h0M1376.5 1432.1h0M1381.5 1443.0h0M1381.3 1444.6h0M1382.7 1448.8h0M1379.4 1446.1h0M1378.3 1443.0h0M1383.8 1454.5h0M1382.5 1457.9h0M1388.6 1449.6h0M1386.1 1459.0h0M1381.5 1454.6h0M1388.4 1463.6h0M1384.0 1459.1h0M1388.8 1467.4h0M1390.7 1468.2h0M1394.9 1465.6h0M1392.9 1472.7h0M1393.8 1475.1h0M1395.2 1477.3h0M1392.8 1483.4h0M1397.5 1481.9h0M1393.5 1481.7h0M1398.2 1482.8h0M1399.8 1487.6h0M1404.6 1488.2h0M1402.1 1493.3h0M1404.4 1494.1h0M1404.4 1497.9h0M1408.3 1494.3h0M1406.6 1502.4h0M1405.5 1504.7h0M1406.6 1508.2h0M1405.9 1512.6h0M1406.6 1513.9h0M1404.1 1509.1h0M1392.9 1447.6h0M1397.7 1451.3h0M1395.2 1451.0h0M1399.6 1450.8h0M1395.2 1456.3h0M1397.5 1454.5h0M1399.9 1453.4h0M1400.4 1452.3h0M1411.2 1472.7h0M1412.2 1474.3h0M1410.1 1470.7h0M1413.5 1478.5h0M1410.2 1481.1h0M1415.8 1484.2h0M1420.7 1490.8h0M1418.4 1484.8h0M1414.6 1489.9h0M1411.0 1490.9h0M1413.5 1495.6h0M1416.3 1493.8h0M1415.8 1443.0h0M1415.5 1436.6h0M1416.5 1445.9h0M1367.8 1495.6h0M1370.7 1493.8h0M1368.7 1497.7h0M1370.1 1502.4h0M1374.9 1504.6h0M1372.4 1509.3h0M1374.9 1512.3h0M1310.7 1511.6h0M1314.7 1506.4h0M1305.9 1507.3h0M1311.8 1516.2h0M1316.7 1514.8h0M1313.0 1520.7h0M1316.0 1527.6h0M1308.7 1523.1h0M1315.3 1541.3h0M1316.5 1539.4h0M1314.1 1548.1h0M1317.5 1542.4h0M1316.0 1547.2h0M1313.0 1555.0h0M1317.4 1558.1h0M1313.0 1559.6h0M1312.8 1561.9h0M1313.0 1564.1h0M1312.5 1569.0h0M1313.5 1569.8h0M1316.3 1571.1h0M1314.1 1575.6h0M1316.6 1573.2h0M1363.2 1532.1h0M1364.5 1528.7h0M1366.7 1529.9h0M1370.0 1526.1h0M1370.1 1527.6h0M1370.5 1523.8h0M1371.9 1532.0h0M1365.5 1545.9h0M1360.9 1543.4h0M1363.2 1551.6h0M1364.3 1551.7h0M1361.0 1557.3h0M1365.6 1557.2h0M1358.7 1573.3h0M1361.3 1568.8h0M1355.2 1575.8h0M1340.4 1609.8h0M1343.2 1606.7h0M1340.1 1607.9h0M1395.2 1589.3h0M1392.9 1591.2h0M1392.3 1592.1h0M1390.7 1644.1h0M1388.4 1648.8h0M1453.5 1376.8h0M1457.9 1377.8h0M1456.2 1383.6h0M1453.5 1384.8h0M1455.5 1378.9h0M1453.5 1392.8h0M1449.4 1389.7h0M1453.5 1399.6h0M1455.4 1397.4h0M1453.5 1406.5h0M1449.7 1410.5h0M1451.2 1403.0h0M1452.9 1412.2h0M1453.6 1415.3h0M1457.3 1418.7h0M1452.3 1417.9h0M1447.9 1416.7h0M1450.7 1412.4h0M1454.6 1423.6h0M1453.2 1427.5h0M1456.9 1429.3h0M1454.1 1427.1h0M1458.5 1427.6h0M1452.3 1432.8h0M1451.9 1435.6h0M1447.8 1436.2h0M1450.0 1436.3h0M1452.5 1437.8h0M1450.1 1440.8h0M1451.6 1438.3h0M1452.3 1445.3h0M1449.5 1452.1h0M1455.8 1452.2h0M1452.7 1448.4h0M1459.2 1459.0h0M1460.5 1456.6h0M1452.3 1456.8h0M1448.4 1457.6h0M1445.5 1454.5h0M1449.9 1457.7h0M1459.2 1475.0h0M1462.3 1470.6h0M1459.2 1480.7h0M1457.6 1475.1h0M1462.5 1485.4h0M1459.2 1486.5h0M1454.4 1493.3h0M1443.2 1475.0h0M1439.5 1471.9h0M1431.8 1493.3h0M1431.5 1489.0h0M1432.9 1500.2h0M1435.2 1495.6h0M1434.1 1507.0h0M1438.0 1502.7h0M1436.4 1512.7h0M1439.1 1519.3h0M1436.4 1506.0h0M1438.6 1518.4h0M1437.1 1525.2h0M1437.8 1523.4h0M1440.9 1520.7h0M1439.6 1524.6h0M1443.2 1523.0h0M1444.0 1519.8h0M1440.9 1528.7h0M1442.7 1527.0h0M1438.6 1534.4h0M1435.3 1527.8h0M1438.1 1536.5h0M1436.4 1540.1h0M1437.3 1537.1h0M1434.1 1545.9h0M1429.9 1542.1h0M1431.8 1551.6h0M1429.5 1555.4h0M1431.6 1554.6h0M1429.5 1557.3h0M1428.8 1554.8h0M1427.2 1563.0h0M1427.0 1568.3h0M1431.4 1565.4h0M1424.9 1568.7h0M1429.0 1566.0h0M1420.4 1534.4h0M1425.0 1538.3h0M1425.1 1537.2h0M1418.1 1550.4h0M1419.0 1548.7h0M1415.9 1553.1h0M1420.4 1555.0h0M1423.2 1559.7h0M1422.6 1559.6h0M1422.1 1561.2h0M1417.9 1560.1h0M1431.8 1575.6h0M1431.3 1573.2h0M1433.2 1574.5h0M1434.1 1581.3h0M1430.4 1586.1h0M1429.7 1582.1h0M1436.4 1587.0h0M1432.2 1585.0h0M1431.8 1590.4h0M1435.5 1584.6h0M1427.2 1593.8h0M1426.4 1595.2h0M1424.9 1599.5h0M1425.4 1601.9h0M1423.6 1598.6h0M1422.6 1605.3h0M1420.2 1603.5h0M1421.5 1609.8h0M1426.0 1612.3h0M1420.4 1614.4h0M1424.7 1611.2h0M1420.3 1611.0h0M1434.1 1600.7h0M1437.1 1596.9h0M1438.2 1604.9h0M1418.1 1516.2h0M1421.0 1515.4h0M1461.5 1509.3h0M1460.5 1509.7h0M1463.8 1515.0h0M1459.2 1515.3h0M1466.1 1520.7h0M1467.7 1520.5h0M1468.3 1525.3h0M1470.7 1530.0h0M1468.7 1530.4h0M1470.6 1529.9h0M1466.1 1536.4h0M1472.9 1534.4h0M1473.8 1541.3h0M1469.2 1527.6h0M1475.2 1539.0h0M1476.2 1545.9h0M1479.8 1507.0h0M1481.5 1508.0h0M1482.0 1512.7h0M1480.4 1513.8h0M1484.3 1518.4h0M1480.3 1515.9h0M1470.6 1543.6h0M1469.4 1544.2h0M1466.6 1539.2h0M1468.3 1549.3h0M1472.9 1542.9h0M1463.7 1547.9h0M1466.1 1555.0h0M1468.6 1550.9h0M1462.1 1551.7h0M1468.3 1561.8h0M1466.8 1563.4h0M1470.6 1568.7h0M1474.4 1562.1h0M1471.8 1575.6h0M1474.4 1579.5h0M1472.9 1582.4h0M1471.5 1586.6h0M1475.2 1588.1h0M1478.7 1593.5h0M1477.5 1593.8h0M1473.1 1600.6h0M1480.9 1598.4h0M1482.0 1591.7h0M1476.2 1603.4h0M1484.3 1603.0h0M1482.2 1602.6h0M1486.6 1597.3h0M1481.7 1591.5h0M1490.5 1592.6h0M1488.9 1591.5h0M1489.0 1587.2h0M1493.2 1595.7h0M1452.3 1587.0h0M1450.2 1588.6h0M1493.5 1552.7h0M1488.9 1555.9h0M1495.8 1558.4h0M1493.8 1563.5h0M1498.0 1564.1h0M1493.4 1563.1h0M1498.6 1563.2h0M1501.5 1568.7h0M1497.1 1567.4h0M1497.3 1564.5h0M1504.9 1573.3h0M1507.7 1578.3h0M1508.3 1567.6h0M1508.8 1573.9h0M1511.7 1561.8h0M1508.1 1565.8h0M1514.0 1556.1h0M1515.1 1549.5h0M1513.0 1554.8h0M1516.3 1550.4h0M1515.4 1545.6h0M1518.6 1545.9h0M1517.7 1540.1h0M1520.9 1541.3h0M1523.4 1535.1h0M1511.7 1582.4h0M1506.8 1583.0h0M1512.4 1589.2h0M1511.7 1590.4h0M1508.3 1596.2h0M1508.6 1591.9h0M1511.7 1598.4h0M1514.7 1592.8h0M1507.5 1593.9h0M1502.6 1557.3h0M1502.7 1558.7h0M1518.6 1424.8h0M1522.8 1430.7h0M1517.2 1428.2h0M1519.7 1445.3h0M1520.3 1445.1h0M1519.7 1452.2h0M1515.0 1446.7h0M1519.7 1459.0h0M1518.8 1455.9h0M1519.7 1477.3h0M1519.6 1476.2h0M1520.3 1484.2h0M1516.6 1489.8h0M1520.9 1491.0h0M1518.4 1492.2h0M1520.9 1499.0h0M1521.4 1494.3h0M1520.9 1507.0h0M1521.3 1509.6h0M1520.6 1508.6h0M1522.0 1513.9h0M1524.7 1517.5h0M1523.2 1520.7h0M1526.8 1516.0h0M1520.9 1524.1h0M1517.6 1518.9h0M1518.6 1527.6h0M1519.5 1533.0h0M1523.2 1531.0h0M1525.8 1530.7h0M1527.7 1534.4h0M1530.3 1539.4h0M1527.7 1540.1h0M1524.0 1537.6h0M1526.7 1547.0h0M1527.7 1545.9h0M1530.8 1552.4h0M1530.0 1605.3h0M1526.8 1601.7h0M1531.2 1612.1h0M1535.4 1610.4h0M1532.3 1619.0h0M1529.1 1612.5h0M1534.6 1625.8h0M1532.9 1620.0h0M1536.9 1632.7h0M1534.7 1637.3h0M1571.1 1459.0h0M1570.0 1457.0h0M1572.3 1465.9h0M1569.6 1471.9h0M1573.4 1472.7h0M1568.7 1477.3h0M1574.6 1479.6h0M1573.9 1475.4h0M1577.8 1480.9h0M1575.7 1486.5h0M1577.8 1484.7h0M1578.0 1491.0h0M1573.4 1491.1h0M1580.3 1495.6h0M1580.1 1496.4h0M1582.6 1497.9h0M1580.4 1498.5h0M1584.9 1500.2h0M1589.7 1505.3h0M1580.0 1494.0h0M1587.1 1481.9h0M1589.3 1488.8h0M1591.3 1475.0h0M1587.1 1476.2h0M1592.0 1475.7h0M1588.1 1475.9h0M1587.1 1470.5h0M1583.1 1475.1h0M1562.0 1495.6h0M1562.5 1493.1h0M1559.7 1525.3h0M1557.2 1524.5h0M1556.2 1528.2h0M1555.2 1528.7h0M1559.4 1533.9h0M1559.6 1530.2h0M1550.6 1532.1h0M1549.1 1525.6h0M1547.2 1536.7h0M1548.4 1534.1h0M1543.7 1541.3h0M1547.6 1536.8h0M1549.4 1541.3h0M1548.7 1537.6h0M1553.8 1546.3h0M1555.2 1541.3h0M1553.6 1544.5h0M1555.1 1547.5h0M1589.4 1534.4h0M1584.5 1540.7h0M1557.4 1566.4h0M1554.3 1569.8h0M1559.2 1561.5h0M1559.7 1582.4h0M1559.5 1584.0h0M1559.7 1588.1h0M1563.3 1592.9h0M1558.1 1588.2h0M1559.7 1593.8h0M1563.2 1589.2h0M1562.9 1589.0h0M1591.7 1561.8h0M1596.0 1557.0h0M1616.8 1401.9h0M1616.3 1404.0h0M1612.2 1400.7h0M1619.1 1422.5h0M1616.5 1418.9h0M1620.6 1425.3h0M1619.1 1429.3h0M1616.3 1433.3h0M1623.8 1429.6h0M1619.1 1436.2h0M1620.3 1433.1h0M1620.3 1443.0h0M1617.2 1448.2h0M1621.4 1449.9h0M1620.1 1443.3h0M1623.7 1454.5h0M1623.8 1452.3h0M1626.0 1459.0h0M1630.4 1462.6h0M1628.3 1463.6h0M1631.5 1465.0h0M1630.5 1468.2h0M1634.4 1468.0h0M1630.5 1475.0h0M1628.5 1478.0h0M1630.5 1481.9h0M1629.3 1486.4h0M1632.8 1486.5h0M1633.9 1485.1h0M1635.1 1491.0h0M1630.7 1489.2h0M1633.5 1488.6h0M1637.4 1495.6h0M1634.9 1499.6h0M1637.4 1499.2h0M1639.7 1500.2h0M1643.6 1496.4h0M1637.6 1502.7h0M1632.8 1502.4h0M1634.5 1503.1h0M1626.0 1504.7h0M1622.3 1501.6h0M1623.1 1505.4h0M1621.4 1507.0h0M1623.1 1503.5h0M1616.8 1509.3h0M1620.9 1510.2h0M1623.7 1511.6h0M1626.8 1508.8h0M1627.9 1515.0h0M1630.5 1513.9h0M1626.5 1511.1h0M1635.0 1520.6h0M1635.1 1518.4h0M1631.6 1518.4h0M1639.7 1523.0h0M1640.4 1517.2h0M1643.1 1528.7h0M1648.0 1523.0h0M1646.5 1534.4h0M1649.7 1537.6h0M1650.9 1529.4h0M1643.1 1540.1h0M1643.6 1541.3h0M1639.7 1545.9h0M1641.4 1552.1h0M1637.9 1552.1h0M1642.0 1552.7h0M1644.8 1555.9h0M1644.3 1559.6h0M1648.0 1559.7h0M1645.4 1566.4h0M1643.2 1561.8h0M1640.7 1573.0h0M1646.5 1573.3h0M1644.4 1571.3h0M1616.8 1479.6h0M1621.3 1485.7h0M1615.6 1485.5h0M1614.6 1536.7h0M1616.6 1533.3h0M1618.7 1531.1h0M1614.6 1543.6h0M1617.0 1539.1h0M1616.2 1546.4h0M1614.6 1550.4h0M1619.3 1545.5h0M1613.4 1557.3h0M1611.8 1557.8h0M1616.6 1562.5h0M1612.3 1564.1h0M1610.0 1564.2h0M1612.3 1572.1h0M1612.7 1575.7h0M1612.3 1580.1h0M1609.4 1582.3h0M1611.1 1585.8h0M1611.2 1592.5h0M1609.4 1591.2h0M1610.0 1591.5h0M1605.0 1586.6h0M1607.7 1609.8h0M1609.5 1615.1h0M1605.4 1625.8h0M1604.8 1631.9h0M1601.5 1626.8h0M1605.4 1632.7h0M1603.4 1638.0h0M1605.4 1639.5h0M1602.8 1642.4h0M1603.1 1641.8h0M1598.8 1638.4h0M1600.8 1644.1h0M1597.6 1647.9h0M1600.0 1639.5h0M1389.0 1641.7h0M1385.0 1637.8h0M1396.0 1644.6h0M1395.0 1638.7h0M1403.0 1647.5h0M1402.6 1647.1h0M1405.3 1650.2h0M1462.7 1652.2h0M1467.4 1650.5h0M1460.3 1646.2h0M1497.7 1658.1h0M1499.0 1661.4h0M1405.4 1667.4h0M1407.9 1673.5h0M1367.9 1673.3h0M1372.8 1677.2h0M1372.6 1679.7h0M1371.8 1682.6h0M1369.7 1685.1h0M1377.3 1686.1h0M1378.5 1682.5h0M1359.7 1710.7h0M1363.3 1713.2h0M1295.4 1743.5h0M1300.2 1743.7h0M1298.8 1747.0h0M1276.7 1749.3h0M1274.6 1742.8h0M1288.4 1764.5h0M1289.9 1761.9h0M1317.6 1762.2h0M1317.6 1768.2h0M1314.4 1768.3h0M1412.4 1739.9h0M1415.9 1736.7h0M1414.2 1741.5h0M1446.3 1751.6h0M1451.1 1754.0h0M1424.1 1796.1h0M1422.4 1792.1h0M1424.1 1820.6h0M1420.8 1817.0h0M1466.2 1777.4h0M1462.2 1772.1h0M1493.1 1773.9h0M1493.0 1768.8h0M1505.9 1692.0h0M1508.6 1691.8h0M1516.5 1714.2h0M1513.4 1718.1h0M1513.1 1720.9h0M1522.3 1686.1h0M1519.8 1683.0h0M1508.3 1732.9h0M1512.0 1739.7h0M1573.8 1896.7h0M1574.0 1894.1h0M1470.8 1853.4h0M1472.7 1857.1h0M1473.2 1851.1h0M1475.5 1885.0h0M1477.7 1883.7h0M1535.2 1899.0h0M1540.1 1901.1h0M1536.4 1893.0h0M1531.7 1929.4h0M1532.1 1928.0h0M1564.4 2000.8h0M1568.5 2006.7h0M1570.3 1808.9h0M1566.4 1807.0h0M1572.5 1803.9h0M1579.6 1786.7h0M1577.3 1787.1h0M1584.0 1788.8h0M1572.6 1849.9h0M1573.0 1851.6h0M1358.6 1853.4h0M1358.1 1855.2h0M1286.1 1922.4h0M1284.6 1920.7h0M1305.9 1958.7h0M1303.1 1960.1h0M1309.6 1957.7h0M1321.1 1983.2h0M1322.8 1982.7h0M1328.2 1982.0h0M1324.7 1977.2h0M1335.2 1980.9h0M1336.8 1974.1h0M1604.2 1634.7h0M1607.8 1639.9h0M1604.2 1639.4h0M1603.7 1633.8h0M1604.2 1644.0h0M1608.9 1638.5h0M1604.2 1649.9h0M1602.3 1647.5h0M1607.8 1647.6h0M1604.2 1655.7h0M1606.7 1655.8h0M1607.3 1658.0h0M1604.2 1660.4h0M1604.1 1660.4h0M1604.2 1665.1h0M1601.0 1663.5h0M1608.9 1707.2h0M1613.7 1711.5h0M1611.2 1710.7h0M1614.5 1716.1h0M1613.5 1714.2h0M1613.4 1714.6h0M1643.9 1725.9h0M1642.7 1729.7h0M1639.4 1731.1h0M1627.6 1749.3h0M1628.4 1744.9h0M1630.7 1752.8h0M1628.7 1755.1h0M1628.6 1755.2h0M1629.7 1748.6h0M1629.9 1761.0h0M1631.9 1762.6h0M1627.6 1763.3h0M1628.8 1764.4h0M1625.4 1762.0h0M1625.2 1765.7h0M1623.3 1765.5h0M1636.9 1777.4h0M1638.6 1775.9h0M1641.1 1772.5h0M1537.5 1634.7h0M1542.2 1636.9h0M1539.8 1634.0h0M1536.3 1651.1h0M1531.8 1654.8h0M1541.1 1650.7h0M1536.9 1658.1h0M1535.3 1661.6h0M1537.5 1665.1h0M1536.3 1669.0h0M1537.6 1665.3h0M1536.9 1670.9h0M1535.0 1667.6h0M1536.2 1666.4h0M1536.3 1676.8h0M1539.5 1681.0h0M1536.3 1683.8h0M1537.8 1681.6h0M1536.3 1690.8h0M1540.5 1694.8h0M1540.0 1692.7h0M1536.3 1696.7h0M1541.2 1697.7h0M1536.3 1702.5h0M1533.4 1708.4h0M1533.4 1696.4h0M1535.8 1708.4h0M1531.7 1707.8h0M1535.2 1714.2h0M1533.5 1717.8h0M1533.5 1720.0h0M1534.6 1720.1h0M1538.0 1716.9h0M1534.0 1725.9h0M1531.7 1724.6h0M1531.9 1724.5h0M1532.8 1731.8h0M1533.8 1735.4h0M1531.7 1737.6h0M1530.5 1743.2h0M1530.5 1741.1h0M1527.7 1739.6h0M1529.3 1744.6h0M1526.9 1739.2h0M1533.1 1741.1h0M1852.9 1322.0h0M1857.0 1328.8h0M1856.3 1327.7h0M1851.6 1331.6h0M1859.2 1333.4h0M1859.8 1333.4h0M1863.3 1330.9h0M1862.0 1330.0h0M1859.4 1335.2h0M1864.6 1325.1h0M1864.3 1326.5h0M1864.1 1332.4h0M1867.5 1322.8h0M1868.9 1327.7h0M1873.0 1331.2h0M1871.4 1326.1h0M1873.5 1328.8h0M1870.3 1322.3h0M1876.9 1333.4h0M1873.1 1326.6h0M1880.3 1337.9h0M1880.1 1343.9h0M1878.0 1317.4h0M1879.4 1316.7h0M1884.9 1319.7h0M1882.5 1313.9h0M1891.7 1322.0h0M1891.5 1323.9h0M1896.3 1319.7h0M1894.1 1314.2h0M1891.4 1316.3h0M1900.9 1317.4h0M1897.9 1318.3h0M1901.2 1314.4h0M1905.5 1322.0h0M1909.8 1328.7h0M1903.9 1323.5h0M1910.0 1326.5h0M1911.5 1322.3h0M1910.3 1332.7h0M1912.3 1332.2h0M1910.2 1337.4h0M1914.6 1337.9h0M1916.5 1334.4h0M1918.3 1332.9h0M1913.4 1342.5h0M1914.9 1336.1h0M1915.9 1340.1h0M1912.3 1347.1h0M1910.1 1349.1h0M1884.9 1350.5h0M1888.0 1347.5h0M1850.6 1353.9h0M1854.8 1350.8h0M1854.1 1351.7h0M1905.5 1312.8h0M1903.2 1316.8h0M1902.1 1315.4h0M1962.6 1317.4h0M1963.0 1322.3h0M1962.0 1323.1h0M1963.8 1324.4h0M1959.6 1316.3h0M1961.4 1328.8h0M1962.4 1335.8h0M1960.3 1334.5h0M1959.3 1336.3h0M1959.1 1340.2h0M1956.1 1347.0h0M1976.3 1306.0h0M1976.1 1306.6h0M1972.6 1302.5h0M1996.8 1303.7h0M1994.9 1297.1h0M1999.3 1309.0h0M2008.3 1323.1h0M2003.4 1324.6h0M2007.9 1317.7h0M1988.8 1351.7h0M1989.9 1355.9h0M1988.3 1357.4h0M1987.5 1359.3h0M1987.5 1361.9h0M1987.7 1363.1h0M1990.5 1361.2h0M1958.0 1360.8h0M1958.4 1355.7h0M1959.1 1364.2h0M2015.1 1364.2h0M2017.7 1366.0h0M2017.3 1359.3h0M1916.9 1360.8h0M1914.0 1359.9h0M1922.6 1363.1h0M1924.7 1361.6h0M1928.3 1365.4h0M1924.5 1360.2h0M1929.4 1369.9h0M1928.1 1373.7h0M1930.6 1374.5h0M1926.4 1374.2h0M1929.7 1376.9h0M1927.2 1376.8h0M1931.2 1369.9h0M1923.7 1379.1h0M1925.3 1372.9h0M1921.4 1395.1h0M1923.6 1394.1h0M1921.4 1400.8h0M1919.1 1400.5h0M1921.4 1406.5h0M1916.9 1402.3h0M1924.1 1404.1h0M1958.0 1401.9h0M1962.0 1397.1h0M1958.0 1422.5h0M1957.4 1424.4h0M1954.6 1439.6h0M1957.4 1444.2h0M2022.0 1392.8h0M2025.2 1399.4h0M2026.4 1397.0h0M2026.5 1417.9h0M2027.2 1424.1h0M1847.2 1423.6h0M1843.2 1421.8h0M1848.3 1449.9h0M1852.6 1443.0h0M1848.3 1452.8h0M1741.0 1351.7h0M1745.1 1349.5h0M1738.7 1358.5h0M1736.0 1363.6h0M1739.9 1361.8h0M1736.4 1365.4h0M1735.6 1358.5h0M1739.8 1367.6h0M1744.4 1363.6h0M1743.2 1369.9h0M1744.6 1363.6h0M1747.8 1368.8h0M1749.5 1373.3h0M1752.4 1367.6h0M1747.4 1368.0h0M1750.1 1373.4h0M1750.4 1375.5h0M1747.8 1379.1h0M1751.1 1377.2h0M1743.8 1384.2h0M1743.2 1383.6h0M1747.1 1381.2h0M1740.2 1390.2h0M1738.7 1388.2h0M1738.2 1390.1h0M1743.1 1389.0h0M1759.2 1399.6h0M1756.8 1396.8h0M1758.1 1403.1h0M1757.9 1397.1h0M1761.3 1408.7h0M1756.9 1406.5h0M1758.5 1413.0h0M1759.9 1406.3h0M1722.7 1401.9h0M1721.7 1398.5h0M1718.4 1396.5h0M1723.8 1407.6h0M1726.0 1401.2h0M1725.0 1413.3h0M1720.7 1416.2h0M1726.8 1409.1h0M1727.2 1417.9h0M1727.0 1423.2h0M1729.5 1422.5h0M1733.0 1425.6h0M1728.4 1427.1h0M1729.5 1429.5h0M1727.2 1431.6h0M1727.3 1434.9h0M1730.6 1426.5h0M1726.1 1437.3h0M1724.0 1432.8h0M1725.0 1443.0h0M1723.0 1447.7h0M1725.1 1436.5h0M1722.7 1445.3h0M1722.5 1449.1h0M1720.4 1447.6h0M1717.7 1450.3h0M1672.4 1440.8h0M1668.2 1443.5h0M1673.6 1447.6h0M1677.1 1449.3h0M1674.7 1454.5h0M1673.2 1457.1h0M1678.1 1459.0h0M1680.3 1452.1h0M1678.8 1459.6h0M1681.6 1463.6h0M1680.7 1459.8h0M1684.3 1462.3h0M1686.1 1459.0h0M1682.2 1461.1h0M1690.7 1454.5h0M1694.3 1459.1h0M1686.4 1450.6h0M1699.8 1436.2h0M1703.7 1438.6h0M1695.1 1437.5h0M1701.0 1443.0h0M1696.2 1439.1h0M1702.1 1449.9h0M1698.5 1444.3h0M1703.3 1444.9h0M1701.0 1456.8h0M1700.5 1451.7h0M1699.8 1463.6h0M1703.8 1469.2h0M1702.1 1467.0h0M1702.9 1462.0h0M1704.4 1470.5h0M1707.3 1471.4h0M1708.6 1475.8h0M1707.8 1472.7h0M1711.2 1472.9h0M1711.3 1475.0h0M1711.2 1476.4h0M1714.7 1479.6h0M1717.7 1480.7h0M1718.1 1484.2h0M1714.5 1489.6h0M1713.2 1486.0h0M1686.1 1477.3h0M1684.6 1473.4h0M1683.8 1483.0h0M1688.5 1483.2h0M1681.6 1488.7h0M1680.8 1485.0h0M1682.7 1493.3h0M1685.0 1493.9h0M1683.8 1497.9h0M1688.7 1492.8h0M1663.3 1463.6h0M1665.3 1464.4h0M1659.1 1461.8h0M1662.1 1469.3h0M1666.7 1464.0h0M1666.0 1475.5h0M1661.0 1475.0h0M1661.5 1476.1h0M1665.4 1471.8h0M1663.3 1481.9h0M1662.8 1487.5h0M1665.6 1488.7h0M1662.4 1490.2h0M1666.7 1495.6h0M1663.1 1495.4h0M1667.8 1502.4h0M1665.5 1501.7h0M1663.8 1499.3h0M1669.0 1508.2h0M1664.3 1513.8h0M1673.6 1510.6h0M1670.1 1513.9h0M1666.9 1513.8h0M1664.4 1518.4h0M1661.8 1512.5h0M1667.5 1523.7h0M1658.7 1523.0h0M1654.7 1517.7h0M1663.0 1519.8h0M1656.4 1527.6h0M1660.2 1520.7h0M1654.1 1532.1h0M1654.3 1527.5h0M1651.9 1539.0h0M1655.4 1534.1h0M1649.6 1545.9h0M1650.3 1549.0h0M1652.7 1552.4h0M1648.4 1552.7h0M1648.6 1552.7h0M1647.3 1559.6h0M1646.3 1564.0h0M1648.4 1566.4h0M1650.9 1561.3h0M1646.2 1566.3h0M1649.6 1573.3h0M1654.1 1577.7h0M1649.6 1511.6h0M1651.3 1506.9h0M1645.0 1488.7h0M1648.8 1490.5h0M1768.4 1429.3h0M1766.9 1428.4h0M1768.4 1436.2h0M1769.1 1442.3h0M1767.3 1436.6h0M1768.4 1443.0h0M1765.4 1444.6h0M1770.7 1448.8h0M1773.6 1451.7h0M1772.9 1454.5h0M1770.8 1447.7h0M1775.0 1456.8h0M1774.1 1460.2h0M1777.4 1465.8h0M1775.2 1465.9h0M1778.7 1466.1h0M1779.5 1459.7h0M1777.5 1471.6h0M1779.2 1466.9h0M1779.2 1466.5h0M1779.8 1477.3h0M1780.2 1470.7h0M1780.9 1483.0h0M1780.9 1486.0h0M1778.8 1485.9h0M1782.1 1488.7h0M1785.9 1487.3h0M1783.2 1494.4h0M1780.4 1498.9h0M1783.1 1495.4h0M1784.4 1500.2h0M1787.6 1493.9h0M1789.3 1503.7h0M1791.2 1468.2h0M1793.2 1464.5h0M1789.0 1469.4h0M1793.5 1462.5h0M1796.5 1464.7h0M1795.8 1456.8h0M1792.5 1450.0h0M1798.0 1458.7h0M1800.4 1472.7h0M1800.8 1474.4h0M1801.5 1477.3h0M1798.7 1476.3h0M1802.6 1481.9h0M1801.8 1482.5h0M1711.3 1503.6h0M1710.1 1502.3h0M1713.8 1507.3h0M1686.1 1509.3h0M1688.2 1508.9h0M1734.1 1511.6h0M1734.1 1510.8h0M1709.0 1541.3h0M1712.6 1537.8h0M1704.8 1534.7h0M1784.4 1529.9h0M1779.8 1533.3h0M1780.9 1526.6h0M1782.1 1545.9h0M1785.8 1549.5h0M1834.6 1479.6h0M1836.8 1477.1h0M1839.2 1483.0h0M1838.4 1485.4h0M1843.8 1486.5h0M1843.0 1482.4h0M1839.2 1509.3h0M1840.7 1513.4h0M1840.3 1515.0h0M1838.7 1515.7h0M1841.5 1520.7h0M1840.1 1514.3h0M1840.3 1526.4h0M1838.6 1532.5h0M1839.2 1532.1h0M1843.4 1526.0h0M1830.1 1577.8h0M1832.7 1572.6h0M1827.8 1609.8h0M1831.4 1614.1h0M1827.8 1635.0h0M1831.3 1630.1h0M1935.2 1461.3h0M1934.4 1464.0h0M1932.9 1486.5h0M1935.2 1493.4h0M1955.7 1477.3h0M1959.3 1479.3h0M1951.1 1495.6h0M1947.3 1498.8h0M1950.0 1502.4h0M1947.9 1504.3h0M1948.9 1509.3h0M1944.7 1507.4h0M1980.8 1497.9h0M1977.3 1497.4h0M1983.1 1516.2h0M1984.7 1512.5h0M1942.0 1548.1h0M1944.1 1549.7h0M1940.9 1552.7h0M1942.2 1556.2h0M1939.7 1557.3h0M1941.5 1560.9h0M1939.0 1552.1h0M1933.4 1560.1h0M1934.9 1561.1h0M1927.2 1563.0h0M1928.7 1559.0h0M1930.9 1557.4h0M2012.8 1568.7h0M2007.9 1573.9h0M2017.4 1571.0h0M2013.4 1566.7h0M2020.1 1574.6h0M2022.0 1573.3h0M2020.9 1569.5h0M2024.4 1574.9h0M2020.3 1580.7h0M2022.2 1581.8h0M2018.5 1588.1h0M2015.8 1582.4h0M2028.8 1543.6h0M2030.6 1540.0h0M2032.3 1540.6h0M1674.7 1588.1h0M1678.5 1584.2h0M1671.3 1591.2h0M1693.0 1585.8h0M1693.2 1583.9h0M1730.7 1597.3h0M1726.1 1599.1h0M1671.3 1632.7h0M1670.4 1630.9h0M1669.8 1629.3h0M1741.0 1644.1h0M1741.7 1649.4h0M1670.7 1633.5h0M1670.3 1634.5h0M1740.9 1648.7h0M1737.2 1641.8h0M1743.2 1686.1h0M1742.9 1687.3h0M1750.3 1710.7h0M1747.4 1716.5h0M1828.6 1632.3h0M1826.1 1630.7h0M1829.8 1653.4h0M1830.6 1654.6h0M1829.8 1687.3h0M1826.7 1682.4h0M1825.1 1716.5h0M1824.2 1713.0h0M1825.1 1722.4h0M1822.3 1728.3h0M1824.1 1717.2h0M1825.1 1728.2h0M1821.8 1734.3h0M1822.7 1726.3h0M1825.1 1732.9h0M1820.2 1734.3h0M1823.3 1737.8h0M1825.1 1737.6h0M1823.3 1733.5h0M1824.7 1743.6h0M1759.6 1751.6h0M1759.5 1756.0h0M1797.0 1761.0h0M1800.8 1762.2h0M1795.3 1764.2h0M1799.4 1765.7h0M1798.7 1766.5h0M1801.7 1770.4h0M1799.9 1766.6h0M1801.7 1775.0h0M1802.9 1771.2h0M1801.7 1779.7h0M1800.7 1776.8h0M1796.7 1773.2h0M1712.8 1783.2h0M1717.1 1784.2h0M1717.0 1783.4h0M1717.5 1786.7h0M1716.5 1790.0h0M1722.2 1790.2h0M1717.9 1788.2h0M1683.6 1796.1h0M1683.6 1789.8h0M1766.6 1798.4h0M1768.8 1797.4h0M1769.6 1795.1h0M1769.0 1803.1h0M1764.4 1806.9h0M1771.3 1807.8h0M1776.2 1808.9h0M1647.3 1725.9h0M1643.9 1731.4h0M1652.0 1811.3h0M1651.2 1817.6h0M1648.1 1816.2h0M1655.5 1814.2h0M1651.8 1816.6h0M1659.0 1817.1h0M1663.6 1822.9h0M1724.5 1827.7h0M1729.4 1822.7h0M1727.6 1826.6h0M1785.4 1831.2h0M1784.9 1824.8h0M1781.8 1838.2h0M1780.1 1841.1h0M1778.3 1845.2h0M1776.8 1848.0h0M1808.7 1824.2h0M1812.1 1831.0h0M1805.9 1828.6h0M1812.3 1827.7h0M1811.1 1822.3h0M1815.8 1831.2h0M1817.7 1828.4h0M1814.6 1835.8h0M1815.5 1831.3h0M1813.4 1839.2h0M1813.4 1840.5h0M1813.6 1836.4h0M1814.9 1839.7h0M1815.8 1845.2h0M1813.4 1847.5h0M1818.1 1849.9h0M1819.1 1843.4h0M1820.0 1854.8h0M1834.5 1859.2h0M1834.3 1865.2h0M1873.1 1859.2h0M1877.1 1861.3h0M1882.4 1811.3h0M1887.1 1809.5h0M1889.4 1736.4h0M1893.4 1733.3h0M1876.6 1762.2h0M1876.6 1767.1h0M1872.2 1765.1h0M1895.3 1756.3h0M1898.5 1749.7h0M1917.5 1701.3h0M1915.5 1703.5h0M1945.6 1692.0h0M1950.5 1698.0h0M1944.4 1691.3h0M1962.0 1710.7h0M1964.4 1710.6h0M1942.1 1717.7h0M1939.8 1719.6h0M1945.8 1713.3h0M1946.8 1721.8h0M1945.7 1726.8h0M1951.4 1725.9h0M1946.8 1729.2h0M1947.5 1730.6h0M2008.7 1679.1h0M2010.6 1685.1h0M1993.5 1786.7h0M1997.9 1792.9h0M1956.1 1807.8h0M1951.9 1801.3h0M1958.1 1814.6h0M1960.8 1811.3h0M1957.4 1818.1h0M1965.5 1814.8h0M1961.7 1811.2h0M2002.9 1821.8h0M2005.5 1827.2h0M2000.1 1827.8h0M2001.1 1829.4h0M2003.6 1831.9h0M1999.2 1835.0h0M1999.4 1837.0h0M2003.1 1834.6h0M1997.4 1832.0h0M1753.8 1875.6h0M1754.4 1874.3h0M1664.9 1861.6h0M1669.6 1856.9h0M1820.4 1887.3h0M1816.1 1892.6h0M1908.2 1896.7h0M1907.3 1893.2h0M1906.2 1901.7h0M1971.3 1903.7h0M1968.7 1908.5h0M1971.3 1907.0h0M1841.5 1925.9h0M1837.3 1929.0h0M1857.9 1944.6h0M1859.5 1947.8h0M1859.2 1945.6h0M1799.4 1972.7h0M1803.3 1970.3h0M1848.5 1991.4h0M1850.7 1990.8h0M1852.0 1995.5h0M1856.9 1994.9h0M1855.5 1999.6h0M1854.6 2003.0h0M2035.3 1351.7h0M2038.4 1347.3h0M2039.1 1345.5h0M2044.4 1369.9h0M2039.5 1369.9h0M2044.4 1376.8h0M2049.0 1382.6h0M2044.4 1383.6h0M2045.3 1389.1h0M2025.0 1392.8h0M2024.5 1386.7h0M2028.4 1417.9h0M2028.1 1414.2h0M2100.4 1408.8h0M2099.0 1409.9h0M2103.5 1407.7h0M2094.7 1424.8h0M2089.7 1423.8h0M2095.3 1429.3h0M2092.8 1423.6h0M2099.3 1426.1h0M2095.8 1433.9h0M2092.8 1431.1h0M2094.7 1440.8h0M2092.8 1436.7h0M2093.5 1447.6h0M2097.8 1449.2h0M2096.0 1443.1h0M2093.5 1453.3h0M2090.6 1457.1h0M2093.5 1459.0h0M2093.8 1452.5h0M2091.1 1457.2h0M2091.3 1475.0h0M2094.2 1476.8h0M2105.0 1363.1h0M2106.7 1363.1h0M2109.5 1359.7h0M2112.0 1358.3h0M2114.1 1356.2h0M2116.6 1358.2h0M2114.5 1349.6h0M2116.4 1361.9h0M2117.4 1367.9h0M2118.7 1367.6h0M2121.4 1365.0h0M2119.4 1364.0h0M2122.1 1372.2h0M2119.9 1373.7h0M2125.5 1376.8h0M2127.0 1374.4h0M2126.7 1383.6h0M2122.3 1384.4h0M2127.8 1390.5h0M2124.9 1393.0h0M2125.5 1388.0h0M2126.7 1397.4h0M2124.0 1396.3h0M2125.5 1404.2h0M2122.6 1401.6h0M2124.4 1409.9h0M2127.3 1407.2h0M2123.2 1415.6h0M2125.2 1418.0h0M2123.2 1421.3h0M2119.3 1417.2h0M2123.2 1427.1h0M2122.8 1421.1h0M2123.2 1432.8h0M2118.6 1427.1h0M2123.2 1438.5h0M2123.2 1432.5h0M2130.1 1408.8h0M2127.1 1410.5h0M2133.5 1414.5h0M2133.0 1420.7h0M2131.4 1408.3h0M2136.9 1420.2h0M2138.3 1417.2h0M2132.4 1418.5h0M2140.4 1425.9h0M2137.5 1420.5h0M2143.8 1431.6h0M2145.9 1430.0h0M2140.7 1427.7h0M2146.1 1424.8h0M2143.5 1426.3h0M2150.4 1424.8h0M2148.4 1417.9h0M2150.8 1419.1h0M2145.0 1412.1h0M2139.2 1445.3h0M2144.0 1452.3h0M2140.2 1440.2h0M2141.5 1449.9h0M2140.2 1451.5h0M2143.8 1454.5h0M2146.7 1449.5h0M2145.6 1457.2h0M2147.2 1448.8h0M2147.6 1447.3h0M2150.7 1443.0h0M2154.4 1441.9h0M2151.3 1437.2h0M2154.1 1448.8h0M2152.1 1453.2h0M2157.5 1454.5h0M2152.8 1459.4h0M2159.8 1460.2h0M2159.1 1457.1h0M2159.8 1458.5h0M2162.1 1465.9h0M2163.6 1472.8h0M2163.2 1471.6h0M2164.4 1474.8h0M2164.4 1477.3h0M2166.7 1470.9h0M2166.6 1484.2h0M2165.3 1483.9h0M2168.9 1491.0h0M2168.4 1496.9h0M2173.5 1486.0h0M2152.9 1479.6h0M2157.7 1474.3h0M2149.5 1478.6h0M2162.1 1427.1h0M2160.8 1423.8h0M2164.4 1433.9h0M2160.6 1428.9h0M2166.1 1433.6h0M2166.6 1440.8h0M2169.6 1435.7h0M2170.1 1438.5h0M2171.4 1445.2h0M2166.7 1438.2h0M2173.5 1436.2h0M2175.0 1439.8h0M2176.2 1440.4h0M2180.4 1344.8h0M2178.1 1339.1h0M2179.7 1340.0h0M2180.4 1350.5h0M2176.9 1344.2h0M2180.4 1356.2h0M2182.0 1361.4h0M2180.3 1361.3h0M2181.5 1363.1h0M2183.7 1366.3h0M2182.6 1369.9h0M2178.4 1373.6h0M2189.5 1431.6h0M2190.4 1428.2h0M2191.8 1438.5h0M2192.3 1433.6h0M2194.1 1445.3h0M2194.5 1448.9h0M2192.9 1449.9h0M2192.8 1453.5h0M2191.8 1454.5h0M2194.3 1449.3h0M2188.4 1457.9h0M2195.2 1460.2h0M2190.9 1466.7h0M2198.6 1465.9h0M2202.7 1466.5h0M2197.7 1465.4h0M2199.8 1471.6h0M2195.6 1477.6h0M2200.9 1477.3h0M2199.5 1476.9h0M2201.5 1470.7h0M2184.9 1459.0h0M2187.0 1455.9h0M2189.1 1463.1h0M2203.2 1440.8h0M2200.6 1441.0h0M2202.0 1443.3h0M2205.5 1385.9h0M2204.0 1387.8h0M2207.8 1391.6h0M2205.0 1394.6h0M2210.1 1397.4h0M2212.4 1398.8h0M2216.9 1381.4h0M2219.9 1376.9h0M2221.5 1363.1h0M2217.0 1364.2h0M2220.7 1358.6h0M2223.8 1358.5h0M2227.2 1360.3h0M2226.1 1353.9h0M2222.8 1352.7h0M2237.5 1340.2h0M2237.2 1345.0h0M2239.8 1334.5h0M2239.1 1340.4h0M2242.0 1328.8h0M2239.9 1326.6h0M2244.3 1344.8h0M2245.4 1342.7h0M2241.2 1349.6h0M2248.9 1379.1h0M2246.6 1372.2h0M2203.2 1417.9h0M2208.0 1424.0h0M2303.7 1317.4h0M2304.1 1322.1h0M2302.6 1344.8h0M2299.2 1351.4h0M2312.9 1301.4h0M2316.9 1308.1h0M2335.7 1306.0h0M2340.4 1304.3h0M2343.7 1333.4h0M2339.7 1335.0h0M2296.9 1404.2h0M2301.2 1409.7h0M2299.2 1407.6h0M2300.8 1403.5h0M2299.6 1408.5h0M2301.4 1411.1h0M2300.6 1415.7h0M2300.0 1405.3h0M2294.6 1431.6h0M2293.0 1435.8h0M2293.4 1437.3h0M2289.9 1432.6h0M2292.3 1443.0h0M2290.9 1449.5h0M2290.0 1447.6h0M2285.2 1442.9h0M2287.7 1452.2h0M2288.9 1448.8h0M2248.9 1429.3h0M2245.3 1427.1h0M2245.5 1430.3h0M2252.3 1452.2h0M2248.7 1448.6h0M2254.1 1449.3h0M2252.3 1484.2h0M2247.8 1485.0h0M2248.1 1489.8h0M2252.3 1492.2h0M2252.0 1488.1h0M2253.3 1495.8h0M2252.3 1500.2h0M2250.1 1498.2h0M2252.3 1508.2h0M2254.3 1503.7h0M2252.3 1516.2h0M2250.2 1518.1h0M2252.0 1522.5h0M2252.3 1536.7h0M2251.8 1533.5h0M2255.8 1552.7h0M2257.6 1550.0h0M2252.0 1555.8h0M2255.8 1559.6h0M2250.9 1565.8h0M2258.9 1566.5h0M2255.8 1566.4h0M2254.2 1571.0h0M2283.2 1472.7h0M2282.1 1473.5h0M2284.3 1478.5h0M2285.8 1479.5h0M2280.6 1471.9h0M2285.5 1484.2h0M2285.3 1485.4h0M2284.3 1489.9h0M2286.1 1491.9h0M2284.0 1489.7h0M2283.2 1495.6h0M2285.3 1491.8h0M2282.0 1500.2h0M2285.4 1504.4h0M2280.9 1504.7h0M2278.9 1499.9h0M2280.6 1501.8h0M2278.6 1509.3h0M2279.0 1510.0h0M2276.3 1513.9h0M2275.3 1510.4h0M2274.0 1518.4h0M2273.6 1519.7h0M2271.7 1523.0h0M2266.9 1528.4h0M2272.5 1517.3h0M2270.6 1527.6h0M2272.0 1532.6h0M2266.7 1533.6h0M2269.5 1532.1h0M2269.2 1526.0h0M2269.5 1536.7h0M2272.9 1541.6h0M2265.9 1536.6h0M2269.5 1541.3h0M2268.2 1541.8h0M2267.2 1559.6h0M2266.9 1553.3h0M2271.1 1558.8h0M2379.1 1358.5h0M2376.5 1362.5h0M2383.3 1364.6h0M2380.3 1365.4h0M2375.8 1367.9h0M2381.4 1372.2h0M2382.0 1368.7h0M2381.4 1376.8h0M2383.7 1376.5h0M2382.7 1379.7h0M2381.4 1381.4h0M2382.2 1387.5h0M2380.7 1382.1h0M2389.4 1381.4h0M2390.2 1386.7h0M2387.7 1380.6h0M2397.4 1381.4h0M2401.0 1376.3h0M2395.2 1381.8h0M2399.7 1335.7h0M2396.2 1333.5h0M2397.6 1337.9h0M2399.7 1340.2h0M2396.6 1333.6h0M2399.7 1344.8h0M2395.5 1344.7h0M2397.4 1525.3h0M2395.5 1528.3h0M2398.5 1531.4h0M2340.3 1516.2h0M2340.6 1513.0h0M2350.6 1537.9h0M2352.9 1531.8h0M2070.7 1504.7h0M2075.0 1504.1h0M2086.7 1509.3h0M2081.8 1502.5h0M2081.0 1512.7h0M2082.5 1507.5h0M2085.7 1518.6h0M2075.3 1516.2h0M2072.8 1523.0h0M2076.4 1521.9h0M2076.3 1528.1h0M2074.7 1519.8h0M2077.5 1527.6h0M2079.7 1524.7h0M2081.0 1528.7h0M2076.8 1524.8h0M2080.4 1531.8h0M2084.4 1529.9h0M2083.2 1536.7h0M2079.5 1535.5h0M2098.1 1543.6h0M2100.2 1539.5h0M2031.9 1543.6h0M2030.8 1538.8h0M2125.5 1531.0h0M2123.9 1525.9h0M2148.4 1505.9h0M2148.6 1500.4h0M2109.5 1559.6h0M2114.1 1554.0h0M2107.5 1560.1h0M2036.4 1573.3h0M2040.9 1575.3h0M2066.1 1561.8h0M2062.9 1560.4h0M2061.9 1568.7h0M2082.1 1568.7h0M2085.6 1562.0h0M2081.0 1575.6h0M2077.6 1571.4h0M2079.8 1582.4h0M2078.3 1584.9h0M2081.0 1589.3h0M2078.6 1593.8h0M2085.3 1588.6h0M2082.1 1596.1h0M2077.1 1589.1h0M2063.8 1589.3h0M2059.7 1595.3h0M2066.1 1619.0h0M2069.2 1625.0h0M2134.7 1582.4h0M2133.0 1575.9h0M2116.4 1609.8h0M2111.5 1616.2h0M2191.8 1625.8h0M2190.8 1621.8h0M2194.7 1632.2h0M2223.8 1600.7h0M2225.1 1600.4h0M2260.3 1582.4h0M2260.6 1587.8h0M2261.5 1588.1h0M2265.0 1592.6h0M2262.6 1593.8h0M2259.0 1593.4h0M2263.7 1598.4h0M2263.3 1598.0h0M2267.8 1600.0h0M2264.9 1603.0h0M2264.4 1608.7h0M2266.0 1608.7h0M2269.5 1608.5h0M2265.9 1605.3h0M2267.2 1614.4h0M2263.0 1619.5h0M2263.7 1612.1h0M2268.4 1615.7h0M2260.3 1609.8h0M2256.8 1616.3h0M2262.5 1608.2h0M2256.9 1611.0h0M2254.7 1607.2h0M2253.5 1612.1h0M2254.3 1617.9h0M2251.9 1607.4h0M2264.9 1632.7h0M2268.6 1630.8h0M2312.9 1609.8h0M2310.1 1608.6h0M2318.6 1625.8h0M2318.7 1631.6h0M2237.5 1644.1h0M2241.8 1646.5h0M2242.3 1650.3h0M2395.1 1577.8h0M2391.2 1584.6h0M2395.1 1584.7h0M2392.7 1578.7h0M2395.1 1591.5h0M2397.9 1588.4h0M2395.1 1619.0h0M2392.4 1617.5h0M2393.4 1625.9h0M2396.3 1625.8h0M2393.0 1624.6h0M2400.5 1621.5h0M2397.4 1632.7h0M2394.7 1634.0h0M2394.7 1635.3h0M2145.5 1652.2h0M2142.3 1650.4h0M2173.5 1667.4h0M2171.0 1662.5h0M2195.8 1667.4h0M2199.7 1666.1h0M2201.6 1667.4h0M2205.4 1661.5h0M2202.5 1664.5h0M2207.5 1667.4h0M2208.0 1665.7h0M2236.7 1648.7h0M2236.5 1654.8h0M2265.9 1633.5h0M2267.0 1636.8h0M2263.8 1633.0h0M2277.6 1682.6h0M2275.7 1677.9h0M2280.4 1677.6h0M2331.4 1680.3h0M2329.0 1680.5h0M2156.0 1682.6h0M2154.0 1687.0h0M2154.4 1686.3h0M2161.8 1687.9h0M2166.5 1685.8h0M2167.7 1693.2h0M2172.0 1689.7h0M2041.4 1692.0h0M2037.4 1693.4h0M2045.6 1693.9h0M2062.4 1665.1h0M2064.5 1671.0h0M2065.5 1666.7h0M2062.4 1672.1h0M2066.6 1674.9h0M2057.9 1677.6h0M2062.4 1679.1h0M2063.0 1676.1h0M2164.2 1723.6h0M2163.0 1725.3h0M2160.7 1722.4h0M2139.6 1732.9h0M2136.1 1731.4h0M2134.9 1731.1h0M2214.5 1704.9h0M2210.3 1699.5h0M2215.6 1708.4h0M2220.5 1711.2h0M2216.1 1702.8h0M2216.8 1711.9h0M2221.4 1713.1h0M2213.7 1712.0h0M2299.9 1714.2h0M2297.5 1718.0h0M2302.6 1716.8h0M2270.6 1732.9h0M2266.4 1732.6h0M2258.9 1770.4h0M2256.9 1773.9h0M2060.1 1730.6h0M2060.8 1724.2h0M2060.1 1736.4h0M2064.5 1734.4h0M2060.1 1742.3h0M2064.2 1743.3h0M2061.0 1747.2h0M2056.6 1768.0h0M2057.5 1773.4h0M2064.2 1769.2h0M2068.3 1775.4h0M2071.8 1770.4h0M2068.9 1775.1h0M2092.8 1786.7h0M2097.1 1779.8h0M2090.9 1781.4h0M2050.7 1786.7h0M2053.3 1786.3h0M2046.8 1790.1h0M2047.2 1793.2h0M2042.4 1788.2h0M2048.0 1795.7h0M2043.7 1799.6h0M2039.6 1795.4h0M2040.0 1798.8h0M2202.8 1796.1h0M2200.2 1789.7h0M2289.3 1803.1h0M2287.9 1805.9h0M2291.7 1807.8h0M2294.9 1813.8h0M2294.0 1803.5h0M2294.0 1812.5h0M2294.2 1813.7h0M2297.6 1808.8h0M2289.3 1817.1h0M2287.1 1822.5h0M2284.6 1821.8h0M2280.2 1827.5h0M2322.1 1821.8h0M2317.3 1819.5h0M2338.5 1784.4h0M2341.9 1779.2h0M2177.0 1841.7h0M2181.6 1846.6h0M2263.6 1881.5h0M2264.7 1881.3h0M2357.2 1862.7h0M2357.8 1869.7h0M2360.1 1863.0h0M2060.1 1903.7h0M2064.3 1898.9h0M2061.5 1905.6h0M2088.2 1936.4h0M2085.8 1937.1h0M2084.6 1942.3h0M2086.5 1944.3h0M2081.1 1948.1h0M2076.2 1951.7h0M2053.1 1948.1h0M2050.2 1954.8h0M2359.5 1901.3h0M2363.4 1896.1h0M2355.9 1906.9h0M2366.5 1899.0h0M2370.2 1900.9h0M2373.5 1896.7h0M2376.2 1902.3h0M2378.2 1894.3h0M2376.5 1893.4h0M2382.9 1892.0h0M2381.5 1895.6h0M2361.8 1941.1h0M2362.5 1943.9h0M2388.7 1934.1h0M2391.9 1937.3h0M2384.5 1932.9h0M2392.8 1931.8h0M2396.3 1929.6h0M2396.9 1929.4h0M2401.1 1926.3h0M2399.4 1930.5h0M2389.9 1959.8h0M2387.9 1962.6h0M2246.1 1972.7h0M2249.3 1973.2h0M2368.9 2011.3h0M2365.4 2006.8h0M2367.6 2017.5h0M2381.7 1699.0h0M2383.1 1695.7h0M2381.0 1702.5h0M2385.2 1723.6h0M2388.0 1730.1h0M2387.6 1729.4h0M2384.5 1735.7h0M2389.9 1735.3h0M2389.0 1741.2h0M2389.5 1736.4h0M2389.9 1741.1h0M2388.4 1739.1h0M2389.9 1747.0h0M2388.2 1745.2h0M2392.3 1751.6h0M2389.2 1758.4h0M2394.6 1756.3h0M2399.3 1760.1h0M2393.1 1751.6h0M2393.4 1762.2h0M2396.8 1768.5h0M2392.3 1768.0h0M2390.8 1762.3h0M2393.4 1774.4h0M2395.6 1775.5h0M2396.7 1781.2h0M2394.6 1780.9h0M2389.6 1779.6h0M135.9 2041.5h0M149.1 2041.5h0M284.0 2041.5h0M296.4 2041.5h0M310.4 2041.5h0M351.3 2041.5h0M362.9 2041.5h0M373.7 2041.5h0M742.5 2041.5h0M752.7 2041.5h0M763.3 2041.5h0M774.7 2041.5h0M925.8 2041.5h0M938.7 2041.5h0M1297.0 2041.5h0M1862.1 2041.5h0M2229.9 2041.5h0M2240.4 2041.5h0M2345.1 2041.5h0M451.2 1297.0h227.6M717.2 1297.0h0.6M742.2 1297.0h38.6M821.2 1297.0h47.6M888.2 1297.0h15.6M920.2 1297.0h65.6M1002.2 1297.0h226.6M1244.2 1297.0h110.6M1374.2 1297.0h25.6M1454.2 1297.0h-1.4M1465.2 1297.0h1.6M1481.2 1297.0h19.6M1519.2 1297.0h0.6M1539.2 1297.0h63.6M1617.2 1297.0h1.6M1639.2 1297.0h3.6M1656.2 1297.0h2.6M1672.2 1297.0h707.6M2397.2 1297.0h2.6M167.2 2041.5h39.6M228.2 2041.5h37.6M276.2 2041.5h-2.4M429.2 2041.5h70.6M535.2 2041.5h8.6M587.2 2041.5h71.6M1021.2 2041.5h63.6M1129.2 2041.5h63.6M1330.2 2041.5h20.6M1537.2 2041.5h22.6M1692.2 2041.5h12.6M1800.2 2041.5h24.6M1885.2 2041.5h-2.4M1928.2 2041.5h1.6M1990.2 2041.5h1.6M2056.2 2041.5h8.6M2081.2 2041.5h49.6M2307.2 2041.5h5.6M2330.2 2041.5h-2.4" fill="none" stroke="#a30ef0" stroke-width="8.4" stroke-linecap="square"/>
<g fill="#0000ff"><circle cx="166.1" cy="1457.9" r="7.4"/><circle cx="213.0" cy="1456.8" r="7.4"/><circle cx="246.1" cy="1469.3" r="7.4"/><circle cx="226.7" cy="1477.3" r="7.4"/><circle cx="300.9" cy="1469.3" r="7.4"/><circle cx="320.3" cy="1496.7" r="7.4"/><circle cx="231.2" cy="1508.2" r="7.4"/><circle cx="208.4" cy="1543.6" r="7.4"/><circle cx="198.1" cy="1575.6" r="7.4"/><circle cx="137.6" cy="1613.3" r="7.4"/><circle cx="202.7" cy="1630.4" r="7.4"/><circle cx="462.0" cy="1444.2" r="7.4"/><circle cx="498.5" cy="1420.2" r="7.4"/><circle cx="471.1" cy="1472.7" r="7.4"/><circle cx="480.3" cy="1496.7" r="7.4"/><circle cx="447.1" cy="1422.5" r="7.4"/><circle cx="492.8" cy="1569.8" r="7.4"/><circle cx="447.1" cy="1605.3" r="7.4"/><circle cx="456.3" cy="1620.1" r="7.4"/><circle cx="345.5" cy="1573.3" r="7.4"/><circle cx="151.9" cy="1651.1" r="7.4"/><circle cx="156.6" cy="1703.7" r="7.4"/><circle cx="236.1" cy="1716.5" r="7.4"/><circle cx="222.1" cy="1731.8" r="7.4"/><circle cx="251.3" cy="1706.0" r="7.4"/><circle cx="147.2" cy="1770.4" r="7.4"/><circle cx="194.0" cy="1773.9" r="7.4"/><circle cx="306.3" cy="1768.0" r="7.4"/><circle cx="240.8" cy="1792.6" r="7.4"/><circle cx="129.7" cy="1793.7" r="7.4"/><circle cx="311.0" cy="1817.1" r="7.4"/><circle cx="350.7" cy="1824.2" r="7.4"/><circle cx="273.5" cy="1831.2" r="7.4"/><circle cx="382.3" cy="1796.1" r="7.4"/><circle cx="390.5" cy="1739.9" r="7.4"/><circle cx="438.5" cy="1752.8" r="7.4"/><circle cx="466.5" cy="1725.9" r="7.4"/><circle cx="485.2" cy="1715.4" r="7.4"/><circle cx="501.6" cy="1687.3" r="7.4"/><circle cx="506.3" cy="1810.1" r="7.4"/><circle cx="475.9" cy="1833.5" r="7.4"/><circle cx="270.0" cy="1885.0" r="7.4"/><circle cx="259.5" cy="1899.0" r="7.4"/><circle cx="278.2" cy="1908.4" r="7.4"/><circle cx="315.6" cy="1889.6" r="7.4"/><circle cx="385.8" cy="1887.3" r="7.4"/><circle cx="399.9" cy="1904.9" r="7.4"/><circle cx="395.2" cy="1930.6" r="7.4"/><circle cx="143.7" cy="1936.4" r="7.4"/><circle cx="133.2" cy="1973.9" r="7.4"/><circle cx="285.2" cy="1965.7" r="7.4"/><circle cx="202.2" cy="1632.3" r="7.4"/><circle cx="597.5" cy="1322.0" r="7.4"/><circle cx="559.8" cy="1372.2" r="7.4"/><circle cx="756.3" cy="1372.2" r="7.4"/><circle cx="747.2" cy="1381.4" r="7.4"/><circle cx="687.8" cy="1401.9" r="7.4"/><circle cx="781.4" cy="1414.5" r="7.4"/><circle cx="626.1" cy="1457.9" r="7.4"/><circle cx="565.5" cy="1488.7" r="7.4"/><circle cx="586.1" cy="1497.9" r="7.4"/><circle cx="537.0" cy="1504.7" r="7.4"/><circle cx="621.5" cy="1489.9" r="7.4"/><circle cx="593.0" cy="1515.0" r="7.4"/><circle cx="527.8" cy="1534.4" r="7.4"/><circle cx="569.0" cy="1537.9" r="7.4"/><circle cx="775.7" cy="1488.7" r="7.4"/><circle cx="766.6" cy="1520.7" r="7.4"/><circle cx="672.9" cy="1534.4" r="7.4"/><circle cx="751.7" cy="1565.3" r="7.4"/><circle cx="788.3" cy="1584.7" r="7.4"/><circle cx="855.7" cy="1534.4" r="7.4"/><circle cx="845.4" cy="1548.1" r="7.4"/><circle cx="878.5" cy="1553.9" r="7.4"/><circle cx="860.3" cy="1593.8" r="7.4"/><circle cx="555.3" cy="1603.0" r="7.4"/><circle cx="578.1" cy="1604.1" r="7.4"/><circle cx="630.7" cy="1601.8" r="7.4"/><circle cx="606.7" cy="1619.0" r="7.4"/><circle cx="732.3" cy="1633.8" r="7.4"/><circle cx="550.7" cy="1638.4" r="7.4"/><circle cx="884.3" cy="1636.1" r="7.4"/><circle cx="506.1" cy="1420.2" r="7.4"/><circle cx="531.3" cy="1299.1" r="7.4"/><circle cx="550.6" cy="1639.4" r="7.4"/><circle cx="507.3" cy="1686.1" r="7.4"/><circle cx="547.1" cy="1686.1" r="7.4"/><circle cx="616.1" cy="1688.5" r="7.4"/><circle cx="646.5" cy="1697.8" r="7.4"/><circle cx="648.9" cy="1693.2" r="7.4"/><circle cx="733.1" cy="1635.8" r="7.4"/><circle cx="830.1" cy="1662.7" r="7.4"/><circle cx="879.3" cy="1674.4" r="7.4"/><circle cx="867.6" cy="1675.6" r="7.4"/><circle cx="888.6" cy="1637.0" r="7.4"/><circle cx="869.9" cy="1717.7" r="7.4"/><circle cx="837.2" cy="1747.0" r="7.4"/><circle cx="692.1" cy="1718.9" r="7.4"/><circle cx="706.2" cy="1732.9" r="7.4"/><circle cx="736.6" cy="1725.9" r="7.4"/><circle cx="710.8" cy="1752.8" r="7.4"/><circle cx="700.3" cy="1778.5" r="7.4"/><circle cx="695.6" cy="1791.4" r="7.4"/><circle cx="665.2" cy="1747.0" r="7.4"/><circle cx="602.1" cy="1804.3" r="7.4"/><circle cx="509.7" cy="1810.1" r="7.4"/><circle cx="517.9" cy="1831.2" r="7.4"/><circle cx="658.2" cy="1826.5" r="7.4"/><circle cx="653.5" cy="1858.1" r="7.4"/><circle cx="611.4" cy="1872.1" r="7.4"/><circle cx="714.4" cy="1858.1" r="7.4"/><circle cx="719.0" cy="1881.5" r="7.4"/><circle cx="726.1" cy="1901.3" r="7.4"/><circle cx="817.3" cy="1768.0" r="7.4"/><circle cx="813.8" cy="1823.0" r="7.4"/><circle cx="807.9" cy="1840.5" r="7.4"/><circle cx="918.1" cy="1330.0" r="7.4"/><circle cx="939.8" cy="1343.7" r="7.4"/><circle cx="953.5" cy="1360.8" r="7.4"/><circle cx="1038.1" cy="1348.2" r="7.4"/><circle cx="1052.9" cy="1319.7" r="7.4"/><circle cx="1105.5" cy="1356.2" r="7.4"/><circle cx="1087.2" cy="1369.9" r="7.4"/><circle cx="1129.5" cy="1383.6" r="7.4"/><circle cx="1047.2" cy="1395.1" r="7.4"/><circle cx="1042.6" cy="1429.3" r="7.4"/><circle cx="951.3" cy="1438.5" r="7.4"/><circle cx="958.1" cy="1446.5" r="7.4"/><circle cx="905.6" cy="1431.6" r="7.4"/><circle cx="1024.4" cy="1463.6" r="7.4"/><circle cx="1034.6" cy="1503.6" r="7.4"/><circle cx="1091.8" cy="1512.7" r="7.4"/><circle cx="1073.5" cy="1523.0" r="7.4"/><circle cx="1124.9" cy="1484.2" r="7.4"/><circle cx="1171.7" cy="1440.8" r="7.4"/><circle cx="1191.1" cy="1430.5" r="7.4"/><circle cx="1200.3" cy="1470.5" r="7.4"/><circle cx="1251.7" cy="1401.9" r="7.4"/><circle cx="1162.6" cy="1509.3" r="7.4"/><circle cx="1218.6" cy="1526.4" r="7.4"/><circle cx="1247.1" cy="1521.9" r="7.4"/><circle cx="902.1" cy="1520.7" r="7.4"/><circle cx="894.1" cy="1534.4" r="7.4"/><circle cx="943.3" cy="1523.0" r="7.4"/><circle cx="962.7" cy="1532.1" r="7.4"/><circle cx="983.2" cy="1533.3" r="7.4"/><circle cx="996.9" cy="1573.3" r="7.4"/><circle cx="985.5" cy="1580.1" r="7.4"/><circle cx="926.1" cy="1595.0" r="7.4"/><circle cx="973.0" cy="1596.1" r="7.4"/><circle cx="1014.1" cy="1612.1" r="7.4"/><circle cx="1006.1" cy="1628.1" r="7.4"/><circle cx="1068.9" cy="1614.4" r="7.4"/><circle cx="1120.3" cy="1607.5" r="7.4"/><circle cx="1144.3" cy="1587.0" r="7.4"/><circle cx="1176.3" cy="1577.8" r="7.4"/><circle cx="1195.7" cy="1571.0" r="7.4"/><circle cx="1182.0" cy="1599.5" r="7.4"/><circle cx="1204.9" cy="1598.4" r="7.4"/><circle cx="1227.7" cy="1613.3" r="7.4"/><circle cx="1223.1" cy="1630.4" r="7.4"/><circle cx="888.4" cy="1637.2" r="7.4"/><circle cx="1115.8" cy="1561.8" r="7.4"/><circle cx="1266.5" cy="1550.4" r="7.4"/><circle cx="1241.4" cy="1644.1" r="7.4"/><circle cx="1081.5" cy="1299.1" r="7.4"/><circle cx="1138.6" cy="1299.1" r="7.4"/><circle cx="1150.0" cy="1299.1" r="7.4"/><circle cx="889.7" cy="1637.0" r="7.4"/><circle cx="930.6" cy="1651.1" r="7.4"/><circle cx="1006.6" cy="1632.3" r="7.4"/><circle cx="1019.5" cy="1656.9" r="7.4"/><circle cx="977.4" cy="1669.8" r="7.4"/><circle cx="892.0" cy="1673.3" r="7.4"/><circle cx="1055.8" cy="1667.4" r="7.4"/><circle cx="1065.1" cy="1674.4" r="7.4"/><circle cx="1186.8" cy="1665.1" r="7.4"/><circle cx="1209.0" cy="1662.7" r="7.4"/><circle cx="1224.2" cy="1634.7" r="7.4"/><circle cx="1242.9" cy="1647.5" r="7.4"/><circle cx="1166.9" cy="1686.1" r="7.4"/><circle cx="1157.5" cy="1690.8" r="7.4"/><circle cx="1255.8" cy="1768.0" r="7.4"/><circle cx="1028.9" cy="1808.9" r="7.4"/><circle cx="1233.5" cy="1805.4" r="7.4"/><circle cx="1237.0" cy="1837.0" r="7.4"/><circle cx="1079.2" cy="1875.6" r="7.4"/><circle cx="1261.6" cy="1863.9" r="7.4"/><circle cx="1263.9" cy="1878.0" r="7.4"/><circle cx="1268.6" cy="1667.4" r="7.4"/><circle cx="1298.1" cy="1342.5" r="7.4"/><circle cx="1306.1" cy="1380.2" r="7.4"/><circle cx="1331.3" cy="1424.8" r="7.4"/><circle cx="1340.4" cy="1462.5" r="7.4"/><circle cx="1326.7" cy="1501.3" r="7.4"/><circle cx="1322.1" cy="1535.6" r="7.4"/><circle cx="1270.7" cy="1549.3" r="7.4"/><circle cx="1289.0" cy="1575.6" r="7.4"/><circle cx="1350.7" cy="1561.8" r="7.4"/><circle cx="1359.8" cy="1592.7" r="7.4"/><circle cx="1293.6" cy="1622.4" r="7.4"/><circle cx="1564.3" cy="1339.1" r="7.4"/><circle cx="1555.2" cy="1406.5" r="7.4"/><circle cx="1583.7" cy="1412.2" r="7.4"/><circle cx="1559.7" cy="1471.6" r="7.4"/><circle cx="1549.4" cy="1488.7" r="7.4"/><circle cx="1546.0" cy="1501.3" r="7.4"/><circle cx="1541.4" cy="1521.9" r="7.4"/><circle cx="1576.9" cy="1553.9" r="7.4"/><circle cx="1531.2" cy="1567.6" r="7.4"/><circle cx="1469.5" cy="1579.0" r="7.4"/><circle cx="1477.5" cy="1548.1" r="7.4"/><circle cx="1535.7" cy="1598.4" r="7.4"/><circle cx="1570.0" cy="1600.7" r="7.4"/><circle cx="1275.5" cy="1667.4" r="7.4"/><circle cx="1420.6" cy="1665.1" r="7.4"/><circle cx="1447.5" cy="1660.4" r="7.4"/><circle cx="1498.9" cy="1682.6" r="7.4"/><circle cx="1414.7" cy="1703.7" r="7.4"/><circle cx="1426.4" cy="1699.0" r="7.4"/><circle cx="1466.2" cy="1706.0" r="7.4"/><circle cx="1494.2" cy="1710.7" r="7.4"/><circle cx="1317.6" cy="1727.1" r="7.4"/><circle cx="1355.1" cy="1727.1" r="7.4"/><circle cx="1378.5" cy="1738.8" r="7.4"/><circle cx="1341.0" cy="1806.6" r="7.4"/><circle cx="1363.2" cy="1789.1" r="7.4"/><circle cx="1367.9" cy="1800.8" r="7.4"/><circle cx="1389.0" cy="1817.1" r="7.4"/><circle cx="1393.7" cy="1828.8" r="7.4"/><circle cx="1403.0" cy="1805.4" r="7.4"/><circle cx="1405.4" cy="1817.1" r="7.4"/><circle cx="1452.1" cy="1826.5" r="7.4"/><circle cx="1463.8" cy="1835.8" r="7.4"/><circle cx="1522.3" cy="1756.3" r="7.4"/><circle cx="1529.3" cy="1754.0" r="7.4"/><circle cx="1503.6" cy="1775.0" r="7.4"/><circle cx="1522.3" cy="1779.7" r="7.4"/><circle cx="1513.0" cy="1793.7" r="7.4"/><circle cx="1508.3" cy="1863.9" r="7.4"/><circle cx="1397.2" cy="1896.7" r="7.4"/><circle cx="1456.8" cy="1909.5" r="7.4"/><circle cx="1613.5" cy="1814.8" r="7.4"/><circle cx="1608.9" cy="1861.6" r="7.4"/><circle cx="1618.2" cy="1892.0" r="7.4"/><circle cx="1634.6" cy="1655.7" r="7.4"/><circle cx="1622.9" cy="1669.8" r="7.4"/><circle cx="1636.9" cy="1676.8" r="7.4"/><circle cx="1627.6" cy="1704.9" r="7.4"/><circle cx="1639.3" cy="1727.1" r="7.4"/><circle cx="1645.1" cy="1758.7" r="7.4"/><circle cx="1267.3" cy="1875.6" r="7.4"/><circle cx="1648.6" cy="1651.1" r="7.4"/><circle cx="1864.3" cy="1295.7" r="7.4"/><circle cx="1886.0" cy="1309.4" r="7.4"/><circle cx="1850.6" cy="1336.8" r="7.4"/><circle cx="1846.1" cy="1348.2" r="7.4"/><circle cx="1990.0" cy="1334.5" r="7.4"/><circle cx="1857.5" cy="1395.1" r="7.4"/><circle cx="1841.5" cy="1413.3" r="7.4"/><circle cx="1910.0" cy="1440.8" r="7.4"/><circle cx="1970.6" cy="1435.0" r="7.4"/><circle cx="1816.4" cy="1447.6" r="7.4"/><circle cx="1807.2" cy="1456.8" r="7.4"/><circle cx="1754.7" cy="1464.7" r="7.4"/><circle cx="1871.2" cy="1478.5" r="7.4"/><circle cx="1922.6" cy="1464.7" r="7.4"/><circle cx="1801.5" cy="1488.7" r="7.4"/><circle cx="1792.4" cy="1501.3" r="7.4"/><circle cx="1726.1" cy="1511.6" r="7.4"/><circle cx="1698.7" cy="1526.4" r="7.4"/><circle cx="1665.6" cy="1543.6" r="7.4"/><circle cx="1722.7" cy="1547.0" r="7.4"/><circle cx="1810.6" cy="1525.3" r="7.4"/><circle cx="1834.6" cy="1542.4" r="7.4"/><circle cx="1881.5" cy="1525.3" r="7.4"/><circle cx="1966.0" cy="1524.1" r="7.4"/><circle cx="1999.1" cy="1501.3" r="7.4"/><circle cx="2003.7" cy="1516.2" r="7.4"/><circle cx="1993.4" cy="1551.6" r="7.4"/><circle cx="1777.5" cy="1552.7" r="7.4"/><circle cx="1787.8" cy="1573.3" r="7.4"/><circle cx="1688.4" cy="1574.4" r="7.4"/><circle cx="1659.9" cy="1592.7" r="7.4"/><circle cx="1760.4" cy="1589.3" r="7.4"/><circle cx="1769.5" cy="1596.1" r="7.4"/><circle cx="1703.3" cy="1606.4" r="7.4"/><circle cx="1895.2" cy="1581.3" r="7.4"/><circle cx="1875.8" cy="1589.3" r="7.4"/><circle cx="1890.6" cy="1600.7" r="7.4"/><circle cx="1955.7" cy="1592.7" r="7.4"/><circle cx="1683.8" cy="1622.4" r="7.4"/><circle cx="1750.1" cy="1625.8" r="7.4"/><circle cx="1942.0" cy="1619.0" r="7.4"/><circle cx="1961.4" cy="1625.8" r="7.4"/><circle cx="1919.2" cy="1637.2" r="7.4"/><circle cx="1946.6" cy="1644.1" r="7.4"/><circle cx="1652.0" cy="1652.2" r="7.4"/><circle cx="1712.8" cy="1655.7" r="7.4"/><circle cx="1745.6" cy="1652.2" r="7.4"/><circle cx="1797.0" cy="1652.2" r="7.4"/><circle cx="1825.1" cy="1658.1" r="7.4"/><circle cx="1820.4" cy="1678.0" r="7.4"/><circle cx="1740.9" cy="1693.2" r="7.4"/><circle cx="1918.7" cy="1637.0" r="7.4"/><circle cx="1946.8" cy="1646.4" r="7.4"/><circle cx="2007.6" cy="1658.1" r="7.4"/><circle cx="1951.4" cy="1737.6" r="7.4"/><circle cx="1694.1" cy="1754.0" r="7.4"/><circle cx="1648.5" cy="1759.8" r="7.4"/><circle cx="1928.0" cy="1775.0" r="7.4"/><circle cx="2016.9" cy="1768.0" r="7.4"/><circle cx="2019.3" cy="1793.7" r="7.4"/><circle cx="1708.2" cy="1798.4" r="7.4"/><circle cx="1670.7" cy="1808.9" r="7.4"/><circle cx="1733.9" cy="1824.2" r="7.4"/><circle cx="1981.8" cy="1842.9" r="7.4"/><circle cx="1674.2" cy="1875.6" r="7.4"/><circle cx="1932.7" cy="1913.0" r="7.4"/><circle cx="2026.3" cy="1921.2" r="7.4"/><circle cx="1750.3" cy="1631.2" r="7.4"/><circle cx="1960.8" cy="1631.2" r="7.4"/><circle cx="2084.4" cy="1395.1" r="7.4"/><circle cx="2086.7" cy="1401.9" r="7.4"/><circle cx="2326.6" cy="1294.5" r="7.4"/><circle cx="2246.6" cy="1366.5" r="7.4"/><circle cx="2230.6" cy="1371.1" r="7.4"/><circle cx="2308.3" cy="1363.1" r="7.4"/><circle cx="2368.8" cy="1334.5" r="7.4"/><circle cx="2364.3" cy="1397.4" r="7.4"/><circle cx="2351.7" cy="1438.5" r="7.4"/><circle cx="2363.1" cy="1439.6" r="7.4"/><circle cx="2376.8" cy="1443.0" r="7.4"/><circle cx="2063.8" cy="1471.6" r="7.4"/><circle cx="2054.7" cy="1479.6" r="7.4"/><circle cx="2106.1" cy="1472.7" r="7.4"/><circle cx="2101.5" cy="1499.0" r="7.4"/><circle cx="2130.1" cy="1519.6" r="7.4"/><circle cx="2176.9" cy="1512.7" r="7.4"/><circle cx="2045.6" cy="1539.0" r="7.4"/><circle cx="2077.5" cy="1544.7" r="7.4"/><circle cx="2050.1" cy="1552.7" r="7.4"/><circle cx="2073.0" cy="1568.7" r="7.4"/><circle cx="2354.0" cy="1477.3" r="7.4"/><circle cx="2397.4" cy="1476.2" r="7.4"/><circle cx="2390.5" cy="1495.6" r="7.4"/><circle cx="2322.0" cy="1516.2" r="7.4"/><circle cx="2335.7" cy="1559.6" r="7.4"/><circle cx="2388.3" cy="1564.1" r="7.4"/><circle cx="2267.2" cy="1579.0" r="7.4"/><circle cx="2287.7" cy="1584.7" r="7.4"/><circle cx="2294.6" cy="1577.8" r="7.4"/><circle cx="2200.9" cy="1606.4" r="7.4"/><circle cx="2092.4" cy="1619.0" r="7.4"/><circle cx="2059.3" cy="1628.1" r="7.4"/><circle cx="2041.0" cy="1644.1" r="7.4"/><circle cx="2041.4" cy="1645.2" r="7.4"/><circle cx="2060.1" cy="1632.3" r="7.4"/><circle cx="2139.6" cy="1687.3" r="7.4"/><circle cx="2164.2" cy="1681.5" r="7.4"/><circle cx="2219.2" cy="1667.4" r="7.4"/><circle cx="2214.5" cy="1686.1" r="7.4"/><circle cx="2298.7" cy="1681.5" r="7.4"/><circle cx="2331.4" cy="1660.4" r="7.4"/><circle cx="2382.9" cy="1653.4" r="7.4"/><circle cx="2116.2" cy="1730.6" r="7.4"/><circle cx="2153.7" cy="1736.4" r="7.4"/><circle cx="2166.5" cy="1752.8" r="7.4"/><circle cx="2209.8" cy="1724.7" r="7.4"/><circle cx="2237.9" cy="1713.0" r="7.4"/><circle cx="2261.3" cy="1734.1" r="7.4"/><circle cx="2270.6" cy="1750.5" r="7.4"/><circle cx="2317.4" cy="1714.2" r="7.4"/><circle cx="2312.7" cy="1730.6" r="7.4"/><circle cx="2034.4" cy="1768.0" r="7.4"/><circle cx="2032.0" cy="1796.1" r="7.4"/><circle cx="2111.5" cy="1780.9" r="7.4"/><circle cx="2097.5" cy="1794.9" r="7.4"/><circle cx="2144.3" cy="1772.7" r="7.4"/><circle cx="2172.4" cy="1783.2" r="7.4"/><circle cx="2195.8" cy="1790.2" r="7.4"/><circle cx="2223.8" cy="1775.0" r="7.4"/><circle cx="2125.6" cy="1805.4" r="7.4"/><circle cx="2149.0" cy="1832.3" r="7.4"/><circle cx="2133.8" cy="1842.9" r="7.4"/><circle cx="2191.1" cy="1830.0" r="7.4"/><circle cx="2253.1" cy="1852.2" r="7.4"/><circle cx="2275.3" cy="1786.7" r="7.4"/><circle cx="2280.0" cy="1800.8" r="7.4"/><circle cx="2346.6" cy="1800.8" r="7.4"/><circle cx="2340.8" cy="1831.2" r="7.4"/><circle cx="2186.4" cy="1880.3" r="7.4"/><circle cx="2028.5" cy="1922.4" r="7.4"/><circle cx="2303.4" cy="1955.1" r="7.4"/><circle cx="452.0" cy="1297.0" r="7.4"/><circle cx="531.0" cy="1297.0" r="7.4"/><circle cx="1081.0" cy="1297.0" r="7.4"/><circle cx="1140.0" cy="1297.0" r="7.4"/><circle cx="1152.0" cy="1297.0" r="7.4"/><circle cx="1864.0" cy="1297.0" r="7.4"/><circle cx="2327.0" cy="1297.0" r="7.4"/><circle cx="325.0" cy="2041.5" r="7.4"/><circle cx="332.0" cy="2041.5" r="7.4"/><circle cx="339.0" cy="2041.5" r="7.4"/><circle cx="355.0" cy="2041.5" r="7.4"/><circle cx="371.0" cy="2041.5" r="7.4"/><circle cx="513.0" cy="2041.5" r="7.4"/><circle cx="520.0" cy="2041.5" r="7.4"/><circle cx="574.0" cy="2041.5" r="7.4"/><circle cx="672.0" cy="2041.5" r="7.4"/><circle cx="679.0" cy="2041.5" r="7.4"/><circle cx="745.0" cy="2041.5" r="7.4"/><circle cx="761.0" cy="2041.5" r="7.4"/><circle cx="777.0" cy="2041.5" r="7.4"/><circle cx="794.0" cy="2041.5" r="7.4"/><circle cx="801.0" cy="2041.5" r="7.4"/><circle cx="843.0" cy="2041.5" r="7.4"/><circle cx="850.0" cy="2041.5" r="7.4"/><circle cx="857.0" cy="2041.5" r="7.4"/><circle cx="989.0" cy="2041.5" r="7.4"/><circle cx="1098.0" cy="2041.5" r="7.4"/><circle cx="1105.0" cy="2041.5" r="7.4"/><circle cx="1214.0" cy="2041.5" r="7.4"/><circle cx="1279.0" cy="2041.5" r="7.4"/><circle cx="1314.0" cy="2041.5" r="7.4"/><circle cx="1372.0" cy="2041.5" r="7.4"/><circle cx="1379.0" cy="2041.5" r="7.4"/><circle cx="1386.0" cy="2041.5" r="7.4"/><circle cx="1426.0" cy="2041.5" r="7.4"/><circle cx="1433.0" cy="2041.5" r="7.4"/><circle cx="1440.0" cy="2041.5" r="7.4"/><circle cx="1481.0" cy="2041.5" r="7.4"/><circle cx="1488.0" cy="2041.5" r="7.4"/><circle cx="1589.0" cy="2041.5" r="7.4"/><circle cx="1596.0" cy="2041.5" r="7.4"/><circle cx="1603.0" cy="2041.5" r="7.4"/><circle cx="1655.0" cy="2041.5" r="7.4"/><circle cx="1900.0" cy="2041.5" r="7.4"/><circle cx="1907.0" cy="2041.5" r="7.4"/><circle cx="1914.0" cy="2041.5" r="7.4"/><circle cx="2233.0" cy="2041.5" r="7.4"/><circle cx="2402.0" cy="2041.5" r="7.4"/></g>
</g>
<text x="105.5" y="2062.0" font-size="52.5" text-anchor="end" fill="#262626">0</text>
<text x="105.5" y="1913.7" font-size="52.5" text-anchor="end" fill="#262626">0.2</text>
<text x="105.5" y="1764.7" font-size="52.5" text-anchor="end" fill="#262626">0.4</text>
<text x="105.5" y="1617.2" font-size="52.5" text-anchor="end" fill="#262626">0.6</text>
<text x="105.5" y="1469.0" font-size="52.5" text-anchor="end" fill="#262626">0.8</text>
<text x="105.5" y="1320.8" font-size="52.5" text-anchor="end" fill="#262626">1</text>
<text x="274.5" y="2117.3" font-size="52.5" text-anchor="middle" fill="#262626">10000</text>
<text x="470.1" y="2117.3" font-size="52.5" text-anchor="middle" fill="#262626">10500</text>
<text x="665.7" y="2117.3" font-size="52.5" text-anchor="middle" fill="#262626">11000</text>
<text x="861.3" y="2117.3" font-size="52.5" text-anchor="middle" fill="#262626">11500</text>
<text x="1056.9" y="2117.3" font-size="52.5" text-anchor="middle" fill="#262626">12000</text>
<text x="1252.5" y="2117.3" font-size="52.5" text-anchor="middle" fill="#262626">12500</text>
<text x="1448.1" y="2117.3" font-size="52.5" text-anchor="middle" fill="#262626">13000</text>
<text x="1643.7" y="2117.3" font-size="52.5" text-anchor="middle" fill="#262626">13500</text>
<text x="1839.3" y="2117.3" font-size="52.5" text-anchor="middle" fill="#262626">14000</text>
<text x="2034.9" y="2117.3" font-size="52.5" text-anchor="middle" fill="#262626">14500</text>
<text x="2230.5" y="2117.3" font-size="52.5" text-anchor="middle" fill="#262626">15000</text>
<text x="1264" y="2193.4" font-size="57.5" text-anchor="middle" fill="#262626">Hours</text>
<text x="1265.6" y="1198.8" font-size="57.5" font-weight="bold" text-anchor="middle" fill="#000">Weight in Sensor Fusion</text>
<rect x="111" y="1238.2" width="334.8" height="207.5" fill="#fff" stroke="#262626" stroke-width="2.7"/>
<path d="M202.6 1253L220 1276L202.6 1299.5L185.2 1276Z" fill="#d6d3d0" stroke="#858585" stroke-width="2.8"/>
<circle cx="204.3" cy="1342.4" r="16.5" fill="#0000ff"/>
<rect x="189" y="1395" width="28" height="28" fill="#c800c8" stroke="#8a2ab0" stroke-width="1.5"/>
<text x="291" y="1296" font-size="47.3" fill="#000">Online</text>
<text x="291" y="1360" font-size="47.3" fill="#000">Lab</text>
<text x="291" y="1425.7" font-size="47.3" fill="#000">PLS</text>
</svg>
</body></html>
